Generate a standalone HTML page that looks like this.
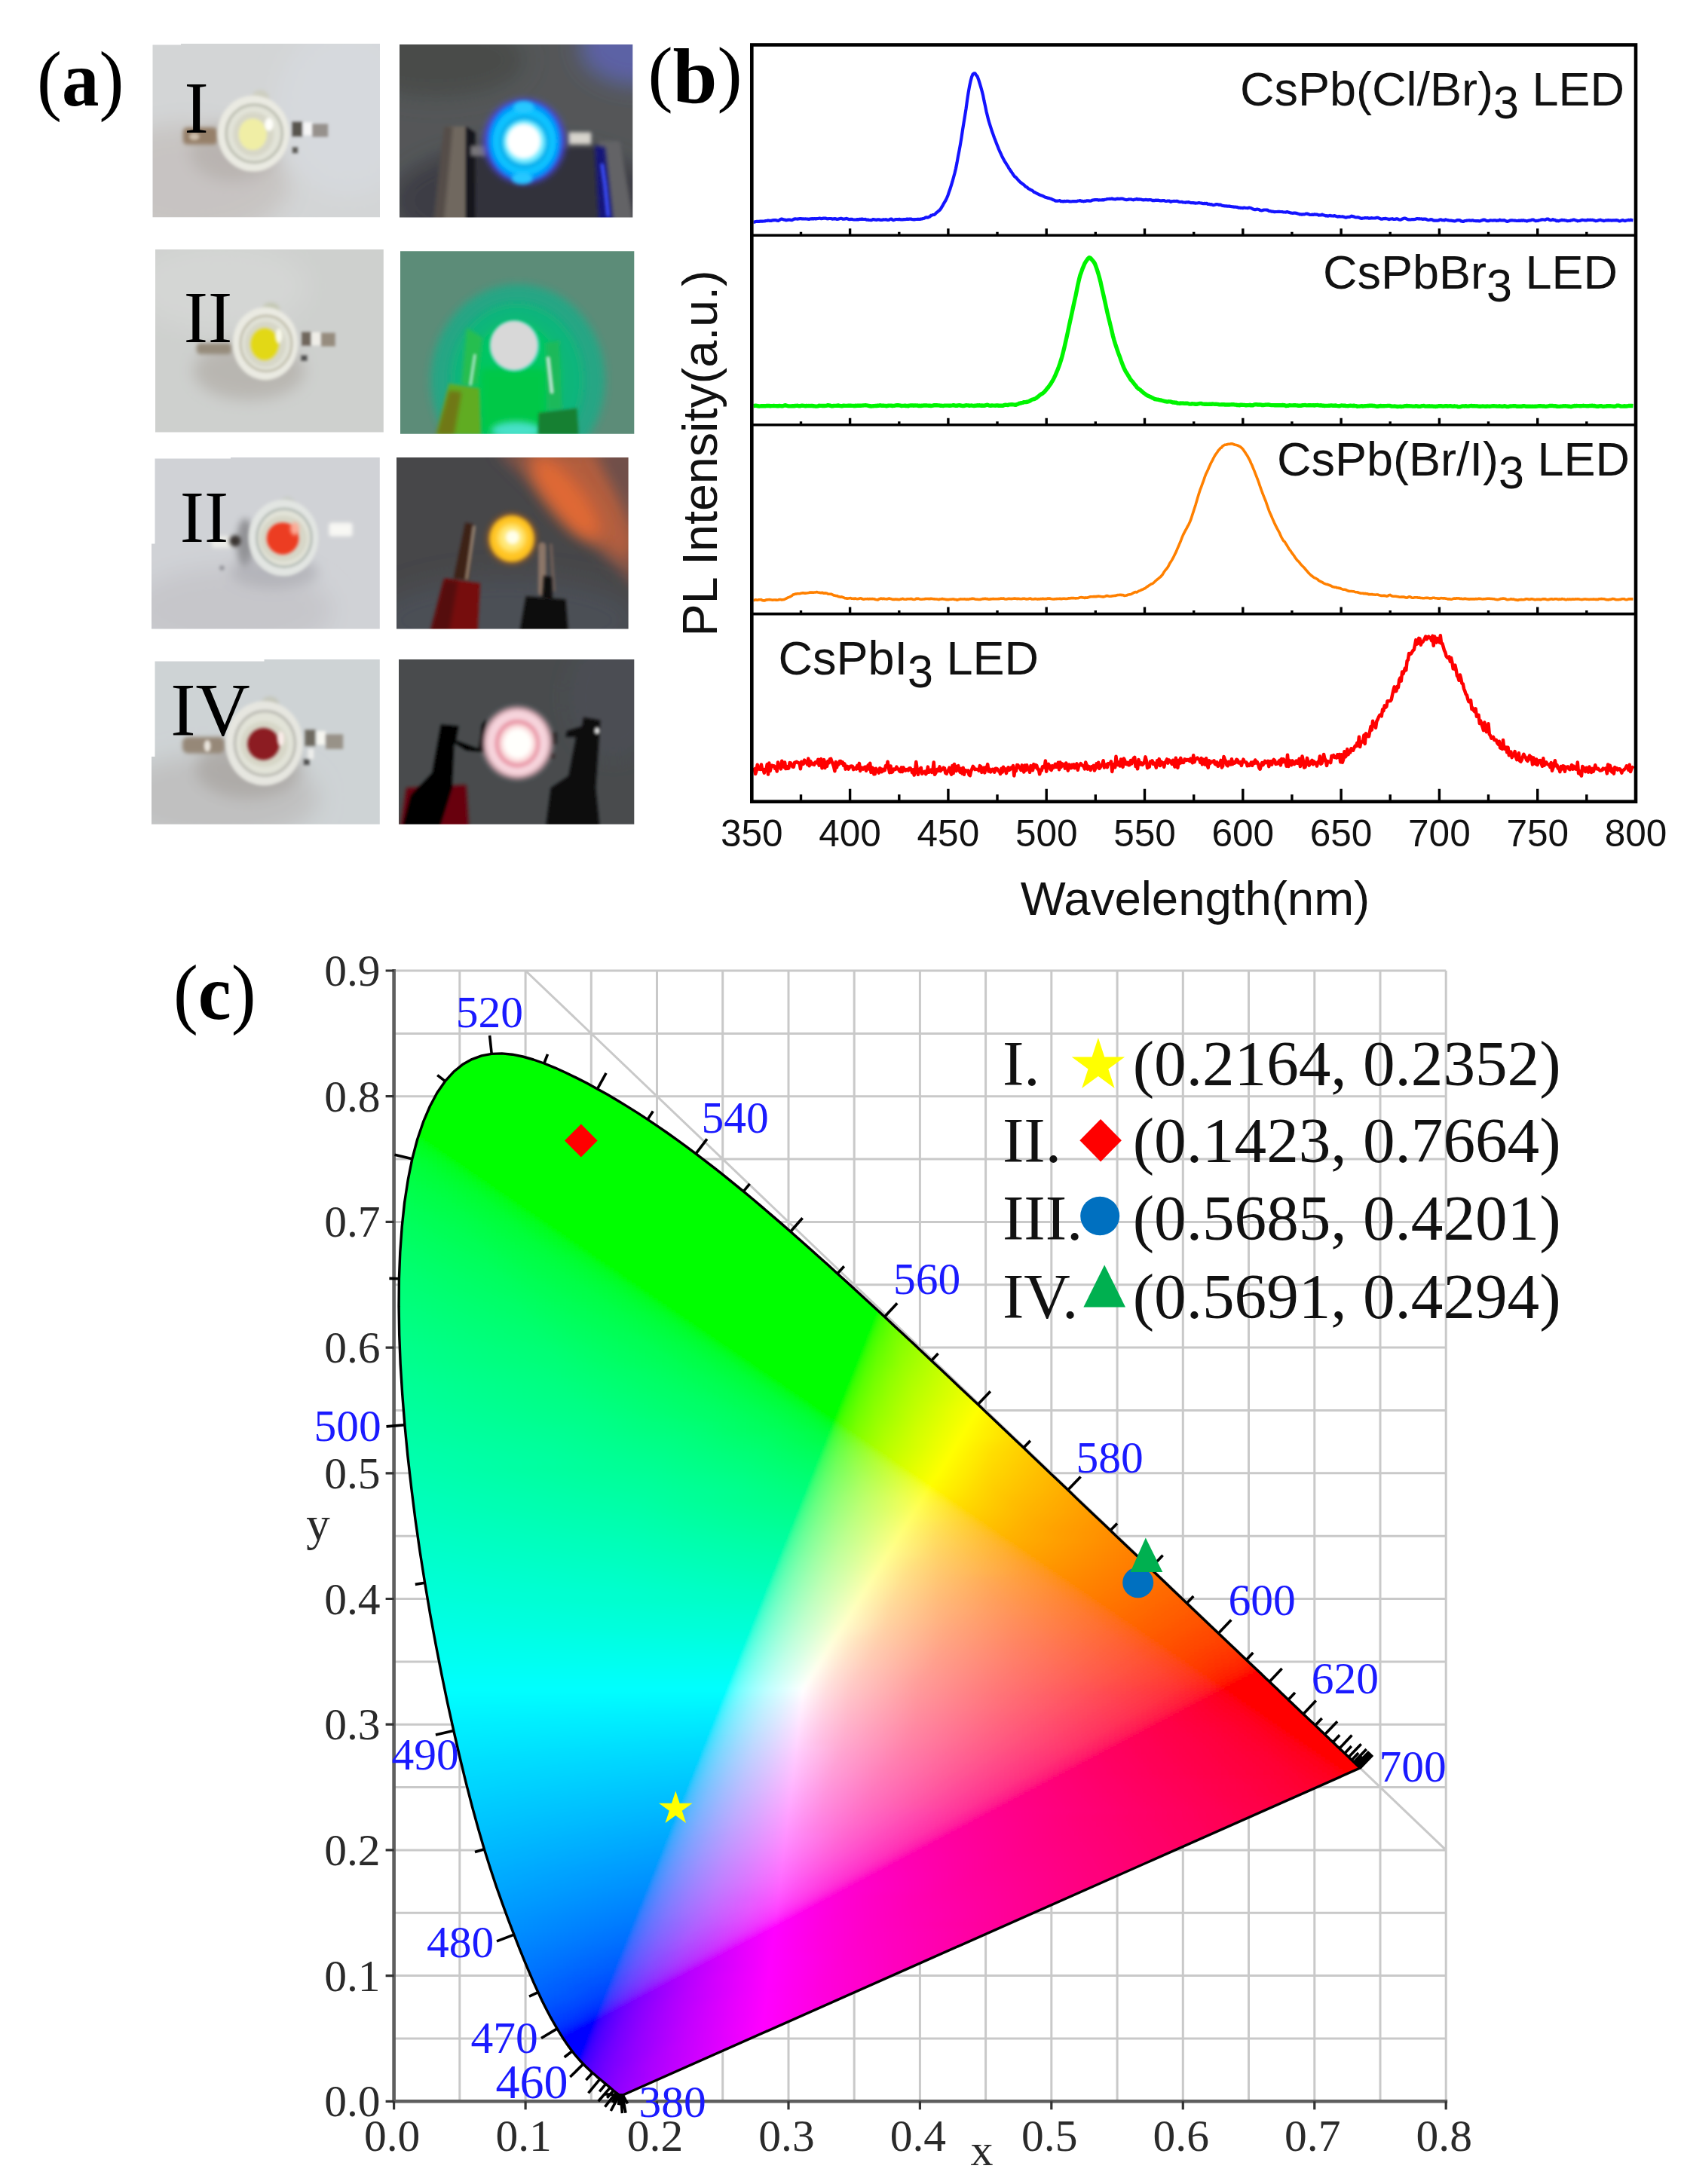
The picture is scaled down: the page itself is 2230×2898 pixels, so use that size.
<!DOCTYPE html>
<html lang="en"><head><meta charset="utf-8"><title>Figure</title>
<style>html,body{margin:0;padding:0;background:#fff}svg{display:block}</style></head>
<body>
<svg width="2230" height="2898" viewBox="0 0 2230 2898">
<rect width="2230" height="2898" fill="#fff"/>
<defs><filter id="B5" filterUnits="userSpaceOnUse" x="-300" y="-300" width="2300" height="1900"><feGaussianBlur stdDeviation="5"/></filter><filter id="B6" filterUnits="userSpaceOnUse" x="-300" y="-300" width="2300" height="1900"><feGaussianBlur stdDeviation="6"/></filter><filter id="B7" filterUnits="userSpaceOnUse" x="-300" y="-300" width="2300" height="1900"><feGaussianBlur stdDeviation="7"/></filter><filter id="B8" filterUnits="userSpaceOnUse" x="-300" y="-300" width="2300" height="1900"><feGaussianBlur stdDeviation="8"/></filter><filter id="B9" filterUnits="userSpaceOnUse" x="-300" y="-300" width="2300" height="1900"><feGaussianBlur stdDeviation="9"/></filter><filter id="B10" filterUnits="userSpaceOnUse" x="-300" y="-300" width="2300" height="1900"><feGaussianBlur stdDeviation="10"/></filter><filter id="B12" filterUnits="userSpaceOnUse" x="-300" y="-300" width="2300" height="1900"><feGaussianBlur stdDeviation="12"/></filter><filter id="B14" filterUnits="userSpaceOnUse" x="-300" y="-300" width="2300" height="1900"><feGaussianBlur stdDeviation="14"/></filter><filter id="B16" filterUnits="userSpaceOnUse" x="-300" y="-300" width="2300" height="1900"><feGaussianBlur stdDeviation="16"/></filter><filter id="B22" filterUnits="userSpaceOnUse" x="-300" y="-300" width="2300" height="1900"><feGaussianBlur stdDeviation="22"/></filter><filter id="B26" filterUnits="userSpaceOnUse" x="-300" y="-300" width="2300" height="1900"><feGaussianBlur stdDeviation="26"/></filter><filter id="B28" filterUnits="userSpaceOnUse" x="-300" y="-300" width="2300" height="1900"><feGaussianBlur stdDeviation="28"/></filter><filter id="B30" filterUnits="userSpaceOnUse" x="-300" y="-300" width="2300" height="1900"><feGaussianBlur stdDeviation="30"/></filter><filter id="B40" filterUnits="userSpaceOnUse" x="-300" y="-300" width="2300" height="1900"><feGaussianBlur stdDeviation="40"/></filter><filter id="B45" filterUnits="userSpaceOnUse" x="-300" y="-300" width="2300" height="1900"><feGaussianBlur stdDeviation="45"/></filter><filter id="B50" filterUnits="userSpaceOnUse" x="-300" y="-300" width="2300" height="1900"><feGaussianBlur stdDeviation="50"/></filter><filter id="B55" filterUnits="userSpaceOnUse" x="-300" y="-300" width="2300" height="1900"><feGaussianBlur stdDeviation="55"/></filter><filter id="B60" filterUnits="userSpaceOnUse" x="-300" y="-300" width="2300" height="1900"><feGaussianBlur stdDeviation="60"/></filter><filter id="B70" filterUnits="userSpaceOnUse" x="-300" y="-300" width="2300" height="1900"><feGaussianBlur stdDeviation="70"/></filter><filter id="B80" filterUnits="userSpaceOnUse" x="-300" y="-300" width="2300" height="1900"><feGaussianBlur stdDeviation="80"/></filter></defs><g id="photos"><clipPath id="pc1"><rect x="202.5" y="58" width="301.5" height="230.3"/></clipPath><g clip-path="url(#pc1)"><g transform="translate(195,50) scale(0.19037)" filter="url(#B7)"><rect x="0" y="0" width="1700" height="1300" fill="#d3d5d6"/>
<ellipse cx="300" cy="1000" rx="700" ry="400" fill="#c6c2c0" filter="url(#B80)" opacity="0.9"/>
<ellipse cx="1400" cy="500" rx="500" ry="600" fill="#d6d9dd" filter="url(#B80)"/>
<ellipse cx="600" cy="800" rx="300" ry="200" fill="#b0aaa6" filter="url(#B50)" opacity="0.6"/>
<rect x="250" y="625" width="240" height="120" fill="#968069" filter="url(#B10)" rx="30"/>
<ellipse cx="330" cy="690" rx="35" ry="25" fill="#cdbeaa" filter="url(#B8)"/>
<ellipse cx="790" cy="420" rx="60" ry="55" fill="#cdcec0" filter="url(#B10)"/>
<ellipse cx="740" cy="885" rx="50" ry="40" fill="#c4c4b6" filter="url(#B10)"/>
<ellipse cx="742" cy="668" rx="250" ry="265" fill="#eaeae2" filter="url(#B8)"/>
<ellipse cx="747" cy="668" rx="195" ry="201.4" fill="#e2e3d8" stroke="#c4c6ba" stroke-width="22.5" filter="url(#B6)"/>
<ellipse cx="742" cy="673" rx="142.1" ry="154" fill="#d7d7c8" filter="url(#B8)"/>
<ellipse cx="737" cy="673" rx="98" ry="110" fill="#f0eea5" filter="url(#B8)"/>
<ellipse cx="850" cy="605" rx="30" ry="45" fill="#fffffa" filter="url(#B8)"/>
<rect x="1010" y="585" width="72" height="105" fill="#58544e" filter="url(#B6)"/>
<rect x="1090" y="590" width="62" height="90" fill="#f6f6f6" filter="url(#B6)"/>
<rect x="1152" y="600" width="110" height="92" fill="#96918c" filter="url(#B6)"/>
<rect x="1012" y="762" width="40" height="44" fill="#5c5a56" filter="url(#B5)"/></g></g>
<clipPath id="pc2"><rect x="530" y="59" width="309.3" height="229.5"/></clipPath><g clip-path="url(#pc2)"><g transform="translate(520,50) scale(0.19631)" filter="url(#B7)"><rect x="0" y="0" width="1700" height="1300" fill="#545759"/>
<ellipse cx="300" cy="150" rx="600" ry="250" fill="#4a4c4a" filter="url(#B80)"/>
<ellipse cx="1650" cy="60" rx="380" ry="260" fill="#5c62a5" filter="url(#B70)"/>
<ellipse cx="900" cy="1100" rx="900" ry="380" fill="#3c3e44" filter="url(#B70)"/>
<polygon points="560,770 1380,740 1400,1300 540,1300" fill="#30323a" filter="url(#B14)"/>
<polygon points="385,600 505,600 505,1300 300,1300" fill="#70675e" filter="url(#B8)"/>
<polygon points="350,600 410,600 345,1300 275,1300" fill="#544e48" filter="url(#B10)"/>
<polygon points="500,600 565,640 560,1300 500,1300" fill="#12121c" filter="url(#B8)"/>
<polygon points="1395,700 1540,700 1640,1300 1480,1300" fill="#646466" filter="url(#B10)"/>
<polygon points="1370,730 1440,740 1500,1300 1400,1300" fill="#121878" filter="url(#B10)"/>
<polyline points="1420,860 1440,1000 1460,1200" fill="none" stroke="#3c50ff" stroke-width="22" stroke-linecap="round" stroke-linejoin="round" filter="url(#B8)"/>
<rect x="1195" y="640" width="150" height="80" fill="#d7d4cd" filter="url(#B10)"/>
<rect x="530" y="730" width="110" height="70" fill="#78767a" filter="url(#B12)"/>
<ellipse cx="895" cy="700" rx="275" ry="285" fill="#4646e1" filter="url(#B22)"/>
<ellipse cx="895" cy="700" rx="245" ry="265" fill="#0096fa" filter="url(#B14)"/>
<ellipse cx="895" cy="700" rx="215" ry="230" fill="#0ac3ff" filter="url(#B10)"/>
<ellipse cx="890" cy="470" rx="70" ry="40" fill="#28c8ff" filter="url(#B10)"/>
<ellipse cx="880" cy="950" rx="70" ry="40" fill="#28c8ff" filter="url(#B10)"/>
<ellipse cx="895" cy="705" rx="170" ry="180" fill="#00aaeb" filter="url(#B10)"/>
<ellipse cx="895" cy="705" rx="145" ry="150" fill="#78ebff" filter="url(#B14)"/>
<ellipse cx="890" cy="700" rx="115" ry="118" fill="#ffffff" filter="url(#B12)"/></g></g>
<clipPath id="pc3"><rect x="206" y="331" width="302.8" height="242.5"/></clipPath><g clip-path="url(#pc3)"><g transform="translate(195,322) scale(0.19335)" filter="url(#B7)"><rect x="0" y="0" width="1700" height="1400" fill="#ced0ce"/>
<ellipse cx="500" cy="300" rx="600" ry="300" fill="#d4d6d4" filter="url(#B80)"/>
<ellipse cx="700" cy="880" rx="380" ry="200" fill="#b0aca6" filter="url(#B50)" opacity="0.7"/>
<rect x="340" y="690" width="240" height="75" fill="#968c7c" filter="url(#B10)" rx="25"/>
<ellipse cx="850" cy="460" rx="60" ry="50" fill="#c4c8b4" filter="url(#B10)"/>
<ellipse cx="815" cy="900" rx="50" ry="40" fill="#bec0ac" filter="url(#B10)"/>
<ellipse cx="812" cy="692" rx="225" ry="250" fill="#eaeae2" filter="url(#B8)"/>
<ellipse cx="817" cy="692" rx="175.5" ry="190" fill="#e2e3d8" stroke="#c8c6b6" stroke-width="20.25" filter="url(#B6)"/>
<ellipse cx="812" cy="697" rx="142.1" ry="156.8" fill="#d7d7c8" filter="url(#B8)"/>
<ellipse cx="807" cy="697" rx="98" ry="112" fill="#e2d816" filter="url(#B8)"/>
<ellipse cx="905" cy="640" rx="22" ry="50" fill="#fafaeb" filter="url(#B8)"/>
<rect x="1060" y="612" width="65" height="96" fill="#70665c" filter="url(#B6)"/>
<rect x="1130" y="615" width="60" height="90" fill="#f0eee8" filter="url(#B6)"/>
<rect x="1195" y="618" width="97" height="94" fill="#968c7e" filter="url(#B6)"/>
<rect x="1056" y="772" width="44" height="40" fill="#505050" filter="url(#B5)"/></g></g>
<clipPath id="pc4"><rect x="531" y="333.3" width="310.3" height="242.4"/></clipPath><g clip-path="url(#pc4)"><g transform="translate(520,322) scale(0.19631)" filter="url(#B7)"><rect x="0" y="0" width="1700" height="1400" fill="#5c8c78"/>
<ellipse cx="850" cy="930" rx="590" ry="650" fill="#26a684" filter="url(#B26)"/>
<ellipse cx="845" cy="930" rx="450" ry="520" fill="#0eb67a" filter="url(#B26)"/>
<ellipse cx="835" cy="900" rx="300" ry="360" fill="#00c664" filter="url(#B30)"/>
<polygon points="600,850 1050,850 1040,1300 590,1300" fill="#00c846" filter="url(#B28)"/>
<ellipse cx="840" cy="1270" rx="170" ry="60" fill="#46e1c8" filter="url(#B22)"/>
<polygon points="505,575 610,640 575,960 470,960" fill="#28be50" filter="url(#B10)"/>
<polygon points="1040,680 1130,660 1150,1130 1050,1130" fill="#1eb95a" filter="url(#B10)"/>
<polyline points="560,760 530,960" fill="none" stroke="#bef0dc" stroke-width="14" stroke-linecap="round" stroke-linejoin="round" filter="url(#B6)"/>
<polyline points="1055,780 1080,1010" fill="none" stroke="#cdebe1" stroke-width="20" stroke-linecap="round" stroke-linejoin="round" filter="url(#B6)"/>
<polygon points="385,952 590,985 600,1300 300,1300" fill="#60ac22" filter="url(#B8)"/>
<polygon points="385,1000 470,1010 420,1300 300,1300" fill="#707818" filter="url(#B14)"/>
<polygon points="990,1150 1250,1118 1262,1300 985,1300" fill="#168030" filter="url(#B8)"/>
<ellipse cx="828" cy="698" rx="168" ry="172" fill="#3cd7be" filter="url(#B8)"/>
<ellipse cx="825" cy="695" rx="158" ry="164" fill="#d8d8d8" filter="url(#B6)"/></g></g>
<clipPath id="pc5"><rect x="201" y="607" width="302.8" height="227.5"/></clipPath><g clip-path="url(#pc5)"><g transform="translate(190,597) scale(0.19335)" filter="url(#B7)"><rect x="0" y="0" width="1700" height="1300" fill="#d0d2d6"/>
<ellipse cx="600" cy="1100" rx="700" ry="300" fill="#c6c6ca" filter="url(#B80)"/>
<ellipse cx="700" cy="640" rx="60" ry="170" fill="#78787c" filter="url(#B22)" opacity="0.7"/>
<ellipse cx="900" cy="840" rx="300" ry="110" fill="#acacb2" filter="url(#B40)" opacity="0.7"/>
<rect x="470" y="590" width="140" height="82" fill="#ecece8" filter="url(#B10)" rx="20"/>
<ellipse cx="630" cy="625" rx="40" ry="40" fill="#3a3632" filter="url(#B10)"/>
<rect x="1275" y="500" width="160" height="92" fill="#f8f8f4" filter="url(#B10)" rx="15"/>
<ellipse cx="990" cy="365" rx="50" ry="45" fill="#c8ccc6" filter="url(#B10)"/>
<ellipse cx="980" cy="820" rx="45" ry="40" fill="#bec2be" filter="url(#B10)"/>
<ellipse cx="962" cy="603" rx="240" ry="262" fill="#e2e5e2" filter="url(#B8)"/>
<ellipse cx="967" cy="603" rx="187.2" ry="199.12" fill="#e2e3d8" stroke="#bec4be" stroke-width="21.6" filter="url(#B6)"/>
<ellipse cx="962" cy="608" rx="162.4" ry="156.8" fill="#d7d7c8" filter="url(#B8)"/>
<ellipse cx="957" cy="608" rx="112" ry="112" fill="#ec3e20" filter="url(#B8)"/>
<ellipse cx="1040" cy="540" rx="30" ry="45" fill="#fcaa96" filter="url(#B10)"/>
<ellipse cx="540" cy="810" rx="18" ry="18" fill="#96969c" filter="url(#B8)"/></g></g>
<clipPath id="pc6"><rect x="526" y="607" width="307.6" height="227.6"/></clipPath><g clip-path="url(#pc6)"><g transform="translate(515,597) scale(0.19631)" filter="url(#B7)"><rect x="0" y="0" width="1700" height="1300" fill="#464649"/>
<ellipse cx="800" cy="1150" rx="900" ry="300" fill="#4c5054" filter="url(#B80)"/>
<polygon points="720,0 1700,0 1700,950" fill="#845446" filter="url(#B45)"/>
<polygon points="900,0 1450,0 1660,600 1620,760 1250,520" fill="#be603c" filter="url(#B50)" opacity="0.8"/>
<ellipse cx="1200" cy="330" rx="340" ry="120" fill="#ec6c32" filter="url(#B55)" opacity="0.8" transform="rotate(52 1200 330)"/>
<polygon points="1380,0 1700,0 1700,520" fill="#70504a" filter="url(#B50)"/>
<polygon points="520,490 575,500 545,880 440,870" fill="#3e2216" filter="url(#B8)"/>
<polyline points="580,520 530,870" fill="none" stroke="#a08c78" stroke-width="18" stroke-linecap="round" stroke-linejoin="round" filter="url(#B8)"/>
<polygon points="380,868 622,900 602,1300 270,1300" fill="#760c0c" filter="url(#B9)"/>
<polygon points="380,880 470,890 400,1300 270,1300" fill="#540808" filter="url(#B14)"/>
<polyline points="1040,650 1040,960" fill="none" stroke="#8c7668" stroke-width="50" stroke-linecap="round" stroke-linejoin="round" filter="url(#B9)"/>
<polyline points="1100,640 1120,950" fill="none" stroke="#78645a" stroke-width="16" stroke-linecap="round" stroke-linejoin="round" filter="url(#B8)"/>
<polygon points="1050,850 1105,860 1110,1010 1040,1000" fill="#0e0a0a" filter="url(#B8)"/>
<polygon points="930,988 1200,1010 1222,1300 875,1300" fill="#100a0a" filter="url(#B9)"/>
<ellipse cx="835" cy="600" rx="165" ry="170" fill="#aa641e" filter="url(#B22)" opacity="0.8"/>
<ellipse cx="835" cy="600" rx="150" ry="155" fill="#ffc422" filter="url(#B12)"/>
<ellipse cx="835" cy="595" rx="95" ry="95" fill="#ffe878" filter="url(#B16)"/>
<ellipse cx="840" cy="590" rx="48" ry="48" fill="#ffffeb" filter="url(#B12)"/></g></g>
<clipPath id="pc7"><rect x="201" y="875" width="302.8" height="218.7"/></clipPath><g clip-path="url(#pc7)"><g transform="translate(190,866) scale(0.19335)" filter="url(#B7)"><rect x="0" y="0" width="1700" height="1300" fill="#ced3d5"/>
<ellipse cx="500" cy="1000" rx="700" ry="300" fill="#c0c0c0" filter="url(#B80)"/>
<ellipse cx="720" cy="800" rx="360" ry="200" fill="#a8a4a0" filter="url(#B50)" opacity="0.75"/>
<rect x="268" y="578" width="292" height="114" fill="#968878" filter="url(#B12)" rx="40"/>
<ellipse cx="440" cy="640" rx="22" ry="40" fill="#ebe6de" filter="url(#B8)"/>
<ellipse cx="870" cy="350" rx="60" ry="50" fill="#c4c6ba" filter="url(#B10)"/>
<ellipse cx="800" cy="850" rx="45" ry="38" fill="#babcb0" filter="url(#B10)"/>
<ellipse cx="830" cy="622" rx="265" ry="290" fill="#e6e6e0" filter="url(#B8)"/>
<ellipse cx="835" cy="622" rx="206.7" ry="220.4" fill="#e2e3d8" stroke="#c4c4bc" stroke-width="23.85" filter="url(#B6)"/>
<ellipse cx="830" cy="627" rx="162.4" ry="156.8" fill="#d7d7c8" filter="url(#B8)"/>
<ellipse cx="825" cy="627" rx="112" ry="112" fill="#8c1a20" filter="url(#B8)"/>
<ellipse cx="945" cy="590" rx="22" ry="50" fill="#faebe8" filter="url(#B8)"/>
<rect x="1108" y="528" width="74" height="114" fill="#6e6a60" filter="url(#B7)"/>
<rect x="1190" y="538" width="62" height="94" fill="#f6f6f0" filter="url(#B7)"/>
<rect x="1252" y="560" width="120" height="102" fill="#989288" filter="url(#B8)"/>
<rect x="1100" y="730" width="42" height="42" fill="#505050" filter="url(#B5)"/>
<rect x="1130" y="660" width="40" height="70" fill="#eeeeec" filter="url(#B7)"/></g></g>
<clipPath id="pc8"><rect x="529" y="875" width="312.3" height="218.7"/></clipPath><g clip-path="url(#pc8)"><g transform="translate(515,866) scale(0.19928)" filter="url(#B7)"><rect x="0" y="0" width="1700" height="1300" fill="#484c4e"/>
<ellipse cx="1500" cy="300" rx="300" ry="400" fill="#4c4e52" filter="url(#B60)"/>
<polygon points="120,900 520,880 545,1300 60,1300" fill="#680208" filter="url(#B12)"/>
<polygon points="350,478 470,488 452,585 600,640 622,480 652,440 640,662 520,652 440,602 425,900 300,1300 60,1300 150,950 292,800" fill="#060506" filter="url(#B9)"/>
<polygon points="1300,430 1412,450 1382,900 1422,1300 1030,1300 1082,900 1200,820 1250,562 1180,562 1190,520 1290,490" fill="#080708" filter="url(#B9)"/>
<ellipse cx="1390" cy="520" rx="16" ry="22" fill="#ebebeb" filter="url(#B7)"/>
<rect x="1090" y="530" width="35" height="80" fill="#282424" filter="url(#B8)"/>
<rect x="1075" y="670" width="35" height="35" fill="#322c2c" filter="url(#B8)"/>
<ellipse cx="860" cy="600" rx="232" ry="240" fill="#d6aab4" filter="url(#B16)"/>
<ellipse cx="860" cy="600" rx="205" ry="215" fill="#f6d4dc" filter="url(#B10)"/>
<ellipse cx="860" cy="605" rx="150" ry="160" fill="#e896a6" filter="url(#B12)"/>
<ellipse cx="862" cy="605" rx="122" ry="130" fill="#fce1e1" filter="url(#B14)"/>
<ellipse cx="862" cy="605" rx="92" ry="98" fill="#fffffc" filter="url(#B12)"/></g></g></g><path d="M200,606h106v2.6h-100.5v113h-5.5z M200,874h150.5v3.6h-145v126.4h-5.5z M202,57.5h38v2h-38z" fill="#fff"/><g font-family="'Liberation Serif','Times New Roman',serif" fill="#000" text-anchor="middle"><text x="260.5" y="175.6" font-size="96.5">I</text><text x="276" y="453.5" font-size="96.5">II</text><text x="271" y="718.8" font-size="96.5">II</text><text x="279" y="975" font-size="100">IV</text></g>
<g id="spectra">
<path d="M999.5,294.6 1001.0,294.6 1002.5,294.0 1004.0,293.9 1005.5,293.8 1007.0,293.9 1008.5,293.7 1010.0,293.6 1011.5,293.7 1013.0,293.5 1014.5,293.4 1016.0,293.0 1017.5,292.9 1019.0,292.5 1020.5,292.8 1022.0,292.8 1023.5,292.8 1025.0,292.3 1026.5,292.1 1028.0,292.1 1029.5,292.2 1031.0,292.6 1032.5,292.8 1034.0,292.0 1035.5,291.0 1037.0,290.5 1038.5,291.1 1040.0,291.6 1041.5,291.7 1043.0,292.3 1044.5,291.9 1046.0,291.6 1047.5,291.5 1049.0,292.0 1050.5,292.2 1052.0,291.4 1053.5,290.6 1055.0,290.4 1056.5,290.5 1058.0,290.6 1059.5,290.3 1061.0,290.2 1062.5,290.2 1064.0,290.3 1065.5,290.3 1067.0,290.5 1068.5,290.4 1070.0,290.5 1071.5,290.7 1073.0,290.9 1074.5,290.4 1076.0,290.3 1077.5,290.1 1079.0,290.5 1080.5,290.0 1082.0,290.4 1083.5,290.1 1085.0,290.0 1086.5,289.7 1088.0,289.7 1089.5,290.1 1091.0,289.9 1092.5,289.6 1094.0,289.6 1095.5,289.7 1097.0,290.1 1098.5,290.3 1100.0,290.0 1101.5,290.0 1103.0,290.2 1104.5,290.6 1106.0,290.3 1107.5,290.2 1109.0,290.4 1110.5,290.9 1112.0,290.6 1113.5,290.2 1115.0,289.9 1116.5,289.9 1118.0,290.6 1119.5,290.7 1121.0,290.4 1122.5,289.9 1124.0,290.2 1125.5,290.9 1127.0,291.1 1128.5,290.9 1130.0,290.8 1131.5,291.2 1133.0,291.5 1134.5,291.5 1136.0,291.4 1137.5,291.1 1139.0,291.4 1140.5,290.8 1142.0,290.9 1143.5,290.6 1145.0,290.9 1146.5,291.0 1148.0,290.9 1149.5,291.6 1151.0,291.5 1152.5,291.9 1154.0,292.0 1155.5,292.2 1157.0,291.7 1158.5,291.0 1160.0,291.4 1161.5,291.6 1163.0,291.8 1164.5,291.4 1166.0,291.4 1167.5,291.8 1169.0,291.8 1170.5,291.8 1172.0,291.4 1173.5,291.5 1175.0,291.2 1176.5,291.6 1178.0,291.9 1179.5,291.7 1181.0,290.8 1182.5,290.5 1184.0,291.7 1185.5,292.1 1187.0,291.5 1188.5,291.0 1190.0,291.0 1191.5,291.2 1193.0,290.9 1194.5,291.3 1196.0,291.3 1197.5,291.4 1199.0,291.2 1200.5,291.1 1202.0,290.9 1203.5,290.6 1205.0,290.8 1206.5,290.6 1208.0,290.5 1209.5,290.9 1211.0,291.2 1212.5,291.4 1214.0,291.1 1215.5,291.0 1217.0,290.9 1218.5,290.8 1220.0,291.0 1221.5,290.6 1223.0,290.5 1224.5,290.0 1226.0,289.7 1227.5,288.8 1229.0,288.4 1230.5,288.7 1232.0,288.1 1233.5,287.6 1235.0,285.9 1236.5,285.5 1238.0,285.0 1239.5,284.8 1241.0,283.6 1242.5,282.1 1244.0,280.9 1245.5,279.6 1247.0,278.3 1248.5,276.2 1250.0,273.7 1251.5,270.9 1253.0,268.4 1254.5,265.9 1256.0,262.8 1257.5,259.2 1259.0,254.7 1260.5,250.5 1262.0,245.6 1263.5,240.7 1265.0,235.3 1266.5,229.8 1268.0,223.5 1269.5,216.0 1271.0,207.5 1272.5,199.9 1274.0,191.5 1275.5,182.5 1277.0,172.4 1278.5,163.1 1280.0,153.8 1281.5,144.6 1283.0,133.5 1284.5,123.6 1286.0,115.0 1287.5,107.9 1289.0,102.3 1290.5,98.4 1292.0,97.4 1293.5,97.3 1295.0,99.6 1296.5,101.3 1298.0,105.2 1299.5,110.0 1301.0,114.9 1302.5,120.2 1304.0,126.2 1305.5,133.8 1307.0,140.6 1308.5,148.0 1310.0,154.1 1311.5,160.2 1313.0,164.8 1314.5,169.7 1316.0,174.3 1317.5,178.4 1319.0,182.8 1320.5,186.6 1322.0,190.5 1323.5,194.2 1325.0,198.0 1326.5,201.5 1328.0,204.7 1329.5,208.0 1331.0,210.8 1332.5,213.6 1334.0,215.9 1335.5,218.4 1337.0,220.6 1338.5,223.4 1340.0,225.5 1341.5,227.8 1343.0,229.9 1344.5,232.3 1346.0,234.2 1347.5,235.3 1349.0,236.9 1350.5,238.6 1352.0,240.2 1353.5,241.7 1355.0,242.8 1356.5,244.1 1358.0,245.1 1359.5,246.4 1361.0,247.9 1362.5,248.5 1364.0,250.1 1365.5,250.8 1367.0,251.8 1368.5,252.4 1370.0,253.3 1371.5,254.7 1373.0,255.3 1374.5,256.2 1376.0,257.0 1377.5,257.6 1379.0,258.5 1380.5,259.0 1382.0,259.6 1383.5,260.1 1385.0,260.9 1386.5,261.7 1388.0,262.0 1389.5,262.6 1391.0,262.8 1392.5,263.3 1394.0,263.7 1395.5,264.4 1397.0,265.2 1398.5,265.5 1400.0,266.6 1401.5,266.6 1403.0,266.6 1404.5,266.5 1406.0,266.1 1407.5,267.2 1409.0,267.0 1410.5,267.5 1412.0,266.9 1413.5,267.2 1415.0,266.9 1416.5,266.8 1418.0,267.1 1419.5,267.5 1421.0,267.3 1422.5,267.2 1424.0,267.0 1425.5,267.2 1427.0,267.1 1428.5,267.1 1430.0,266.5 1431.5,266.4 1433.0,266.2 1434.5,266.8 1436.0,266.9 1437.5,267.3 1439.0,266.9 1440.5,266.8 1442.0,266.3 1443.5,266.3 1445.0,266.6 1446.5,266.7 1448.0,266.2 1449.5,265.5 1451.0,265.3 1452.5,265.2 1454.0,265.2 1455.5,265.1 1457.0,265.6 1458.5,265.4 1460.0,265.5 1461.5,265.3 1463.0,265.1 1464.5,265.3 1466.0,264.8 1467.5,264.5 1469.0,264.0 1470.5,264.0 1472.0,263.8 1473.5,263.9 1475.0,263.4 1476.5,264.2 1478.0,264.2 1479.5,264.5 1481.0,263.8 1482.5,263.7 1484.0,263.9 1485.5,263.8 1487.0,263.7 1488.5,263.7 1490.0,263.9 1491.5,264.5 1493.0,264.9 1494.5,265.1 1496.0,265.0 1497.5,264.3 1499.0,264.5 1500.5,264.4 1502.0,265.0 1503.5,265.3 1505.0,264.7 1506.5,264.7 1508.0,263.9 1509.5,264.8 1511.0,264.4 1512.5,264.6 1514.0,264.6 1515.5,265.2 1517.0,265.4 1518.5,265.2 1520.0,264.9 1521.5,265.2 1523.0,265.4 1524.5,265.2 1526.0,265.2 1527.5,265.4 1529.0,266.2 1530.5,265.9 1532.0,266.1 1533.5,265.6 1535.0,265.9 1536.5,265.6 1538.0,266.2 1539.5,266.4 1541.0,266.4 1542.5,266.2 1544.0,266.0 1545.5,266.7 1547.0,267.0 1548.5,266.7 1550.0,266.6 1551.5,266.7 1553.0,267.8 1554.5,267.2 1556.0,267.0 1557.5,266.8 1559.0,267.0 1560.5,266.9 1562.0,266.8 1563.5,267.6 1565.0,267.9 1566.5,268.0 1568.0,267.8 1569.5,268.5 1571.0,268.5 1572.5,268.8 1574.0,268.3 1575.5,268.3 1577.0,268.1 1578.5,268.8 1580.0,269.2 1581.5,269.1 1583.0,269.1 1584.5,269.3 1586.0,269.6 1587.5,269.5 1589.0,269.3 1590.5,269.0 1592.0,269.3 1593.5,269.5 1595.0,269.9 1596.5,270.2 1598.0,269.9 1599.5,270.1 1601.0,269.9 1602.5,271.0 1604.0,270.9 1605.5,271.3 1607.0,271.2 1608.5,271.9 1610.0,272.2 1611.5,271.8 1613.0,271.2 1614.5,271.2 1616.0,271.3 1617.5,272.0 1619.0,271.6 1620.5,272.4 1622.0,272.9 1623.5,273.2 1625.0,273.3 1626.5,273.3 1628.0,273.6 1629.5,273.5 1631.0,273.6 1632.5,274.0 1634.0,274.2 1635.5,274.3 1637.0,274.6 1638.5,274.5 1640.0,274.8 1641.5,274.8 1643.0,275.6 1644.5,275.5 1646.0,276.0 1647.5,275.8 1649.0,276.1 1650.5,275.5 1652.0,275.8 1653.5,276.0 1655.0,276.1 1656.5,275.7 1658.0,275.7 1659.5,276.0 1661.0,276.8 1662.5,277.5 1664.0,278.1 1665.5,278.1 1667.0,277.7 1668.5,277.7 1670.0,278.0 1671.5,278.9 1673.0,279.3 1674.5,279.1 1676.0,278.7 1677.5,278.5 1679.0,278.5 1680.5,278.6 1682.0,278.9 1683.5,279.9 1685.0,280.1 1686.5,280.6 1688.0,280.7 1689.5,280.9 1691.0,281.2 1692.5,281.0 1694.0,281.0 1695.5,280.8 1697.0,280.8 1698.5,281.0 1700.0,281.0 1701.5,281.2 1703.0,281.5 1704.5,281.5 1706.0,281.6 1707.5,281.1 1709.0,281.6 1710.5,281.9 1712.0,282.5 1713.5,282.7 1715.0,282.8 1716.5,282.7 1718.0,282.7 1719.5,282.8 1721.0,283.4 1722.5,283.7 1724.0,284.4 1725.5,284.3 1727.0,284.6 1728.5,284.3 1730.0,284.4 1731.5,284.0 1733.0,283.5 1734.5,283.7 1736.0,284.3 1737.5,284.9 1739.0,285.0 1740.5,284.7 1742.0,284.9 1743.5,284.4 1745.0,284.6 1746.5,284.6 1748.0,284.9 1749.5,285.6 1751.0,285.3 1752.5,285.5 1754.0,284.6 1755.5,285.5 1757.0,285.6 1758.5,286.3 1760.0,286.2 1761.5,286.7 1763.0,286.2 1764.5,285.9 1766.0,286.4 1767.5,286.5 1769.0,286.6 1770.5,286.1 1772.0,286.8 1773.5,287.2 1775.0,287.6 1776.5,287.1 1778.0,287.4 1779.5,287.5 1781.0,287.4 1782.5,287.7 1784.0,288.2 1785.5,288.6 1787.0,288.2 1788.5,288.0 1790.0,287.9 1791.5,287.4 1793.0,286.7 1794.5,287.1 1796.0,287.5 1797.5,288.2 1799.0,288.5 1800.5,288.4 1802.0,288.4 1803.5,289.0 1805.0,289.7 1806.5,289.9 1808.0,289.5 1809.5,289.5 1811.0,289.0 1812.5,289.3 1814.0,289.0 1815.5,289.7 1817.0,289.7 1818.5,289.4 1820.0,289.2 1821.5,289.5 1823.0,289.5 1824.5,289.4 1826.0,288.9 1827.5,288.9 1829.0,289.3 1830.5,290.0 1832.0,290.7 1833.5,290.6 1835.0,290.2 1836.5,290.1 1838.0,289.9 1839.5,290.2 1841.0,290.5 1842.5,291.1 1844.0,290.7 1845.5,290.5 1847.0,290.2 1848.5,290.9 1850.0,291.0 1851.5,290.6 1853.0,290.2 1854.5,290.7 1856.0,291.5 1857.5,291.7 1859.0,291.2 1860.5,290.5 1862.0,289.8 1863.5,289.5 1865.0,290.0 1866.5,290.7 1868.0,291.3 1869.5,291.3 1871.0,291.5 1872.5,291.2 1874.0,291.2 1875.5,291.2 1877.0,291.0 1878.5,290.5 1880.0,290.0 1881.5,290.3 1883.0,290.2 1884.5,290.5 1886.0,290.4 1887.5,290.9 1889.0,290.6 1890.5,290.6 1892.0,290.9 1893.5,291.7 1895.0,292.0 1896.5,291.7 1898.0,291.1 1899.5,291.3 1901.0,292.3 1902.5,292.7 1904.0,292.6 1905.5,292.6 1907.0,292.6 1908.5,292.4 1910.0,291.5 1911.5,291.4 1913.0,292.2 1914.5,292.2 1916.0,292.4 1917.5,291.4 1919.0,291.8 1920.5,292.1 1922.0,292.5 1923.5,292.7 1925.0,292.7 1926.5,292.9 1928.0,293.2 1929.5,293.3 1931.0,293.1 1932.5,292.4 1934.0,292.0 1935.5,292.2 1937.0,292.4 1938.5,293.4 1940.0,293.8 1941.5,293.9 1943.0,293.0 1944.5,293.0 1946.0,292.6 1947.5,292.5 1949.0,292.4 1950.5,292.7 1952.0,292.7 1953.5,292.3 1955.0,292.8 1956.5,293.0 1958.0,293.2 1959.5,293.2 1961.0,293.2 1962.5,293.4 1964.0,293.1 1965.5,292.6 1967.0,291.8 1968.5,291.6 1970.0,291.8 1971.5,292.7 1973.0,293.2 1974.5,293.2 1976.0,292.6 1977.5,292.4 1979.0,292.5 1980.5,292.6 1982.0,292.3 1983.5,292.3 1985.0,292.8 1986.5,292.6 1988.0,292.6 1989.5,291.7 1991.0,292.4 1992.5,292.3 1994.0,292.3 1995.5,292.2 1997.0,292.9 1998.5,293.6 2000.0,293.9 2001.5,293.3 2003.0,292.6 2004.5,292.4 2006.0,292.3 2007.5,292.5 2009.0,292.6 2010.5,292.7 2012.0,293.0 2013.5,293.0 2015.0,292.6 2016.5,293.0 2018.0,292.4 2019.5,292.8 2021.0,292.3 2022.5,292.9 2024.0,292.8 2025.5,293.5 2027.0,292.9 2028.5,292.6 2030.0,292.4 2031.5,291.9 2033.0,291.7 2034.5,291.7 2036.0,292.6 2037.5,293.2 2039.0,292.8 2040.5,292.8 2042.0,292.3 2043.5,292.0 2045.0,291.3 2046.5,291.3 2048.0,291.5 2049.5,291.8 2051.0,291.0 2052.5,290.5 2054.0,290.6 2055.5,291.7 2057.0,292.1 2058.5,292.0 2060.0,291.2 2061.5,292.0 2063.0,291.9 2064.5,293.1 2066.0,292.9 2067.5,293.3 2069.0,292.7 2070.5,292.3 2072.0,291.9 2073.5,292.1 2075.0,292.1 2076.5,292.5 2078.0,292.7 2079.5,293.2 2081.0,293.0 2082.5,293.0 2084.0,292.3 2085.5,292.1 2087.0,291.7 2088.5,291.6 2090.0,292.2 2091.5,292.6 2093.0,293.3 2094.5,293.0 2096.0,292.8 2097.5,292.3 2099.0,291.9 2100.5,292.0 2102.0,292.3 2103.5,292.3 2105.0,292.3 2106.5,291.7 2108.0,292.0 2109.5,291.7 2111.0,292.0 2112.5,291.8 2114.0,292.2 2115.5,292.6 2117.0,293.2 2118.5,293.0 2120.0,292.5 2121.5,292.0 2123.0,291.7 2124.5,292.2 2126.0,292.6 2127.5,293.1 2129.0,292.8 2130.5,292.4 2132.0,292.3 2133.5,292.1 2135.0,292.3 2136.5,292.3 2138.0,292.6 2139.5,292.4 2141.0,292.4 2142.5,292.3 2144.0,292.2 2145.5,292.4 2147.0,292.8 2148.5,293.5 2150.0,293.0 2151.5,292.4 2153.0,292.2 2154.5,292.8 2156.0,293.1 2157.5,292.5 2159.0,292.2 2160.5,291.9 2162.0,292.3 2163.5,291.7 2165.0,292.1 2166.5,292.3" fill="none" stroke="#1414ff" stroke-width="4.2" stroke-linejoin="round"/>
<path d="M999.5,538.6 1001.0,538.5 1002.5,538.1 1004.0,538.5 1005.5,538.7 1007.0,539.1 1008.5,538.9 1010.0,538.8 1011.5,538.7 1013.0,538.7 1014.5,538.6 1016.0,538.7 1017.5,538.4 1019.0,538.5 1020.5,538.5 1022.0,538.8 1023.5,538.6 1025.0,538.6 1026.5,538.4 1028.0,538.6 1029.5,538.6 1031.0,538.8 1032.5,538.7 1034.0,538.5 1035.5,538.6 1037.0,538.9 1038.5,538.8 1040.0,538.3 1041.5,537.7 1043.0,538.1 1044.5,538.5 1046.0,538.9 1047.5,538.9 1049.0,538.9 1050.5,538.8 1052.0,538.6 1053.5,538.7 1055.0,538.5 1056.5,538.4 1058.0,538.3 1059.5,538.8 1061.0,538.7 1062.5,538.5 1064.0,538.1 1065.5,538.4 1067.0,538.5 1068.5,538.9 1070.0,538.4 1071.5,538.6 1073.0,538.5 1074.5,538.6 1076.0,538.4 1077.5,538.5 1079.0,538.7 1080.5,538.9 1082.0,539.1 1083.5,539.1 1085.0,538.9 1086.5,538.3 1088.0,538.4 1089.5,538.4 1091.0,538.5 1092.5,538.4 1094.0,538.5 1095.5,538.4 1097.0,538.1 1098.5,537.6 1100.0,538.0 1101.5,538.2 1103.0,538.9 1104.5,538.7 1106.0,538.5 1107.5,538.4 1109.0,538.4 1110.5,538.3 1112.0,538.0 1113.5,538.3 1115.0,538.6 1116.5,538.8 1118.0,538.5 1119.5,538.3 1121.0,538.4 1122.5,538.4 1124.0,538.4 1125.5,538.2 1127.0,538.1 1128.5,538.2 1130.0,538.4 1131.5,538.4 1133.0,538.7 1134.5,538.3 1136.0,538.5 1137.5,538.1 1139.0,538.2 1140.5,538.2 1142.0,538.2 1143.5,538.1 1145.0,538.0 1146.5,537.9 1148.0,537.8 1149.5,537.9 1151.0,538.1 1152.5,538.5 1154.0,538.7 1155.5,539.0 1157.0,538.9 1158.5,538.7 1160.0,538.6 1161.5,538.4 1163.0,538.6 1164.5,538.1 1166.0,538.3 1167.5,537.8 1169.0,538.2 1170.5,538.1 1172.0,538.2 1173.5,538.4 1175.0,538.5 1176.5,538.7 1178.0,538.3 1179.5,538.1 1181.0,538.1 1182.5,538.3 1184.0,538.5 1185.5,538.4 1187.0,538.2 1188.5,537.9 1190.0,537.8 1191.5,537.8 1193.0,537.9 1194.5,538.2 1196.0,538.6 1197.5,538.4 1199.0,538.4 1200.5,538.1 1202.0,538.6 1203.5,538.5 1205.0,538.7 1206.5,538.1 1208.0,538.0 1209.5,538.0 1211.0,538.0 1212.5,538.2 1214.0,537.9 1215.5,538.1 1217.0,537.9 1218.5,538.5 1220.0,538.3 1221.5,538.6 1223.0,538.1 1224.5,538.2 1226.0,537.9 1227.5,538.0 1229.0,538.0 1230.5,538.1 1232.0,538.2 1233.5,538.3 1235.0,538.5 1236.5,538.4 1238.0,538.0 1239.5,537.8 1241.0,537.8 1242.5,537.6 1244.0,537.9 1245.5,537.9 1247.0,538.2 1248.5,538.3 1250.0,538.4 1251.5,538.5 1253.0,538.1 1254.5,538.1 1256.0,538.1 1257.5,538.1 1259.0,538.2 1260.5,538.3 1262.0,538.1 1263.5,537.9 1265.0,537.6 1266.5,538.1 1268.0,538.3 1269.5,538.3 1271.0,537.9 1272.5,537.8 1274.0,537.9 1275.5,538.4 1277.0,538.5 1278.5,538.5 1280.0,538.3 1281.5,537.8 1283.0,537.9 1284.5,537.9 1286.0,538.3 1287.5,538.1 1289.0,538.0 1290.5,538.4 1292.0,538.5 1293.5,538.3 1295.0,538.2 1296.5,537.8 1298.0,538.1 1299.5,537.7 1301.0,538.2 1302.5,538.0 1304.0,538.3 1305.5,538.2 1307.0,538.0 1308.5,537.4 1310.0,537.3 1311.5,537.8 1313.0,538.2 1314.5,538.2 1316.0,538.0 1317.5,538.1 1319.0,538.1 1320.5,538.2 1322.0,537.9 1323.5,538.0 1325.0,538.2 1326.5,538.1 1328.0,538.3 1329.5,538.2 1331.0,538.2 1332.5,537.4 1334.0,537.3 1335.5,537.4 1337.0,537.5 1338.5,536.9 1340.0,536.9 1341.5,536.7 1343.0,536.8 1344.5,536.9 1346.0,537.2 1347.5,537.3 1349.0,536.5 1350.5,536.1 1352.0,535.3 1353.5,535.1 1355.0,534.6 1356.5,534.4 1358.0,533.8 1359.5,533.6 1361.0,533.5 1362.5,533.3 1364.0,532.9 1365.5,532.3 1367.0,531.5 1368.5,530.5 1370.0,530.0 1371.5,529.6 1373.0,529.1 1374.5,528.4 1376.0,527.1 1377.5,526.0 1379.0,524.7 1380.5,523.5 1382.0,522.7 1383.5,521.7 1385.0,520.5 1386.5,518.7 1388.0,516.9 1389.5,515.1 1391.0,513.4 1392.5,511.1 1394.0,509.1 1395.5,506.5 1397.0,504.1 1398.5,501.1 1400.0,497.9 1401.5,494.4 1403.0,490.8 1404.5,486.9 1406.0,482.6 1407.5,477.9 1409.0,472.7 1410.5,466.9 1412.0,460.8 1413.5,454.2 1415.0,447.7 1416.5,440.7 1418.0,433.6 1419.5,426.6 1421.0,419.9 1422.5,412.9 1424.0,405.9 1425.5,399.0 1427.0,392.3 1428.5,384.9 1430.0,377.3 1431.5,370.8 1433.0,365.0 1434.5,361.0 1436.0,356.6 1437.5,353.1 1439.0,349.5 1440.5,347.1 1442.0,344.9 1443.5,342.9 1445.0,341.8 1446.5,342.3 1448.0,343.9 1449.5,345.7 1451.0,347.5 1452.5,350.0 1454.0,354.0 1455.5,358.4 1457.0,363.1 1458.5,368.5 1460.0,374.3 1461.5,381.2 1463.0,387.8 1464.5,394.4 1466.0,401.1 1467.5,408.0 1469.0,414.8 1470.5,421.1 1472.0,427.2 1473.5,433.3 1475.0,439.7 1476.5,446.1 1478.0,451.5 1479.5,456.4 1481.0,460.8 1482.5,465.3 1484.0,469.6 1485.5,473.5 1487.0,477.9 1488.5,481.9 1490.0,485.9 1491.5,489.3 1493.0,492.4 1494.5,494.8 1496.0,497.1 1497.5,499.7 1499.0,502.2 1500.5,504.4 1502.0,506.0 1503.5,507.9 1505.0,509.8 1506.5,511.7 1508.0,513.7 1509.5,515.1 1511.0,516.4 1512.5,517.1 1514.0,518.6 1515.5,519.8 1517.0,521.3 1518.5,522.2 1520.0,523.5 1521.5,524.5 1523.0,525.2 1524.5,525.8 1526.0,526.6 1527.5,527.2 1529.0,528.1 1530.5,528.7 1532.0,529.6 1533.5,529.8 1535.0,530.1 1536.5,530.2 1538.0,530.7 1539.5,530.9 1541.0,531.4 1542.5,531.7 1544.0,532.2 1545.5,532.6 1547.0,532.8 1548.5,533.1 1550.0,532.8 1551.5,532.9 1553.0,532.9 1554.5,533.5 1556.0,534.1 1557.5,534.0 1559.0,534.2 1560.5,534.3 1562.0,535.0 1563.5,535.1 1565.0,535.3 1566.5,535.0 1568.0,535.1 1569.5,535.0 1571.0,535.4 1572.5,535.3 1574.0,535.3 1575.5,535.3 1577.0,535.8 1578.5,536.1 1580.0,536.1 1581.5,535.7 1583.0,535.9 1584.5,536.0 1586.0,536.3 1587.5,536.2 1589.0,536.0 1590.5,535.6 1592.0,535.4 1593.5,535.4 1595.0,535.8 1596.5,536.1 1598.0,536.2 1599.5,536.3 1601.0,536.3 1602.5,536.4 1604.0,536.2 1605.5,536.2 1607.0,536.3 1608.5,536.0 1610.0,536.1 1611.5,536.4 1613.0,536.3 1614.5,536.4 1616.0,536.5 1617.5,536.9 1619.0,536.9 1620.5,536.8 1622.0,536.7 1623.5,536.7 1625.0,537.0 1626.5,536.9 1628.0,537.0 1629.5,536.9 1631.0,537.0 1632.5,536.9 1634.0,536.7 1635.5,536.7 1637.0,536.8 1638.5,537.1 1640.0,537.1 1641.5,537.6 1643.0,537.5 1644.5,537.7 1646.0,537.1 1647.5,537.2 1649.0,537.4 1650.5,537.4 1652.0,537.7 1653.5,537.7 1655.0,537.6 1656.5,537.6 1658.0,537.3 1659.5,537.9 1661.0,537.7 1662.5,537.7 1664.0,536.9 1665.5,536.7 1667.0,536.8 1668.5,537.0 1670.0,537.0 1671.5,537.0 1673.0,537.1 1674.5,537.6 1676.0,537.5 1677.5,537.4 1679.0,537.0 1680.5,537.1 1682.0,536.9 1683.5,537.0 1685.0,537.4 1686.5,537.6 1688.0,537.6 1689.5,537.6 1691.0,537.7 1692.5,537.8 1694.0,537.7 1695.5,537.6 1697.0,537.7 1698.5,537.7 1700.0,537.8 1701.5,537.5 1703.0,537.7 1704.5,537.8 1706.0,538.6 1707.5,538.2 1709.0,538.3 1710.5,537.7 1712.0,537.9 1713.5,537.9 1715.0,537.9 1716.5,537.8 1718.0,537.7 1719.5,537.9 1721.0,538.0 1722.5,538.2 1724.0,538.3 1725.5,538.3 1727.0,538.0 1728.5,537.7 1730.0,537.6 1731.5,537.5 1733.0,537.9 1734.5,537.9 1736.0,537.8 1737.5,537.8 1739.0,537.8 1740.5,537.9 1742.0,537.7 1743.5,538.0 1745.0,537.7 1746.5,537.6 1748.0,537.5 1749.5,537.9 1751.0,538.0 1752.5,537.8 1754.0,538.2 1755.5,538.2 1757.0,538.5 1758.5,538.4 1760.0,538.4 1761.5,538.4 1763.0,538.2 1764.5,538.2 1766.0,537.9 1767.5,538.2 1769.0,538.2 1770.5,538.3 1772.0,538.0 1773.5,538.4 1775.0,538.6 1776.5,538.8 1778.0,538.4 1779.5,538.0 1781.0,538.1 1782.5,538.3 1784.0,538.3 1785.5,538.5 1787.0,538.6 1788.5,538.7 1790.0,538.4 1791.5,538.2 1793.0,538.4 1794.5,538.5 1796.0,538.3 1797.5,538.5 1799.0,538.6 1800.5,539.2 1802.0,539.1 1803.5,539.1 1805.0,538.9 1806.5,538.8 1808.0,539.0 1809.5,538.9 1811.0,538.7 1812.5,538.6 1814.0,538.5 1815.5,538.5 1817.0,538.2 1818.5,538.3 1820.0,538.3 1821.5,538.5 1823.0,538.5 1824.5,538.8 1826.0,539.2 1827.5,539.3 1829.0,539.0 1830.5,538.7 1832.0,538.5 1833.5,538.9 1835.0,538.7 1836.5,538.7 1838.0,538.6 1839.5,538.6 1841.0,538.4 1842.5,538.4 1844.0,538.5 1845.5,539.0 1847.0,539.1 1848.5,539.1 1850.0,539.0 1851.5,539.1 1853.0,539.5 1854.5,539.5 1856.0,539.4 1857.5,539.3 1859.0,539.5 1860.5,539.4 1862.0,539.2 1863.5,538.7 1865.0,538.7 1866.5,538.5 1868.0,538.8 1869.5,538.7 1871.0,538.9 1872.5,538.9 1874.0,539.1 1875.5,539.1 1877.0,539.1 1878.5,538.7 1880.0,538.9 1881.5,539.3 1883.0,539.4 1884.5,539.3 1886.0,538.8 1887.5,538.6 1889.0,538.4 1890.5,539.0 1892.0,539.1 1893.5,539.0 1895.0,539.0 1896.5,538.8 1898.0,539.1 1899.5,538.9 1901.0,539.2 1902.5,539.1 1904.0,539.5 1905.5,539.3 1907.0,539.2 1908.5,538.7 1910.0,538.8 1911.5,538.6 1913.0,539.0 1914.5,539.1 1916.0,539.0 1917.5,538.6 1919.0,538.7 1920.5,539.0 1922.0,538.9 1923.5,538.8 1925.0,538.8 1926.5,539.1 1928.0,539.2 1929.5,538.8 1931.0,539.1 1932.5,539.1 1934.0,539.7 1935.5,539.9 1937.0,539.8 1938.5,539.3 1940.0,538.9 1941.5,538.9 1943.0,539.1 1944.5,538.7 1946.0,539.1 1947.5,539.1 1949.0,539.0 1950.5,538.6 1952.0,538.5 1953.5,538.8 1955.0,538.8 1956.5,538.8 1958.0,538.9 1959.5,538.8 1961.0,539.1 1962.5,539.3 1964.0,539.3 1965.5,539.1 1967.0,538.9 1968.5,539.1 1970.0,539.2 1971.5,539.2 1973.0,539.0 1974.5,539.1 1976.0,539.2 1977.5,539.1 1979.0,538.9 1980.5,538.8 1982.0,538.8 1983.5,538.9 1985.0,539.0 1986.5,539.1 1988.0,539.0 1989.5,538.8 1991.0,539.1 1992.5,539.3 1994.0,539.3 1995.5,538.8 1997.0,539.0 1998.5,539.5 2000.0,539.6 2001.5,539.5 2003.0,539.0 2004.5,539.0 2006.0,538.9 2007.5,538.8 2009.0,538.7 2010.5,538.7 2012.0,539.2 2013.5,539.3 2015.0,539.2 2016.5,539.3 2018.0,539.3 2019.5,539.0 2021.0,538.7 2022.5,538.7 2024.0,539.2 2025.5,539.2 2027.0,539.1 2028.5,539.3 2030.0,539.2 2031.5,539.4 2033.0,539.1 2034.5,539.4 2036.0,539.3 2037.5,539.3 2039.0,539.1 2040.5,538.9 2042.0,538.7 2043.5,538.7 2045.0,538.9 2046.5,539.0 2048.0,538.9 2049.5,539.2 2051.0,539.4 2052.5,539.1 2054.0,538.9 2055.5,538.5 2057.0,538.4 2058.5,538.5 2060.0,538.5 2061.5,538.9 2063.0,538.7 2064.5,539.0 2066.0,539.3 2067.5,539.4 2069.0,539.4 2070.5,539.1 2072.0,539.1 2073.5,538.8 2075.0,538.9 2076.5,538.7 2078.0,538.9 2079.5,539.0 2081.0,539.2 2082.5,539.3 2084.0,539.7 2085.5,539.2 2087.0,539.0 2088.5,538.5 2090.0,538.8 2091.5,538.5 2093.0,538.6 2094.5,538.6 2096.0,538.8 2097.5,538.7 2099.0,538.6 2100.5,538.3 2102.0,538.6 2103.5,538.6 2105.0,538.9 2106.5,538.7 2108.0,538.7 2109.5,538.4 2111.0,538.5 2112.5,538.3 2114.0,538.7 2115.5,538.5 2117.0,539.1 2118.5,539.3 2120.0,539.3 2121.5,538.9 2123.0,538.7 2124.5,538.8 2126.0,539.2 2127.5,539.4 2129.0,539.1 2130.5,539.0 2132.0,538.8 2133.5,538.8 2135.0,538.6 2136.5,538.8 2138.0,538.9 2139.5,539.1 2141.0,539.2 2142.5,539.2 2144.0,538.7 2145.5,538.1 2147.0,538.1 2148.5,538.5 2150.0,539.1 2151.5,539.1 2153.0,539.1 2154.5,538.8 2156.0,539.0 2157.5,539.0 2159.0,538.9 2160.5,538.5 2162.0,538.4 2163.5,538.5 2165.0,538.5 2166.5,538.6" fill="none" stroke="#00f400" stroke-width="5.4" stroke-linejoin="round"/>
<path d="M999.5,796.3 1001.0,796.4 1002.5,795.8 1004.0,796.2 1005.5,796.1 1007.0,795.7 1008.5,795.8 1010.0,795.6 1011.5,796.8 1013.0,796.9 1014.5,797.0 1016.0,796.1 1017.5,795.9 1019.0,795.7 1020.5,795.6 1022.0,795.8 1023.5,796.0 1025.0,796.2 1026.5,796.0 1028.0,796.0 1029.5,796.1 1031.0,796.2 1032.5,796.0 1034.0,795.5 1035.5,795.5 1037.0,795.9 1038.5,795.8 1040.0,795.5 1041.5,794.9 1043.0,794.2 1044.5,793.4 1046.0,792.6 1047.5,792.1 1049.0,791.3 1050.5,790.5 1052.0,789.1 1053.5,788.8 1055.0,788.1 1056.5,788.1 1058.0,787.7 1059.5,787.8 1061.0,787.8 1062.5,787.2 1064.0,786.9 1065.5,786.7 1067.0,787.1 1068.5,787.1 1070.0,787.0 1071.5,786.8 1073.0,786.5 1074.5,786.1 1076.0,786.0 1077.5,786.1 1079.0,786.3 1080.5,786.0 1082.0,786.0 1083.5,785.6 1085.0,786.0 1086.5,786.2 1088.0,786.6 1089.5,786.6 1091.0,786.4 1092.5,787.2 1094.0,786.9 1095.5,787.1 1097.0,787.3 1098.5,788.2 1100.0,788.2 1101.5,788.2 1103.0,788.4 1104.5,789.1 1106.0,790.0 1107.5,790.1 1109.0,790.7 1110.5,790.6 1112.0,791.6 1113.5,791.8 1115.0,792.3 1116.5,791.9 1118.0,792.5 1119.5,793.0 1121.0,793.8 1122.5,793.9 1124.0,794.1 1125.5,794.0 1127.0,793.7 1128.5,793.6 1130.0,794.3 1131.5,794.2 1133.0,794.4 1134.5,794.0 1136.0,794.4 1137.5,794.7 1139.0,794.5 1140.5,794.0 1142.0,793.9 1143.5,794.5 1145.0,795.1 1146.5,795.1 1148.0,794.8 1149.5,794.7 1151.0,794.6 1152.5,794.9 1154.0,794.6 1155.5,794.7 1157.0,794.5 1158.5,794.8 1160.0,794.9 1161.5,795.5 1163.0,795.7 1164.5,796.0 1166.0,795.0 1167.5,794.5 1169.0,794.1 1170.5,794.7 1172.0,794.2 1173.5,794.6 1175.0,794.8 1176.5,795.0 1178.0,794.5 1179.5,794.1 1181.0,794.4 1182.5,794.8 1184.0,795.4 1185.5,795.4 1187.0,795.4 1188.5,795.0 1190.0,795.4 1191.5,795.4 1193.0,795.7 1194.5,795.1 1196.0,794.9 1197.5,794.4 1199.0,795.0 1200.5,795.2 1202.0,795.3 1203.5,794.8 1205.0,794.8 1206.5,794.7 1208.0,794.6 1209.5,794.6 1211.0,795.3 1212.5,795.5 1214.0,795.3 1215.5,794.4 1217.0,794.2 1218.5,794.4 1220.0,794.9 1221.5,795.2 1223.0,795.2 1224.5,795.0 1226.0,795.0 1227.5,794.6 1229.0,794.5 1230.5,794.5 1232.0,794.6 1233.5,794.6 1235.0,794.4 1236.5,794.5 1238.0,794.8 1239.5,794.9 1241.0,795.0 1242.5,795.0 1244.0,795.2 1245.5,795.6 1247.0,795.0 1248.5,795.0 1250.0,794.5 1251.5,795.0 1253.0,795.0 1254.5,795.4 1256.0,795.6 1257.5,795.5 1259.0,795.6 1260.5,795.3 1262.0,795.2 1263.5,795.0 1265.0,795.0 1266.5,795.5 1268.0,795.5 1269.5,796.2 1271.0,795.7 1272.5,795.3 1274.0,794.9 1275.5,795.0 1277.0,795.0 1278.5,795.0 1280.0,794.9 1281.5,795.4 1283.0,795.1 1284.5,795.4 1286.0,794.9 1287.5,794.8 1289.0,794.4 1290.5,794.3 1292.0,794.5 1293.5,794.9 1295.0,795.2 1296.5,795.3 1298.0,795.5 1299.5,795.5 1301.0,795.4 1302.5,794.9 1304.0,794.5 1305.5,794.6 1307.0,794.3 1308.5,794.8 1310.0,794.6 1311.5,795.3 1313.0,795.1 1314.5,794.9 1316.0,794.7 1317.5,794.6 1319.0,794.8 1320.5,794.7 1322.0,794.8 1323.5,794.8 1325.0,794.6 1326.5,794.5 1328.0,794.1 1329.5,794.2 1331.0,794.0 1332.5,794.7 1334.0,795.0 1335.5,794.9 1337.0,794.6 1338.5,794.3 1340.0,794.5 1341.5,794.6 1343.0,794.5 1344.5,794.3 1346.0,794.1 1347.5,794.2 1349.0,794.6 1350.5,794.4 1352.0,794.5 1353.5,794.7 1355.0,794.7 1356.5,794.4 1358.0,794.2 1359.5,794.3 1361.0,794.9 1362.5,794.9 1364.0,794.8 1365.5,794.2 1367.0,794.1 1368.5,794.9 1370.0,795.0 1371.5,795.0 1373.0,794.6 1374.5,794.6 1376.0,795.1 1377.5,794.9 1379.0,795.0 1380.5,794.5 1382.0,794.8 1383.5,794.3 1385.0,794.7 1386.5,794.5 1388.0,794.8 1389.5,794.1 1391.0,794.0 1392.5,794.1 1394.0,794.5 1395.5,794.8 1397.0,795.0 1398.5,794.9 1400.0,794.7 1401.5,794.6 1403.0,794.5 1404.5,794.5 1406.0,794.4 1407.5,794.6 1409.0,794.6 1410.5,794.3 1412.0,794.2 1413.5,794.5 1415.0,794.5 1416.5,794.3 1418.0,793.7 1419.5,794.0 1421.0,793.6 1422.5,793.6 1424.0,793.5 1425.5,793.7 1427.0,793.9 1428.5,793.7 1430.0,793.7 1431.5,793.3 1433.0,792.7 1434.5,792.6 1436.0,792.9 1437.5,793.0 1439.0,793.5 1440.5,792.9 1442.0,793.3 1443.5,792.8 1445.0,792.2 1446.5,791.7 1448.0,791.7 1449.5,791.8 1451.0,791.6 1452.5,791.5 1454.0,791.6 1455.5,791.4 1457.0,791.1 1458.5,791.3 1460.0,791.5 1461.5,791.8 1463.0,791.9 1464.5,791.9 1466.0,791.4 1467.5,790.6 1469.0,790.5 1470.5,790.9 1472.0,791.2 1473.5,791.3 1475.0,790.9 1476.5,790.8 1478.0,790.5 1479.5,790.4 1481.0,790.0 1482.5,789.6 1484.0,789.5 1485.5,789.4 1487.0,789.4 1488.5,789.6 1490.0,789.6 1491.5,790.4 1493.0,790.3 1494.5,790.0 1496.0,789.3 1497.5,789.0 1499.0,788.7 1500.5,788.4 1502.0,787.7 1503.5,786.6 1505.0,786.0 1506.5,785.5 1508.0,785.9 1509.5,785.0 1511.0,784.2 1512.5,783.6 1514.0,782.8 1515.5,782.3 1517.0,781.5 1518.5,780.9 1520.0,779.9 1521.5,778.7 1523.0,777.9 1524.5,776.7 1526.0,775.8 1527.5,774.8 1529.0,774.5 1530.5,773.2 1532.0,771.8 1533.5,770.3 1535.0,769.1 1536.5,768.1 1538.0,766.6 1539.5,765.5 1541.0,763.8 1542.5,762.0 1544.0,759.3 1545.5,757.2 1547.0,755.4 1548.5,753.6 1550.0,751.2 1551.5,748.1 1553.0,745.8 1554.5,743.4 1556.0,740.7 1557.5,737.7 1559.0,734.6 1560.5,731.7 1562.0,727.9 1563.5,724.6 1565.0,720.9 1566.5,717.5 1568.0,713.4 1569.5,709.9 1571.0,706.9 1572.5,704.0 1574.0,701.4 1575.5,698.4 1577.0,695.8 1578.5,692.5 1580.0,688.8 1581.5,684.0 1583.0,679.4 1584.5,674.7 1586.0,670.1 1587.5,665.0 1589.0,659.7 1590.5,654.9 1592.0,650.2 1593.5,646.3 1595.0,642.2 1596.5,638.2 1598.0,633.6 1599.5,629.6 1601.0,626.4 1602.5,623.3 1604.0,619.8 1605.5,616.4 1607.0,613.3 1608.5,610.6 1610.0,607.5 1611.5,604.8 1613.0,602.5 1614.5,600.5 1616.0,598.1 1617.5,596.5 1619.0,594.7 1620.5,593.9 1622.0,591.8 1623.5,591.0 1625.0,590.2 1626.5,590.1 1628.0,589.7 1629.5,589.3 1631.0,589.2 1632.5,588.9 1634.0,588.8 1635.5,589.1 1637.0,589.8 1638.5,590.3 1640.0,590.6 1641.5,590.9 1643.0,591.7 1644.5,592.4 1646.0,593.3 1647.5,594.6 1649.0,596.3 1650.5,598.5 1652.0,600.6 1653.5,603.1 1655.0,605.3 1656.5,608.2 1658.0,610.8 1659.5,614.5 1661.0,617.5 1662.5,621.3 1664.0,624.9 1665.5,628.8 1667.0,632.7 1668.5,636.5 1670.0,640.7 1671.5,645.1 1673.0,649.3 1674.5,653.5 1676.0,657.3 1677.5,661.1 1679.0,664.7 1680.5,669.1 1682.0,673.3 1683.5,677.7 1685.0,681.2 1686.5,684.6 1688.0,688.1 1689.5,691.4 1691.0,694.9 1692.5,697.9 1694.0,700.9 1695.5,703.6 1697.0,706.3 1698.5,709.7 1700.0,713.0 1701.5,715.7 1703.0,717.9 1704.5,719.2 1706.0,721.8 1707.5,724.1 1709.0,726.7 1710.5,729.1 1712.0,730.9 1713.5,733.3 1715.0,735.2 1716.5,737.3 1718.0,739.6 1719.5,741.7 1721.0,743.6 1722.5,744.9 1724.0,746.6 1725.5,748.6 1727.0,750.3 1728.5,751.7 1730.0,753.2 1731.5,755.0 1733.0,756.8 1734.5,758.4 1736.0,760.3 1737.5,761.8 1739.0,763.2 1740.5,764.3 1742.0,765.5 1743.5,766.6 1745.0,767.2 1746.5,768.0 1748.0,768.8 1749.5,770.4 1751.0,771.1 1752.5,772.0 1754.0,772.5 1755.5,773.7 1757.0,774.3 1758.5,774.9 1760.0,775.2 1761.5,775.7 1763.0,776.3 1764.5,776.8 1766.0,777.5 1767.5,778.4 1769.0,778.8 1770.5,779.2 1772.0,779.2 1773.5,779.9 1775.0,780.0 1776.5,780.4 1778.0,780.6 1779.5,781.4 1781.0,781.9 1782.5,782.2 1784.0,782.3 1785.5,782.7 1787.0,783.5 1788.5,784.2 1790.0,784.4 1791.5,784.5 1793.0,784.5 1794.5,784.7 1796.0,784.8 1797.5,785.4 1799.0,785.7 1800.5,785.7 1802.0,786.2 1803.5,786.8 1805.0,787.2 1806.5,787.3 1808.0,787.2 1809.5,787.7 1811.0,787.4 1812.5,788.0 1814.0,787.9 1815.5,788.7 1817.0,788.5 1818.5,788.8 1820.0,788.6 1821.5,789.0 1823.0,789.0 1824.5,789.2 1826.0,789.0 1827.5,789.0 1829.0,789.5 1830.5,789.9 1832.0,790.4 1833.5,790.5 1835.0,790.3 1836.5,790.4 1838.0,790.6 1839.5,791.2 1841.0,790.8 1842.5,789.8 1844.0,789.4 1845.5,790.3 1847.0,791.0 1848.5,791.3 1850.0,791.3 1851.5,791.3 1853.0,791.5 1854.5,791.7 1856.0,792.1 1857.5,792.2 1859.0,792.0 1860.5,792.1 1862.0,792.0 1863.5,792.5 1865.0,793.0 1866.5,793.1 1868.0,792.3 1869.5,791.7 1871.0,792.1 1872.5,792.9 1874.0,793.3 1875.5,793.1 1877.0,792.7 1878.5,792.8 1880.0,792.8 1881.5,793.3 1883.0,793.0 1884.5,793.5 1886.0,793.5 1887.5,793.8 1889.0,793.8 1890.5,793.5 1892.0,793.4 1893.5,793.3 1895.0,793.6 1896.5,793.9 1898.0,793.9 1899.5,793.7 1901.0,793.3 1902.5,793.3 1904.0,793.7 1905.5,793.7 1907.0,794.1 1908.5,794.0 1910.0,794.2 1911.5,793.6 1913.0,793.7 1914.5,793.9 1916.0,793.8 1917.5,794.1 1919.0,794.3 1920.5,794.9 1922.0,794.7 1923.5,794.9 1925.0,795.2 1926.5,794.9 1928.0,794.3 1929.5,794.0 1931.0,794.2 1932.5,793.7 1934.0,794.0 1935.5,793.9 1937.0,794.5 1938.5,794.3 1940.0,794.7 1941.5,794.6 1943.0,794.4 1944.5,794.4 1946.0,794.8 1947.5,794.9 1949.0,795.1 1950.5,794.9 1952.0,794.8 1953.5,794.9 1955.0,794.7 1956.5,795.0 1958.0,794.6 1959.5,794.9 1961.0,794.4 1962.5,794.3 1964.0,794.5 1965.5,794.8 1967.0,795.0 1968.5,794.7 1970.0,794.8 1971.5,794.5 1973.0,794.3 1974.5,794.2 1976.0,794.3 1977.5,794.5 1979.0,794.5 1980.5,794.7 1982.0,794.8 1983.5,795.2 1985.0,795.5 1986.5,795.8 1988.0,795.5 1989.5,795.1 1991.0,794.5 1992.5,794.4 1994.0,794.1 1995.5,794.3 1997.0,794.6 1998.5,795.4 2000.0,795.8 2001.5,795.5 2003.0,795.2 2004.5,794.8 2006.0,795.2 2007.5,795.1 2009.0,795.5 2010.5,795.9 2012.0,796.1 2013.5,796.5 2015.0,795.9 2016.5,795.7 2018.0,795.4 2019.5,795.8 2021.0,795.8 2022.5,795.5 2024.0,794.8 2025.5,794.8 2027.0,795.0 2028.5,795.4 2030.0,795.3 2031.5,794.8 2033.0,794.9 2034.5,795.2 2036.0,795.7 2037.5,795.6 2039.0,795.2 2040.5,795.4 2042.0,795.4 2043.5,795.6 2045.0,795.4 2046.5,794.9 2048.0,794.9 2049.5,794.7 2051.0,795.3 2052.5,795.7 2054.0,795.8 2055.5,795.3 2057.0,794.9 2058.5,794.8 2060.0,795.3 2061.5,795.1 2063.0,794.7 2064.5,794.7 2066.0,795.1 2067.5,795.5 2069.0,795.0 2070.5,795.3 2072.0,794.6 2073.5,795.0 2075.0,795.0 2076.5,795.7 2078.0,795.8 2079.5,795.0 2081.0,795.4 2082.5,795.0 2084.0,795.4 2085.5,795.1 2087.0,795.1 2088.5,795.3 2090.0,794.9 2091.5,795.0 2093.0,794.8 2094.5,795.0 2096.0,795.3 2097.5,795.5 2099.0,795.6 2100.5,795.3 2102.0,795.0 2103.5,795.0 2105.0,795.3 2106.5,795.3 2108.0,795.5 2109.5,795.3 2111.0,795.2 2112.5,795.3 2114.0,795.1 2115.5,795.3 2117.0,795.4 2118.5,795.4 2120.0,795.4 2121.5,794.7 2123.0,794.8 2124.5,794.5 2126.0,794.8 2127.5,794.7 2129.0,795.1 2130.5,795.6 2132.0,795.8 2133.5,795.9 2135.0,795.5 2136.5,795.4 2138.0,795.0 2139.5,794.6 2141.0,794.7 2142.5,795.3 2144.0,795.8 2145.5,795.7 2147.0,795.7 2148.5,795.5 2150.0,795.4 2151.5,794.8 2153.0,794.7 2154.5,794.7 2156.0,795.5 2157.5,795.7 2159.0,795.5 2160.5,794.9 2162.0,794.9 2163.5,794.7 2165.0,794.9 2166.5,794.9" fill="none" stroke="#ff8000" stroke-width="3.6" stroke-linejoin="round"/>
<path d="M999.5,1018.8 1000.8,1020.4 1002.1,1026.9 1003.4,1023.2 1004.7,1014.8 1006.0,1020.6 1007.3,1018.2 1008.6,1020.9 1009.9,1014.5 1011.2,1021.0 1012.5,1020.9 1013.8,1025.6 1015.1,1020.9 1016.4,1021.5 1017.7,1014.2 1019.0,1027.5 1020.3,1012.4 1021.6,1023.1 1022.9,1017.8 1024.2,1015.7 1025.5,1016.4 1026.8,1016.2 1028.1,1019.8 1029.4,1017.9 1030.7,1023.5 1032.0,1011.4 1033.3,1017.9 1034.6,1014.5 1035.9,1020.4 1037.2,1009.8 1038.5,1016.0 1039.8,1017.8 1041.1,1011.5 1042.4,1020.1 1043.7,1017.0 1045.0,1019.8 1046.3,1019.3 1047.6,1012.1 1048.9,1012.5 1050.2,1014.4 1051.5,1017.6 1052.8,1017.7 1054.1,1011.8 1055.4,1011.9 1056.7,1010.9 1058.0,1011.5 1059.3,1012.5 1060.6,1012.6 1061.9,1020.2 1063.2,1010.8 1064.5,1011.3 1065.8,1013.8 1067.1,1008.6 1068.4,1010.5 1069.7,1011.7 1071.0,1014.3 1072.3,1006.6 1073.6,1016.2 1074.9,1009.9 1076.2,1011.7 1077.5,1014.1 1078.8,1013.4 1080.1,1014.8 1081.4,1011.6 1082.7,1011.0 1084.0,1012.3 1085.3,1007.7 1086.6,1015.7 1087.9,1008.7 1089.2,1007.1 1090.5,1019.3 1091.8,1011.5 1093.1,1008.0 1094.4,1019.1 1095.7,1011.5 1097.0,1016.7 1098.3,1010.1 1099.6,1012.4 1100.9,1007.4 1102.2,1006.8 1103.5,1010.4 1104.8,1013.8 1106.1,1017.2 1107.4,1023.2 1108.7,1010.9 1110.0,1018.4 1111.3,1012.8 1112.6,1014.5 1113.9,1009.9 1115.2,1010.0 1116.5,1012.7 1117.8,1011.4 1119.1,1015.8 1120.4,1013.4 1121.7,1020.6 1123.0,1016.8 1124.3,1017.0 1125.6,1020.6 1126.9,1018.6 1128.2,1016.7 1129.5,1016.6 1130.8,1016.7 1132.1,1021.1 1133.4,1020.2 1134.7,1018.8 1136.0,1020.5 1137.3,1015.8 1138.6,1019.7 1139.9,1012.9 1141.2,1022.9 1142.5,1018.5 1143.8,1018.9 1145.1,1020.5 1146.4,1018.4 1147.7,1017.6 1149.0,1022.8 1150.3,1019.0 1151.6,1015.4 1152.9,1020.4 1154.2,1012.7 1155.5,1024.9 1156.8,1018.4 1158.1,1019.3 1159.4,1027.3 1160.7,1027.0 1162.0,1019.7 1163.3,1021.7 1164.6,1023.4 1165.9,1025.6 1167.2,1019.2 1168.5,1020.2 1169.8,1024.2 1171.1,1020.8 1172.4,1022.6 1173.7,1022.2 1175.0,1016.0 1176.3,1017.0 1177.6,1010.7 1178.9,1019.3 1180.2,1025.2 1181.5,1016.4 1182.8,1024.9 1184.1,1024.1 1185.4,1020.4 1186.7,1020.6 1188.0,1021.0 1189.3,1017.7 1190.6,1019.8 1191.9,1020.7 1193.2,1023.2 1194.5,1023.9 1195.8,1018.4 1197.1,1024.1 1198.4,1018.4 1199.7,1020.6 1201.0,1022.6 1202.3,1021.3 1203.6,1020.9 1204.9,1022.4 1206.2,1019.5 1207.5,1019.2 1208.8,1020.8 1210.1,1025.1 1211.4,1021.3 1212.7,1028.5 1214.0,1022.5 1215.3,1011.0 1216.6,1020.2 1217.9,1027.8 1219.2,1021.9 1220.5,1020.3 1221.8,1018.8 1223.1,1026.7 1224.4,1025.6 1225.7,1024.4 1227.0,1023.5 1228.3,1027.2 1229.6,1025.0 1230.9,1017.6 1232.2,1024.8 1233.5,1022.7 1234.8,1021.7 1236.1,1024.8 1237.4,1022.2 1238.7,1011.5 1240.0,1027.7 1241.3,1025.8 1242.6,1021.6 1243.9,1020.7 1245.2,1022.9 1246.5,1017.4 1247.8,1023.1 1249.1,1021.2 1250.4,1020.7 1251.7,1018.7 1253.0,1019.5 1254.3,1025.9 1255.6,1026.7 1256.9,1023.7 1258.2,1021.7 1259.5,1018.7 1260.8,1024.4 1262.1,1027.6 1263.4,1016.0 1264.7,1026.0 1266.0,1014.0 1267.3,1020.5 1268.6,1023.1 1269.9,1016.8 1271.2,1016.2 1272.5,1022.3 1273.8,1024.8 1275.1,1019.9 1276.4,1026.4 1277.7,1018.7 1279.0,1027.8 1280.3,1021.9 1281.6,1022.3 1282.9,1023.6 1284.2,1022.5 1285.5,1028.0 1286.8,1029.2 1288.1,1023.2 1289.4,1020.6 1290.7,1016.9 1292.0,1018.4 1293.3,1021.1 1294.6,1020.7 1295.9,1020.9 1297.2,1021.0 1298.5,1022.7 1299.8,1016.1 1301.1,1017.2 1302.4,1024.9 1303.7,1023.8 1305.0,1018.8 1306.3,1025.4 1307.6,1018.3 1308.9,1019.8 1310.2,1014.1 1311.5,1023.6 1312.8,1020.5 1314.1,1024.4 1315.4,1023.0 1316.7,1020.8 1318.0,1021.0 1319.3,1024.7 1320.6,1019.8 1321.9,1019.8 1323.2,1020.5 1324.5,1023.1 1325.8,1023.5 1327.1,1027.0 1328.4,1019.8 1329.7,1024.6 1331.0,1017.7 1332.3,1022.2 1333.6,1020.4 1334.9,1026.1 1336.2,1022.0 1337.5,1018.2 1338.8,1021.8 1340.1,1020.9 1341.4,1018.5 1342.7,1018.5 1344.0,1016.1 1345.3,1029.4 1346.6,1019.9 1347.9,1022.9 1349.2,1015.1 1350.5,1015.3 1351.8,1018.6 1353.1,1018.6 1354.4,1022.0 1355.7,1015.4 1357.0,1020.9 1358.3,1024.4 1359.6,1015.5 1360.9,1022.1 1362.2,1015.3 1363.5,1019.9 1364.8,1019.9 1366.1,1024.8 1367.4,1016.0 1368.7,1019.1 1370.0,1022.1 1371.3,1014.1 1372.6,1018.3 1373.9,1015.1 1375.2,1015.7 1376.5,1020.6 1377.8,1020.6 1379.1,1027.3 1380.4,1022.9 1381.7,1022.6 1383.0,1017.3 1384.3,1016.8 1385.6,1018.3 1386.9,1009.6 1388.2,1023.7 1389.5,1015.3 1390.8,1013.8 1392.1,1016.0 1393.4,1020.7 1394.7,1022.0 1396.0,1016.1 1397.3,1019.0 1398.6,1017.2 1399.9,1013.8 1401.2,1017.9 1402.5,1017.4 1403.8,1011.7 1405.1,1021.2 1406.4,1011.5 1407.7,1018.0 1409.0,1013.3 1410.3,1014.1 1411.6,1014.5 1412.9,1019.6 1414.2,1012.5 1415.5,1016.3 1416.8,1022.5 1418.1,1014.4 1419.4,1016.7 1420.7,1019.2 1422.0,1014.7 1423.3,1018.5 1424.6,1014.4 1425.9,1019.2 1427.2,1016.9 1428.5,1013.3 1429.8,1021.7 1431.1,1016.2 1432.4,1015.5 1433.7,1013.2 1435.0,1014.8 1436.3,1016.1 1437.6,1017.0 1438.9,1020.3 1440.2,1011.6 1441.5,1015.1 1442.8,1020.6 1444.1,1016.9 1445.4,1017.7 1446.7,1021.9 1448.0,1017.4 1449.3,1017.8 1450.6,1015.9 1451.9,1022.4 1453.2,1019.8 1454.5,1013.4 1455.8,1017.9 1457.1,1011.8 1458.4,1019.8 1459.7,1018.2 1461.0,1015.2 1462.3,1014.3 1463.6,1009.2 1464.9,1018.4 1466.2,1015.2 1467.5,1014.4 1468.8,1018.1 1470.1,1013.1 1471.4,1013.3 1472.7,1012.9 1474.0,1010.4 1475.3,1023.9 1476.6,1014.5 1477.9,1013.9 1479.2,1018.3 1480.5,1003.7 1481.8,1014.9 1483.1,1015.0 1484.4,1011.4 1485.7,1016.5 1487.0,1007.5 1488.3,1014.7 1489.6,1017.8 1490.9,1006.5 1492.2,1009.2 1493.5,1013.8 1494.8,1014.2 1496.1,1011.8 1497.4,1015.3 1498.7,1014.8 1500.0,1009.0 1501.3,1013.4 1502.6,1009.1 1503.9,1006.1 1505.2,1004.8 1506.5,1017.1 1507.8,1012.9 1509.1,1020.3 1510.4,1007.9 1511.7,1011.8 1513.0,1014.3 1514.3,1012.5 1515.6,1014.8 1516.9,1013.4 1518.2,1010.6 1519.5,1004.4 1520.8,1009.3 1522.1,1018.9 1523.4,1015.4 1524.7,1017.6 1526.0,1010.5 1527.3,1011.9 1528.6,1009.4 1529.9,1013.9 1531.2,1012.7 1532.5,1014.0 1533.8,1018.7 1535.1,1009.3 1536.4,1014.9 1537.7,1007.1 1539.0,1016.1 1540.3,1010.5 1541.6,1011.8 1542.9,1012.4 1544.2,1017.8 1545.5,1011.7 1546.8,1010.0 1548.1,1007.4 1549.4,1012.6 1550.7,1008.5 1552.0,1009.7 1553.3,1011.3 1554.6,1013.8 1555.9,1008.7 1557.2,1013.6 1558.5,1017.5 1559.8,1005.7 1561.1,1015.9 1562.4,1018.7 1563.7,1008.8 1565.0,1013.1 1566.3,1005.9 1567.6,1012.0 1568.9,1009.6 1570.2,1011.8 1571.5,1007.4 1572.8,1007.7 1574.1,1009.0 1575.4,1008.0 1576.7,1008.3 1578.0,1009.8 1579.3,1006.5 1580.6,1010.0 1581.9,1012.2 1583.2,1002.2 1584.5,1011.2 1585.8,1007.8 1587.1,1006.5 1588.4,1005.6 1589.7,1007.4 1591.0,1007.8 1592.3,1011.7 1593.6,1006.0 1594.9,1014.3 1596.2,1007.6 1597.5,1013.0 1598.8,1014.5 1600.1,1006.2 1601.4,1014.5 1602.7,1018.6 1604.0,1009.2 1605.3,1013.0 1606.6,1010.5 1607.9,1011.3 1609.2,1010.4 1610.5,1009.3 1611.8,1013.8 1613.1,1014.4 1614.4,1011.3 1615.7,1016.8 1617.0,1015.3 1618.3,1014.0 1619.6,1008.9 1620.9,1018.4 1622.2,1016.3 1623.5,1003.9 1624.8,1007.6 1626.1,1010.0 1627.4,1015.1 1628.7,1016.2 1630.0,1010.7 1631.3,1012.7 1632.6,1014.4 1633.9,1007.3 1635.2,1014.0 1636.5,1010.8 1637.8,1012.6 1639.1,1011.8 1640.4,1007.7 1641.7,1008.4 1643.0,1012.2 1644.3,1012.5 1645.6,1011.1 1646.9,1015.9 1648.2,1010.8 1649.5,1007.7 1650.8,1010.8 1652.1,1011.5 1653.4,1011.6 1654.7,1016.3 1656.0,1013.9 1657.3,1015.9 1658.6,1014.3 1659.9,1011.5 1661.2,1015.8 1662.5,1011.2 1663.8,1013.0 1665.1,1008.5 1666.4,1012.5 1667.7,1010.9 1669.0,1013.5 1670.3,1018.7 1671.6,1020.7 1672.9,1015.8 1674.2,1012.0 1675.5,1015.1 1676.8,1013.0 1678.1,1009.9 1679.4,1011.9 1680.7,1011.2 1682.0,1010.0 1683.3,1017.1 1684.6,1010.2 1685.9,1010.3 1687.2,1014.7 1688.5,1009.6 1689.8,1008.0 1691.1,1009.1 1692.4,1013.9 1693.7,1013.5 1695.0,1013.2 1696.3,1010.5 1697.6,1008.9 1698.9,1015.4 1700.2,1006.9 1701.5,1011.4 1702.8,1007.4 1704.1,1010.7 1705.4,1011.6 1706.7,1016.6 1708.0,1001.8 1709.3,1017.1 1710.6,1009.0 1711.9,1013.2 1713.2,1015.1 1714.5,1009.4 1715.8,1011.9 1717.1,1014.0 1718.4,1011.7 1719.7,1009.5 1721.0,1012.9 1722.3,1012.6 1723.6,1006.8 1724.9,1017.1 1726.2,1013.0 1727.5,1003.5 1728.8,1009.2 1730.1,1018.4 1731.4,1017.9 1732.7,1013.1 1734.0,1005.9 1735.3,1011.1 1736.6,1015.6 1737.9,1013.1 1739.2,1010.4 1740.5,1008.8 1741.8,1014.3 1743.1,1010.4 1744.4,1012.1 1745.7,1012.6 1747.0,1016.5 1748.3,1011.1 1749.6,1011.1 1750.9,1003.5 1752.2,1013.8 1753.5,1012.7 1754.8,1009.2 1756.1,1000.9 1757.4,1006.8 1758.7,1008.8 1760.0,1015.9 1761.3,1010.2 1762.6,1010.7 1763.9,1010.5 1765.2,1012.1 1766.5,1002.9 1767.8,1003.7 1769.1,1002.2 1770.4,1005.0 1771.7,1004.4 1773.0,1005.7 1774.3,1001.2 1775.6,1004.8 1776.9,1001.0 1778.2,1011.2 1779.5,1001.2 1780.8,1011.8 1782.1,1007.9 1783.4,997.2 1784.7,1004.4 1786.0,1002.5 1787.3,994.1 1788.6,1001.1 1789.9,997.8 1791.2,998.5 1792.5,993.3 1793.8,995.1 1795.1,995.7 1796.4,992.5 1797.7,989.8 1799.0,990.2 1800.3,985.9 1801.6,989.4 1802.9,977.7 1804.2,991.0 1805.5,984.4 1806.8,984.5 1808.1,984.6 1809.4,975.6 1810.7,986.9 1812.0,973.2 1813.3,977.4 1814.6,975.3 1815.9,977.2 1817.2,970.8 1818.5,964.0 1819.8,968.6 1821.1,956.7 1822.4,963.1 1823.7,960.3 1825.0,965.7 1826.3,957.1 1827.6,954.6 1828.9,951.5 1830.2,949.2 1831.5,948.3 1832.8,950.3 1834.1,941.3 1835.4,943.1 1836.7,936.4 1838.0,938.7 1839.3,937.6 1840.6,930.2 1841.9,930.2 1843.2,930.2 1844.5,930.1 1845.8,928.3 1847.1,921.9 1848.4,916.1 1849.7,911.3 1851.0,917.4 1852.3,917.0 1853.6,910.7 1854.9,912.3 1856.2,902.2 1857.5,899.5 1858.8,903.7 1860.1,891.4 1861.4,894.2 1862.7,890.4 1864.0,886.5 1865.3,889.3 1866.6,876.9 1867.9,875.7 1869.2,866.9 1870.5,868.1 1871.8,867.5 1873.1,865.3 1874.4,863.2 1875.7,862.4 1877.0,856.3 1878.3,849.1 1879.6,854.7 1880.9,853.9 1882.2,846.9 1883.5,847.3 1884.8,855.7 1886.1,852.3 1887.4,851.8 1888.7,849.6 1890.0,847.3 1891.3,844.5 1892.6,848.2 1893.9,845.4 1895.2,844.6 1896.5,846.3 1897.8,846.3 1899.1,850.1 1900.4,843.8 1901.7,856.7 1903.0,844.4 1904.3,847.0 1905.6,852.6 1906.9,847.0 1908.2,849.4 1909.5,852.5 1910.8,843.2 1912.1,853.8 1913.4,853.9 1914.7,858.4 1916.0,863.1 1917.3,865.6 1918.6,870.7 1919.9,872.5 1921.2,873.1 1922.5,871.5 1923.8,877.9 1925.1,873.0 1926.4,879.0 1927.7,887.3 1929.0,887.7 1930.3,882.6 1931.6,888.4 1932.9,896.6 1934.2,898.3 1935.5,902.8 1936.8,895.4 1938.1,900.2 1939.4,906.9 1940.7,907.3 1942.0,913.8 1943.3,917.0 1944.6,921.2 1945.9,922.4 1947.2,927.7 1948.5,931.2 1949.8,931.6 1951.1,929.2 1952.4,940.9 1953.7,939.5 1955.0,942.8 1956.3,944.4 1957.6,940.3 1958.9,950.7 1960.2,948.5 1961.5,948.7 1962.8,960.0 1964.1,956.4 1965.4,960.6 1966.7,964.7 1968.0,969.2 1969.3,958.6 1970.6,964.3 1971.9,971.2 1973.2,968.0 1974.5,960.2 1975.8,974.2 1977.1,976.0 1978.4,979.6 1979.7,979.0 1981.0,978.0 1982.3,981.8 1983.6,982.2 1984.9,981.8 1986.2,985.9 1987.5,987.5 1988.8,983.7 1990.1,992.3 1991.4,992.8 1992.7,993.8 1994.0,982.1 1995.3,993.5 1996.6,993.7 1997.9,991.5 1999.2,998.2 2000.5,991.6 2001.8,1002.3 2003.1,1000.0 2004.4,997.5 2005.7,1005.2 2007.0,1002.3 2008.3,1002.5 2009.6,997.1 2010.9,1004.3 2012.2,1008.1 2013.5,1007.5 2014.8,999.3 2016.1,1009.5 2017.4,1010.7 2018.7,1008.4 2020.0,1004.4 2021.3,1000.7 2022.6,1003.3 2023.9,1004.9 2025.2,1008.4 2026.5,1009.8 2027.8,1005.5 2029.1,1002.6 2030.4,1007.4 2031.7,1004.5 2033.0,1014.5 2034.3,1005.5 2035.6,1012.1 2036.9,1013.7 2038.2,1007.5 2039.5,1015.0 2040.8,1011.2 2042.1,1009.1 2043.4,1008.9 2044.7,1013.0 2046.0,1016.8 2047.3,1006.3 2048.6,1015.7 2049.9,1013.2 2051.2,1011.3 2052.5,1013.9 2053.8,1014.5 2055.1,1014.6 2056.4,1018.0 2057.7,1012.0 2059.0,1022.7 2060.3,1019.0 2061.6,1013.8 2062.9,1009.2 2064.2,1016.3 2065.5,1015.1 2066.8,1019.5 2068.1,1019.6 2069.4,1024.2 2070.7,1016.9 2072.0,1020.5 2073.3,1016.3 2074.6,1016.6 2075.9,1023.7 2077.2,1017.8 2078.5,1018.1 2079.8,1017.4 2081.1,1020.0 2082.4,1021.2 2083.7,1018.7 2085.0,1015.1 2086.3,1020.7 2087.6,1016.6 2088.9,1018.4 2090.2,1020.6 2091.5,1020.8 2092.8,1011.6 2094.1,1026.3 2095.4,1023.1 2096.7,1027.3 2098.0,1029.5 2099.3,1016.9 2100.6,1018.4 2101.9,1021.4 2103.2,1023.9 2104.5,1018.7 2105.8,1019.5 2107.1,1024.6 2108.4,1017.5 2109.7,1021.6 2111.0,1024.8 2112.3,1019.9 2113.6,1023.8 2114.9,1020.6 2116.2,1015.3 2117.5,1019.1 2118.8,1020.4 2120.1,1019.9 2121.4,1021.3 2122.7,1022.6 2124.0,1022.3 2125.3,1021.9 2126.6,1019.7 2127.9,1020.5 2129.2,1020.0 2130.5,1019.3 2131.8,1026.4 2133.1,1014.6 2134.4,1022.3 2135.7,1015.6 2137.0,1019.3 2138.3,1024.4 2139.6,1020.5 2140.9,1026.6 2142.2,1018.1 2143.5,1020.5 2144.8,1019.3 2146.1,1021.6 2147.4,1020.5 2148.7,1020.2 2150.0,1021.9 2151.3,1025.6 2152.6,1022.2 2153.9,1021.8 2155.2,1020.6 2156.5,1019.1 2157.8,1016.4 2159.1,1017.8 2160.4,1021.7 2161.7,1014.7 2163.0,1024.0 2164.3,1020.1 2165.6,1018.2 2166.9,1019.6" fill="none" stroke="#ff0000" stroke-width="4.5" stroke-linejoin="round"/>
<g stroke="#000" fill="none">
<rect x="997.3" y="59.5" width="1172.7" height="1004.2" stroke-width="4.6"/>
<path d="M997.3,312.2 H2170" stroke-width="3.6"/>
<path d="M997.3,563.8 H2170" stroke-width="3.6"/>
<path d="M997.3,814.6 H2170" stroke-width="3.6"/>
<path d="M997.3,312.2 v-9 M997.3,563.8 v-9 M997.3,814.6 v-9 M997.3,1063.7 v-17 M1062.5,312.2 v-4.5 M1062.5,563.8 v-4.5 M1062.5,814.6 v-4.5 M1062.5,1063.7 v-9.5 M1127.6,312.2 v-9 M1127.6,563.8 v-9 M1127.6,814.6 v-9 M1127.6,1063.7 v-17 M1192.8,312.2 v-4.5 M1192.8,563.8 v-4.5 M1192.8,814.6 v-4.5 M1192.8,1063.7 v-9.5 M1257.9,312.2 v-9 M1257.9,563.8 v-9 M1257.9,814.6 v-9 M1257.9,1063.7 v-17 M1323.0,312.2 v-4.5 M1323.0,563.8 v-4.5 M1323.0,814.6 v-4.5 M1323.0,1063.7 v-9.5 M1388.2,312.2 v-9 M1388.2,563.8 v-9 M1388.2,814.6 v-9 M1388.2,1063.7 v-17 M1453.3,312.2 v-4.5 M1453.3,563.8 v-4.5 M1453.3,814.6 v-4.5 M1453.3,1063.7 v-9.5 M1518.5,312.2 v-9 M1518.5,563.8 v-9 M1518.5,814.6 v-9 M1518.5,1063.7 v-17 M1583.7,312.2 v-4.5 M1583.7,563.8 v-4.5 M1583.7,814.6 v-4.5 M1583.7,1063.7 v-9.5 M1648.8,312.2 v-9 M1648.8,563.8 v-9 M1648.8,814.6 v-9 M1648.8,1063.7 v-17 M1713.9,312.2 v-4.5 M1713.9,563.8 v-4.5 M1713.9,814.6 v-4.5 M1713.9,1063.7 v-9.5 M1779.1,312.2 v-9 M1779.1,563.8 v-9 M1779.1,814.6 v-9 M1779.1,1063.7 v-17 M1844.2,312.2 v-4.5 M1844.2,563.8 v-4.5 M1844.2,814.6 v-4.5 M1844.2,1063.7 v-9.5 M1909.4,312.2 v-9 M1909.4,563.8 v-9 M1909.4,814.6 v-9 M1909.4,1063.7 v-17 M1974.5,312.2 v-4.5 M1974.5,563.8 v-4.5 M1974.5,814.6 v-4.5 M1974.5,1063.7 v-9.5 M2039.7,312.2 v-9 M2039.7,563.8 v-9 M2039.7,814.6 v-9 M2039.7,1063.7 v-17 M2104.8,312.2 v-4.5 M2104.8,563.8 v-4.5 M2104.8,814.6 v-4.5 M2104.8,1063.7 v-9.5 M2170.0,312.2 v-9 M2170.0,563.8 v-9 M2170.0,814.6 v-9 M2170.0,1063.7 v-17" stroke-width="3.4"/>
</g>
<g font-family="'Liberation Sans',Arial,sans-serif" fill="#111">
<text x="997.3" y="1122.5" font-size="49.5" text-anchor="middle">350</text>
<text x="1127.6" y="1122.5" font-size="49.5" text-anchor="middle">400</text>
<text x="1257.9" y="1122.5" font-size="49.5" text-anchor="middle">450</text>
<text x="1388.2" y="1122.5" font-size="49.5" text-anchor="middle">500</text>
<text x="1518.5" y="1122.5" font-size="49.5" text-anchor="middle">550</text>
<text x="1648.8" y="1122.5" font-size="49.5" text-anchor="middle">600</text>
<text x="1779.1" y="1122.5" font-size="49.5" text-anchor="middle">650</text>
<text x="1909.4" y="1122.5" font-size="49.5" text-anchor="middle">700</text>
<text x="2039.7" y="1122.5" font-size="49.5" text-anchor="middle">750</text>
<text x="2170.0" y="1122.5" font-size="49.5" text-anchor="middle">800</text>
<text x="1585.5" y="1214.2" font-size="63.5" text-anchor="middle">Wavelength(nm)</text>
<text transform="translate(950.6,601.5) rotate(-90)" font-size="64.6" text-anchor="middle">PL Intensity(a.u.)</text>
<text x="2155" y="139.6" font-size="63" text-anchor="end">CsPb(Cl/Br)<tspan dy="17" font-size="61">3</tspan><tspan dy="-17"> LED</tspan></text>
<text x="2146" y="383" font-size="63" text-anchor="end">CsPbBr<tspan dy="17" font-size="61">3</tspan><tspan dy="-17"> LED</tspan></text>
<text x="2162" y="631" font-size="63" text-anchor="end">CsPb(Br/I)<tspan dy="17" font-size="61">3</tspan><tspan dy="-17"> LED</tspan></text>
<text x="1032.5" y="895" font-size="63" text-anchor="start">CsPbI<tspan dy="17" font-size="61">3</tspan><tspan dy="-17"> LED</tspan></text>
</g>
</g>
<defs><clipPath id="lc"><path d="M826.3,2780.0 826.3,2779.9 826.3,2779.9 826.3,2779.9 826.2,2779.9 826.1,2780.0 826.1,2780.0 826.0,2780.0 825.9,2780.1 825.9,2780.1 825.8,2780.1 825.7,2780.1 825.7,2780.1 825.6,2780.1 825.5,2780.1 825.4,2780.1 825.4,2780.2 825.2,2780.2 825.1,2780.2 825.0,2780.3 824.9,2780.3 824.8,2780.3 824.7,2780.3 824.6,2780.3 824.5,2780.3 824.4,2780.3 824.3,2780.3 824.1,2780.3 824.0,2780.3 823.9,2780.3 823.7,2780.3 823.5,2780.3 823.4,2780.3 823.2,2780.3 823.0,2780.3 822.8,2780.3 822.6,2780.3 822.4,2780.2 822.2,2780.1 821.9,2780.0 821.6,2779.8 821.3,2779.6 820.9,2779.4 820.5,2779.2 820.1,2778.9 819.7,2778.6 819.3,2778.3 818.8,2778.0 818.3,2777.6 817.8,2777.2 817.2,2776.8 816.6,2776.3 816.0,2775.8 815.3,2775.2 814.5,2774.6 813.8,2774.0 813.0,2773.3 812.1,2772.5 811.3,2771.8 810.4,2771.0 809.4,2770.1 808.4,2769.3 807.3,2768.4 806.2,2767.4 804.9,2766.4 803.6,2765.3 802.2,2764.1 800.7,2762.9 799.2,2761.6 797.5,2760.2 795.8,2758.8 794.0,2757.3 792.1,2755.8 790.2,2754.1 788.2,2752.3 786.0,2750.5 783.8,2748.4 781.4,2746.2 779.0,2743.9 776.4,2741.4 773.8,2738.8 771.1,2736.0 768.3,2733.0 765.4,2729.7 762.3,2726.0 759.0,2721.8 755.4,2717.0 751.7,2711.7 747.7,2705.8 743.5,2699.2 739.1,2691.9 734.5,2684.0 729.6,2675.3 724.6,2665.7 719.3,2655.2 713.8,2643.6 708.0,2630.9 702.0,2616.9 695.6,2601.7 688.9,2585.1 681.9,2567.1 674.4,2547.6 666.7,2526.6 658.7,2504.1 650.6,2479.8 642.4,2453.7 634.3,2425.9 626.1,2396.2 618.0,2364.8 609.9,2331.5 601.8,2296.5 593.7,2259.8 585.8,2221.6 578.1,2182.1 570.6,2141.6 563.6,2100.3 557.0,2058.5 551.0,2016.4 545.7,1974.2 540.9,1932.3 536.9,1890.8 533.7,1850.0 531.2,1810.1 529.7,1771.2 529.1,1733.4 529.4,1696.7 530.8,1661.5 533.2,1627.8 536.6,1595.8 541.2,1565.7 546.8,1537.7 553.6,1512.0 561.5,1488.7 570.3,1468.0 579.9,1450.0 590.5,1434.7 601.7,1422.3 613.6,1412.6 626.0,1405.6 638.9,1400.9 652.2,1398.4 665.8,1397.9 679.5,1399.2 693.5,1402.0 707.6,1406.0 721.8,1411.0 736.1,1416.8 750.3,1423.2 764.5,1430.1 778.6,1437.3 792.5,1444.9 806.2,1452.6 819.6,1460.5 832.9,1468.6 846.1,1476.9 859.1,1485.4 872.0,1494.1 884.9,1503.0 897.7,1512.1 910.4,1521.4 923.1,1530.9 935.8,1540.6 948.5,1550.4 961.1,1560.4 973.7,1570.6 986.3,1580.9 998.8,1591.3 1011.3,1601.9 1023.8,1612.6 1036.3,1623.4 1048.7,1634.2 1061.2,1645.2 1073.6,1656.3 1086.1,1667.4 1098.5,1678.6 1111.0,1689.9 1123.5,1701.3 1136.0,1712.7 1148.5,1724.2 1161.0,1735.7 1173.5,1747.3 1185.9,1758.9 1198.4,1770.5 1210.8,1782.1 1223.2,1793.8 1235.6,1805.4 1248.0,1817.1 1260.4,1828.7 1272.7,1840.4 1285.0,1852.0 1297.3,1863.6 1309.6,1875.2 1321.7,1886.7 1333.8,1898.3 1345.9,1909.7 1357.9,1921.1 1369.8,1932.5 1381.6,1943.8 1393.4,1955.0 1405.1,1966.1 1416.7,1977.1 1428.1,1988.1 1439.5,1999.0 1450.8,2009.7 1462.0,2020.3 1473.0,2030.8 1483.9,2041.2 1494.7,2051.4 1505.3,2061.4 1515.7,2071.4 1526.0,2081.2 1536.1,2090.8 1546.1,2100.3 1555.7,2109.5 1565.2,2118.6 1574.4,2127.3 1583.2,2135.8 1591.9,2144.0 1600.3,2152.0 1608.4,2159.8 1616.4,2167.3 1624.2,2174.8 1631.8,2182.0 1639.3,2189.1 1646.5,2195.9 1653.4,2202.5 1660.0,2208.8 1666.4,2214.8 1672.6,2220.6 1678.4,2226.2 1684.1,2231.5 1689.5,2236.7 1694.7,2241.6 1699.7,2246.4 1704.5,2251.0 1709.0,2255.4 1713.4,2259.5 1717.5,2263.5 1721.5,2267.3 1725.3,2270.9 1728.9,2274.4 1732.4,2277.6 1735.7,2280.8 1738.9,2283.8 1741.9,2286.6 1744.8,2289.4 1747.6,2292.0 1750.2,2294.5 1752.7,2296.9 1755.2,2299.3 1757.5,2301.5 1759.8,2303.7 1762.0,2305.8 1764.1,2307.9 1766.2,2309.8 1768.2,2311.7 1770.1,2313.5 1771.9,2315.3 1773.6,2316.9 1775.3,2318.5 1776.9,2320.0 1778.4,2321.5 1779.9,2322.8 1781.3,2324.1 1782.6,2325.4 1783.9,2326.5 1785.0,2327.6 1786.2,2328.7 1787.2,2329.7 1788.2,2330.6 1789.1,2331.5 1790.0,2332.4 1790.8,2333.2 1791.6,2334.0 1792.4,2334.7 1793.1,2335.4 1793.8,2336.0 1794.4,2336.6 1795.0,2337.2 1795.6,2337.7 1796.1,2338.2 1796.5,2338.6 1796.9,2339.0 1797.3,2339.4 1797.7,2339.7 1798.0,2340.0 1798.3,2340.4 1798.7,2340.7 1799.0,2341.0 1799.3,2341.3 1799.6,2341.5 1799.8,2341.8 1800.1,2342.0 1800.3,2342.3 1800.6,2342.5 1800.8,2342.7 1801.0,2342.9 1801.3,2343.2 1801.5,2343.4 1801.8,2343.6 1802.0,2343.9 1802.2,2344.1 1802.5,2344.3 1802.7,2344.5 1802.9,2344.7 1803.1,2344.9 1803.2,2345.0 1803.4,2345.2 1803.5,2345.3 1803.7,2345.4 1803.8,2345.5 1803.9,2345.6 1803.9,2345.7 1804.0,2345.8 1804.1,2345.8 1804.1,2345.9 1804.2,2345.9 1804.2,2346.0 1804.2,2346.0 1804.3,2346.0 1804.3,2346.0Z"/></clipPath>
<filter id="vb" x="0" y="0" width="100%" height="100%" filterUnits="objectBoundingBox"><feGaussianBlur stdDeviation="1.8 3"/></filter>
<linearGradient id="c0" gradientUnits="userSpaceOnUse" x1="645" x2="680"><stop offset="0" stop-color="#0f0"/><stop offset="1" stop-color="#0f0"/></linearGradient>
<linearGradient id="c1" gradientUnits="userSpaceOnUse" x1="645" x2="680"><stop offset="0" stop-color="#0f0"/><stop offset="1" stop-color="#0f0"/></linearGradient>
<linearGradient id="c2" gradientUnits="userSpaceOnUse" x1="633" x2="694"><stop offset="0" stop-color="#0f0"/><stop offset="1" stop-color="#0f0"/></linearGradient>
<linearGradient id="c3" gradientUnits="userSpaceOnUse" x1="620" x2="711"><stop offset="0" stop-color="#0f0"/><stop offset="1" stop-color="#0f0"/></linearGradient>
<linearGradient id="c4" gradientUnits="userSpaceOnUse" x1="612" x2="723"><stop offset="0" stop-color="#0f0"/><stop offset="1" stop-color="#0f0"/></linearGradient>
<linearGradient id="c5" gradientUnits="userSpaceOnUse" x1="605" x2="734"><stop offset="0" stop-color="#0f0"/><stop offset="1" stop-color="#0f0"/></linearGradient>
<linearGradient id="c6" gradientUnits="userSpaceOnUse" x1="600" x2="744"><stop offset="0" stop-color="#0f0"/><stop offset="1" stop-color="#0f0"/></linearGradient>
<linearGradient id="c7" gradientUnits="userSpaceOnUse" x1="595" x2="753"><stop offset="0" stop-color="#0f0"/><stop offset="1" stop-color="#0f0"/></linearGradient>
<linearGradient id="c8" gradientUnits="userSpaceOnUse" x1="591" x2="762"><stop offset="0" stop-color="#0f0"/><stop offset="1" stop-color="#0f0"/></linearGradient>
<linearGradient id="c9" gradientUnits="userSpaceOnUse" x1="587" x2="770"><stop offset="0" stop-color="#0f0"/><stop offset="1" stop-color="#0f0"/></linearGradient>
<linearGradient id="c10" gradientUnits="userSpaceOnUse" x1="583" x2="778"><stop offset="0" stop-color="#0f0"/><stop offset="1" stop-color="#0f0"/></linearGradient>
<linearGradient id="c11" gradientUnits="userSpaceOnUse" x1="580" x2="786"><stop offset="0" stop-color="#0f0"/><stop offset="1" stop-color="#0f0"/></linearGradient>
<linearGradient id="c12" gradientUnits="userSpaceOnUse" x1="577" x2="793"><stop offset="0" stop-color="#0f0"/><stop offset="1" stop-color="#0f0"/></linearGradient>
<linearGradient id="c13" gradientUnits="userSpaceOnUse" x1="574" x2="800"><stop offset="0" stop-color="#0f0"/><stop offset="1" stop-color="#0f0"/></linearGradient>
<linearGradient id="c14" gradientUnits="userSpaceOnUse" x1="572" x2="808"><stop offset="0" stop-color="#0f0"/><stop offset="1" stop-color="#0f0"/></linearGradient>
<linearGradient id="c15" gradientUnits="userSpaceOnUse" x1="569" x2="815"><stop offset="0" stop-color="#0f0"/><stop offset="1" stop-color="#0f0"/></linearGradient>
<linearGradient id="c16" gradientUnits="userSpaceOnUse" x1="567" x2="822"><stop offset="0" stop-color="#0f0"/><stop offset="1" stop-color="#0f0"/></linearGradient>
<linearGradient id="c17" gradientUnits="userSpaceOnUse" x1="565" x2="828"><stop offset="0" stop-color="#0f0"/><stop offset="1" stop-color="#0f0"/></linearGradient>
<linearGradient id="c18" gradientUnits="userSpaceOnUse" x1="563" x2="835"><stop offset="0" stop-color="#0f0"/><stop offset="1" stop-color="#0f0"/></linearGradient>
<linearGradient id="c19" gradientUnits="userSpaceOnUse" x1="561" x2="841"><stop offset="0" stop-color="#0f0"/><stop offset="1" stop-color="#0f0"/></linearGradient>
<linearGradient id="c20" gradientUnits="userSpaceOnUse" x1="559" x2="848"><stop offset="0" stop-color="#0f0"/><stop offset="1" stop-color="#0f0"/></linearGradient>
<linearGradient id="c21" gradientUnits="userSpaceOnUse" x1="557" x2="854"><stop offset="0" stop-color="#0f0"/><stop offset="1" stop-color="#0f0"/></linearGradient>
<linearGradient id="c22" gradientUnits="userSpaceOnUse" x1="555" x2="860"><stop offset="0" stop-color="#0f0"/><stop offset="1" stop-color="#0f0"/></linearGradient>
<linearGradient id="c23" gradientUnits="userSpaceOnUse" x1="554" x2="867"><stop offset="0" stop-color="#0f0"/><stop offset="1" stop-color="#0f0"/></linearGradient>
<linearGradient id="c24" gradientUnits="userSpaceOnUse" x1="552" x2="873"><stop offset="0" stop-color="#0f0"/><stop offset="1" stop-color="#0f0"/></linearGradient>
<linearGradient id="c25" gradientUnits="userSpaceOnUse" x1="551" x2="878"><stop offset="0" stop-color="#0f0"/><stop offset="1" stop-color="#0f0"/></linearGradient>
<linearGradient id="c26" gradientUnits="userSpaceOnUse" x1="549" x2="884"><stop offset="0" stop-color="#0f0"/><stop offset="1" stop-color="#0f0"/></linearGradient>
<linearGradient id="c27" gradientUnits="userSpaceOnUse" x1="548" x2="890"><stop offset="0" stop-color="#0f0"/><stop offset="1" stop-color="#0f0"/></linearGradient>
<linearGradient id="c28" gradientUnits="userSpaceOnUse" x1="547" x2="896"><stop offset="0" stop-color="#00ff05"/><stop offset="0.0029" stop-color="#0f0"/><stop offset="1" stop-color="#0f0"/></linearGradient>
<linearGradient id="c29" gradientUnits="userSpaceOnUse" x1="545" x2="901"><stop offset="0" stop-color="#00ff1a"/><stop offset="0.0169" stop-color="#00ff0f"/><stop offset="0.0197" stop-color="#00ff0b"/><stop offset="0.0225" stop-color="#0f0"/><stop offset="1" stop-color="#0f0"/></linearGradient>
<linearGradient id="c30" gradientUnits="userSpaceOnUse" x1="544" x2="907"><stop offset="0" stop-color="#00ff21"/><stop offset="0.0331" stop-color="#0f1"/><stop offset="0.0386" stop-color="#00ff0a"/><stop offset="0.0413" stop-color="#0f0"/><stop offset="1" stop-color="#0f0"/></linearGradient>
<linearGradient id="c31" gradientUnits="userSpaceOnUse" x1="543" x2="913"><stop offset="0" stop-color="#00ff26"/><stop offset="0.0459" stop-color="#00ff15"/><stop offset="0.0541" stop-color="#00ff0e"/><stop offset="0.0595" stop-color="#0f0"/><stop offset="1" stop-color="#0f0"/></linearGradient>
<linearGradient id="c32" gradientUnits="userSpaceOnUse" x1="542" x2="918"><stop offset="0" stop-color="#00ff2b"/><stop offset="0.0585" stop-color="#00ff18"/><stop offset="0.0718" stop-color="#00ff0d"/><stop offset="0.0771" stop-color="#0f0"/><stop offset="1" stop-color="#0f0"/></linearGradient>
<linearGradient id="c33" gradientUnits="userSpaceOnUse" x1="541" x2="923"><stop offset="0" stop-color="#00ff2f"/><stop offset="0.0707" stop-color="#00ff1a"/><stop offset="0.0864" stop-color="#00ff10"/><stop offset="0.0942" stop-color="#0f0"/><stop offset="1" stop-color="#0f0"/></linearGradient>
<linearGradient id="c34" gradientUnits="userSpaceOnUse" x1="540" x2="929"><stop offset="0" stop-color="#00ff32"/><stop offset="0.0848" stop-color="#00ff1b"/><stop offset="0.1028" stop-color="#00ff0f"/><stop offset="0.1105" stop-color="#0f0"/><stop offset="1" stop-color="#0f0"/></linearGradient>
<linearGradient id="c35" gradientUnits="userSpaceOnUse" x1="539" x2="934"><stop offset="0" stop-color="#00ff35"/><stop offset="0.0962" stop-color="#00ff1d"/><stop offset="0.119" stop-color="#00ff0f"/><stop offset="0.1215" stop-color="#00ff0b"/><stop offset="0.1241" stop-color="#0f0"/><stop offset="1" stop-color="#0f0"/></linearGradient>
<linearGradient id="c36" gradientUnits="userSpaceOnUse" x1="538" x2="939"><stop offset="0" stop-color="#00ff38"/><stop offset="0.1097" stop-color="#00ff1e"/><stop offset="0.1322" stop-color="#0f1"/><stop offset="0.1372" stop-color="#00ff0a"/><stop offset="0.1397" stop-color="#0f0"/><stop offset="1" stop-color="#0f0"/></linearGradient>
<linearGradient id="c37" gradientUnits="userSpaceOnUse" x1="537" x2="945"><stop offset="0" stop-color="#00ff3b"/><stop offset="0.0711" stop-color="#00ff2e"/><stop offset="0.1201" stop-color="#00ff20"/><stop offset="0.1446" stop-color="#00ff13"/><stop offset="0.152" stop-color="#00ff09"/><stop offset="0.1544" stop-color="#0f0"/><stop offset="1" stop-color="#0f0"/></linearGradient>
<linearGradient id="c38" gradientUnits="userSpaceOnUse" x1="536" x2="950"><stop offset="0" stop-color="#00ff3d"/><stop offset="0.0773" stop-color="#00ff30"/><stop offset="0.1304" stop-color="#0f2"/><stop offset="0.1594" stop-color="#00ff13"/><stop offset="0.1643" stop-color="#00ff0d"/><stop offset="0.1691" stop-color="#0f0"/><stop offset="1" stop-color="#0f0"/></linearGradient>
<linearGradient id="c39" gradientUnits="userSpaceOnUse" x1="535" x2="955"><stop offset="0" stop-color="#00ff40"/><stop offset="0.0833" stop-color="#00ff32"/><stop offset="0.1405" stop-color="#00ff24"/><stop offset="0.1714" stop-color="#00ff14"/><stop offset="0.1786" stop-color="#00ff0c"/><stop offset="0.1833" stop-color="#0f0"/><stop offset="1" stop-color="#0f0"/></linearGradient>
<linearGradient id="c40" gradientUnits="userSpaceOnUse" x1="534" x2="960"><stop offset="0" stop-color="#00ff42"/><stop offset="0.0915" stop-color="#00ff34"/><stop offset="0.1526" stop-color="#00ff24"/><stop offset="0.1854" stop-color="#00ff14"/><stop offset="0.1925" stop-color="#00ff0c"/><stop offset="0.1972" stop-color="#0f0"/><stop offset="1" stop-color="#0f0"/></linearGradient>
<linearGradient id="c41" gradientUnits="userSpaceOnUse" x1="534" x2="965"><stop offset="0" stop-color="#0f4"/><stop offset="0.0951" stop-color="#00ff36"/><stop offset="0.1601" stop-color="#00ff26"/><stop offset="0.1972" stop-color="#00ff14"/><stop offset="0.2042" stop-color="#00ff0b"/><stop offset="0.2065" stop-color="#0f0"/><stop offset="1" stop-color="#0f0"/></linearGradient>
<linearGradient id="c42" gradientUnits="userSpaceOnUse" x1="533" x2="970"><stop offset="0" stop-color="#00ff46"/><stop offset="0.103" stop-color="#00ff37"/><stop offset="0.1716" stop-color="#00ff27"/><stop offset="0.2082" stop-color="#00ff15"/><stop offset="0.2174" stop-color="#00ff0a"/><stop offset="0.2197" stop-color="#0f0"/><stop offset="1" stop-color="#0f0"/></linearGradient>
<linearGradient id="c43" gradientUnits="userSpaceOnUse" x1="532" x2="975"><stop offset="0" stop-color="#00ff48"/><stop offset="0.1084" stop-color="#00ff39"/><stop offset="0.1806" stop-color="#00ff28"/><stop offset="0.219" stop-color="#00ff17"/><stop offset="0.228" stop-color="#00ff0e"/><stop offset="0.2325" stop-color="#0f0"/><stop offset="1" stop-color="#0f0"/></linearGradient>
<linearGradient id="c44" gradientUnits="userSpaceOnUse" x1="531" x2="980"><stop offset="0" stop-color="#00ff4a"/><stop offset="0.1136" stop-color="#00ff3a"/><stop offset="0.1893" stop-color="#00ff29"/><stop offset="0.2316" stop-color="#00ff17"/><stop offset="0.2405" stop-color="#00ff0d"/><stop offset="0.245" stop-color="#0f0"/><stop offset="1" stop-color="#0f0"/></linearGradient>
<linearGradient id="c45" gradientUnits="userSpaceOnUse" x1="531" x2="985"><stop offset="0" stop-color="#00ff4c"/><stop offset="0.1189" stop-color="#00ff3b"/><stop offset="0.1982" stop-color="#00ff2a"/><stop offset="0.2401" stop-color="#00ff18"/><stop offset="0.2489" stop-color="#00ff10"/><stop offset="0.2555" stop-color="#0f0"/><stop offset="1" stop-color="#0f0"/></linearGradient>
<linearGradient id="c46" gradientUnits="userSpaceOnUse" x1="530" x2="990"><stop offset="0" stop-color="#00ff4e"/><stop offset="0.1239" stop-color="#00ff3d"/><stop offset="0.2065" stop-color="#00ff2b"/><stop offset="0.2522" stop-color="#00ff18"/><stop offset="0.2609" stop-color="#00ff0f"/><stop offset="0.2652" stop-color="#00ff02"/><stop offset="0.2674" stop-color="#0f0"/><stop offset="1" stop-color="#0f0"/></linearGradient>
<linearGradient id="c47" gradientUnits="userSpaceOnUse" x1="529" x2="995"><stop offset="0" stop-color="#00ff50"/><stop offset="0.1288" stop-color="#00ff3f"/><stop offset="0.2167" stop-color="#00ff2c"/><stop offset="0.2639" stop-color="#00ff18"/><stop offset="0.2725" stop-color="#00ff0f"/><stop offset="0.2747" stop-color="#00ff0b"/><stop offset="0.2768" stop-color="#0f0"/><stop offset="1" stop-color="#0f0"/></linearGradient>
<linearGradient id="c48" gradientUnits="userSpaceOnUse" x1="529" x2="1000"><stop offset="0" stop-color="#00ff51"/><stop offset="0.1316" stop-color="#00ff40"/><stop offset="0.2229" stop-color="#00ff2d"/><stop offset="0.2718" stop-color="#00ff19"/><stop offset="0.2824" stop-color="#00ff0e"/><stop offset="0.2866" stop-color="#0f0"/><stop offset="1" stop-color="#0f0"/></linearGradient>
<linearGradient id="c49" gradientUnits="userSpaceOnUse" x1="528" x2="1004"><stop offset="0" stop-color="#00ff53"/><stop offset="0.1366" stop-color="#00ff41"/><stop offset="0.2311" stop-color="#00ff2e"/><stop offset="0.2815" stop-color="#00ff1a"/><stop offset="0.2941" stop-color="#00ff0e"/><stop offset="0.2983" stop-color="#0f0"/><stop offset="1" stop-color="#0f0"/></linearGradient>
<linearGradient id="c50" gradientUnits="userSpaceOnUse" x1="528" x2="1009"><stop offset="0" stop-color="#00ff54"/><stop offset="0.1414" stop-color="#00ff43"/><stop offset="0.2391" stop-color="#00ff2f"/><stop offset="0.2911" stop-color="#00ff1a"/><stop offset="0.3015" stop-color="#00ff10"/><stop offset="0.3077" stop-color="#0f0"/><stop offset="1" stop-color="#0f0"/></linearGradient>
<linearGradient id="c51" gradientUnits="userSpaceOnUse" x1="527" x2="1014"><stop offset="0" stop-color="#00ff56"/><stop offset="0.1458" stop-color="#0f4"/><stop offset="0.2464" stop-color="#00ff30"/><stop offset="0.2998" stop-color="#00ff1b"/><stop offset="0.3121" stop-color="#00ff10"/><stop offset="0.3183" stop-color="#0f0"/><stop offset="1" stop-color="#0f0"/></linearGradient>
<linearGradient id="c52" gradientUnits="userSpaceOnUse" x1="527" x2="1019"><stop offset="0" stop-color="#00ff57"/><stop offset="0.1504" stop-color="#00ff45"/><stop offset="0.2541" stop-color="#00ff31"/><stop offset="0.3089" stop-color="#00ff1b"/><stop offset="0.3211" stop-color="#00ff0f"/><stop offset="0.3232" stop-color="#00ff0c"/><stop offset="0.3252" stop-color="#0f0"/><stop offset="1" stop-color="#0f0"/></linearGradient>
<linearGradient id="c53" gradientUnits="userSpaceOnUse" x1="526" x2="1023"><stop offset="0" stop-color="#00ff59"/><stop offset="0.1549" stop-color="#00ff46"/><stop offset="0.2616" stop-color="#00ff32"/><stop offset="0.3199" stop-color="#00ff1b"/><stop offset="0.332" stop-color="#00ff0f"/><stop offset="0.334" stop-color="#00ff0b"/><stop offset="0.336" stop-color="#0f0"/><stop offset="1" stop-color="#0f0"/></linearGradient>
<linearGradient id="c54" gradientUnits="userSpaceOnUse" x1="526" x2="1028"><stop offset="0" stop-color="#00ff5a"/><stop offset="0.1594" stop-color="#00ff47"/><stop offset="0.2689" stop-color="#00ff32"/><stop offset="0.3267" stop-color="#00ff1c"/><stop offset="0.3406" stop-color="#00ff0e"/><stop offset="0.3446" stop-color="#0f0"/><stop offset="1" stop-color="#0f0"/></linearGradient>
<linearGradient id="c55" gradientUnits="userSpaceOnUse" x1="525" x2="1033"><stop offset="0" stop-color="#00ff5c"/><stop offset="0.1634" stop-color="#00ff49"/><stop offset="0.2756" stop-color="#0f3"/><stop offset="0.3366" stop-color="#00ff1c"/><stop offset="0.3484" stop-color="#0f1"/><stop offset="0.3543" stop-color="#0f0"/><stop offset="1" stop-color="#0f0"/></linearGradient>
<linearGradient id="c56" gradientUnits="userSpaceOnUse" x1="525" x2="1037"><stop offset="0" stop-color="#00ff5d"/><stop offset="0.168" stop-color="#00ff4a"/><stop offset="0.2812" stop-color="#00ff34"/><stop offset="0.3438" stop-color="#00ff1d"/><stop offset="0.3574" stop-color="#0f1"/><stop offset="0.3633" stop-color="#0f0"/><stop offset="1" stop-color="#0f0"/></linearGradient>
<linearGradient id="c57" gradientUnits="userSpaceOnUse" x1="524" x2="1042"><stop offset="0" stop-color="#00ff5e"/><stop offset="0.1718" stop-color="#00ff4b"/><stop offset="0.2896" stop-color="#00ff35"/><stop offset="0.3533" stop-color="#00ff1d"/><stop offset="0.3668" stop-color="#00ff10"/><stop offset="0.3726" stop-color="#0f0"/><stop offset="1" stop-color="#0f0"/></linearGradient>
<linearGradient id="c58" gradientUnits="userSpaceOnUse" x1="524" x2="1047"><stop offset="0" stop-color="#00ff60"/><stop offset="0.1759" stop-color="#00ff4c"/><stop offset="0.2945" stop-color="#00ff36"/><stop offset="0.3595" stop-color="#00ff1e"/><stop offset="0.3748" stop-color="#00ff10"/><stop offset="0.3767" stop-color="#00ff0c"/><stop offset="0.3786" stop-color="#0f0"/><stop offset="1" stop-color="#0f0"/></linearGradient>
<linearGradient id="c59" gradientUnits="userSpaceOnUse" x1="524" x2="1051"><stop offset="0" stop-color="#00ff61"/><stop offset="0.1803" stop-color="#00ff4d"/><stop offset="0.3017" stop-color="#00ff36"/><stop offset="0.3681" stop-color="#00ff1e"/><stop offset="0.3814" stop-color="#00ff12"/><stop offset="0.3852" stop-color="#00ff0b"/><stop offset="0.3871" stop-color="#0f0"/><stop offset="1" stop-color="#0f0"/></linearGradient>
<linearGradient id="c60" gradientUnits="userSpaceOnUse" x1="523" x2="1056"><stop offset="0" stop-color="#00ff62"/><stop offset="0.1839" stop-color="#00ff4e"/><stop offset="0.3077" stop-color="#00ff37"/><stop offset="0.3752" stop-color="#00ff1f"/><stop offset="0.3902" stop-color="#00ff12"/><stop offset="0.394" stop-color="#00ff0a"/><stop offset="0.3959" stop-color="#0f0"/><stop offset="1" stop-color="#0f0"/></linearGradient>
<linearGradient id="c61" gradientUnits="userSpaceOnUse" x1="523" x2="1060"><stop offset="0" stop-color="#00ff64"/><stop offset="0.1881" stop-color="#00ff4f"/><stop offset="0.3147" stop-color="#00ff38"/><stop offset="0.3836" stop-color="#00ff1f"/><stop offset="0.3985" stop-color="#0f1"/><stop offset="0.4041" stop-color="#0f0"/><stop offset="1" stop-color="#0f0"/></linearGradient>
<linearGradient id="c62" gradientUnits="userSpaceOnUse" x1="523" x2="1065"><stop offset="0" stop-color="#00ff65"/><stop offset="0.19" stop-color="#00ff50"/><stop offset="0.3192" stop-color="#00ff39"/><stop offset="0.3893" stop-color="#00ff20"/><stop offset="0.4041" stop-color="#00ff13"/><stop offset="0.4077" stop-color="#00ff0d"/><stop offset="0.4114" stop-color="#0f0"/><stop offset="1" stop-color="#0f0"/></linearGradient>
<linearGradient id="c63" gradientUnits="userSpaceOnUse" x1="522" x2="1069"><stop offset="0" stop-color="#0f6"/><stop offset="0.1938" stop-color="#00ff51"/><stop offset="0.3254" stop-color="#00ff3a"/><stop offset="0.3985" stop-color="#00ff20"/><stop offset="0.4132" stop-color="#00ff13"/><stop offset="0.4205" stop-color="#0f0"/><stop offset="1" stop-color="#0f0"/></linearGradient>
<linearGradient id="c64" gradientUnits="userSpaceOnUse" x1="522" x2="1074"><stop offset="0" stop-color="#00ff67"/><stop offset="0.1975" stop-color="#00ff52"/><stop offset="0.3315" stop-color="#00ff3a"/><stop offset="0.404" stop-color="#00ff21"/><stop offset="0.4203" stop-color="#00ff13"/><stop offset="0.4239" stop-color="#00ff0b"/><stop offset="0.4257" stop-color="#0f0"/><stop offset="1" stop-color="#0f0"/></linearGradient>
<linearGradient id="c65" gradientUnits="userSpaceOnUse" x1="522" x2="1078"><stop offset="0" stop-color="#00ff68"/><stop offset="0.2014" stop-color="#00ff53"/><stop offset="0.3381" stop-color="#00ff3b"/><stop offset="0.4119" stop-color="#00ff21"/><stop offset="0.4281" stop-color="#00ff12"/><stop offset="0.4317" stop-color="#00ff0a"/><stop offset="0.4335" stop-color="#0f0"/><stop offset="1" stop-color="#0f0"/></linearGradient>
<linearGradient id="c66" gradientUnits="userSpaceOnUse" x1="522" x2="1083"><stop offset="0" stop-color="#00ff6a"/><stop offset="0.2032" stop-color="#00ff54"/><stop offset="0.3422" stop-color="#00ff3c"/><stop offset="0.4171" stop-color="#0f2"/><stop offset="0.4349" stop-color="#00ff12"/><stop offset="0.4385" stop-color="#00ff09"/><stop offset="0.4403" stop-color="#0f0"/><stop offset="1" stop-color="#0f0"/></linearGradient>
<linearGradient id="c67" gradientUnits="userSpaceOnUse" x1="521" x2="1087"><stop offset="0" stop-color="#00ff6b"/><stop offset="0.2067" stop-color="#0f5"/><stop offset="0.3481" stop-color="#00ff3d"/><stop offset="0.394" stop-color="#00ff30"/><stop offset="0.4258" stop-color="#00ff21"/><stop offset="0.4417" stop-color="#00ff14"/><stop offset="0.4452" stop-color="#00ff0e"/><stop offset="0.4488" stop-color="#0f0"/><stop offset="1" stop-color="#0f0"/></linearGradient>
<linearGradient id="c68" gradientUnits="userSpaceOnUse" x1="521" x2="1092"><stop offset="0" stop-color="#00ff6c"/><stop offset="0.2102" stop-color="#00ff56"/><stop offset="0.3538" stop-color="#00ff3d"/><stop offset="0.4308" stop-color="#0f2"/><stop offset="0.4483" stop-color="#00ff13"/><stop offset="0.4518" stop-color="#00ff0d"/><stop offset="0.4553" stop-color="#0f0"/><stop offset="1" stop-color="#0f0"/></linearGradient>
<linearGradient id="c69" gradientUnits="userSpaceOnUse" x1="521" x2="1096"><stop offset="0" stop-color="#00ff6d"/><stop offset="0.2122" stop-color="#00ff57"/><stop offset="0.3583" stop-color="#00ff3e"/><stop offset="0.4052" stop-color="#00ff31"/><stop offset="0.4383" stop-color="#0f2"/><stop offset="0.4557" stop-color="#00ff13"/><stop offset="0.4591" stop-color="#00ff0c"/><stop offset="0.4609" stop-color="#0f0"/><stop offset="1" stop-color="#0f0"/></linearGradient>
<linearGradient id="c70" gradientUnits="userSpaceOnUse" x1="521" x2="1101"><stop offset="0" stop-color="#00ff6e"/><stop offset="0.2155" stop-color="#00ff58"/><stop offset="0.3638" stop-color="#00ff3f"/><stop offset="0.4121" stop-color="#00ff31"/><stop offset="0.4448" stop-color="#0f2"/><stop offset="0.4621" stop-color="#00ff13"/><stop offset="0.4655" stop-color="#00ff0b"/><stop offset="0.4672" stop-color="#0f0"/><stop offset="1" stop-color="#0f0"/></linearGradient>
<linearGradient id="c71" gradientUnits="userSpaceOnUse" x1="521" x2="1105"><stop offset="0" stop-color="#00ff6f"/><stop offset="0.2192" stop-color="#00ff59"/><stop offset="0.3682" stop-color="#00ff40"/><stop offset="0.4178" stop-color="#00ff32"/><stop offset="0.4503" stop-color="#00ff23"/><stop offset="0.4692" stop-color="#00ff12"/><stop offset="0.4726" stop-color="#00ff0a"/><stop offset="0.4743" stop-color="#0f0"/><stop offset="1" stop-color="#0f0"/></linearGradient>
<linearGradient id="c72" gradientUnits="userSpaceOnUse" x1="520" x2="1110"><stop offset="0" stop-color="#00ff71"/><stop offset="0.222" stop-color="#00ff5a"/><stop offset="0.3746" stop-color="#00ff40"/><stop offset="0.4237" stop-color="#00ff32"/><stop offset="0.4576" stop-color="#00ff23"/><stop offset="0.4746" stop-color="#00ff14"/><stop offset="0.478" stop-color="#00ff0e"/><stop offset="0.4814" stop-color="#0f0"/><stop offset="1" stop-color="#0f0"/></linearGradient>
<linearGradient id="c73" gradientUnits="userSpaceOnUse" x1="520" x2="1114"><stop offset="0" stop-color="#00ff72"/><stop offset="0.2256" stop-color="#00ff5b"/><stop offset="0.3788" stop-color="#00ff41"/><stop offset="0.4293" stop-color="#0f3"/><stop offset="0.463" stop-color="#00ff24"/><stop offset="0.4815" stop-color="#00ff14"/><stop offset="0.4848" stop-color="#00ff0e"/><stop offset="0.4882" stop-color="#0f0"/><stop offset="1" stop-color="#0f0"/></linearGradient>
<linearGradient id="c74" gradientUnits="userSpaceOnUse" x1="520" x2="1118"><stop offset="0" stop-color="#00ff73"/><stop offset="0.2291" stop-color="#00ff5c"/><stop offset="0.3846" stop-color="#00ff42"/><stop offset="0.4348" stop-color="#00ff34"/><stop offset="0.4699" stop-color="#00ff24"/><stop offset="0.4883" stop-color="#00ff14"/><stop offset="0.4916" stop-color="#00ff0d"/><stop offset="0.495" stop-color="#0f0"/><stop offset="1" stop-color="#0f0"/></linearGradient>
<linearGradient id="c75" gradientUnits="userSpaceOnUse" x1="520" x2="1123"><stop offset="0" stop-color="#00ff74"/><stop offset="0.2305" stop-color="#00ff5d"/><stop offset="0.3881" stop-color="#00ff42"/><stop offset="0.4395" stop-color="#00ff34"/><stop offset="0.4743" stop-color="#00ff25"/><stop offset="0.4942" stop-color="#00ff13"/><stop offset="0.4975" stop-color="#00ff0c"/><stop offset="0.4992" stop-color="#0f0"/><stop offset="1" stop-color="#0f0"/></linearGradient>
<linearGradient id="c76" gradientUnits="userSpaceOnUse" x1="520" x2="1127"><stop offset="0" stop-color="#00ff75"/><stop offset="0.2339" stop-color="#00ff5e"/><stop offset="0.3937" stop-color="#00ff43"/><stop offset="0.4465" stop-color="#00ff34"/><stop offset="0.4811" stop-color="#00ff25"/><stop offset="0.4992" stop-color="#00ff15"/><stop offset="0.5041" stop-color="#00ff0b"/><stop offset="0.5058" stop-color="#0f0"/><stop offset="1" stop-color="#0f0"/></linearGradient>
<linearGradient id="c77" gradientUnits="userSpaceOnUse" x1="520" x2="1132"><stop offset="0" stop-color="#00ff76"/><stop offset="0.2353" stop-color="#00ff5f"/><stop offset="0.3971" stop-color="#0f4"/><stop offset="0.4493" stop-color="#00ff35"/><stop offset="0.4853" stop-color="#00ff26"/><stop offset="0.5049" stop-color="#00ff15"/><stop offset="0.5098" stop-color="#00ff0a"/><stop offset="0.5114" stop-color="#0f0"/><stop offset="1" stop-color="#0f0"/></linearGradient>
<linearGradient id="c78" gradientUnits="userSpaceOnUse" x1="520" x2="1136"><stop offset="0" stop-color="#0f7"/><stop offset="0.2386" stop-color="#00ff60"/><stop offset="0.4026" stop-color="#0f4"/><stop offset="0.4562" stop-color="#00ff35"/><stop offset="0.4919" stop-color="#00ff26"/><stop offset="0.5114" stop-color="#00ff15"/><stop offset="0.5146" stop-color="#00ff0f"/><stop offset="0.5179" stop-color="#0f0"/><stop offset="1" stop-color="#0f0"/></linearGradient>
<linearGradient id="c79" gradientUnits="userSpaceOnUse" x1="520" x2="1140"><stop offset="0" stop-color="#00ff78"/><stop offset="0.2419" stop-color="#00ff60"/><stop offset="0.4065" stop-color="#00ff45"/><stop offset="0.4597" stop-color="#00ff37"/><stop offset="0.4968" stop-color="#00ff27"/><stop offset="0.5161" stop-color="#00ff17"/><stop offset="0.521" stop-color="#00ff0e"/><stop offset="0.5242" stop-color="#0f0"/><stop offset="1" stop-color="#0f0"/></linearGradient>
<linearGradient id="c80" gradientUnits="userSpaceOnUse" x1="520" x2="1145"><stop offset="0" stop-color="#00ff79"/><stop offset="0.2448" stop-color="#00ff61"/><stop offset="0.4112" stop-color="#00ff46"/><stop offset="0.4656" stop-color="#00ff37"/><stop offset="0.5024" stop-color="#00ff27"/><stop offset="0.5216" stop-color="#00ff16"/><stop offset="0.5264" stop-color="#00ff0d"/><stop offset="0.5296" stop-color="#0f0"/><stop offset="1" stop-color="#0f0"/></linearGradient>
<linearGradient id="c81" gradientUnits="userSpaceOnUse" x1="520" x2="1149"><stop offset="0" stop-color="#00ff7a"/><stop offset="0.2464" stop-color="#00ff62"/><stop offset="0.4149" stop-color="#00ff47"/><stop offset="0.469" stop-color="#00ff38"/><stop offset="0.5072" stop-color="#00ff27"/><stop offset="0.5278" stop-color="#00ff16"/><stop offset="0.5326" stop-color="#00ff0c"/><stop offset="0.5342" stop-color="#0f0"/><stop offset="1" stop-color="#0f0"/></linearGradient>
<linearGradient id="c82" gradientUnits="userSpaceOnUse" x1="520" x2="1153"><stop offset="0" stop-color="#00ff7b"/><stop offset="0.2496" stop-color="#00ff63"/><stop offset="0.4202" stop-color="#00ff47"/><stop offset="0.4755" stop-color="#00ff38"/><stop offset="0.5134" stop-color="#00ff27"/><stop offset="0.534" stop-color="#00ff16"/><stop offset="0.5387" stop-color="#00ff0b"/><stop offset="0.5403" stop-color="#0f0"/><stop offset="1" stop-color="#0f0"/></linearGradient>
<linearGradient id="c83" gradientUnits="userSpaceOnUse" x1="520" x2="1158"><stop offset="0" stop-color="#00ff7c"/><stop offset="0.2508" stop-color="#00ff64"/><stop offset="0.4232" stop-color="#00ff48"/><stop offset="0.4796" stop-color="#00ff39"/><stop offset="0.5172" stop-color="#00ff28"/><stop offset="0.5392" stop-color="#00ff15"/><stop offset="0.5439" stop-color="#00ff0a"/><stop offset="0.5455" stop-color="#0f0"/><stop offset="1" stop-color="#0f0"/></linearGradient>
<linearGradient id="c84" gradientUnits="userSpaceOnUse" x1="520" x2="1162"><stop offset="0" stop-color="#00ff7d"/><stop offset="0.2539" stop-color="#00ff65"/><stop offset="0.4283" stop-color="#00ff48"/><stop offset="0.4844" stop-color="#00ff39"/><stop offset="0.5234" stop-color="#00ff28"/><stop offset="0.5436" stop-color="#00ff17"/><stop offset="0.5483" stop-color="#00ff0f"/><stop offset="0.5514" stop-color="#0f0"/><stop offset="1" stop-color="#0f0"/></linearGradient>
<linearGradient id="c85" gradientUnits="userSpaceOnUse" x1="520" x2="1166"><stop offset="0" stop-color="#00ff7e"/><stop offset="0.257" stop-color="#0f6"/><stop offset="0.4319" stop-color="#00ff49"/><stop offset="0.4892" stop-color="#00ff3a"/><stop offset="0.5279" stop-color="#00ff29"/><stop offset="0.5495" stop-color="#00ff17"/><stop offset="0.5542" stop-color="#00ff0e"/><stop offset="0.5573" stop-color="#0f0"/><stop offset="1" stop-color="#0f0"/></linearGradient>
<linearGradient id="c86" gradientUnits="userSpaceOnUse" x1="520" x2="1171"><stop offset="0" stop-color="#00ff7f"/><stop offset="0.2596" stop-color="#00ff67"/><stop offset="0.4363" stop-color="#00ff4a"/><stop offset="0.4931" stop-color="#00ff3a"/><stop offset="0.533" stop-color="#00ff29"/><stop offset="0.5545" stop-color="#00ff17"/><stop offset="0.5591" stop-color="#00ff0d"/><stop offset="0.5607" stop-color="#00ff02"/><stop offset="0.5622" stop-color="#0f0"/><stop offset="0.9939" stop-color="#0f0"/><stop offset="0.9969" stop-color="#1eff00"/><stop offset="1" stop-color="#2cff00"/></linearGradient>
<linearGradient id="c87" gradientUnits="userSpaceOnUse" x1="520" x2="1175"><stop offset="0" stop-color="#00ff80"/><stop offset="0.2626" stop-color="#00ff67"/><stop offset="0.4412" stop-color="#00ff4a"/><stop offset="0.4992" stop-color="#00ff3a"/><stop offset="0.5389" stop-color="#00ff29"/><stop offset="0.5603" stop-color="#00ff16"/><stop offset="0.5649" stop-color="#00ff0c"/><stop offset="0.5664" stop-color="#0f0"/><stop offset="0.9863" stop-color="#0f0"/><stop offset="0.9878" stop-color="#19ff00"/><stop offset="0.9893" stop-color="#23ff00"/><stop offset="0.9939" stop-color="#34ff00"/><stop offset="1" stop-color="#43ff00"/></linearGradient>
<linearGradient id="c88" gradientUnits="userSpaceOnUse" x1="520" x2="1179"><stop offset="0" stop-color="#00ff81"/><stop offset="0.264" stop-color="#00ff68"/><stop offset="0.4446" stop-color="#00ff4b"/><stop offset="0.5038" stop-color="#00ff3b"/><stop offset="0.5432" stop-color="#00ff2a"/><stop offset="0.5645" stop-color="#00ff18"/><stop offset="0.569" stop-color="#00ff10"/><stop offset="0.5706" stop-color="#00ff0b"/><stop offset="0.5721" stop-color="#0f0"/><stop offset="0.9772" stop-color="#0f0"/><stop offset="0.9788" stop-color="#13ff00"/><stop offset="0.9803" stop-color="#20ff00"/><stop offset="0.9833" stop-color="#2eff00"/><stop offset="0.9894" stop-color="#3eff00"/><stop offset="1" stop-color="#51ff00"/></linearGradient>
<linearGradient id="c89" gradientUnits="userSpaceOnUse" x1="520" x2="1184"><stop offset="0" stop-color="#00ff82"/><stop offset="0.2651" stop-color="#00ff69"/><stop offset="0.4473" stop-color="#00ff4c"/><stop offset="0.5075" stop-color="#00ff3c"/><stop offset="0.5482" stop-color="#00ff2a"/><stop offset="0.5693" stop-color="#00ff18"/><stop offset="0.5738" stop-color="#00ff0f"/><stop offset="0.5768" stop-color="#0f0"/><stop offset="0.9684" stop-color="#0f0"/><stop offset="0.9699" stop-color="#1cff00"/><stop offset="0.9759" stop-color="#35ff00"/><stop offset="0.9864" stop-color="#4cff00"/><stop offset="1" stop-color="#5fff00"/></linearGradient>
<linearGradient id="c90" gradientUnits="userSpaceOnUse" x1="520" x2="1188"><stop offset="0" stop-color="#00ff83"/><stop offset="0.2695" stop-color="#00ff6a"/><stop offset="0.4521" stop-color="#00ff4d"/><stop offset="0.512" stop-color="#00ff3c"/><stop offset="0.5524" stop-color="#00ff2b"/><stop offset="0.5749" stop-color="#00ff18"/><stop offset="0.5793" stop-color="#00ff0f"/><stop offset="0.5823" stop-color="#0f0"/><stop offset="0.9596" stop-color="#0f0"/><stop offset="0.9611" stop-color="#17ff00"/><stop offset="0.9626" stop-color="#2f0"/><stop offset="0.9686" stop-color="#38ff00"/><stop offset="0.9805" stop-color="#50ff00"/><stop offset="1" stop-color="#69ff00"/></linearGradient>
<linearGradient id="c91" gradientUnits="userSpaceOnUse" x1="520" x2="1192"><stop offset="0" stop-color="#00ff84"/><stop offset="0.2708" stop-color="#00ff6b"/><stop offset="0.4554" stop-color="#00ff4d"/><stop offset="0.5164" stop-color="#00ff3d"/><stop offset="0.558" stop-color="#00ff2b"/><stop offset="0.5804" stop-color="#00ff17"/><stop offset="0.5848" stop-color="#00ff0e"/><stop offset="0.5878" stop-color="#0f0"/><stop offset="0.9509" stop-color="#0f0"/><stop offset="0.9539" stop-color="#1eff00"/><stop offset="0.9554" stop-color="#26ff00"/><stop offset="0.9628" stop-color="#3eff00"/><stop offset="0.9777" stop-color="#58ff00"/><stop offset="1" stop-color="#72ff00"/></linearGradient>
<linearGradient id="c92" gradientUnits="userSpaceOnUse" x1="520" x2="1197"><stop offset="0" stop-color="#00ff85"/><stop offset="0.2733" stop-color="#00ff6c"/><stop offset="0.4594" stop-color="#00ff4e"/><stop offset="0.5199" stop-color="#00ff3d"/><stop offset="0.5613" stop-color="#00ff2c"/><stop offset="0.5849" stop-color="#00ff17"/><stop offset="0.5894" stop-color="#00ff0d"/><stop offset="0.5908" stop-color="#0f0"/><stop offset="0.9424" stop-color="#0f0"/><stop offset="0.9439" stop-color="#19ff00"/><stop offset="0.9453" stop-color="#23ff00"/><stop offset="0.9498" stop-color="#35ff00"/><stop offset="0.9557" stop-color="#43ff00"/><stop offset="0.9734" stop-color="#5fff00"/><stop offset="1" stop-color="#7bff00"/></linearGradient>
<linearGradient id="c93" gradientUnits="userSpaceOnUse" x1="520" x2="1201"><stop offset="0" stop-color="#00ff86"/><stop offset="0.2761" stop-color="#00ff6d"/><stop offset="0.464" stop-color="#00ff4e"/><stop offset="0.5257" stop-color="#00ff3e"/><stop offset="0.5668" stop-color="#00ff2c"/><stop offset="0.5888" stop-color="#00ff19"/><stop offset="0.5947" stop-color="#00ff0c"/><stop offset="0.5962" stop-color="#0f0"/><stop offset="0.9339" stop-color="#0f0"/><stop offset="0.9354" stop-color="#13ff00"/><stop offset="0.9383" stop-color="#28ff00"/><stop offset="0.9486" stop-color="#45ff00"/><stop offset="0.9692" stop-color="#64ff00"/><stop offset="1" stop-color="#82ff00"/></linearGradient>
<linearGradient id="c94" gradientUnits="userSpaceOnUse" x1="520" x2="1205"><stop offset="0" stop-color="#00ff87"/><stop offset="0.2774" stop-color="#00ff6e"/><stop offset="0.4672" stop-color="#00ff4f"/><stop offset="0.5285" stop-color="#00ff3f"/><stop offset="0.5708" stop-color="#00ff2c"/><stop offset="0.5942" stop-color="#00ff19"/><stop offset="0.5985" stop-color="#00ff10"/><stop offset="0.6015" stop-color="#0f0"/><stop offset="0.927" stop-color="#0f0"/><stop offset="0.9285" stop-color="#1cff00"/><stop offset="0.9299" stop-color="#25ff00"/><stop offset="0.9358" stop-color="#3aff00"/><stop offset="0.9431" stop-color="#4aff00"/><stop offset="0.9664" stop-color="#6aff00"/><stop offset="1" stop-color="#89ff00"/></linearGradient>
<linearGradient id="c95" gradientUnits="userSpaceOnUse" x1="520" x2="1209"><stop offset="0" stop-color="#0f8"/><stop offset="0.2801" stop-color="#00ff6e"/><stop offset="0.4702" stop-color="#00ff50"/><stop offset="0.5327" stop-color="#00ff3f"/><stop offset="0.5762" stop-color="#00ff2c"/><stop offset="0.5994" stop-color="#00ff18"/><stop offset="0.6038" stop-color="#00ff0f"/><stop offset="0.6067" stop-color="#0f0"/><stop offset="0.9187" stop-color="#0f0"/><stop offset="0.9202" stop-color="#16ff00"/><stop offset="0.9231" stop-color="#29ff00"/><stop offset="0.9289" stop-color="#3cff00"/><stop offset="0.9376" stop-color="#4eff00"/><stop offset="0.9623" stop-color="#6eff00"/><stop offset="1" stop-color="#8fff00"/></linearGradient>
<linearGradient id="c96" gradientUnits="userSpaceOnUse" x1="520" x2="1214"><stop offset="0" stop-color="#00ff89"/><stop offset="0.2824" stop-color="#00ff6f"/><stop offset="0.4741" stop-color="#00ff51"/><stop offset="0.536" stop-color="#00ff40"/><stop offset="0.5793" stop-color="#00ff2d"/><stop offset="0.6023" stop-color="#00ff1a"/><stop offset="0.6081" stop-color="#00ff0f"/><stop offset="0.611" stop-color="#0f0"/><stop offset="0.9092" stop-color="#0f0"/><stop offset="0.9121" stop-color="#1eff00"/><stop offset="0.915" stop-color="#2dff00"/><stop offset="0.9207" stop-color="#3eff00"/><stop offset="0.9308" stop-color="#52ff00"/><stop offset="0.9582" stop-color="#74ff00"/><stop offset="1" stop-color="#96ff00"/></linearGradient>
<linearGradient id="c97" gradientUnits="userSpaceOnUse" x1="520" x2="1218"><stop offset="0" stop-color="#00ff8a"/><stop offset="0.2837" stop-color="#00ff70"/><stop offset="0.4771" stop-color="#00ff52"/><stop offset="0.5415" stop-color="#00ff40"/><stop offset="0.5845" stop-color="#00ff2d"/><stop offset="0.6074" stop-color="#00ff1a"/><stop offset="0.6132" stop-color="#00ff0e"/><stop offset="0.616" stop-color="#0f0"/><stop offset="0.9026" stop-color="#0f0"/><stop offset="0.904" stop-color="#19ff00"/><stop offset="0.9083" stop-color="#30ff00"/><stop offset="0.9155" stop-color="#4f0"/><stop offset="0.9241" stop-color="#54ff00"/><stop offset="0.9542" stop-color="#78ff00"/><stop offset="1" stop-color="#9cff00"/></linearGradient>
<linearGradient id="c98" gradientUnits="userSpaceOnUse" x1="520" x2="1222"><stop offset="0" stop-color="#00ff8b"/><stop offset="0.2863" stop-color="#00ff71"/><stop offset="0.4815" stop-color="#00ff52"/><stop offset="0.5456" stop-color="#00ff41"/><stop offset="0.5897" stop-color="#00ff2d"/><stop offset="0.6125" stop-color="#00ff19"/><stop offset="0.6182" stop-color="#00ff0d"/><stop offset="0.6197" stop-color="#0f0"/><stop offset="0.8946" stop-color="#0f0"/><stop offset="0.8974" stop-color="#20ff00"/><stop offset="0.9003" stop-color="#2eff00"/><stop offset="0.9074" stop-color="#43ff00"/><stop offset="0.9188" stop-color="#57ff00"/><stop offset="0.9516" stop-color="#7dff00"/><stop offset="1" stop-color="#a2ff00"/></linearGradient>
<linearGradient id="c99" gradientUnits="userSpaceOnUse" x1="521" x2="1227"><stop offset="0" stop-color="#00ff8c"/><stop offset="0.2875" stop-color="#00ff72"/><stop offset="0.4844" stop-color="#00ff53"/><stop offset="0.5482" stop-color="#00ff41"/><stop offset="0.5921" stop-color="#00ff2e"/><stop offset="0.6161" stop-color="#00ff19"/><stop offset="0.6218" stop-color="#00ff0c"/><stop offset="0.6232" stop-color="#0f0"/><stop offset="0.8867" stop-color="#0f0"/><stop offset="0.8881" stop-color="#1cff00"/><stop offset="0.8924" stop-color="#31ff00"/><stop offset="0.8994" stop-color="#45ff00"/><stop offset="0.9108" stop-color="#59ff00"/><stop offset="0.9462" stop-color="#80ff00"/><stop offset="1" stop-color="#a8ff00"/></linearGradient>
<linearGradient id="c100" gradientUnits="userSpaceOnUse" x1="521" x2="1231"><stop offset="0" stop-color="#00ff8d"/><stop offset="0.2901" stop-color="#00ff73"/><stop offset="0.4873" stop-color="#00ff53"/><stop offset="0.5521" stop-color="#00ff42"/><stop offset="0.5972" stop-color="#00ff2e"/><stop offset="0.6211" stop-color="#00ff19"/><stop offset="0.6254" stop-color="#00ff10"/><stop offset="0.6282" stop-color="#0f0"/><stop offset="0.8789" stop-color="#0f0"/><stop offset="0.8803" stop-color="#16ff00"/><stop offset="0.8817" stop-color="#2f0"/><stop offset="0.8859" stop-color="#34ff00"/><stop offset="0.8944" stop-color="#49ff00"/><stop offset="0.9056" stop-color="#5cff00"/><stop offset="0.9437" stop-color="#85ff00"/><stop offset="1" stop-color="#aeff00"/></linearGradient>
<linearGradient id="c101" gradientUnits="userSpaceOnUse" x1="521" x2="1235"><stop offset="0" stop-color="#00ff8e"/><stop offset="0.2927" stop-color="#00ff74"/><stop offset="0.4916" stop-color="#00ff54"/><stop offset="0.556" stop-color="#00ff43"/><stop offset="0.6008" stop-color="#00ff2f"/><stop offset="0.6246" stop-color="#00ff1b"/><stop offset="0.6303" stop-color="#00ff10"/><stop offset="0.6331" stop-color="#0f0"/><stop offset="0.8711" stop-color="#0f0"/><stop offset="0.8739" stop-color="#1eff00"/><stop offset="0.8796" stop-color="#37ff00"/><stop offset="0.888" stop-color="#4bff00"/><stop offset="0.9006" stop-color="#5fff00"/><stop offset="0.9398" stop-color="#8f0"/><stop offset="1" stop-color="#b3ff00"/></linearGradient>
<linearGradient id="c102" gradientUnits="userSpaceOnUse" x1="521" x2="1239"><stop offset="0" stop-color="#00ff8f"/><stop offset="0.2939" stop-color="#00ff75"/><stop offset="0.4944" stop-color="#0f5"/><stop offset="0.5613" stop-color="#00ff43"/><stop offset="0.6058" stop-color="#00ff2f"/><stop offset="0.6295" stop-color="#00ff1a"/><stop offset="0.6351" stop-color="#00ff0f"/><stop offset="0.6379" stop-color="#0f0"/><stop offset="0.8649" stop-color="#0f0"/><stop offset="0.8663" stop-color="#19ff00"/><stop offset="0.8691" stop-color="#2bff00"/><stop offset="0.8719" stop-color="#35ff00"/><stop offset="0.8802" stop-color="#4aff00"/><stop offset="0.8942" stop-color="#61ff00"/><stop offset="0.9359" stop-color="#8cff00"/><stop offset="1" stop-color="#b8ff00"/></linearGradient>
<linearGradient id="c103" gradientUnits="userSpaceOnUse" x1="521" x2="1244"><stop offset="0" stop-color="#00ff8f"/><stop offset="0.296" stop-color="#00ff75"/><stop offset="0.4979" stop-color="#0f5"/><stop offset="0.5643" stop-color="#00ff43"/><stop offset="0.6086" stop-color="#00ff30"/><stop offset="0.6335" stop-color="#00ff1a"/><stop offset="0.639" stop-color="#00ff0e"/><stop offset="0.6404" stop-color="#00ff03"/><stop offset="0.6418" stop-color="#0f0"/><stop offset="0.8562" stop-color="#0f0"/><stop offset="0.8589" stop-color="#20ff00"/><stop offset="0.8645" stop-color="#38ff00"/><stop offset="0.8741" stop-color="#4fff00"/><stop offset="0.888" stop-color="#64ff00"/><stop offset="0.9322" stop-color="#90ff00"/><stop offset="1" stop-color="#bdff00"/></linearGradient>
<linearGradient id="c104" gradientUnits="userSpaceOnUse" x1="521" x2="1248"><stop offset="0" stop-color="#00ff90"/><stop offset="0.2985" stop-color="#00ff76"/><stop offset="0.5007" stop-color="#00ff56"/><stop offset="0.5681" stop-color="#0f4"/><stop offset="0.6135" stop-color="#00ff30"/><stop offset="0.6382" stop-color="#00ff1a"/><stop offset="0.6437" stop-color="#00ff0d"/><stop offset="0.6451" stop-color="#0f0"/><stop offset="0.8501" stop-color="#0f0"/><stop offset="0.8514" stop-color="#1cff00"/><stop offset="0.8542" stop-color="#2cff00"/><stop offset="0.8569" stop-color="#36ff00"/><stop offset="0.8666" stop-color="#4eff00"/><stop offset="0.8817" stop-color="#65ff00"/><stop offset="0.9285" stop-color="#93ff00"/><stop offset="1" stop-color="#c2ff00"/></linearGradient>
<linearGradient id="c105" gradientUnits="userSpaceOnUse" x1="522" x2="1252"><stop offset="0" stop-color="#00ff91"/><stop offset="0.3" stop-color="#0f7"/><stop offset="0.5041" stop-color="#00ff57"/><stop offset="0.5712" stop-color="#00ff45"/><stop offset="0.6164" stop-color="#00ff31"/><stop offset="0.6411" stop-color="#00ff1c"/><stop offset="0.6466" stop-color="#0f1"/><stop offset="0.6479" stop-color="#00ff0c"/><stop offset="0.6493" stop-color="#0f0"/><stop offset="0.8425" stop-color="#0f0"/><stop offset="0.8438" stop-color="#16ff00"/><stop offset="0.8452" stop-color="#2f0"/><stop offset="0.8507" stop-color="#39ff00"/><stop offset="0.8616" stop-color="#52ff00"/><stop offset="0.8767" stop-color="#68ff00"/><stop offset="0.926" stop-color="#97ff00"/><stop offset="1" stop-color="#c7ff00"/></linearGradient>
<linearGradient id="c106" gradientUnits="userSpaceOnUse" x1="522" x2="1256"><stop offset="0" stop-color="#00ff92"/><stop offset="0.3025" stop-color="#00ff78"/><stop offset="0.5082" stop-color="#00ff57"/><stop offset="0.5749" stop-color="#00ff45"/><stop offset="0.6213" stop-color="#00ff31"/><stop offset="0.6458" stop-color="#00ff1b"/><stop offset="0.6512" stop-color="#00ff10"/><stop offset="0.654" stop-color="#0f0"/><stop offset="0.8351" stop-color="#0f0"/><stop offset="0.8365" stop-color="#0bff00"/><stop offset="0.8379" stop-color="#1eff00"/><stop offset="0.8392" stop-color="#27ff00"/><stop offset="0.8447" stop-color="#3cff00"/><stop offset="0.8556" stop-color="#53ff00"/><stop offset="0.8719" stop-color="#6bff00"/><stop offset="0.9223" stop-color="#9aff00"/><stop offset="1" stop-color="#cbff00"/></linearGradient>
<linearGradient id="c107" gradientUnits="userSpaceOnUse" x1="522" x2="1261"><stop offset="0" stop-color="#00ff93"/><stop offset="0.2625" stop-color="#00ff7d"/><stop offset="0.4547" stop-color="#00ff63"/><stop offset="0.548" stop-color="#00ff4f"/><stop offset="0.6116" stop-color="#00ff38"/><stop offset="0.6468" stop-color="#00ff1f"/><stop offset="0.6536" stop-color="#00ff14"/><stop offset="0.6576" stop-color="#0f0"/><stop offset="0.8281" stop-color="#0f0"/><stop offset="0.8295" stop-color="#19ff00"/><stop offset="0.8309" stop-color="#24ff00"/><stop offset="0.8363" stop-color="#3aff00"/><stop offset="0.8471" stop-color="#53ff00"/><stop offset="0.8647" stop-color="#6cff00"/><stop offset="0.889" stop-color="#86ff00"/><stop offset="0.9188" stop-color="#9eff00"/><stop offset="1" stop-color="#d1ff00"/></linearGradient>
<linearGradient id="c108" gradientUnits="userSpaceOnUse" x1="522" x2="1265"><stop offset="0" stop-color="#00ff94"/><stop offset="0.2665" stop-color="#00ff7e"/><stop offset="0.4616" stop-color="#00ff63"/><stop offset="0.5532" stop-color="#00ff4f"/><stop offset="0.6164" stop-color="#00ff38"/><stop offset="0.6514" stop-color="#00ff1f"/><stop offset="0.6581" stop-color="#00ff13"/><stop offset="0.6622" stop-color="#0f0"/><stop offset="0.821" stop-color="#0f0"/><stop offset="0.8237" stop-color="#20ff00"/><stop offset="0.8264" stop-color="#2fff00"/><stop offset="0.8304" stop-color="#3cff00"/><stop offset="0.8425" stop-color="#57ff00"/><stop offset="0.86" stop-color="#6fff00"/><stop offset="0.8843" stop-color="#8f0"/><stop offset="0.9152" stop-color="#a1ff00"/><stop offset="1" stop-color="#d5ff00"/></linearGradient>
<linearGradient id="c109" gradientUnits="userSpaceOnUse" x1="523" x2="1269"><stop offset="0" stop-color="#00ff95"/><stop offset="0.2708" stop-color="#00ff7e"/><stop offset="0.4678" stop-color="#00ff63"/><stop offset="0.559" stop-color="#00ff4f"/><stop offset="0.622" stop-color="#00ff38"/><stop offset="0.6555" stop-color="#00ff1f"/><stop offset="0.6622" stop-color="#00ff12"/><stop offset="0.6635" stop-color="#00ff0e"/><stop offset="0.6649" stop-color="#0f0"/><stop offset="0.815" stop-color="#0f0"/><stop offset="0.8164" stop-color="#1cff00"/><stop offset="0.819" stop-color="#2cff00"/><stop offset="0.8231" stop-color="#3bff00"/><stop offset="0.8351" stop-color="#56ff00"/><stop offset="0.8539" stop-color="#70ff00"/><stop offset="0.8794" stop-color="#8aff00"/><stop offset="0.9115" stop-color="#a4ff00"/><stop offset="1" stop-color="#daff00"/></linearGradient>
<linearGradient id="c110" gradientUnits="userSpaceOnUse" x1="523" x2="1273"><stop offset="0" stop-color="#00ff96"/><stop offset="0.276" stop-color="#00ff7f"/><stop offset="0.476" stop-color="#00ff63"/><stop offset="0.5653" stop-color="#00ff4f"/><stop offset="0.6267" stop-color="#00ff38"/><stop offset="0.66" stop-color="#00ff1e"/><stop offset="0.6667" stop-color="#00ff12"/><stop offset="0.668" stop-color="#00ff0d"/><stop offset="0.6693" stop-color="#0f0"/><stop offset="0.808" stop-color="#0f0"/><stop offset="0.8093" stop-color="#16ff00"/><stop offset="0.8107" stop-color="#2f0"/><stop offset="0.8173" stop-color="#3dff00"/><stop offset="0.8307" stop-color="#5aff00"/><stop offset="0.8493" stop-color="#73ff00"/><stop offset="0.876" stop-color="#8eff00"/><stop offset="0.9093" stop-color="#a8ff00"/><stop offset="1" stop-color="#deff00"/></linearGradient>
<linearGradient id="c111" gradientUnits="userSpaceOnUse" x1="523" x2="1278"><stop offset="0" stop-color="#00ff97"/><stop offset="0.2808" stop-color="#00ff80"/><stop offset="0.4821" stop-color="#00ff63"/><stop offset="0.5709" stop-color="#00ff4f"/><stop offset="0.6305" stop-color="#00ff38"/><stop offset="0.6636" stop-color="#00ff1e"/><stop offset="0.6702" stop-color="#0f1"/><stop offset="0.6715" stop-color="#00ff0c"/><stop offset="0.6728" stop-color="#0f0"/><stop offset="0.8" stop-color="#0f0"/><stop offset="0.8013" stop-color="#0aff00"/><stop offset="0.8026" stop-color="#1eff00"/><stop offset="0.804" stop-color="#27ff00"/><stop offset="0.8106" stop-color="#40ff00"/><stop offset="0.8238" stop-color="#5bff00"/><stop offset="0.8437" stop-color="#76ff00"/><stop offset="0.8715" stop-color="#91ff00"/><stop offset="0.906" stop-color="#abff00"/><stop offset="1" stop-color="#e3ff00"/></linearGradient>
<linearGradient id="c112" gradientUnits="userSpaceOnUse" x1="523" x2="1282"><stop offset="0" stop-color="#00ff98"/><stop offset="0.2846" stop-color="#00ff80"/><stop offset="0.4888" stop-color="#00ff63"/><stop offset="0.5758" stop-color="#00ff4f"/><stop offset="0.635" stop-color="#00ff38"/><stop offset="0.6667" stop-color="#00ff20"/><stop offset="0.6746" stop-color="#0f1"/><stop offset="0.6772" stop-color="#0f0"/><stop offset="0.7945" stop-color="#0f0"/><stop offset="0.7958" stop-color="#19ff00"/><stop offset="0.7971" stop-color="#24ff00"/><stop offset="0.7997" stop-color="#31ff00"/><stop offset="0.805" stop-color="#42ff00"/><stop offset="0.8182" stop-color="#5cff00"/><stop offset="0.8379" stop-color="#7f0"/><stop offset="0.8656" stop-color="#92ff00"/><stop offset="0.9012" stop-color="#adff00"/><stop offset="1" stop-color="#e7ff00"/></linearGradient>
<linearGradient id="c113" gradientUnits="userSpaceOnUse" x1="524" x2="1286"><stop offset="0" stop-color="#0f9"/><stop offset="0.2887" stop-color="#00ff81"/><stop offset="0.4948" stop-color="#00ff63"/><stop offset="0.5801" stop-color="#00ff4f"/><stop offset="0.6391" stop-color="#00ff38"/><stop offset="0.6706" stop-color="#00ff20"/><stop offset="0.6772" stop-color="#00ff14"/><stop offset="0.6811" stop-color="#0f0"/><stop offset="0.7874" stop-color="#0f0"/><stop offset="0.79" stop-color="#20ff00"/><stop offset="0.7913" stop-color="#29ff00"/><stop offset="0.7979" stop-color="#41ff00"/><stop offset="0.8123" stop-color="#5eff00"/><stop offset="0.8333" stop-color="#79ff00"/><stop offset="0.8622" stop-color="#95ff00"/><stop offset="0.899" stop-color="#b1ff00"/><stop offset="1" stop-color="#ecff00"/></linearGradient>
<linearGradient id="c114" gradientUnits="userSpaceOnUse" x1="524" x2="1290"><stop offset="0" stop-color="#00ff9a"/><stop offset="0.2937" stop-color="#00ff81"/><stop offset="0.5013" stop-color="#00ff63"/><stop offset="0.5862" stop-color="#00ff4f"/><stop offset="0.6436" stop-color="#00ff38"/><stop offset="0.6749" stop-color="#00ff1f"/><stop offset="0.6815" stop-color="#00ff13"/><stop offset="0.6854" stop-color="#0f0"/><stop offset="0.782" stop-color="#0f0"/><stop offset="0.7833" stop-color="#1cff00"/><stop offset="0.7846" stop-color="#26ff00"/><stop offset="0.7924" stop-color="#43ff00"/><stop offset="0.8068" stop-color="#5fff00"/><stop offset="0.8277" stop-color="#7aff00"/><stop offset="0.8577" stop-color="#97ff00"/><stop offset="0.8956" stop-color="#b4ff00"/><stop offset="1" stop-color="#f0ff00"/></linearGradient>
<linearGradient id="c115" gradientUnits="userSpaceOnUse" x1="524" x2="1295"><stop offset="0" stop-color="#00ff9b"/><stop offset="0.297" stop-color="#00ff82"/><stop offset="0.5071" stop-color="#00ff64"/><stop offset="0.5901" stop-color="#00ff4f"/><stop offset="0.6472" stop-color="#00ff38"/><stop offset="0.6783" stop-color="#00ff1f"/><stop offset="0.6848" stop-color="#00ff13"/><stop offset="0.6861" stop-color="#00ff0e"/><stop offset="0.6874" stop-color="#0f0"/><stop offset="0.7743" stop-color="#0f0"/><stop offset="0.7756" stop-color="#15ff00"/><stop offset="0.7782" stop-color="#2aff00"/><stop offset="0.786" stop-color="#45ff00"/><stop offset="0.8003" stop-color="#61ff00"/><stop offset="0.8223" stop-color="#7dff00"/><stop offset="0.8534" stop-color="#9aff00"/><stop offset="0.8923" stop-color="#b7ff00"/><stop offset="1" stop-color="#f5ff00"/></linearGradient>
<linearGradient id="c116" gradientUnits="userSpaceOnUse" x1="524" x2="1299"><stop offset="0" stop-color="#00ff9b"/><stop offset="0.3019" stop-color="#00ff82"/><stop offset="0.5135" stop-color="#00ff64"/><stop offset="0.5961" stop-color="#00ff4f"/><stop offset="0.6516" stop-color="#00ff38"/><stop offset="0.6826" stop-color="#00ff1f"/><stop offset="0.689" stop-color="#00ff12"/><stop offset="0.6903" stop-color="#00ff0d"/><stop offset="0.6916" stop-color="#0f0"/><stop offset="0.7677" stop-color="#0f0"/><stop offset="0.769" stop-color="#09ff00"/><stop offset="0.7703" stop-color="#1eff00"/><stop offset="0.7716" stop-color="#27ff00"/><stop offset="0.7755" stop-color="#38ff00"/><stop offset="0.7806" stop-color="#47ff00"/><stop offset="0.7961" stop-color="#64ff00"/><stop offset="0.8181" stop-color="#7fff00"/><stop offset="0.849" stop-color="#9cff00"/><stop offset="0.889" stop-color="#baff00"/><stop offset="1" stop-color="#f9ff00"/></linearGradient>
<linearGradient id="c117" gradientUnits="userSpaceOnUse" x1="525" x2="1303"><stop offset="0" stop-color="#00ff9c"/><stop offset="0.3059" stop-color="#00ff83"/><stop offset="0.5193" stop-color="#00ff64"/><stop offset="0.6003" stop-color="#00ff4f"/><stop offset="0.6555" stop-color="#00ff38"/><stop offset="0.6864" stop-color="#00ff1f"/><stop offset="0.6928" stop-color="#0f1"/><stop offset="0.6954" stop-color="#0f0"/><stop offset="0.7622" stop-color="#0f0"/><stop offset="0.7635" stop-color="#19ff00"/><stop offset="0.7648" stop-color="#24ff00"/><stop offset="0.7686" stop-color="#36ff00"/><stop offset="0.7738" stop-color="#46ff00"/><stop offset="0.7892" stop-color="#63ff00"/><stop offset="0.8123" stop-color="#81ff00"/><stop offset="0.8445" stop-color="#9eff00"/><stop offset="0.8856" stop-color="#bcff00"/><stop offset="1" stop-color="#fdff00"/></linearGradient>
<linearGradient id="c118" gradientUnits="userSpaceOnUse" x1="525" x2="1307"><stop offset="0" stop-color="#00ff9d"/><stop offset="0.3107" stop-color="#00ff84"/><stop offset="0.5256" stop-color="#00ff64"/><stop offset="0.6049" stop-color="#00ff4f"/><stop offset="0.6598" stop-color="#00ff39"/><stop offset="0.6905" stop-color="#00ff1f"/><stop offset="0.6969" stop-color="#0f1"/><stop offset="0.6995" stop-color="#0f0"/><stop offset="0.7558" stop-color="#0f0"/><stop offset="0.7583" stop-color="#20ff00"/><stop offset="0.7596" stop-color="#29ff00"/><stop offset="0.7634" stop-color="#39ff00"/><stop offset="0.7685" stop-color="#48ff00"/><stop offset="0.7852" stop-color="#67ff00"/><stop offset="0.8095" stop-color="#84ff00"/><stop offset="0.844" stop-color="#a3ff00"/><stop offset="0.89" stop-color="#c4ff00"/><stop offset="0.9591" stop-color="#ecff00"/><stop offset="1" stop-color="#fffd00"/></linearGradient>
<linearGradient id="c119" gradientUnits="userSpaceOnUse" x1="525" x2="1311"><stop offset="0" stop-color="#00ff9e"/><stop offset="0.3142" stop-color="#00ff84"/><stop offset="0.5318" stop-color="#00ff64"/><stop offset="0.6107" stop-color="#00ff4f"/><stop offset="0.6641" stop-color="#00ff39"/><stop offset="0.6934" stop-color="#00ff20"/><stop offset="0.6997" stop-color="#00ff14"/><stop offset="0.7036" stop-color="#0f0"/><stop offset="0.7506" stop-color="#0f0"/><stop offset="0.7519" stop-color="#1cff00"/><stop offset="0.7532" stop-color="#26ff00"/><stop offset="0.757" stop-color="#38ff00"/><stop offset="0.7621" stop-color="#47ff00"/><stop offset="0.7799" stop-color="#68ff00"/><stop offset="0.8053" stop-color="#87ff00"/><stop offset="0.8448" stop-color="#a9ff00"/><stop offset="0.8982" stop-color="#ceff00"/><stop offset="0.986" stop-color="#ff0"/><stop offset="1" stop-color="#fff900"/></linearGradient>
<linearGradient id="c120" gradientUnits="userSpaceOnUse" x1="526" x2="1316"><stop offset="0" stop-color="#00ff9f"/><stop offset="0.3177" stop-color="#00ff85"/><stop offset="0.5367" stop-color="#00ff64"/><stop offset="0.6051" stop-color="#00ff52"/><stop offset="0.6544" stop-color="#00ff40"/><stop offset="0.6772" stop-color="#00ff32"/><stop offset="0.6937" stop-color="#00ff23"/><stop offset="0.7025" stop-color="#00ff14"/><stop offset="0.7063" stop-color="#0f0"/><stop offset="0.743" stop-color="#0f0"/><stop offset="0.7443" stop-color="#15ff00"/><stop offset="0.7468" stop-color="#2aff00"/><stop offset="0.7506" stop-color="#3aff00"/><stop offset="0.757" stop-color="#4cff00"/><stop offset="0.7759" stop-color="#6dff00"/><stop offset="0.8025" stop-color="#8cff00"/><stop offset="0.8494" stop-color="#b3ff00"/><stop offset="0.9127" stop-color="#dcff00"/><stop offset="0.9772" stop-color="#ff0"/><stop offset="1" stop-color="#fff400"/></linearGradient>
<linearGradient id="c121" gradientUnits="userSpaceOnUse" x1="526" x2="1320"><stop offset="0" stop-color="#00ffa0"/><stop offset="0.3224" stop-color="#00ff85"/><stop offset="0.5428" stop-color="#00ff64"/><stop offset="0.6121" stop-color="#00ff52"/><stop offset="0.6625" stop-color="#00ff3e"/><stop offset="0.6839" stop-color="#00ff31"/><stop offset="0.699" stop-color="#0f2"/><stop offset="0.7065" stop-color="#00ff13"/><stop offset="0.7078" stop-color="#00ff0e"/><stop offset="0.7091" stop-color="#0f0"/><stop offset="0.7368" stop-color="#0f0"/><stop offset="0.738" stop-color="#07ff00"/><stop offset="0.7393" stop-color="#1eff00"/><stop offset="0.7418" stop-color="#2eff00"/><stop offset="0.7519" stop-color="#4eff00"/><stop offset="0.7708" stop-color="#6eff00"/><stop offset="0.7997" stop-color="#8fff00"/><stop offset="0.8539" stop-color="#bf0"/><stop offset="0.9295" stop-color="#eaff00"/><stop offset="0.9698" stop-color="#ff0"/><stop offset="1" stop-color="#fff000"/></linearGradient>
<linearGradient id="c122" gradientUnits="userSpaceOnUse" x1="526" x2="1324"><stop offset="0" stop-color="#00ffa1"/><stop offset="0.3258" stop-color="#00ff86"/><stop offset="0.5476" stop-color="#00ff64"/><stop offset="0.619" stop-color="#00ff51"/><stop offset="0.6692" stop-color="#00ff3d"/><stop offset="0.6892" stop-color="#00ff30"/><stop offset="0.703" stop-color="#00ff21"/><stop offset="0.7105" stop-color="#00ff12"/><stop offset="0.7118" stop-color="#00ff0d"/><stop offset="0.713" stop-color="#0f0"/><stop offset="0.7318" stop-color="#0f0"/><stop offset="0.7331" stop-color="#19ff00"/><stop offset="0.7356" stop-color="#2cff00"/><stop offset="0.7406" stop-color="#3fff00"/><stop offset="0.7469" stop-color="#50ff00"/><stop offset="0.7669" stop-color="#71ff00"/><stop offset="0.797" stop-color="#92ff00"/><stop offset="0.8609" stop-color="#c4ff00"/><stop offset="0.9511" stop-color="#faff00"/><stop offset="0.9612" stop-color="#ff0"/><stop offset="1" stop-color="#ffed00"/></linearGradient>
<linearGradient id="c123" gradientUnits="userSpaceOnUse" x1="526" x2="1328"><stop offset="0" stop-color="#00ffa2"/><stop offset="0.3304" stop-color="#00ff87"/><stop offset="0.5536" stop-color="#00ff64"/><stop offset="0.6259" stop-color="#00ff51"/><stop offset="0.6771" stop-color="#00ff3b"/><stop offset="0.7045" stop-color="#00ff25"/><stop offset="0.7132" stop-color="#00ff16"/><stop offset="0.7157" stop-color="#00ff0b"/><stop offset="0.717" stop-color="#0f0"/><stop offset="0.7257" stop-color="#0f0"/><stop offset="0.7282" stop-color="#20ff00"/><stop offset="0.7307" stop-color="#30ff00"/><stop offset="0.7357" stop-color="#42ff00"/><stop offset="0.7419" stop-color="#51ff00"/><stop offset="0.7631" stop-color="#74ff00"/><stop offset="0.7943" stop-color="#96ff00"/><stop offset="0.8591" stop-color="#c8ff00"/><stop offset="0.9526" stop-color="#ff0"/><stop offset="1" stop-color="#ffe900"/></linearGradient>
<linearGradient id="c124" gradientUnits="userSpaceOnUse" x1="527" x2="1333"><stop offset="0" stop-color="#00ffa3"/><stop offset="0.3337" stop-color="#00ff87"/><stop offset="0.4591" stop-color="#0f7"/><stop offset="0.5583" stop-color="#00ff64"/><stop offset="0.6328" stop-color="#00ff50"/><stop offset="0.6836" stop-color="#00ff39"/><stop offset="0.7109" stop-color="#00ff1f"/><stop offset="0.7171" stop-color="#0f1"/><stop offset="0.7196" stop-color="#0f0"/><stop offset="0.7208" stop-color="#1bff00"/><stop offset="0.7233" stop-color="#2dff00"/><stop offset="0.7283" stop-color="#40ff00"/><stop offset="0.7345" stop-color="#50ff00"/><stop offset="0.7568" stop-color="#75ff00"/><stop offset="0.7903" stop-color="#9f0"/><stop offset="0.8548" stop-color="#caff00"/><stop offset="0.9442" stop-color="#ff0"/><stop offset="1" stop-color="#ffe500"/></linearGradient>
<linearGradient id="c125" gradientUnits="userSpaceOnUse" x1="527" x2="1337"><stop offset="0" stop-color="#00ffa4"/><stop offset="0.2963" stop-color="#00ff8c"/><stop offset="0.5099" stop-color="#00ff70"/><stop offset="0.5877" stop-color="#00ff5f"/><stop offset="0.6469" stop-color="#00ff4c"/><stop offset="0.6889" stop-color="#00ff38"/><stop offset="0.7136" stop-color="#00ff21"/><stop offset="0.7148" stop-color="#15ff1f"/><stop offset="0.716" stop-color="#22ff1d"/><stop offset="0.7185" stop-color="#31ff18"/><stop offset="0.721" stop-color="#3bff10"/><stop offset="0.7235" stop-color="#43ff00"/><stop offset="0.7309" stop-color="#5f0"/><stop offset="0.7543" stop-color="#7aff00"/><stop offset="0.7889" stop-color="#9dff00"/><stop offset="0.8506" stop-color="#cf0"/><stop offset="0.9358" stop-color="#ff0"/><stop offset="1" stop-color="#ffe200"/></linearGradient>
<linearGradient id="c126" gradientUnits="userSpaceOnUse" x1="528" x2="1341"><stop offset="0" stop-color="#00ffa4"/><stop offset="0.2829" stop-color="#00ff8f"/><stop offset="0.4908" stop-color="#00ff74"/><stop offset="0.631" stop-color="#00ff54"/><stop offset="0.6765" stop-color="#00ff41"/><stop offset="0.7073" stop-color="#00ff2c"/><stop offset="0.7085" stop-color="#02ff2b"/><stop offset="0.7097" stop-color="#1eff2a"/><stop offset="0.7122" stop-color="#2fff27"/><stop offset="0.7171" stop-color="#41ff21"/><stop offset="0.7232" stop-color="#51ff14"/><stop offset="0.7245" stop-color="#54ff0f"/><stop offset="0.7257" stop-color="#57ff00"/><stop offset="0.7503" stop-color="#7cff00"/><stop offset="0.7872" stop-color="#a2ff00"/><stop offset="0.8475" stop-color="#cfff00"/><stop offset="0.9287" stop-color="#ff0"/><stop offset="1" stop-color="#ffdf00"/></linearGradient>
<linearGradient id="c127" gradientUnits="userSpaceOnUse" x1="528" x2="1345"><stop offset="0" stop-color="#00ffa5"/><stop offset="0.2742" stop-color="#00ff91"/><stop offset="0.4786" stop-color="#0f7"/><stop offset="0.6206" stop-color="#00ff59"/><stop offset="0.6683" stop-color="#00ff47"/><stop offset="0.7026" stop-color="#00ff34"/><stop offset="0.7038" stop-color="#18ff33"/><stop offset="0.705" stop-color="#24ff32"/><stop offset="0.7075" stop-color="#32ff30"/><stop offset="0.7136" stop-color="#47ff2a"/><stop offset="0.7209" stop-color="#58ff21"/><stop offset="0.7271" stop-color="#63ff13"/><stop offset="0.7283" stop-color="#65ff0e"/><stop offset="0.7295" stop-color="#67ff00"/><stop offset="0.7528" stop-color="#86ff00"/><stop offset="0.7846" stop-color="#a5ff00"/><stop offset="0.8421" stop-color="#d0ff00"/><stop offset="0.9204" stop-color="#ff0"/><stop offset="1" stop-color="#ffdb00"/></linearGradient>
<linearGradient id="c128" gradientUnits="userSpaceOnUse" x1="528" x2="1349"><stop offset="0" stop-color="#00ffa6"/><stop offset="0.2667" stop-color="#00ff92"/><stop offset="0.4677" stop-color="#00ff7a"/><stop offset="0.6102" stop-color="#00ff5d"/><stop offset="0.6602" stop-color="#00ff4d"/><stop offset="0.6967" stop-color="#00ff3b"/><stop offset="0.6991" stop-color="#20ff39"/><stop offset="0.7016" stop-color="#30ff37"/><stop offset="0.7077" stop-color="#46ff33"/><stop offset="0.7162" stop-color="#5aff2b"/><stop offset="0.7296" stop-color="#70ff16"/><stop offset="0.732" stop-color="#74ff0d"/><stop offset="0.7333" stop-color="#75ff00"/><stop offset="0.7552" stop-color="#8fff00"/><stop offset="0.7832" stop-color="#a9ff00"/><stop offset="0.8392" stop-color="#d2ff00"/><stop offset="0.9135" stop-color="#ff0"/><stop offset="1" stop-color="#ffd800"/></linearGradient>
<linearGradient id="c129" gradientUnits="userSpaceOnUse" x1="529" x2="1354"><stop offset="0" stop-color="#00ffa7"/><stop offset="0.2594" stop-color="#00ff94"/><stop offset="0.4582" stop-color="#00ff7d"/><stop offset="0.6012" stop-color="#00ff61"/><stop offset="0.6521" stop-color="#00ff51"/><stop offset="0.6909" stop-color="#00ff40"/><stop offset="0.6921" stop-color="#1bff3f"/><stop offset="0.6958" stop-color="#33ff3d"/><stop offset="0.7018" stop-color="#48ff39"/><stop offset="0.7103" stop-color="#5bff33"/><stop offset="0.7297" stop-color="#7aff1c"/><stop offset="0.7333" stop-color="#7eff12"/><stop offset="0.7358" stop-color="#81ff00"/><stop offset="0.7806" stop-color="#adff00"/><stop offset="0.8339" stop-color="#d4ff00"/><stop offset="0.9042" stop-color="#ff0"/><stop offset="1" stop-color="#ffd500"/></linearGradient>
<linearGradient id="c130" gradientUnits="userSpaceOnUse" x1="529" x2="1358"><stop offset="0" stop-color="#00ffa8"/><stop offset="0.2533" stop-color="#00ff96"/><stop offset="0.4487" stop-color="#00ff80"/><stop offset="0.5923" stop-color="#00ff65"/><stop offset="0.6852" stop-color="#00ff45"/><stop offset="0.6864" stop-color="#15ff44"/><stop offset="0.6876" stop-color="#2f4"/><stop offset="0.6912" stop-color="#37ff42"/><stop offset="0.6972" stop-color="#4aff3f"/><stop offset="0.7069" stop-color="#5fff38"/><stop offset="0.731" stop-color="#82ff20"/><stop offset="0.737" stop-color="#89ff11"/><stop offset="0.7394" stop-color="#8cff00"/><stop offset="0.7805" stop-color="#b2ff00"/><stop offset="0.8323" stop-color="#d7ff00"/><stop offset="0.8975" stop-color="#ff0"/><stop offset="1" stop-color="#ffd200"/></linearGradient>
<linearGradient id="c131" gradientUnits="userSpaceOnUse" x1="529" x2="1362"><stop offset="0" stop-color="#00ffa9"/><stop offset="0.2485" stop-color="#00ff97"/><stop offset="0.4418" stop-color="#00ff82"/><stop offset="0.5846" stop-color="#00ff68"/><stop offset="0.6807" stop-color="#00ff49"/><stop offset="0.6819" stop-color="#1eff49"/><stop offset="0.6855" stop-color="#35ff47"/><stop offset="0.6915" stop-color="#49ff44"/><stop offset="0.7011" stop-color="#5fff3f"/><stop offset="0.7323" stop-color="#8aff24"/><stop offset="0.7395" stop-color="#92ff15"/><stop offset="0.7431" stop-color="#96ff00"/><stop offset="0.7779" stop-color="#b5ff00"/><stop offset="0.8271" stop-color="#d8ff00"/><stop offset="0.8896" stop-color="#ff0"/><stop offset="0.9412" stop-color="#ffe600"/><stop offset="1" stop-color="#ffcf00"/></linearGradient>
<linearGradient id="c132" gradientUnits="userSpaceOnUse" x1="530" x2="1366"><stop offset="0" stop-color="#0fa"/><stop offset="0.244" stop-color="#0f9"/><stop offset="0.4342" stop-color="#00ff84"/><stop offset="0.5766" stop-color="#00ff6b"/><stop offset="0.6746" stop-color="#00ff4e"/><stop offset="0.6758" stop-color="#18ff4d"/><stop offset="0.677" stop-color="#24ff4d"/><stop offset="0.6806" stop-color="#38ff4b"/><stop offset="0.6878" stop-color="#4eff48"/><stop offset="0.6974" stop-color="#62ff43"/><stop offset="0.7189" stop-color="#82ff35"/><stop offset="0.7344" stop-color="#93ff25"/><stop offset="0.7428" stop-color="#9cff14"/><stop offset="0.744" stop-color="#9dff0f"/><stop offset="0.7452" stop-color="#9eff00"/><stop offset="0.7775" stop-color="#baff00"/><stop offset="0.8828" stop-color="#ff0"/><stop offset="0.9366" stop-color="#ffe400"/><stop offset="1" stop-color="#fc0"/></linearGradient>
<linearGradient id="c133" gradientUnits="userSpaceOnUse" x1="530" x2="1370"><stop offset="0" stop-color="#00ffab"/><stop offset="0.2393" stop-color="#00ff9a"/><stop offset="0.4274" stop-color="#00ff86"/><stop offset="0.569" stop-color="#00ff6e"/><stop offset="0.669" stop-color="#00ff52"/><stop offset="0.6714" stop-color="#20ff51"/><stop offset="0.675" stop-color="#36ff50"/><stop offset="0.6821" stop-color="#4dff4c"/><stop offset="0.6929" stop-color="#64ff48"/><stop offset="0.7107" stop-color="#7eff3e"/><stop offset="0.7357" stop-color="#9aff28"/><stop offset="0.7452" stop-color="#a3ff17"/><stop offset="0.7476" stop-color="#a5ff0e"/><stop offset="0.7488" stop-color="#a7ff00"/><stop offset="0.7774" stop-color="#beff00"/><stop offset="0.8762" stop-color="#ff0"/><stop offset="0.9321" stop-color="#ffe300"/><stop offset="1" stop-color="#ffca00"/></linearGradient>
<linearGradient id="c134" gradientUnits="userSpaceOnUse" x1="531" x2="1375"><stop offset="0" stop-color="#00ffac"/><stop offset="0.2346" stop-color="#00ff9b"/><stop offset="0.4206" stop-color="#0f8"/><stop offset="0.5628" stop-color="#00ff71"/><stop offset="0.6635" stop-color="#0f5"/><stop offset="0.6647" stop-color="#1bff55"/><stop offset="0.6671" stop-color="#2eff54"/><stop offset="0.6694" stop-color="#39ff53"/><stop offset="0.6765" stop-color="#4fff50"/><stop offset="0.6884" stop-color="#67ff4b"/><stop offset="0.7097" stop-color="#85ff40"/><stop offset="0.737" stop-color="#a2ff2a"/><stop offset="0.7476" stop-color="#acff17"/><stop offset="0.75" stop-color="#aeff0d"/><stop offset="0.7512" stop-color="#afff00"/><stop offset="0.7761" stop-color="#c3ff00"/><stop offset="0.8673" stop-color="#ff0"/><stop offset="0.9265" stop-color="#ffe100"/><stop offset="1" stop-color="#ffc600"/></linearGradient>
<linearGradient id="c135" gradientUnits="userSpaceOnUse" x1="531" x2="1379"><stop offset="0" stop-color="#00ffad"/><stop offset="0.23" stop-color="#00ff9d"/><stop offset="0.4139" stop-color="#00ff8a"/><stop offset="0.5554" stop-color="#00ff74"/><stop offset="0.658" stop-color="#00ff59"/><stop offset="0.6604" stop-color="#23ff58"/><stop offset="0.6651" stop-color="#3cff57"/><stop offset="0.6733" stop-color="#54ff53"/><stop offset="0.684" stop-color="#69ff4f"/><stop offset="0.7064" stop-color="#8f4"/><stop offset="0.7382" stop-color="#a9ff2c"/><stop offset="0.75" stop-color="#b3ff1a"/><stop offset="0.7524" stop-color="#b5ff12"/><stop offset="0.7547" stop-color="#b7ff00"/><stop offset="0.7759" stop-color="#c7ff00"/><stop offset="0.8608" stop-color="#ff0"/><stop offset="0.9233" stop-color="#ffdf00"/><stop offset="1" stop-color="#ffc400"/></linearGradient>
<linearGradient id="c136" gradientUnits="userSpaceOnUse" x1="531" x2="1383"><stop offset="0" stop-color="#00ffae"/><stop offset="0.2277" stop-color="#00ff9e"/><stop offset="0.4096" stop-color="#00ff8c"/><stop offset="0.5505" stop-color="#00ff76"/><stop offset="0.6538" stop-color="#00ff5c"/><stop offset="0.6549" stop-color="#1eff5c"/><stop offset="0.6573" stop-color="#2fff5b"/><stop offset="0.6596" stop-color="#3aff5a"/><stop offset="0.6678" stop-color="#53ff57"/><stop offset="0.6796" stop-color="#6aff53"/><stop offset="0.7031" stop-color="#8aff48"/><stop offset="0.7336" stop-color="#aaff34"/><stop offset="0.7523" stop-color="#baff1c"/><stop offset="0.7559" stop-color="#bdff11"/><stop offset="0.7582" stop-color="#beff00"/><stop offset="0.7758" stop-color="#cf0"/><stop offset="0.8533" stop-color="#ff0"/><stop offset="0.919" stop-color="#ffde00"/><stop offset="1" stop-color="#ffc100"/></linearGradient>
<linearGradient id="c137" gradientUnits="userSpaceOnUse" x1="532" x2="1387"><stop offset="0" stop-color="#00ffae"/><stop offset="0.2234" stop-color="#00ff9f"/><stop offset="0.4035" stop-color="#00ff8e"/><stop offset="0.5439" stop-color="#00ff78"/><stop offset="0.648" stop-color="#00ff60"/><stop offset="0.6491" stop-color="#18ff5f"/><stop offset="0.6503" stop-color="#25ff5f"/><stop offset="0.655" stop-color="#3dff5d"/><stop offset="0.6632" stop-color="#55ff5b"/><stop offset="0.676" stop-color="#6dff56"/><stop offset="0.7018" stop-color="#90ff4b"/><stop offset="0.7357" stop-color="#b1ff36"/><stop offset="0.7544" stop-color="#c0ff1e"/><stop offset="0.7591" stop-color="#c4ff10"/><stop offset="0.7614" stop-color="#c6ff00"/><stop offset="0.7766" stop-color="#d1ff00"/><stop offset="0.8468" stop-color="#ff0"/><stop offset="0.9146" stop-color="#fd0"/><stop offset="1" stop-color="#ffbf00"/></linearGradient>
<linearGradient id="c138" gradientUnits="userSpaceOnUse" x1="532" x2="1391"><stop offset="0" stop-color="#00ffaf"/><stop offset="0.22" stop-color="#00ffa1"/><stop offset="0.3981" stop-color="#00ff8f"/><stop offset="0.5378" stop-color="#00ff7b"/><stop offset="0.6426" stop-color="#00ff63"/><stop offset="0.6449" stop-color="#20ff62"/><stop offset="0.6461" stop-color="#2aff62"/><stop offset="0.6508" stop-color="#40ff60"/><stop offset="0.6601" stop-color="#59ff5d"/><stop offset="0.6729" stop-color="#71ff59"/><stop offset="0.7008" stop-color="#95ff4d"/><stop offset="0.7381" stop-color="#b8ff37"/><stop offset="0.7579" stop-color="#c8ff1e"/><stop offset="0.7625" stop-color="#cbff0f"/><stop offset="0.7637" stop-color="#cf0"/><stop offset="0.7776" stop-color="#d6ff00"/><stop offset="0.8393" stop-color="#ff0"/><stop offset="0.9104" stop-color="#ffdb00"/><stop offset="1" stop-color="#ffbc00"/></linearGradient>
<linearGradient id="c139" gradientUnits="userSpaceOnUse" x1="533" x2="1396"><stop offset="0" stop-color="#00ffb0"/><stop offset="0.3928" stop-color="#00ff91"/><stop offset="0.5319" stop-color="#00ff7d"/><stop offset="0.6373" stop-color="#0f6"/><stop offset="0.6385" stop-color="#1bff65"/><stop offset="0.6396" stop-color="#26ff65"/><stop offset="0.6443" stop-color="#3eff64"/><stop offset="0.6535" stop-color="#58ff61"/><stop offset="0.6674" stop-color="#72ff5c"/><stop offset="0.6976" stop-color="#98ff50"/><stop offset="0.7393" stop-color="#bfff38"/><stop offset="0.7601" stop-color="#cfff1e"/><stop offset="0.7648" stop-color="#d2ff0e"/><stop offset="0.7659" stop-color="#d3ff00"/><stop offset="0.7787" stop-color="#dcff00"/><stop offset="0.832" stop-color="#ff0"/><stop offset="0.9061" stop-color="#ffd900"/><stop offset="1" stop-color="#ffb900"/></linearGradient>
<linearGradient id="c140" gradientUnits="userSpaceOnUse" x1="533" x2="1400"><stop offset="0" stop-color="#00ffb1"/><stop offset="0.3875" stop-color="#00ff93"/><stop offset="0.526" stop-color="#00ff7f"/><stop offset="0.6321" stop-color="#00ff69"/><stop offset="0.6344" stop-color="#23ff68"/><stop offset="0.6367" stop-color="#32ff67"/><stop offset="0.6401" stop-color="#41ff66"/><stop offset="0.6505" stop-color="#5cff63"/><stop offset="0.6644" stop-color="#75ff5f"/><stop offset="0.6967" stop-color="#9dff53"/><stop offset="0.7416" stop-color="#c5ff39"/><stop offset="0.7624" stop-color="#d5ff20"/><stop offset="0.767" stop-color="#d8ff13"/><stop offset="0.7682" stop-color="#d9ff0d"/><stop offset="0.7693" stop-color="#daff00"/><stop offset="0.7809" stop-color="#e2ff00"/><stop offset="0.8247" stop-color="#ff0"/><stop offset="0.9008" stop-color="#ffd900"/><stop offset="1" stop-color="#ffb700"/></linearGradient>
<linearGradient id="c141" gradientUnits="userSpaceOnUse" x1="534" x2="1404"><stop offset="0" stop-color="#00ffb2"/><stop offset="0.3839" stop-color="#00ff94"/><stop offset="0.5218" stop-color="#00ff81"/><stop offset="0.6276" stop-color="#00ff6b"/><stop offset="0.6287" stop-color="#1eff6b"/><stop offset="0.631" stop-color="#30ff6a"/><stop offset="0.6345" stop-color="#3fff69"/><stop offset="0.6448" stop-color="#5cff66"/><stop offset="0.6598" stop-color="#76ff62"/><stop offset="0.6943" stop-color="#a0ff55"/><stop offset="0.7437" stop-color="#ccff3a"/><stop offset="0.7655" stop-color="#dcff20"/><stop offset="0.7701" stop-color="#dfff12"/><stop offset="0.7724" stop-color="#e1ff00"/><stop offset="0.7816" stop-color="#e7ff00"/><stop offset="0.8184" stop-color="#ff0"/><stop offset="0.8966" stop-color="#ffd700"/><stop offset="1" stop-color="#ffb500"/></linearGradient>
<linearGradient id="c142" gradientUnits="userSpaceOnUse" x1="534" x2="1408"><stop offset="0" stop-color="#00ffb3"/><stop offset="0.3787" stop-color="#00ff96"/><stop offset="0.516" stop-color="#00ff84"/><stop offset="0.6224" stop-color="#00ff6e"/><stop offset="0.6236" stop-color="#18ff6e"/><stop offset="0.6247" stop-color="#25ff6d"/><stop offset="0.627" stop-color="#33ff6d"/><stop offset="0.6304" stop-color="#42ff6c"/><stop offset="0.6419" stop-color="#60ff69"/><stop offset="0.6579" stop-color="#7bff64"/><stop offset="0.6945" stop-color="#a6ff57"/><stop offset="0.746" stop-color="#d2ff3b"/><stop offset="0.7677" stop-color="#e2ff22"/><stop offset="0.7735" stop-color="#e6ff12"/><stop offset="0.7757" stop-color="#e7ff00"/><stop offset="0.7849" stop-color="#ef0"/><stop offset="0.8112" stop-color="#ff0"/><stop offset="0.8924" stop-color="#ffd600"/><stop offset="1" stop-color="#ffb200"/></linearGradient>
<linearGradient id="c143" gradientUnits="userSpaceOnUse" x1="534" x2="1412"><stop offset="0" stop-color="#00ffb4"/><stop offset="0.3747" stop-color="#00ff98"/><stop offset="0.5114" stop-color="#00ff86"/><stop offset="0.6173" stop-color="#00ff71"/><stop offset="0.6185" stop-color="#0dff71"/><stop offset="0.6196" stop-color="#21ff70"/><stop offset="0.6207" stop-color="#2aff70"/><stop offset="0.6264" stop-color="#44ff6f"/><stop offset="0.6378" stop-color="#61ff6c"/><stop offset="0.6549" stop-color="#7eff67"/><stop offset="0.6925" stop-color="#a9ff5a"/><stop offset="0.7472" stop-color="#d7ff3d"/><stop offset="0.7608" stop-color="#e1ff30"/><stop offset="0.7711" stop-color="#e9ff22"/><stop offset="0.7756" stop-color="#ecff16"/><stop offset="0.7768" stop-color="#ecff11"/><stop offset="0.7779" stop-color="#edff03"/><stop offset="0.779" stop-color="#ef0"/><stop offset="0.7893" stop-color="#f5ff00"/><stop offset="0.8052" stop-color="#ff0"/><stop offset="0.8884" stop-color="#ffd400"/><stop offset="1" stop-color="#ffb000"/></linearGradient>
<linearGradient id="c144" gradientUnits="userSpaceOnUse" x1="535" x2="1417"><stop offset="0" stop-color="#00ffb5"/><stop offset="0.3696" stop-color="#0f9"/><stop offset="0.5057" stop-color="#0f8"/><stop offset="0.6122" stop-color="#00ff73"/><stop offset="0.6134" stop-color="#1bff73"/><stop offset="0.6145" stop-color="#27ff73"/><stop offset="0.6168" stop-color="#35ff72"/><stop offset="0.6213" stop-color="#47ff71"/><stop offset="0.6338" stop-color="#65ff6e"/><stop offset="0.6508" stop-color="#81ff69"/><stop offset="0.6905" stop-color="#aeff5c"/><stop offset="0.746" stop-color="#dcff40"/><stop offset="0.7619" stop-color="#e7ff32"/><stop offset="0.7721" stop-color="#eeff24"/><stop offset="0.7778" stop-color="#f2ff15"/><stop offset="0.7789" stop-color="#f3ff0f"/><stop offset="0.78" stop-color="#f4ff00"/><stop offset="0.7937" stop-color="#fdff00"/><stop offset="0.8866" stop-color="#ffd200"/><stop offset="1" stop-color="#ffad00"/></linearGradient>
<linearGradient id="c145" gradientUnits="userSpaceOnUse" x1="535" x2="1421"><stop offset="0" stop-color="#00ffb6"/><stop offset="0.3657" stop-color="#00ff9b"/><stop offset="0.5" stop-color="#00ff8a"/><stop offset="0.6072" stop-color="#00ff76"/><stop offset="0.6095" stop-color="#23ff75"/><stop offset="0.6106" stop-color="#2cff75"/><stop offset="0.6163" stop-color="#45ff74"/><stop offset="0.6287" stop-color="#65ff71"/><stop offset="0.6467" stop-color="#82ff6c"/><stop offset="0.6896" stop-color="#b2ff5e"/><stop offset="0.7506" stop-color="#e3ff3f"/><stop offset="0.7731" stop-color="#f3ff27"/><stop offset="0.781" stop-color="#f9ff14"/><stop offset="0.7822" stop-color="#f9ff0e"/><stop offset="0.7833" stop-color="#faff00"/><stop offset="0.7901" stop-color="#ff0"/><stop offset="0.8804" stop-color="#ffd100"/><stop offset="1" stop-color="#ffab00"/></linearGradient>
<linearGradient id="c146" gradientUnits="userSpaceOnUse" x1="536" x2="1425"><stop offset="0" stop-color="#00ffb7"/><stop offset="0.3622" stop-color="#00ff9c"/><stop offset="0.4961" stop-color="#00ff8c"/><stop offset="0.6029" stop-color="#00ff78"/><stop offset="0.604" stop-color="#1eff78"/><stop offset="0.6052" stop-color="#28ff78"/><stop offset="0.6108" stop-color="#44ff76"/><stop offset="0.6232" stop-color="#64ff74"/><stop offset="0.6412" stop-color="#82ff6f"/><stop offset="0.6817" stop-color="#b0ff63"/><stop offset="0.7402" stop-color="#e0ff48"/><stop offset="0.7683" stop-color="#f4ff32"/><stop offset="0.7773" stop-color="#fbff25"/><stop offset="0.7829" stop-color="#feff18"/><stop offset="0.7852" stop-color="#fffe0d"/><stop offset="0.7863" stop-color="#fffd00"/><stop offset="0.8763" stop-color="#ffd000"/><stop offset="1" stop-color="#ffa900"/></linearGradient>
<linearGradient id="c147" gradientUnits="userSpaceOnUse" x1="536" x2="1429"><stop offset="0" stop-color="#00ffb8"/><stop offset="0.3583" stop-color="#00ff9e"/><stop offset="0.4916" stop-color="#00ff8e"/><stop offset="0.598" stop-color="#00ff7b"/><stop offset="0.5991" stop-color="#18ff7b"/><stop offset="0.6002" stop-color="#25ff7a"/><stop offset="0.6025" stop-color="#34ff7a"/><stop offset="0.6069" stop-color="#46ff79"/><stop offset="0.6181" stop-color="#63ff76"/><stop offset="0.6361" stop-color="#81ff72"/><stop offset="0.6741" stop-color="#aeff67"/><stop offset="0.7279" stop-color="#dcff51"/><stop offset="0.7581" stop-color="#f2ff3f"/><stop offset="0.7772" stop-color="#ffff2b"/><stop offset="0.7861" stop-color="#fff917"/><stop offset="0.7895" stop-color="#fff700"/><stop offset="0.8791" stop-color="#fc0"/><stop offset="1" stop-color="#ffa700"/></linearGradient>
<linearGradient id="c148" gradientUnits="userSpaceOnUse" x1="537" x2="1433"><stop offset="0" stop-color="#00ffb9"/><stop offset="0.3538" stop-color="#00ff9f"/><stop offset="0.4866" stop-color="#00ff90"/><stop offset="0.5926" stop-color="#00ff7d"/><stop offset="0.5938" stop-color="#0cff7d"/><stop offset="0.5949" stop-color="#21ff7d"/><stop offset="0.596" stop-color="#2aff7d"/><stop offset="0.6016" stop-color="#45ff7b"/><stop offset="0.6127" stop-color="#62ff79"/><stop offset="0.6306" stop-color="#81ff75"/><stop offset="0.654" stop-color="#9eff6e"/><stop offset="0.6853" stop-color="#bdff65"/><stop offset="0.7366" stop-color="#e7ff4f"/><stop offset="0.7701" stop-color="#feff37"/><stop offset="0.7868" stop-color="#fff51d"/><stop offset="0.7902" stop-color="#fff311"/><stop offset="0.7924" stop-color="#fff200"/><stop offset="0.8817" stop-color="#ffc800"/><stop offset="1" stop-color="#ffa500"/></linearGradient>
<linearGradient id="c149" gradientUnits="userSpaceOnUse" x1="537" x2="1438"><stop offset="0" stop-color="#00ffba"/><stop offset="0.3507" stop-color="#00ffa1"/><stop offset="0.5882" stop-color="#00ff80"/><stop offset="0.5893" stop-color="#1bff7f"/><stop offset="0.5905" stop-color="#27ff7f"/><stop offset="0.5927" stop-color="#35ff7f"/><stop offset="0.5971" stop-color="#47ff7e"/><stop offset="0.6093" stop-color="#66ff7b"/><stop offset="0.626" stop-color="#82ff77"/><stop offset="0.6493" stop-color="#a0ff71"/><stop offset="0.6804" stop-color="#beff68"/><stop offset="0.7292" stop-color="#e6ff54"/><stop offset="0.7636" stop-color="#ffff3f"/><stop offset="0.7869" stop-color="#fff021"/><stop offset="0.7925" stop-color="#ffed10"/><stop offset="0.7936" stop-color="#ffed00"/><stop offset="0.8824" stop-color="#ffc500"/><stop offset="1" stop-color="#ffa200"/></linearGradient>
<linearGradient id="c150" gradientUnits="userSpaceOnUse" x1="538" x2="1442"><stop offset="0" stop-color="#0fb"/><stop offset="0.3462" stop-color="#00ffa2"/><stop offset="0.583" stop-color="#00ff82"/><stop offset="0.5852" stop-color="#23ff81"/><stop offset="0.5863" stop-color="#2cff81"/><stop offset="0.5918" stop-color="#46ff80"/><stop offset="0.6029" stop-color="#63ff7e"/><stop offset="0.6206" stop-color="#82ff7a"/><stop offset="0.6438" stop-color="#9fff74"/><stop offset="0.6737" stop-color="#bdff6c"/><stop offset="0.7212" stop-color="#e5ff5a"/><stop offset="0.7566" stop-color="#feff47"/><stop offset="0.7876" stop-color="#ffec24"/><stop offset="0.7942" stop-color="#ffe914"/><stop offset="0.7954" stop-color="#ffe80e"/><stop offset="0.7965" stop-color="#ffe700"/><stop offset="0.885" stop-color="#ffc100"/><stop offset="1" stop-color="#ffa000"/></linearGradient>
<linearGradient id="c151" gradientUnits="userSpaceOnUse" x1="538" x2="1446"><stop offset="0" stop-color="#00ffbc"/><stop offset="0.3436" stop-color="#00ffa4"/><stop offset="0.5793" stop-color="#00ff84"/><stop offset="0.5804" stop-color="#1eff84"/><stop offset="0.5815" stop-color="#29ff84"/><stop offset="0.587" stop-color="#45ff83"/><stop offset="0.598" stop-color="#63ff80"/><stop offset="0.6156" stop-color="#82ff7d"/><stop offset="0.6388" stop-color="#9fff77"/><stop offset="0.6685" stop-color="#beff6f"/><stop offset="0.7148" stop-color="#e4ff5f"/><stop offset="0.7511" stop-color="#ffff4d"/><stop offset="0.7753" stop-color="#fff037"/><stop offset="0.7896" stop-color="#ffe825"/><stop offset="0.7974" stop-color="#ffe313"/><stop offset="0.7985" stop-color="#ffe30d"/><stop offset="0.7996" stop-color="#ffe200"/><stop offset="0.8866" stop-color="#ffbe00"/><stop offset="1" stop-color="#ff9e00"/></linearGradient>
<linearGradient id="c152" gradientUnits="userSpaceOnUse" x1="539" x2="1450"><stop offset="0" stop-color="#00ffbc"/><stop offset="0.3392" stop-color="#00ffa5"/><stop offset="0.5741" stop-color="#00ff86"/><stop offset="0.5752" stop-color="#18ff86"/><stop offset="0.5763" stop-color="#25ff86"/><stop offset="0.5785" stop-color="#34ff86"/><stop offset="0.5829" stop-color="#47ff85"/><stop offset="0.5939" stop-color="#64ff83"/><stop offset="0.6103" stop-color="#81ff7f"/><stop offset="0.6334" stop-color="#9fff7a"/><stop offset="0.663" stop-color="#beff72"/><stop offset="0.7453" stop-color="#ffff52"/><stop offset="0.7739" stop-color="#ffed3a"/><stop offset="0.7903" stop-color="#ffe428"/><stop offset="0.7991" stop-color="#ffdf16"/><stop offset="0.8013" stop-color="#ffde0b"/><stop offset="0.8024" stop-color="#ffde00"/><stop offset="0.8891" stop-color="#fb0"/><stop offset="1" stop-color="#ff9c00"/></linearGradient>
<linearGradient id="c153" gradientUnits="userSpaceOnUse" x1="539" x2="1454"><stop offset="0" stop-color="#00ffbd"/><stop offset="0.3355" stop-color="#00ffa7"/><stop offset="0.5694" stop-color="#00ff89"/><stop offset="0.5705" stop-color="#0bff89"/><stop offset="0.5716" stop-color="#21ff88"/><stop offset="0.5727" stop-color="#2bff88"/><stop offset="0.5781" stop-color="#46ff87"/><stop offset="0.5891" stop-color="#64ff85"/><stop offset="0.6066" stop-color="#83ff81"/><stop offset="0.6295" stop-color="#a0ff7c"/><stop offset="0.6579" stop-color="#beff75"/><stop offset="0.7388" stop-color="#ffff58"/><stop offset="0.7716" stop-color="#ffea3e"/><stop offset="0.7913" stop-color="#ffe02a"/><stop offset="0.8011" stop-color="#ffdb18"/><stop offset="0.8033" stop-color="#ffda10"/><stop offset="0.8055" stop-color="#ffd900"/><stop offset="0.8907" stop-color="#ffb800"/><stop offset="1" stop-color="#ff9a00"/></linearGradient>
<linearGradient id="c154" gradientUnits="userSpaceOnUse" x1="540" x2="1459"><stop offset="0" stop-color="#00ffbe"/><stop offset="0.3319" stop-color="#00ffa8"/><stop offset="0.5647" stop-color="#00ff8b"/><stop offset="0.5658" stop-color="#1bff8b"/><stop offset="0.5669" stop-color="#27ff8a"/><stop offset="0.5691" stop-color="#36ff8a"/><stop offset="0.5734" stop-color="#48ff89"/><stop offset="0.5843" stop-color="#65ff87"/><stop offset="0.6007" stop-color="#82ff84"/><stop offset="0.6235" stop-color="#a0ff7f"/><stop offset="0.6529" stop-color="#bfff78"/><stop offset="0.7323" stop-color="#ffff5c"/><stop offset="0.7911" stop-color="#ffdc2c"/><stop offset="0.803" stop-color="#ffd617"/><stop offset="0.8052" stop-color="#ffd50f"/><stop offset="0.8074" stop-color="#ffd400"/><stop offset="0.8923" stop-color="#ffb500"/><stop offset="1" stop-color="#ff9800"/></linearGradient>
<linearGradient id="c155" gradientUnits="userSpaceOnUse" x1="540" x2="1463"><stop offset="0" stop-color="#00ffbf"/><stop offset="0.3283" stop-color="#0fa"/><stop offset="0.5601" stop-color="#00ff8d"/><stop offset="0.5623" stop-color="#23ff8d"/><stop offset="0.5634" stop-color="#2cff8c"/><stop offset="0.5688" stop-color="#47ff8c"/><stop offset="0.5796" stop-color="#65ff8a"/><stop offset="0.5959" stop-color="#82ff86"/><stop offset="0.6186" stop-color="#a0ff82"/><stop offset="0.6468" stop-color="#beff7b"/><stop offset="0.7259" stop-color="#ffff61"/><stop offset="0.7703" stop-color="#ffe341"/><stop offset="0.7931" stop-color="#ffd82c"/><stop offset="0.8061" stop-color="#ffd216"/><stop offset="0.8082" stop-color="#ffd10e"/><stop offset="0.8093" stop-color="#ffd100"/><stop offset="0.8938" stop-color="#ffb200"/><stop offset="1" stop-color="#ff9600"/></linearGradient>
<linearGradient id="c156" gradientUnits="userSpaceOnUse" x1="541" x2="1467"><stop offset="0" stop-color="#00ffc0"/><stop offset="0.3261" stop-color="#00ffab"/><stop offset="0.5562" stop-color="#00ff8f"/><stop offset="0.5572" stop-color="#1eff8f"/><stop offset="0.5583" stop-color="#29ff8f"/><stop offset="0.5637" stop-color="#45ff8e"/><stop offset="0.5745" stop-color="#64ff8c"/><stop offset="0.5907" stop-color="#82ff89"/><stop offset="0.6134" stop-color="#a0ff84"/><stop offset="0.6415" stop-color="#beff7e"/><stop offset="0.7203" stop-color="#ffff65"/><stop offset="0.7937" stop-color="#ffd52e"/><stop offset="0.8078" stop-color="#ffce19"/><stop offset="0.811" stop-color="#ffcd0d"/><stop offset="0.8121" stop-color="#fc0"/><stop offset="0.8952" stop-color="#ffaf00"/><stop offset="1" stop-color="#ff9400"/></linearGradient>
<linearGradient id="c157" gradientUnits="userSpaceOnUse" x1="542" x2="1471"><stop offset="0" stop-color="#00ffc1"/><stop offset="0.3219" stop-color="#00ffad"/><stop offset="0.5511" stop-color="#00ff91"/><stop offset="0.5522" stop-color="#17ff91"/><stop offset="0.5533" stop-color="#25ff91"/><stop offset="0.5554" stop-color="#35ff91"/><stop offset="0.5597" stop-color="#48ff90"/><stop offset="0.5705" stop-color="#65ff8e"/><stop offset="0.5856" stop-color="#81ff8b"/><stop offset="0.6071" stop-color="#9fff87"/><stop offset="0.6351" stop-color="#bdff81"/><stop offset="0.7137" stop-color="#ffff6a"/><stop offset="0.7696" stop-color="#fd4"/><stop offset="0.7955" stop-color="#ffd12e"/><stop offset="0.8105" stop-color="#ffca18"/><stop offset="0.8138" stop-color="#ffc90b"/><stop offset="0.8149" stop-color="#ffc800"/><stop offset="0.8967" stop-color="#ffac00"/><stop offset="1" stop-color="#ff9200"/></linearGradient>
<linearGradient id="c158" gradientUnits="userSpaceOnUse" x1="542" x2="1475"><stop offset="0" stop-color="#00ffc2"/><stop offset="0.3183" stop-color="#00ffae"/><stop offset="0.5466" stop-color="#00ff93"/><stop offset="0.5477" stop-color="#09ff93"/><stop offset="0.5488" stop-color="#21ff93"/><stop offset="0.5498" stop-color="#2bff93"/><stop offset="0.5552" stop-color="#46ff92"/><stop offset="0.5659" stop-color="#65ff90"/><stop offset="0.582" stop-color="#82ff8d"/><stop offset="0.6034" stop-color="#a0ff89"/><stop offset="0.6313" stop-color="#beff83"/><stop offset="0.7085" stop-color="#ffff6d"/><stop offset="0.7481" stop-color="#ffe554"/><stop offset="0.7964" stop-color="#ffcd2f"/><stop offset="0.8124" stop-color="#ffc71a"/><stop offset="0.8156" stop-color="#ffc510"/><stop offset="0.8178" stop-color="#ffc500"/><stop offset="0.8992" stop-color="#ffa900"/><stop offset="1" stop-color="#ff9000"/></linearGradient>
<linearGradient id="c159" gradientUnits="userSpaceOnUse" x1="543" x2="1480"><stop offset="0" stop-color="#00ffc3"/><stop offset="0.3159" stop-color="#00ffaf"/><stop offset="0.5422" stop-color="#00ff95"/><stop offset="0.5432" stop-color="#1bff95"/><stop offset="0.5443" stop-color="#27ff95"/><stop offset="0.5496" stop-color="#45ff94"/><stop offset="0.5603" stop-color="#64ff92"/><stop offset="0.5763" stop-color="#82ff90"/><stop offset="0.5977" stop-color="#a0ff8c"/><stop offset="0.6254" stop-color="#beff86"/><stop offset="0.7012" stop-color="#ffff71"/><stop offset="0.7449" stop-color="#ffe356"/><stop offset="0.7972" stop-color="#ffca30"/><stop offset="0.8143" stop-color="#ffc319"/><stop offset="0.8175" stop-color="#ffc20f"/><stop offset="0.8196" stop-color="#ffc100"/><stop offset="0.9007" stop-color="#ffa600"/><stop offset="1" stop-color="#ff8e00"/></linearGradient>
<linearGradient id="c160" gradientUnits="userSpaceOnUse" x1="543" x2="1484"><stop offset="0" stop-color="#00ffc4"/><stop offset="0.3124" stop-color="#00ffb1"/><stop offset="0.5377" stop-color="#00ff98"/><stop offset="0.5399" stop-color="#23ff97"/><stop offset="0.5409" stop-color="#2dff97"/><stop offset="0.5462" stop-color="#48ff96"/><stop offset="0.5569" stop-color="#66ff95"/><stop offset="0.5717" stop-color="#82ff92"/><stop offset="0.593" stop-color="#a0ff8e"/><stop offset="0.6206" stop-color="#beff89"/><stop offset="0.6961" stop-color="#ffff75"/><stop offset="0.7428" stop-color="#ffe157"/><stop offset="0.7991" stop-color="#ffc630"/><stop offset="0.8162" stop-color="#ffbf1a"/><stop offset="0.8204" stop-color="#ffbe0e"/><stop offset="0.8215" stop-color="#ffbd04"/><stop offset="0.8225" stop-color="#ffbd00"/><stop offset="0.9022" stop-color="#ffa400"/><stop offset="1" stop-color="#ff8c00"/></linearGradient>
<linearGradient id="c161" gradientUnits="userSpaceOnUse" x1="544" x2="1488"><stop offset="0" stop-color="#00ffc5"/><stop offset="0.3093" stop-color="#00ffb2"/><stop offset="0.5339" stop-color="#00ff9a"/><stop offset="0.535" stop-color="#1eff99"/><stop offset="0.536" stop-color="#29ff99"/><stop offset="0.5413" stop-color="#46ff98"/><stop offset="0.5519" stop-color="#65ff97"/><stop offset="0.5667" stop-color="#81ff94"/><stop offset="0.5879" stop-color="#9fff91"/><stop offset="0.6144" stop-color="#bdff8b"/><stop offset="0.6896" stop-color="#ffff79"/><stop offset="0.7394" stop-color="#ffdf5a"/><stop offset="0.8008" stop-color="#ffc330"/><stop offset="0.8189" stop-color="#ffbc1a"/><stop offset="0.8231" stop-color="#ffba0d"/><stop offset="0.8242" stop-color="#ffba00"/><stop offset="0.9036" stop-color="#ffa100"/><stop offset="1" stop-color="#ff8a00"/></linearGradient>
<linearGradient id="c162" gradientUnits="userSpaceOnUse" x1="544" x2="1492"><stop offset="0" stop-color="#00ffc6"/><stop offset="0.307" stop-color="#00ffb4"/><stop offset="0.5295" stop-color="#00ff9c"/><stop offset="0.5306" stop-color="#17ff9b"/><stop offset="0.5316" stop-color="#25ff9b"/><stop offset="0.5338" stop-color="#35ff9b"/><stop offset="0.538" stop-color="#49ff9a"/><stop offset="0.5485" stop-color="#67ff99"/><stop offset="0.5633" stop-color="#83ff96"/><stop offset="0.5844" stop-color="#a1ff93"/><stop offset="0.6108" stop-color="#beff8e"/><stop offset="0.6846" stop-color="#ffff7c"/><stop offset="0.7363" stop-color="#ffdd5c"/><stop offset="0.8017" stop-color="#ffc031"/><stop offset="0.8217" stop-color="#ffb819"/><stop offset="0.8259" stop-color="#ffb70c"/><stop offset="0.827" stop-color="#ffb600"/><stop offset="1" stop-color="#f80"/></linearGradient>
<linearGradient id="c163" gradientUnits="userSpaceOnUse" x1="545" x2="1496"><stop offset="0" stop-color="#00ffc7"/><stop offset="0.3039" stop-color="#00ffb5"/><stop offset="0.5247" stop-color="#00ff9e"/><stop offset="0.5258" stop-color="#07ff9e"/><stop offset="0.5268" stop-color="#21ff9d"/><stop offset="0.5279" stop-color="#2bff9d"/><stop offset="0.5331" stop-color="#47ff9d"/><stop offset="0.5436" stop-color="#66ff9b"/><stop offset="0.5584" stop-color="#82ff99"/><stop offset="0.5794" stop-color="#a1ff95"/><stop offset="0.6057" stop-color="#beff90"/><stop offset="0.6782" stop-color="#ffff7f"/><stop offset="0.734" stop-color="#ffdb5e"/><stop offset="0.8034" stop-color="#ffbc31"/><stop offset="0.8233" stop-color="#ffb51a"/><stop offset="0.8275" stop-color="#ffb410"/><stop offset="0.8297" stop-color="#ffb300"/><stop offset="1" stop-color="#ff8600"/></linearGradient>
<linearGradient id="c164" gradientUnits="userSpaceOnUse" x1="545" x2="1501"><stop offset="0" stop-color="#00ffc8"/><stop offset="0.3013" stop-color="#00ffb7"/><stop offset="0.5209" stop-color="#00ffa0"/><stop offset="0.522" stop-color="#1bffa0"/><stop offset="0.523" stop-color="#28ff9f"/><stop offset="0.5251" stop-color="#37ff9f"/><stop offset="0.5282" stop-color="#46ff9f"/><stop offset="0.5387" stop-color="#65ff9d"/><stop offset="0.5533" stop-color="#82ff9b"/><stop offset="0.5743" stop-color="#a0ff97"/><stop offset="0.6004" stop-color="#beff93"/><stop offset="0.6726" stop-color="#ffff82"/><stop offset="0.7301" stop-color="#ffda60"/><stop offset="0.8044" stop-color="#ffb932"/><stop offset="0.8253" stop-color="#ffb21a"/><stop offset="0.8295" stop-color="#ffb00f"/><stop offset="0.8316" stop-color="#ffb000"/><stop offset="1" stop-color="#ff8400"/></linearGradient>
<linearGradient id="c165" gradientUnits="userSpaceOnUse" x1="546" x2="1505"><stop offset="0" stop-color="#00ffc9"/><stop offset="0.2972" stop-color="#00ffb8"/><stop offset="0.5162" stop-color="#00ffa2"/><stop offset="0.5182" stop-color="#23ffa1"/><stop offset="0.5193" stop-color="#2dffa1"/><stop offset="0.5245" stop-color="#48ffa1"/><stop offset="0.5339" stop-color="#64ff9f"/><stop offset="0.5485" stop-color="#82ff9d"/><stop offset="0.5683" stop-color="#9fff9a"/><stop offset="0.5944" stop-color="#bdff95"/><stop offset="0.6663" stop-color="#ffff86"/><stop offset="0.7278" stop-color="#ffd861"/><stop offset="0.806" stop-color="#ffb632"/><stop offset="0.8269" stop-color="#ffaf1b"/><stop offset="0.8311" stop-color="#ffae12"/><stop offset="0.8342" stop-color="#ffac00"/><stop offset="1" stop-color="#ff8200"/></linearGradient>
<linearGradient id="c166" gradientUnits="userSpaceOnUse" x1="547" x2="1509"><stop offset="0" stop-color="#00ffca"/><stop offset="0.2952" stop-color="#00ffb9"/><stop offset="0.5125" stop-color="#00ffa4"/><stop offset="0.5135" stop-color="#1effa3"/><stop offset="0.5146" stop-color="#2affa3"/><stop offset="0.5198" stop-color="#47ffa3"/><stop offset="0.5291" stop-color="#64ffa1"/><stop offset="0.5437" stop-color="#81ff9f"/><stop offset="0.5634" stop-color="#9fff9c"/><stop offset="0.5894" stop-color="#beff98"/><stop offset="0.6611" stop-color="#ffff89"/><stop offset="0.7245" stop-color="#ffd663"/><stop offset="0.8077" stop-color="#ffb332"/><stop offset="0.8295" stop-color="#ffac1b"/><stop offset="0.8347" stop-color="#ffaa0d"/><stop offset="0.8358" stop-color="#fa0"/><stop offset="1" stop-color="#ff8000"/></linearGradient>
<linearGradient id="c167" gradientUnits="userSpaceOnUse" x1="547" x2="1513"><stop offset="0" stop-color="#00ffcb"/><stop offset="0.2919" stop-color="#0fb"/><stop offset="0.5083" stop-color="#00ffa6"/><stop offset="0.5093" stop-color="#17ffa6"/><stop offset="0.5104" stop-color="#26ffa5"/><stop offset="0.5124" stop-color="#36ffa5"/><stop offset="0.5155" stop-color="#45ffa5"/><stop offset="0.5248" stop-color="#63ffa3"/><stop offset="0.5393" stop-color="#81ffa1"/><stop offset="0.559" stop-color="#9fff9e"/><stop offset="0.5849" stop-color="#beff9a"/><stop offset="0.6553" stop-color="#ffff8c"/><stop offset="0.7215" stop-color="#ffd465"/><stop offset="0.8095" stop-color="#ffb032"/><stop offset="0.8323" stop-color="#ffa81a"/><stop offset="0.8364" stop-color="#ffa710"/><stop offset="0.8375" stop-color="#ffa70c"/><stop offset="0.8385" stop-color="#ffa700"/><stop offset="1" stop-color="#ff7e00"/></linearGradient>
<linearGradient id="c168" gradientUnits="userSpaceOnUse" x1="548" x2="1517"><stop offset="0" stop-color="#0fc"/><stop offset="0.29" stop-color="#00ffbc"/><stop offset="0.5046" stop-color="#00ffa8"/><stop offset="0.5057" stop-color="#21ffa7"/><stop offset="0.5077" stop-color="#33ffa7"/><stop offset="0.5108" stop-color="#44ffa7"/><stop offset="0.5212" stop-color="#65ffa5"/><stop offset="0.5356" stop-color="#82ffa3"/><stop offset="0.5552" stop-color="#a0ffa0"/><stop offset="0.581" stop-color="#bfff9c"/><stop offset="0.6502" stop-color="#ffff8f"/><stop offset="0.7183" stop-color="#ffd366"/><stop offset="0.8111" stop-color="#ffad32"/><stop offset="0.8338" stop-color="#ffa61b"/><stop offset="0.839" stop-color="#ffa40f"/><stop offset="0.8411" stop-color="#ffa400"/><stop offset="1" stop-color="#ff7c00"/></linearGradient>
<linearGradient id="c169" gradientUnits="userSpaceOnUse" x1="548" x2="1522"><stop offset="0" stop-color="#00ffcd"/><stop offset="0.2864" stop-color="#00ffbe"/><stop offset="0.5" stop-color="#0fa"/><stop offset="0.501" stop-color="#1bffa9"/><stop offset="0.5021" stop-color="#28ffa9"/><stop offset="0.5041" stop-color="#37ffa9"/><stop offset="0.5072" stop-color="#47ffa9"/><stop offset="0.5164" stop-color="#64ffa7"/><stop offset="0.5308" stop-color="#82ffa5"/><stop offset="0.5503" stop-color="#a0ffa3"/><stop offset="0.5749" stop-color="#beff9f"/><stop offset="0.6437" stop-color="#ffff92"/><stop offset="0.7156" stop-color="#ffd168"/><stop offset="0.8121" stop-color="#ffaa32"/><stop offset="0.8357" stop-color="#ffa31b"/><stop offset="0.8409" stop-color="#ffa10f"/><stop offset="0.8429" stop-color="#ffa100"/><stop offset="1" stop-color="#ff7a00"/></linearGradient>
<linearGradient id="c170" gradientUnits="userSpaceOnUse" x1="549" x2="1526"><stop offset="0" stop-color="#00ffce"/><stop offset="0.2835" stop-color="#00ffbf"/><stop offset="0.4954" stop-color="#00ffac"/><stop offset="0.4974" stop-color="#24ffab"/><stop offset="0.4985" stop-color="#2dffab"/><stop offset="0.5026" stop-color="#45ffab"/><stop offset="0.5118" stop-color="#63ffa9"/><stop offset="0.5261" stop-color="#82ffa8"/><stop offset="0.5455" stop-color="#a0ffa5"/><stop offset="0.5701" stop-color="#beffa1"/><stop offset="0.6387" stop-color="#ffff94"/><stop offset="0.6725" stop-color="#ffe67f"/><stop offset="0.7124" stop-color="#ffcf69"/><stop offset="0.8137" stop-color="#ffa732"/><stop offset="0.8383" stop-color="#ffa01a"/><stop offset="0.8434" stop-color="#ff9e0e"/><stop offset="0.8454" stop-color="#ff9e00"/><stop offset="1" stop-color="#ff7800"/></linearGradient>
<linearGradient id="c171" gradientUnits="userSpaceOnUse" x1="550" x2="1530"><stop offset="0" stop-color="#00ffcf"/><stop offset="0.2816" stop-color="#00ffc0"/><stop offset="0.4918" stop-color="#00ffad"/><stop offset="0.4929" stop-color="#1effad"/><stop offset="0.4939" stop-color="#2affad"/><stop offset="0.499" stop-color="#48ffad"/><stop offset="0.5082" stop-color="#65ffab"/><stop offset="0.5214" stop-color="#81ffaa"/><stop offset="0.5408" stop-color="#a0ffa7"/><stop offset="0.5653" stop-color="#beffa3"/><stop offset="0.6327" stop-color="#ffff97"/><stop offset="0.6684" stop-color="#ffe581"/><stop offset="0.7092" stop-color="#ffce6b"/><stop offset="0.8153" stop-color="#ffa433"/><stop offset="0.8398" stop-color="#ff9d1b"/><stop offset="0.8449" stop-color="#ff9c11"/><stop offset="0.848" stop-color="#ff9b00"/><stop offset="1" stop-color="#ff7600"/></linearGradient>
<linearGradient id="c172" gradientUnits="userSpaceOnUse" x1="550" x2="1534"><stop offset="0" stop-color="#00ffd0"/><stop offset="0.2785" stop-color="#00ffc2"/><stop offset="0.4878" stop-color="#00ffaf"/><stop offset="0.4888" stop-color="#17ffaf"/><stop offset="0.4898" stop-color="#26ffaf"/><stop offset="0.4919" stop-color="#36ffaf"/><stop offset="0.4949" stop-color="#46ffaf"/><stop offset="0.5041" stop-color="#64ffad"/><stop offset="0.5183" stop-color="#83ffac"/><stop offset="0.5376" stop-color="#a1ffa9"/><stop offset="0.562" stop-color="#bfffa6"/><stop offset="0.628" stop-color="#ffff9a"/><stop offset="0.6646" stop-color="#ffe482"/><stop offset="0.7073" stop-color="#ffcc6c"/><stop offset="0.8181" stop-color="#ffa132"/><stop offset="0.8425" stop-color="#ff9a1b"/><stop offset="0.8476" stop-color="#ff9910"/><stop offset="0.8486" stop-color="#ff980c"/><stop offset="0.8496" stop-color="#ff9800"/><stop offset="1" stop-color="#ff7500"/></linearGradient>
<linearGradient id="c173" gradientUnits="userSpaceOnUse" x1="551" x2="1539"><stop offset="0" stop-color="#00ffd1"/><stop offset="0.2763" stop-color="#00ffc3"/><stop offset="0.4838" stop-color="#00ffb1"/><stop offset="0.4848" stop-color="#21ffb1"/><stop offset="0.4868" stop-color="#34ffb1"/><stop offset="0.4899" stop-color="#45ffb1"/><stop offset="0.499" stop-color="#63ffaf"/><stop offset="0.5132" stop-color="#82ffae"/><stop offset="0.5314" stop-color="#9fffab"/><stop offset="0.5557" stop-color="#beffa8"/><stop offset="0.6215" stop-color="#ffff9d"/><stop offset="0.6589" stop-color="#ffe385"/><stop offset="0.7034" stop-color="#ffca6d"/><stop offset="0.8188" stop-color="#ff9f32"/><stop offset="0.8441" stop-color="#ff971a"/><stop offset="0.8492" stop-color="#ff960f"/><stop offset="0.8502" stop-color="#ff960b"/><stop offset="0.8512" stop-color="#ff9500"/><stop offset="1" stop-color="#ff7200"/></linearGradient>
<linearGradient id="c174" gradientUnits="userSpaceOnUse" x1="551" x2="1543"><stop offset="0" stop-color="#00ffd2"/><stop offset="0.2742" stop-color="#00ffc5"/><stop offset="0.4798" stop-color="#00ffb3"/><stop offset="0.4808" stop-color="#1bffb3"/><stop offset="0.4819" stop-color="#28ffb3"/><stop offset="0.4839" stop-color="#38ffb3"/><stop offset="0.4869" stop-color="#47ffb2"/><stop offset="0.496" stop-color="#65ffb1"/><stop offset="0.5091" stop-color="#82ffb0"/><stop offset="0.5272" stop-color="#9fffad"/><stop offset="0.5514" stop-color="#beffaa"/><stop offset="0.6169" stop-color="#ffff9f"/><stop offset="0.6552" stop-color="#ffe287"/><stop offset="0.7006" stop-color="#ffc96f"/><stop offset="0.8206" stop-color="#ff9c32"/><stop offset="0.8458" stop-color="#ff951b"/><stop offset="0.8518" stop-color="#ff930e"/><stop offset="0.8538" stop-color="#ff9300"/><stop offset="1" stop-color="#ff7100"/></linearGradient>
<linearGradient id="c175" gradientUnits="userSpaceOnUse" x1="552" x2="1547"><stop offset="0" stop-color="#00ffd3"/><stop offset="0.2704" stop-color="#00ffc6"/><stop offset="0.4754" stop-color="#00ffb5"/><stop offset="0.4774" stop-color="#24ffb5"/><stop offset="0.4784" stop-color="#2effb5"/><stop offset="0.4824" stop-color="#46ffb4"/><stop offset="0.4915" stop-color="#64ffb3"/><stop offset="0.5045" stop-color="#81ffb2"/><stop offset="0.5226" stop-color="#9fffb0"/><stop offset="0.5457" stop-color="#bdffad"/><stop offset="0.6111" stop-color="#ffffa2"/><stop offset="0.6503" stop-color="#ffe189"/><stop offset="0.6975" stop-color="#ffc770"/><stop offset="0.8221" stop-color="#ff9932"/><stop offset="0.8482" stop-color="#ff921b"/><stop offset="0.8543" stop-color="#ff900e"/><stop offset="0.8563" stop-color="#ff9000"/><stop offset="1" stop-color="#ff6f00"/></linearGradient>
<linearGradient id="c176" gradientUnits="userSpaceOnUse" x1="553" x2="1551"><stop offset="0" stop-color="#00ffd4"/><stop offset="0.2685" stop-color="#00ffc7"/><stop offset="0.4719" stop-color="#00ffb7"/><stop offset="0.4729" stop-color="#1effb7"/><stop offset="0.4739" stop-color="#2affb7"/><stop offset="0.478" stop-color="#44ffb6"/><stop offset="0.487" stop-color="#64ffb5"/><stop offset="0.5" stop-color="#81ffb4"/><stop offset="0.518" stop-color="#9fffb2"/><stop offset="0.5421" stop-color="#beffaf"/><stop offset="0.6062" stop-color="#ffffa5"/><stop offset="0.6463" stop-color="#ffe08a"/><stop offset="0.6944" stop-color="#ffc671"/><stop offset="0.7535" stop-color="#ffad56"/><stop offset="0.8246" stop-color="#ff9632"/><stop offset="0.8507" stop-color="#ff8f1a"/><stop offset="0.8557" stop-color="#ff8e10"/><stop offset="0.8587" stop-color="#ff8d00"/><stop offset="1" stop-color="#ff6d00"/></linearGradient>
<linearGradient id="c177" gradientUnits="userSpaceOnUse" x1="553" x2="1555"><stop offset="0" stop-color="#00ffd5"/><stop offset="0.2665" stop-color="#00ffc9"/><stop offset="0.4681" stop-color="#00ffb9"/><stop offset="0.4691" stop-color="#16ffb9"/><stop offset="0.4701" stop-color="#26ffb9"/><stop offset="0.4721" stop-color="#37ffb9"/><stop offset="0.475" stop-color="#47ffb8"/><stop offset="0.484" stop-color="#65ffb7"/><stop offset="0.497" stop-color="#83ffb6"/><stop offset="0.515" stop-color="#a0ffb4"/><stop offset="0.5379" stop-color="#beffb1"/><stop offset="0.6008" stop-color="#ffffa8"/><stop offset="0.6417" stop-color="#ffe08d"/><stop offset="0.6916" stop-color="#ffc472"/><stop offset="0.7525" stop-color="#ffab57"/><stop offset="0.8263" stop-color="#ff9432"/><stop offset="0.8523" stop-color="#ff8d1b"/><stop offset="0.8583" stop-color="#ff8b10"/><stop offset="0.8613" stop-color="#ff8a00"/><stop offset="1" stop-color="#ff6b00"/></linearGradient>
<linearGradient id="c178" gradientUnits="userSpaceOnUse" x1="554" x2="1559"><stop offset="0" stop-color="#00ffd6"/><stop offset="0.2637" stop-color="#00ffca"/><stop offset="0.4647" stop-color="#0fb"/><stop offset="0.4657" stop-color="#21ffbb"/><stop offset="0.4677" stop-color="#34ffbb"/><stop offset="0.4706" stop-color="#45ffba"/><stop offset="0.4796" stop-color="#65ffb9"/><stop offset="0.4925" stop-color="#82ffb8"/><stop offset="0.5104" stop-color="#a0ffb6"/><stop offset="0.5333" stop-color="#bfffb3"/><stop offset="0.596" stop-color="#ffa"/><stop offset="0.6378" stop-color="#ffdf8e"/><stop offset="0.6886" stop-color="#ffc374"/><stop offset="0.7512" stop-color="#ffa958"/><stop offset="0.8289" stop-color="#ff9131"/><stop offset="0.8557" stop-color="#ff8a19"/><stop offset="0.8607" stop-color="#ff890f"/><stop offset="0.8617" stop-color="#ff880b"/><stop offset="0.8627" stop-color="#f80"/><stop offset="1" stop-color="#ff6900"/></linearGradient>
<linearGradient id="c179" gradientUnits="userSpaceOnUse" x1="555" x2="1564"><stop offset="0" stop-color="#00ffd7"/><stop offset="0.2607" stop-color="#0fc"/><stop offset="0.4599" stop-color="#00ffbd"/><stop offset="0.4609" stop-color="#1bffbd"/><stop offset="0.4618" stop-color="#28ffbd"/><stop offset="0.4638" stop-color="#38ffbc"/><stop offset="0.4668" stop-color="#48ffbc"/><stop offset="0.4757" stop-color="#67ffbb"/><stop offset="0.4876" stop-color="#82ffba"/><stop offset="0.5055" stop-color="#a0ffb8"/><stop offset="0.5273" stop-color="#bdffb5"/><stop offset="0.5897" stop-color="#ffffad"/><stop offset="0.6323" stop-color="#ffde90"/><stop offset="0.6848" stop-color="#ffc175"/><stop offset="0.7493" stop-color="#ffa758"/><stop offset="0.8295" stop-color="#ff8f32"/><stop offset="0.8563" stop-color="#ff871a"/><stop offset="0.8622" stop-color="#ff860e"/><stop offset="0.8642" stop-color="#ff8500"/><stop offset="1" stop-color="#ff6700"/></linearGradient>
<linearGradient id="c180" gradientUnits="userSpaceOnUse" x1="555" x2="1568"><stop offset="0" stop-color="#00ffd8"/><stop offset="0.2586" stop-color="#00ffcd"/><stop offset="0.4561" stop-color="#00ffbf"/><stop offset="0.458" stop-color="#24ffbf"/><stop offset="0.459" stop-color="#2effbe"/><stop offset="0.463" stop-color="#47ffbe"/><stop offset="0.4719" stop-color="#66ffbd"/><stop offset="0.4847" stop-color="#83ffbc"/><stop offset="0.5025" stop-color="#a1ffba"/><stop offset="0.5242" stop-color="#bfffb7"/><stop offset="0.5854" stop-color="#ffffaf"/><stop offset="0.6288" stop-color="#ffdd92"/><stop offset="0.6821" stop-color="#ffc076"/><stop offset="0.7483" stop-color="#ffa559"/><stop offset="0.8312" stop-color="#ff8c32"/><stop offset="0.8588" stop-color="#ff851a"/><stop offset="0.8648" stop-color="#ff830e"/><stop offset="0.8667" stop-color="#ff8300"/><stop offset="1" stop-color="#ff6500"/></linearGradient>
<linearGradient id="c181" gradientUnits="userSpaceOnUse" x1="556" x2="1572"><stop offset="0" stop-color="#00ffd9"/><stop offset="0.2569" stop-color="#00ffce"/><stop offset="0.4528" stop-color="#00ffc1"/><stop offset="0.4537" stop-color="#1effc0"/><stop offset="0.4547" stop-color="#2bffc0"/><stop offset="0.4587" stop-color="#45ffc0"/><stop offset="0.4665" stop-color="#62ffbf"/><stop offset="0.4793" stop-color="#81ffbe"/><stop offset="0.4961" stop-color="#9effbc"/><stop offset="0.5187" stop-color="#beffba"/><stop offset="0.5797" stop-color="#ffffb2"/><stop offset="0.624" stop-color="#ffdc94"/><stop offset="0.6791" stop-color="#ffbe77"/><stop offset="0.748" stop-color="#ffa359"/><stop offset="0.8337" stop-color="#ff8931"/><stop offset="0.8612" stop-color="#ff821a"/><stop offset="0.8661" stop-color="#ff8110"/><stop offset="0.8691" stop-color="#ff8000"/><stop offset="1" stop-color="#ff6300"/></linearGradient>
<linearGradient id="c182" gradientUnits="userSpaceOnUse" x1="557" x2="1576"><stop offset="0" stop-color="#00ffda"/><stop offset="0.2542" stop-color="#00ffd0"/><stop offset="0.4485" stop-color="#00ffc2"/><stop offset="0.4504" stop-color="#26ffc2"/><stop offset="0.4524" stop-color="#38ffc2"/><stop offset="0.4553" stop-color="#48ffc2"/><stop offset="0.4642" stop-color="#67ffc1"/><stop offset="0.476" stop-color="#82ffc0"/><stop offset="0.4936" stop-color="#a1ffbe"/><stop offset="0.5152" stop-color="#bfffbc"/><stop offset="0.5751" stop-color="#ffffb4"/><stop offset="0.6192" stop-color="#ffdc96"/><stop offset="0.6762" stop-color="#ffbd78"/><stop offset="0.7468" stop-color="#ffa15a"/><stop offset="0.8351" stop-color="#ff8731"/><stop offset="0.8626" stop-color="#ff801a"/><stop offset="0.8685" stop-color="#ff7e10"/><stop offset="0.8714" stop-color="#ff7e00"/><stop offset="1" stop-color="#ff6100"/></linearGradient>
<linearGradient id="c183" gradientUnits="userSpaceOnUse" x1="557" x2="1580"><stop offset="0" stop-color="#00ffdb"/><stop offset="0.4457" stop-color="#00ffc4"/><stop offset="0.4467" stop-color="#21ffc4"/><stop offset="0.4487" stop-color="#35ffc4"/><stop offset="0.4516" stop-color="#46ffc4"/><stop offset="0.4594" stop-color="#63ffc3"/><stop offset="0.4721" stop-color="#82ffc2"/><stop offset="0.4888" stop-color="#9fffc0"/><stop offset="0.5103" stop-color="#beffbe"/><stop offset="0.5699" stop-color="#ffffb7"/><stop offset="0.6158" stop-color="#ffdb97"/><stop offset="0.6735" stop-color="#ffbb79"/><stop offset="0.7458" stop-color="#ff9f5b"/><stop offset="0.8377" stop-color="#ff8431"/><stop offset="0.8651" stop-color="#ff7d1a"/><stop offset="0.871" stop-color="#ff7c0f"/><stop offset="0.8729" stop-color="#ff7b02"/><stop offset="0.8739" stop-color="#ff7b00"/><stop offset="1" stop-color="#ff5f00"/></linearGradient>
<linearGradient id="c184" gradientUnits="userSpaceOnUse" x1="558" x2="1585"><stop offset="0" stop-color="#00ffdc"/><stop offset="0.4411" stop-color="#00ffc6"/><stop offset="0.4421" stop-color="#1affc6"/><stop offset="0.443" stop-color="#29ffc6"/><stop offset="0.4469" stop-color="#44ffc6"/><stop offset="0.4547" stop-color="#62ffc5"/><stop offset="0.4674" stop-color="#82ffc4"/><stop offset="0.4839" stop-color="#9fffc2"/><stop offset="0.5063" stop-color="#bfffc0"/><stop offset="0.5648" stop-color="#ffffb9"/><stop offset="0.6105" stop-color="#ffda99"/><stop offset="0.6699" stop-color="#ffba7a"/><stop offset="0.7439" stop-color="#ff9d5b"/><stop offset="0.8384" stop-color="#ff8231"/><stop offset="0.8666" stop-color="#ff7b1a"/><stop offset="0.8724" stop-color="#ff790e"/><stop offset="0.8734" stop-color="#ff790a"/><stop offset="0.8744" stop-color="#ff7900"/><stop offset="1" stop-color="#ff5d00"/></linearGradient>
<linearGradient id="c185" gradientUnits="userSpaceOnUse" x1="559" x2="1589"><stop offset="0" stop-color="#00ffde"/><stop offset="0.4369" stop-color="#00ffc8"/><stop offset="0.4379" stop-color="#0effc8"/><stop offset="0.4388" stop-color="#24ffc8"/><stop offset="0.4398" stop-color="#2fffc8"/><stop offset="0.4437" stop-color="#48ffc8"/><stop offset="0.4515" stop-color="#64ffc7"/><stop offset="0.4631" stop-color="#81ffc6"/><stop offset="0.4796" stop-color="#9fffc4"/><stop offset="0.501" stop-color="#beffc2"/><stop offset="0.5592" stop-color="#ffffbc"/><stop offset="0.6058" stop-color="#ffda9b"/><stop offset="0.666" stop-color="#ffb97c"/><stop offset="0.7427" stop-color="#ff9b5c"/><stop offset="0.8408" stop-color="#ff7f30"/><stop offset="0.8689" stop-color="#ff7819"/><stop offset="0.8748" stop-color="#ff770e"/><stop offset="0.8767" stop-color="#ff7600"/><stop offset="1" stop-color="#ff5a00"/></linearGradient>
<linearGradient id="c186" gradientUnits="userSpaceOnUse" x1="559" x2="1593"><stop offset="0" stop-color="#00ffdf"/><stop offset="0.4342" stop-color="#00ffca"/><stop offset="0.4352" stop-color="#1effca"/><stop offset="0.4362" stop-color="#2bffca"/><stop offset="0.44" stop-color="#46ffca"/><stop offset="0.4478" stop-color="#63ffc9"/><stop offset="0.4603" stop-color="#83ffc8"/><stop offset="0.4768" stop-color="#a1ffc6"/><stop offset="0.4981" stop-color="#bfffc4"/><stop offset="0.5551" stop-color="#ffffbe"/><stop offset="0.6025" stop-color="#ffd89c"/><stop offset="0.6634" stop-color="#ffb87d"/><stop offset="0.7418" stop-color="#ff9a5d"/><stop offset="0.8424" stop-color="#ff7d31"/><stop offset="0.8704" stop-color="#ff761a"/><stop offset="0.8762" stop-color="#ff7410"/><stop offset="0.8791" stop-color="#ff7400"/><stop offset="1" stop-color="#ff5800"/></linearGradient>
<linearGradient id="c187" gradientUnits="userSpaceOnUse" x1="560" x2="1597"><stop offset="0" stop-color="#00ffe0"/><stop offset="0.4301" stop-color="#0fc"/><stop offset="0.432" stop-color="#27ffcc"/><stop offset="0.4339" stop-color="#38ffcc"/><stop offset="0.4368" stop-color="#49ffcb"/><stop offset="0.4446" stop-color="#66ffcb"/><stop offset="0.4561" stop-color="#82ffca"/><stop offset="0.4725" stop-color="#a0ffc8"/><stop offset="0.4928" stop-color="#beffc7"/><stop offset="0.5497" stop-color="#ffffc1"/><stop offset="0.5979" stop-color="#ffd89e"/><stop offset="0.6606" stop-color="#ffb67e"/><stop offset="0.7406" stop-color="#ff985d"/><stop offset="0.8447" stop-color="#ff7a30"/><stop offset="0.8727" stop-color="#ff731a"/><stop offset="0.8785" stop-color="#ff720f"/><stop offset="0.8814" stop-color="#ff7100"/><stop offset="1" stop-color="#ff5600"/></linearGradient>
<linearGradient id="c188" gradientUnits="userSpaceOnUse" x1="561" x2="1601"><stop offset="0" stop-color="#00ffe1"/><stop offset="0.4269" stop-color="#00ffce"/><stop offset="0.4279" stop-color="#21ffce"/><stop offset="0.4298" stop-color="#35ffce"/><stop offset="0.4327" stop-color="#47ffcd"/><stop offset="0.4404" stop-color="#65ffcd"/><stop offset="0.4519" stop-color="#82ffcc"/><stop offset="0.4683" stop-color="#a0ffcb"/><stop offset="0.4885" stop-color="#beffc9"/><stop offset="0.5452" stop-color="#ffffc3"/><stop offset="0.5942" stop-color="#ffd79f"/><stop offset="0.6577" stop-color="#ffb57f"/><stop offset="0.7394" stop-color="#ff965e"/><stop offset="0.8462" stop-color="#ff7830"/><stop offset="0.875" stop-color="#ff7119"/><stop offset="0.8808" stop-color="#ff6f0f"/><stop offset="0.8837" stop-color="#ff6f00"/><stop offset="1" stop-color="#ff5400"/></linearGradient>
<linearGradient id="c189" gradientUnits="userSpaceOnUse" x1="562" x2="1606"><stop offset="0" stop-color="#00ffe2"/><stop offset="0.4224" stop-color="#00ffd0"/><stop offset="0.4234" stop-color="#1affd0"/><stop offset="0.4243" stop-color="#29ffd0"/><stop offset="0.4282" stop-color="#45ffcf"/><stop offset="0.4358" stop-color="#64ffcf"/><stop offset="0.4473" stop-color="#81ffce"/><stop offset="0.4636" stop-color="#a0ffcd"/><stop offset="0.4837" stop-color="#beffcb"/><stop offset="0.5393" stop-color="#ffffc6"/><stop offset="0.5929" stop-color="#ffd49f"/><stop offset="0.6638" stop-color="#ffaf7b"/><stop offset="0.7433" stop-color="#ff925c"/><stop offset="0.8458" stop-color="#ff7631"/><stop offset="0.8755" stop-color="#ff6e1a"/><stop offset="0.8822" stop-color="#ff6d0e"/><stop offset="0.8831" stop-color="#ff6d0b"/><stop offset="0.8841" stop-color="#ff6c00"/><stop offset="1" stop-color="#ff5200"/></linearGradient>
<linearGradient id="c190" gradientUnits="userSpaceOnUse" x1="562" x2="1610"><stop offset="0" stop-color="#00ffe3"/><stop offset="0.4189" stop-color="#00ffd2"/><stop offset="0.4198" stop-color="#0dffd2"/><stop offset="0.4208" stop-color="#24ffd2"/><stop offset="0.4218" stop-color="#2fffd1"/><stop offset="0.4256" stop-color="#48ffd1"/><stop offset="0.4332" stop-color="#66ffd1"/><stop offset="0.4447" stop-color="#83ffd0"/><stop offset="0.4609" stop-color="#a2ffcf"/><stop offset="0.4809" stop-color="#c0ffcd"/><stop offset="0.5353" stop-color="#ffffc8"/><stop offset="0.5887" stop-color="#ffd3a0"/><stop offset="0.6613" stop-color="#ffae7c"/><stop offset="0.7424" stop-color="#ff905d"/><stop offset="0.8473" stop-color="#ff7331"/><stop offset="0.8779" stop-color="#ff6c1a"/><stop offset="0.8845" stop-color="#ff6a0e"/><stop offset="0.8865" stop-color="#ff6a00"/><stop offset="1" stop-color="#ff4f00"/></linearGradient>
<linearGradient id="c191" gradientUnits="userSpaceOnUse" x1="563" x2="1614"><stop offset="0" stop-color="#00ffe4"/><stop offset="0.4158" stop-color="#00ffd4"/><stop offset="0.4167" stop-color="#1effd3"/><stop offset="0.4177" stop-color="#2bffd3"/><stop offset="0.4215" stop-color="#47ffd3"/><stop offset="0.4291" stop-color="#65ffd3"/><stop offset="0.4405" stop-color="#83ffd2"/><stop offset="0.4558" stop-color="#a0ffd1"/><stop offset="0.4757" stop-color="#beffcf"/><stop offset="0.53" stop-color="#ffffca"/><stop offset="0.5842" stop-color="#ffd3a2"/><stop offset="0.6575" stop-color="#ffad7e"/><stop offset="0.7402" stop-color="#ff8f5e"/><stop offset="0.8487" stop-color="#ff7131"/><stop offset="0.8801" stop-color="#ff6919"/><stop offset="0.8868" stop-color="#ff680d"/><stop offset="0.8887" stop-color="#ff6700"/><stop offset="1" stop-color="#ff4d00"/></linearGradient>
<linearGradient id="c192" gradientUnits="userSpaceOnUse" x1="564" x2="1618"><stop offset="0" stop-color="#00ffe5"/><stop offset="0.4118" stop-color="#00ffd5"/><stop offset="0.4137" stop-color="#27ffd5"/><stop offset="0.4175" stop-color="#45ffd5"/><stop offset="0.425" stop-color="#64ffd5"/><stop offset="0.4364" stop-color="#82ffd4"/><stop offset="0.4516" stop-color="#a0ffd3"/><stop offset="0.4715" stop-color="#bfffd1"/><stop offset="0.5256" stop-color="#ffc"/><stop offset="0.5806" stop-color="#ffd1a3"/><stop offset="0.6546" stop-color="#ffab7f"/><stop offset="0.7381" stop-color="#ff8d5e"/><stop offset="0.8501" stop-color="#ff6f31"/><stop offset="0.8814" stop-color="#ff671a"/><stop offset="0.888" stop-color="#ff650f"/><stop offset="0.8909" stop-color="#ff6500"/><stop offset="1" stop-color="#ff4b00"/></linearGradient>
<linearGradient id="c193" gradientUnits="userSpaceOnUse" x1="564" x2="1622"><stop offset="0" stop-color="#00ffe6"/><stop offset="0.4093" stop-color="#00ffd7"/><stop offset="0.4102" stop-color="#22ffd7"/><stop offset="0.4121" stop-color="#36ffd7"/><stop offset="0.4149" stop-color="#48ffd7"/><stop offset="0.4225" stop-color="#66ffd7"/><stop offset="0.4329" stop-color="#82ffd6"/><stop offset="0.448" stop-color="#a0ffd5"/><stop offset="0.4669" stop-color="#bdffd4"/><stop offset="0.5208" stop-color="#ffffcf"/><stop offset="0.5756" stop-color="#ffd1a6"/><stop offset="0.6512" stop-color="#ffaa80"/><stop offset="0.7363" stop-color="#ff8c5f"/><stop offset="0.8516" stop-color="#ff6c31"/><stop offset="0.8837" stop-color="#ff641a"/><stop offset="0.8904" stop-color="#ff630f"/><stop offset="0.8932" stop-color="#ff6200"/><stop offset="1" stop-color="#ff4800"/></linearGradient>
<linearGradient id="c194" gradientUnits="userSpaceOnUse" x1="565" x2="1627"><stop offset="0" stop-color="#00ffe7"/><stop offset="0.4049" stop-color="#00ffd9"/><stop offset="0.4058" stop-color="#1affd9"/><stop offset="0.4068" stop-color="#29ffd9"/><stop offset="0.4105" stop-color="#46ffd9"/><stop offset="0.4181" stop-color="#65ffd9"/><stop offset="0.4284" stop-color="#81ffd8"/><stop offset="0.4435" stop-color="#a0ffd7"/><stop offset="0.4633" stop-color="#bfffd6"/><stop offset="0.516" stop-color="#fffed1"/><stop offset="0.5716" stop-color="#ffd0a7"/><stop offset="0.6469" stop-color="#ffa981"/><stop offset="0.7335" stop-color="#ff8a60"/><stop offset="0.8522" stop-color="#ff6a31"/><stop offset="0.8842" stop-color="#ff621b"/><stop offset="0.8917" stop-color="#ff600e"/><stop offset="0.8945" stop-color="#ff5f00"/><stop offset="1" stop-color="#ff4500"/></linearGradient>
<linearGradient id="c195" gradientUnits="userSpaceOnUse" x1="566" x2="1631"><stop offset="0" stop-color="#00ffe9"/><stop offset="0.4009" stop-color="#00ffdb"/><stop offset="0.4019" stop-color="#0cffdb"/><stop offset="0.4028" stop-color="#25ffdb"/><stop offset="0.4038" stop-color="#30ffdb"/><stop offset="0.4075" stop-color="#4affdb"/><stop offset="0.415" stop-color="#67ffda"/><stop offset="0.4254" stop-color="#83ffda"/><stop offset="0.4404" stop-color="#a1ffd9"/><stop offset="0.4592" stop-color="#bfffd8"/><stop offset="0.5108" stop-color="#ffffd4"/><stop offset="0.5362" stop-color="#ffe7be"/><stop offset="0.5662" stop-color="#ffd0a9"/><stop offset="0.6432" stop-color="#ffa882"/><stop offset="0.7315" stop-color="#ff8961"/><stop offset="0.8535" stop-color="#ff6732"/><stop offset="0.8864" stop-color="#ff5f1a"/><stop offset="0.8939" stop-color="#ff5d0e"/><stop offset="0.8948" stop-color="#ff5d0a"/><stop offset="0.8958" stop-color="#ff5d00"/><stop offset="1" stop-color="#ff4300"/></linearGradient>
<linearGradient id="c196" gradientUnits="userSpaceOnUse" x1="567" x2="1635"><stop offset="0" stop-color="#00ffea"/><stop offset="0.3979" stop-color="#0fd"/><stop offset="0.3989" stop-color="#1effdd"/><stop offset="0.3998" stop-color="#2cffdd"/><stop offset="0.4036" stop-color="#48ffdd"/><stop offset="0.411" stop-color="#66ffdc"/><stop offset="0.4213" stop-color="#83ffdc"/><stop offset="0.4363" stop-color="#a1ffdb"/><stop offset="0.4551" stop-color="#bfffda"/><stop offset="0.5066" stop-color="#fffed6"/><stop offset="0.5328" stop-color="#ffe5bf"/><stop offset="0.5627" stop-color="#ffcfaa"/><stop offset="0.6404" stop-color="#ffa783"/><stop offset="0.7303" stop-color="#ff8761"/><stop offset="0.8549" stop-color="#ff6532"/><stop offset="0.8886" stop-color="#ff5d1a"/><stop offset="0.8951" stop-color="#ff5b10"/><stop offset="0.897" stop-color="#ff5a09"/><stop offset="0.8979" stop-color="#ff5a00"/><stop offset="1" stop-color="#ff4000"/></linearGradient>
<linearGradient id="c197" gradientUnits="userSpaceOnUse" x1="567" x2="1639"><stop offset="0" stop-color="#00ffeb"/><stop offset="0.3946" stop-color="#00ffdf"/><stop offset="0.3965" stop-color="#27ffdf"/><stop offset="0.3983" stop-color="#3affdf"/><stop offset="0.4002" stop-color="#46ffdf"/><stop offset="0.4076" stop-color="#66ffde"/><stop offset="0.4179" stop-color="#82ffde"/><stop offset="0.4319" stop-color="#9fffdd"/><stop offset="0.4506" stop-color="#beffdc"/><stop offset="0.5019" stop-color="#ffffd9"/><stop offset="0.5271" stop-color="#ffe6c2"/><stop offset="0.5578" stop-color="#ffcfac"/><stop offset="0.6362" stop-color="#ffa685"/><stop offset="0.7276" stop-color="#ff8562"/><stop offset="0.8563" stop-color="#ff6232"/><stop offset="0.8899" stop-color="#ff5a1b"/><stop offset="0.8974" stop-color="#ff580f"/><stop offset="0.8993" stop-color="#ff5808"/><stop offset="0.9002" stop-color="#ff5700"/><stop offset="1" stop-color="#ff3d00"/></linearGradient>
<linearGradient id="c198" gradientUnits="userSpaceOnUse" x1="568" x2="1643"><stop offset="0" stop-color="#00ffec"/><stop offset="0.3916" stop-color="#00ffe1"/><stop offset="0.3926" stop-color="#22ffe1"/><stop offset="0.3944" stop-color="#37ffe1"/><stop offset="0.3963" stop-color="#44ffe1"/><stop offset="0.4037" stop-color="#65ffe0"/><stop offset="0.414" stop-color="#82ffe0"/><stop offset="0.4288" stop-color="#a1ffdf"/><stop offset="0.4474" stop-color="#bfffde"/><stop offset="0.4977" stop-color="#fffedb"/><stop offset="0.5237" stop-color="#ffe5c3"/><stop offset="0.5544" stop-color="#ffcead"/><stop offset="0.6335" stop-color="#ffa585"/><stop offset="0.7256" stop-color="#ff8463"/><stop offset="0.8577" stop-color="#ff6032"/><stop offset="0.8921" stop-color="#ff571a"/><stop offset="0.8995" stop-color="#ff550f"/><stop offset="0.9023" stop-color="#f50"/><stop offset="1" stop-color="#ff3a00"/></linearGradient>
<linearGradient id="c199" gradientUnits="userSpaceOnUse" x1="569" x2="1648"><stop offset="0" stop-color="#00ffed"/><stop offset="0.3874" stop-color="#00ffe3"/><stop offset="0.3883" stop-color="#1affe3"/><stop offset="0.3892" stop-color="#2affe3"/><stop offset="0.393" stop-color="#47ffe3"/><stop offset="0.3994" stop-color="#64ffe2"/><stop offset="0.4096" stop-color="#81ffe2"/><stop offset="0.4235" stop-color="#9fffe1"/><stop offset="0.4421" stop-color="#beffe0"/><stop offset="0.4921" stop-color="#ffffde"/><stop offset="0.5181" stop-color="#ffe5c5"/><stop offset="0.5487" stop-color="#ffceb0"/><stop offset="0.6284" stop-color="#ffa487"/><stop offset="0.722" stop-color="#ff8364"/><stop offset="0.8582" stop-color="#ff5d32"/><stop offset="0.8934" stop-color="#ff541a"/><stop offset="0.9008" stop-color="#ff520e"/><stop offset="0.9036" stop-color="#ff5200"/><stop offset="1" stop-color="#ff3600"/></linearGradient>
<linearGradient id="c200" gradientUnits="userSpaceOnUse" x1="570" x2="1652"><stop offset="0" stop-color="#0fe"/><stop offset="0.3835" stop-color="#00ffe5"/><stop offset="0.3845" stop-color="#0affe5"/><stop offset="0.3854" stop-color="#25ffe5"/><stop offset="0.3863" stop-color="#30ffe5"/><stop offset="0.39" stop-color="#4bffe5"/><stop offset="0.3965" stop-color="#66ffe4"/><stop offset="0.4067" stop-color="#83ffe4"/><stop offset="0.4205" stop-color="#a0ffe3"/><stop offset="0.439" stop-color="#bfffe3"/><stop offset="0.488" stop-color="#fffedf"/><stop offset="0.5139" stop-color="#ffe4c7"/><stop offset="0.5453" stop-color="#ffccb1"/><stop offset="0.6248" stop-color="#ffa388"/><stop offset="0.719" stop-color="#ff8165"/><stop offset="0.8595" stop-color="#ff5b32"/><stop offset="0.8946" stop-color="#ff521b"/><stop offset="0.902" stop-color="#ff5010"/><stop offset="0.9057" stop-color="#ff4f00"/><stop offset="1" stop-color="#ff3200"/></linearGradient>
<linearGradient id="c201" gradientUnits="userSpaceOnUse" x1="570" x2="1656"><stop offset="0" stop-color="#00fff0"/><stop offset="0.3812" stop-color="#00ffe7"/><stop offset="0.3821" stop-color="#1effe7"/><stop offset="0.3831" stop-color="#2cffe7"/><stop offset="0.3867" stop-color="#49ffe7"/><stop offset="0.3932" stop-color="#65ffe6"/><stop offset="0.4033" stop-color="#82ffe6"/><stop offset="0.4171" stop-color="#a0ffe5"/><stop offset="0.4346" stop-color="#beffe5"/><stop offset="0.4834" stop-color="#ffffe2"/><stop offset="0.5092" stop-color="#ffe5ca"/><stop offset="0.5405" stop-color="#ffccb3"/><stop offset="0.6206" stop-color="#ffa28a"/><stop offset="0.7164" stop-color="#ff8066"/><stop offset="0.861" stop-color="#ff5832"/><stop offset="0.8969" stop-color="#ff4f1a"/><stop offset="0.9042" stop-color="#ff4d0f"/><stop offset="0.9061" stop-color="#ff4c0a"/><stop offset="0.907" stop-color="#ff4c00"/><stop offset="1" stop-color="#ff2e00"/></linearGradient>
<linearGradient id="c202" gradientUnits="userSpaceOnUse" x1="571" x2="1660"><stop offset="0" stop-color="#00fff1"/><stop offset="0.3774" stop-color="#00ffe9"/><stop offset="0.3792" stop-color="#28ffe9"/><stop offset="0.3811" stop-color="#3affe9"/><stop offset="0.3829" stop-color="#47ffe9"/><stop offset="0.3893" stop-color="#64ffe8"/><stop offset="0.3994" stop-color="#82ffe8"/><stop offset="0.4132" stop-color="#a0ffe8"/><stop offset="0.4316" stop-color="#c0ffe7"/><stop offset="0.4793" stop-color="#fffee4"/><stop offset="0.5051" stop-color="#ffe4cb"/><stop offset="0.5363" stop-color="#ffccb4"/><stop offset="0.6171" stop-color="#ffa18b"/><stop offset="0.7135" stop-color="#ff7f67"/><stop offset="0.8632" stop-color="#ff5532"/><stop offset="0.899" stop-color="#ff4c1a"/><stop offset="0.9063" stop-color="#ff4a0f"/><stop offset="0.9082" stop-color="#ff4909"/><stop offset="0.9091" stop-color="#ff4900"/><stop offset="1" stop-color="#ff2a00"/></linearGradient>
<linearGradient id="c203" gradientUnits="userSpaceOnUse" x1="572" x2="1664"><stop offset="0" stop-color="#00fff2"/><stop offset="0.3745" stop-color="#00ffeb"/><stop offset="0.3755" stop-color="#22ffeb"/><stop offset="0.3773" stop-color="#37ffeb"/><stop offset="0.3791" stop-color="#45ffeb"/><stop offset="0.3855" stop-color="#63ffea"/><stop offset="0.3956" stop-color="#81ffea"/><stop offset="0.4093" stop-color="#a0ffea"/><stop offset="0.4267" stop-color="#beffe9"/><stop offset="0.4744" stop-color="#ffffe7"/><stop offset="0.5" stop-color="#ffe4ce"/><stop offset="0.5311" stop-color="#ffccb6"/><stop offset="0.6126" stop-color="#ffa08c"/><stop offset="0.7097" stop-color="#ff7e68"/><stop offset="0.8636" stop-color="#ff5332"/><stop offset="0.9002" stop-color="#ff491b"/><stop offset="0.9084" stop-color="#ff460e"/><stop offset="0.9112" stop-color="#ff4600"/><stop offset="1" stop-color="#ff2400"/></linearGradient>
<linearGradient id="c204" gradientUnits="userSpaceOnUse" x1="573" x2="1669"><stop offset="0" stop-color="#00fff3"/><stop offset="0.3704" stop-color="#00ffed"/><stop offset="0.3714" stop-color="#1affed"/><stop offset="0.3723" stop-color="#2affed"/><stop offset="0.3759" stop-color="#48ffed"/><stop offset="0.3823" stop-color="#65ffec"/><stop offset="0.3923" stop-color="#83ffec"/><stop offset="0.406" stop-color="#a2ffec"/><stop offset="0.4234" stop-color="#c0ffeb"/><stop offset="0.4699" stop-color="#fffee9"/><stop offset="0.4964" stop-color="#ffe3cf"/><stop offset="0.5274" stop-color="#ffcbb7"/><stop offset="0.6086" stop-color="#ff9f8d"/><stop offset="0.7053" stop-color="#ff7d6a"/><stop offset="0.865" stop-color="#ff5032"/><stop offset="0.9015" stop-color="#ff451a"/><stop offset="0.9097" stop-color="#ff430e"/><stop offset="0.9124" stop-color="#ff4200"/><stop offset="0.9672" stop-color="#ff2f00"/><stop offset="1" stop-color="#ff1d00"/></linearGradient>
<linearGradient id="c205" gradientUnits="userSpaceOnUse" x1="574" x2="1673"><stop offset="0" stop-color="#00fff5"/><stop offset="0.3667" stop-color="#00ffef"/><stop offset="0.3676" stop-color="#06ffef"/><stop offset="0.3685" stop-color="#25ffef"/><stop offset="0.3694" stop-color="#31ffef"/><stop offset="0.3722" stop-color="#46ffef"/><stop offset="0.3785" stop-color="#64ffef"/><stop offset="0.3885" stop-color="#83ffee"/><stop offset="0.4013" stop-color="#a0ffee"/><stop offset="0.4186" stop-color="#bfffed"/><stop offset="0.465" stop-color="#ffffec"/><stop offset="0.4914" stop-color="#ffe3d1"/><stop offset="0.5223" stop-color="#ffcbba"/><stop offset="0.6033" stop-color="#ff9f8f"/><stop offset="0.7006" stop-color="#ff7c6b"/><stop offset="0.8662" stop-color="#ff4d32"/><stop offset="0.9035" stop-color="#ff421a"/><stop offset="0.9108" stop-color="#ff4010"/><stop offset="0.9145" stop-color="#ff3f00"/><stop offset="0.9727" stop-color="#ff2800"/><stop offset="1" stop-color="#ff1200"/></linearGradient>
<linearGradient id="c206" gradientUnits="userSpaceOnUse" x1="574" x2="1677"><stop offset="0" stop-color="#00fff6"/><stop offset="0.3645" stop-color="#00fff1"/><stop offset="0.3654" stop-color="#1efff1"/><stop offset="0.3663" stop-color="#2dfff1"/><stop offset="0.369" stop-color="#44fff1"/><stop offset="0.3753" stop-color="#63fff1"/><stop offset="0.3853" stop-color="#82fff0"/><stop offset="0.3989" stop-color="#a1fff0"/><stop offset="0.4161" stop-color="#c0fff0"/><stop offset="0.4615" stop-color="#fffeee"/><stop offset="0.4878" stop-color="#ffe2d3"/><stop offset="0.5186" stop-color="#ffcabb"/><stop offset="0.5993" stop-color="#ff9e90"/><stop offset="0.6963" stop-color="#ff7b6c"/><stop offset="0.8676" stop-color="#ff4a32"/><stop offset="0.9057" stop-color="#ff3e1a"/><stop offset="0.9139" stop-color="#ff3c0d"/><stop offset="0.9148" stop-color="#ff3b0a"/><stop offset="0.9157" stop-color="#ff3b00"/><stop offset="0.9755" stop-color="#ff2000"/><stop offset="0.99" stop-color="#f10"/><stop offset="0.9927" stop-color="#ff0b00"/><stop offset="0.9946" stop-color="#f00"/><stop offset="1" stop-color="#f00"/></linearGradient>
<linearGradient id="c207" gradientUnits="userSpaceOnUse" x1="575" x2="1681"><stop offset="0" stop-color="#00fff7"/><stop offset="0.3608" stop-color="#00fff3"/><stop offset="0.3626" stop-color="#28fff3"/><stop offset="0.3644" stop-color="#3bfff3"/><stop offset="0.3662" stop-color="#48fff3"/><stop offset="0.3725" stop-color="#66fff3"/><stop offset="0.3816" stop-color="#82fff2"/><stop offset="0.3942" stop-color="#9ffff2"/><stop offset="0.4114" stop-color="#bffff2"/><stop offset="0.4566" stop-color="#fffff1"/><stop offset="0.4819" stop-color="#ffe3d6"/><stop offset="0.5127" stop-color="#ffcabe"/><stop offset="0.594" stop-color="#ff9e92"/><stop offset="0.6908" stop-color="#ff7b6e"/><stop offset="0.8689" stop-color="#ff4732"/><stop offset="0.9069" stop-color="#ff3b1b"/><stop offset="0.915" stop-color="#ff380f"/><stop offset="0.9168" stop-color="#ff3709"/><stop offset="0.9177" stop-color="#ff3700"/><stop offset="0.9693" stop-color="#ff1d00"/><stop offset="0.9801" stop-color="#ff1000"/><stop offset="0.9846" stop-color="#f00"/><stop offset="1" stop-color="#f00"/></linearGradient>
<linearGradient id="c208" gradientUnits="userSpaceOnUse" x1="576" x2="1686"><stop offset="0" stop-color="#00fff8"/><stop offset="0.3577" stop-color="#00fff5"/><stop offset="0.3586" stop-color="#22fff5"/><stop offset="0.3604" stop-color="#38fff5"/><stop offset="0.3622" stop-color="#46fff5"/><stop offset="0.3685" stop-color="#65fff5"/><stop offset="0.3775" stop-color="#81fff5"/><stop offset="0.3901" stop-color="#9ffff4"/><stop offset="0.4072" stop-color="#bffff4"/><stop offset="0.4523" stop-color="#fffef2"/><stop offset="0.4775" stop-color="#ffe3d8"/><stop offset="0.5081" stop-color="#ffcabf"/><stop offset="0.5883" stop-color="#ff9e94"/><stop offset="0.6838" stop-color="#ff7a70"/><stop offset="0.8694" stop-color="#ff4432"/><stop offset="0.9081" stop-color="#ff361a"/><stop offset="0.9162" stop-color="#ff330e"/><stop offset="0.918" stop-color="#ff3308"/><stop offset="0.9189" stop-color="#ff3200"/><stop offset="0.9613" stop-color="#ff1a00"/><stop offset="0.9703" stop-color="#ff0e00"/><stop offset="0.973" stop-color="#f00"/><stop offset="1" stop-color="#f00"/></linearGradient>
<linearGradient id="c209" gradientUnits="userSpaceOnUse" x1="577" x2="1690"><stop offset="0" stop-color="#00fffa"/><stop offset="0.354" stop-color="#00fff7"/><stop offset="0.3549" stop-color="#1afff7"/><stop offset="0.3558" stop-color="#2bfff7"/><stop offset="0.3594" stop-color="#4afff7"/><stop offset="0.3657" stop-color="#67fff7"/><stop offset="0.3747" stop-color="#83fff7"/><stop offset="0.3872" stop-color="#a1fff6"/><stop offset="0.4034" stop-color="#bffff6"/><stop offset="0.4474" stop-color="#fffff5"/><stop offset="0.4726" stop-color="#ffe3da"/><stop offset="0.5022" stop-color="#ffcac2"/><stop offset="0.5804" stop-color="#ff9e97"/><stop offset="0.6757" stop-color="#ff7b73"/><stop offset="0.8706" stop-color="#ff4032"/><stop offset="0.9093" stop-color="#ff321b"/><stop offset="0.9182" stop-color="#ff2e0e"/><stop offset="0.9209" stop-color="#ff2d00"/><stop offset="0.9533" stop-color="#ff1800"/><stop offset="0.9605" stop-color="#ff0c00"/><stop offset="0.9623" stop-color="#f00"/><stop offset="1" stop-color="#f00"/></linearGradient>
<linearGradient id="c210" gradientUnits="userSpaceOnUse" x1="578" x2="1694"><stop offset="0" stop-color="#00fffb"/><stop offset="0.3513" stop-color="#00fff9"/><stop offset="0.3522" stop-color="#25fff9"/><stop offset="0.3539" stop-color="#3afff9"/><stop offset="0.3557" stop-color="#47fff9"/><stop offset="0.362" stop-color="#66fff9"/><stop offset="0.371" stop-color="#83fff9"/><stop offset="0.3835" stop-color="#a1fff9"/><stop offset="0.3996" stop-color="#bffff8"/><stop offset="0.4435" stop-color="#fffef7"/><stop offset="0.4686" stop-color="#ffe2dc"/><stop offset="0.4982" stop-color="#ffcac4"/><stop offset="0.5771" stop-color="#ff9d98"/><stop offset="0.6694" stop-color="#ff7b75"/><stop offset="0.8719" stop-color="#ff3d32"/><stop offset="0.9113" stop-color="#ff2d1b"/><stop offset="0.9194" stop-color="#ff2910"/><stop offset="0.9229" stop-color="#ff2700"/><stop offset="0.9453" stop-color="#ff1500"/><stop offset="0.9498" stop-color="#ff0d00"/><stop offset="0.9525" stop-color="#f00"/><stop offset="1" stop-color="#f00"/></linearGradient>
<linearGradient id="c211" gradientUnits="userSpaceOnUse" x1="578" x2="1698"><stop offset="0" stop-color="#00fffc"/><stop offset="0.3482" stop-color="#00fffb"/><stop offset="0.3491" stop-color="#1efffb"/><stop offset="0.35" stop-color="#2dfffb"/><stop offset="0.3527" stop-color="#45fffb"/><stop offset="0.3589" stop-color="#65fffb"/><stop offset="0.3679" stop-color="#82fffb"/><stop offset="0.3804" stop-color="#a0fffb"/><stop offset="0.3955" stop-color="#befffb"/><stop offset="0.4393" stop-color="#fffffa"/><stop offset="0.4643" stop-color="#ffe3de"/><stop offset="0.4938" stop-color="#ffcac6"/><stop offset="0.5732" stop-color="#ff9d99"/><stop offset="0.6616" stop-color="#ff7b77"/><stop offset="0.8732" stop-color="#ff3932"/><stop offset="0.9134" stop-color="#ff271a"/><stop offset="0.9214" stop-color="#ff220f"/><stop offset="0.925" stop-color="#ff1f00"/><stop offset="0.9384" stop-color="#ff1000"/><stop offset="0.9411" stop-color="#ff0800"/><stop offset="0.942" stop-color="#f00"/><stop offset="1" stop-color="#f00"/></linearGradient>
<linearGradient id="c212" gradientUnits="userSpaceOnUse" x1="579" x2="1702"><stop offset="0" stop-color="#00fffd"/><stop offset="0.3446" stop-color="#00fffd"/><stop offset="0.3464" stop-color="#28fffd"/><stop offset="0.3482" stop-color="#3cfffd"/><stop offset="0.35" stop-color="#49fffd"/><stop offset="0.3562" stop-color="#67fffd"/><stop offset="0.3642" stop-color="#82fffd"/><stop offset="0.3767" stop-color="#a0fffd"/><stop offset="0.3927" stop-color="#bffffd"/><stop offset="0.4354" stop-color="#fffefc"/><stop offset="0.4604" stop-color="#ffe2e0"/><stop offset="0.4898" stop-color="#ffc9c7"/><stop offset="0.569" stop-color="#ff9c9a"/><stop offset="0.6527" stop-color="#ff7c7a"/><stop offset="0.8753" stop-color="#ff3432"/><stop offset="0.9154" stop-color="#ff1f1a"/><stop offset="0.9234" stop-color="#ff170f"/><stop offset="0.9252" stop-color="#ff1509"/><stop offset="0.9261" stop-color="#ff1400"/><stop offset="0.9297" stop-color="#ff0d00"/><stop offset="0.9323" stop-color="#f00"/><stop offset="1" stop-color="#f00"/></linearGradient>
<linearGradient id="c213" gradientUnits="userSpaceOnUse" x1="580" x2="1707"><stop offset="0" stop-color="#0ff"/><stop offset="0.3416" stop-color="#0ff"/><stop offset="0.3425" stop-color="#2ff"/><stop offset="0.3443" stop-color="#39ffff"/><stop offset="0.3461" stop-color="#47ffff"/><stop offset="0.3514" stop-color="#63ffff"/><stop offset="0.3602" stop-color="#81ffff"/><stop offset="0.3727" stop-color="#a0ffff"/><stop offset="0.3878" stop-color="#beffff"/><stop offset="0.4303" stop-color="#fff"/><stop offset="0.4561" stop-color="#ffe1e1"/><stop offset="0.4862" stop-color="#ffc8c8"/><stop offset="0.567" stop-color="#ff9a9a"/><stop offset="0.6504" stop-color="#ff7a7a"/><stop offset="0.8696" stop-color="#ff3235"/><stop offset="0.9095" stop-color="#ff1b20"/><stop offset="0.9184" stop-color="#ff0e18"/><stop offset="0.9201" stop-color="#ff0816"/><stop offset="0.921" stop-color="#ff0015"/><stop offset="0.9255" stop-color="#ff000c"/><stop offset="0.9272" stop-color="#f00"/><stop offset="1" stop-color="#f00"/></linearGradient>
<linearGradient id="c214" gradientUnits="userSpaceOnUse" x1="581" x2="1711"><stop offset="0" stop-color="#00feff"/><stop offset="0.3381" stop-color="#00fdff"/><stop offset="0.3389" stop-color="#19fdff"/><stop offset="0.3398" stop-color="#2bfdff"/><stop offset="0.3425" stop-color="#44fdff"/><stop offset="0.3487" stop-color="#64fdff"/><stop offset="0.3575" stop-color="#82fdff"/><stop offset="0.3699" stop-color="#a0fdff"/><stop offset="0.3858" stop-color="#bffdff"/><stop offset="0.4283" stop-color="#fffcff"/><stop offset="0.454" stop-color="#ffdfe1"/><stop offset="0.485" stop-color="#ffc5c7"/><stop offset="0.5673" stop-color="#ff979a"/><stop offset="0.6531" stop-color="#ff7779"/><stop offset="0.8602" stop-color="#ff3239"/><stop offset="0.9" stop-color="#ff1a27"/><stop offset="0.908" stop-color="#ff0f22"/><stop offset="0.9097" stop-color="#ff0a21"/><stop offset="0.9106" stop-color="#ff0020"/><stop offset="0.9248" stop-color="#ff0012"/><stop offset="0.9274" stop-color="#ff000b"/><stop offset="0.9292" stop-color="#f00"/><stop offset="1" stop-color="#f00"/></linearGradient>
<linearGradient id="c215" gradientUnits="userSpaceOnUse" x1="582" x2="1715"><stop offset="0" stop-color="#00fdff"/><stop offset="0.3354" stop-color="#00fbff"/><stop offset="0.3363" stop-color="#25fbff"/><stop offset="0.338" stop-color="#3afbff"/><stop offset="0.3398" stop-color="#47fbff"/><stop offset="0.346" stop-color="#66fbff"/><stop offset="0.3539" stop-color="#80fbff"/><stop offset="0.3663" stop-color="#9ffaff"/><stop offset="0.3822" stop-color="#befaff"/><stop offset="0.4254" stop-color="#fffaff"/><stop offset="0.4501" stop-color="#ffdee3"/><stop offset="0.4793" stop-color="#ffc6ca"/><stop offset="0.5569" stop-color="#ff999e"/><stop offset="0.6496" stop-color="#ff757a"/><stop offset="0.8508" stop-color="#ff323d"/><stop offset="0.8897" stop-color="#ff1b2d"/><stop offset="0.8976" stop-color="#ff1029"/><stop offset="0.8994" stop-color="#ff0b28"/><stop offset="0.9011" stop-color="#ff0027"/><stop offset="0.9241" stop-color="#ff0015"/><stop offset="0.9294" stop-color="#ff000b"/><stop offset="0.9312" stop-color="#f00"/><stop offset="1" stop-color="#f00"/></linearGradient>
<linearGradient id="c216" gradientUnits="userSpaceOnUse" x1="583" x2="1719"><stop offset="0" stop-color="#00fbff"/><stop offset="0.3319" stop-color="#00f9ff"/><stop offset="0.3327" stop-color="#1ef9ff"/><stop offset="0.3336" stop-color="#2df9ff"/><stop offset="0.3363" stop-color="#45f9ff"/><stop offset="0.3424" stop-color="#64f9ff"/><stop offset="0.3512" stop-color="#81f9ff"/><stop offset="0.3636" stop-color="#9ff8ff"/><stop offset="0.3794" stop-color="#bef8ff"/><stop offset="0.4234" stop-color="#fff7ff"/><stop offset="0.4481" stop-color="#ffdce3"/><stop offset="0.478" stop-color="#ffc3ca"/><stop offset="0.5563" stop-color="#ff979d"/><stop offset="0.6496" stop-color="#ff737a"/><stop offset="0.8415" stop-color="#ff3240"/><stop offset="0.8803" stop-color="#ff1a32"/><stop offset="0.8882" stop-color="#ff0f2e"/><stop offset="0.89" stop-color="#ff092e"/><stop offset="0.8908" stop-color="#ff002d"/><stop offset="0.9234" stop-color="#ff0018"/><stop offset="0.9305" stop-color="#ff000d"/><stop offset="0.9331" stop-color="#f00"/><stop offset="1" stop-color="#f00"/></linearGradient>
<linearGradient id="c217" gradientUnits="userSpaceOnUse" x1="583" x2="1723"><stop offset="0" stop-color="#00faff"/><stop offset="0.3289" stop-color="#00f7ff"/><stop offset="0.3307" stop-color="#27f7ff"/><stop offset="0.3325" stop-color="#3bf7ff"/><stop offset="0.3342" stop-color="#48f7ff"/><stop offset="0.3404" stop-color="#66f7ff"/><stop offset="0.3491" stop-color="#82f6ff"/><stop offset="0.3614" stop-color="#a0f6ff"/><stop offset="0.3781" stop-color="#bff6ff"/><stop offset="0.4219" stop-color="#fff4fe"/><stop offset="0.4474" stop-color="#ffd8e2"/><stop offset="0.4772" stop-color="#ffc0c9"/><stop offset="0.5561" stop-color="#ff949d"/><stop offset="0.65" stop-color="#ff717a"/><stop offset="0.8325" stop-color="#ff3244"/><stop offset="0.8702" stop-color="#ff1b37"/><stop offset="0.8781" stop-color="#ff1033"/><stop offset="0.8816" stop-color="#ff0032"/><stop offset="0.9228" stop-color="#ff001a"/><stop offset="0.9316" stop-color="#ff000f"/><stop offset="0.9351" stop-color="#f00"/><stop offset="1" stop-color="#f00"/></linearGradient>
<linearGradient id="c218" gradientUnits="userSpaceOnUse" x1="584" x2="1728"><stop offset="0" stop-color="#00f9ff"/><stop offset="0.326" stop-color="#00f5ff"/><stop offset="0.3269" stop-color="#21f5ff"/><stop offset="0.3287" stop-color="#38f5ff"/><stop offset="0.3304" stop-color="#45f5ff"/><stop offset="0.3365" stop-color="#64f5ff"/><stop offset="0.3462" stop-color="#83f4ff"/><stop offset="0.3584" stop-color="#a0f4ff"/><stop offset="0.375" stop-color="#bff4ff"/><stop offset="0.4187" stop-color="#fff2ff"/><stop offset="0.4441" stop-color="#ffd7e3"/><stop offset="0.4738" stop-color="#ffbfca"/><stop offset="0.5533" stop-color="#ff939e"/><stop offset="0.6477" stop-color="#ff6f7a"/><stop offset="0.8226" stop-color="#ff3247"/><stop offset="0.8601" stop-color="#ff1a3a"/><stop offset="0.868" stop-color="#ff0f38"/><stop offset="0.8698" stop-color="#ff0837"/><stop offset="0.8706" stop-color="#ff0037"/><stop offset="0.9213" stop-color="#ff001c"/><stop offset="0.9318" stop-color="#ff0010"/><stop offset="0.9344" stop-color="#ff0009"/><stop offset="0.9353" stop-color="#f00"/><stop offset="1" stop-color="#f00"/></linearGradient>
<linearGradient id="c219" gradientUnits="userSpaceOnUse" x1="585" x2="1732"><stop offset="0" stop-color="#00f7ff"/><stop offset="0.3226" stop-color="#00f3ff"/><stop offset="0.3235" stop-color="#18f3ff"/><stop offset="0.3243" stop-color="#2af3ff"/><stop offset="0.3278" stop-color="#48f3ff"/><stop offset="0.3339" stop-color="#66f3ff"/><stop offset="0.3435" stop-color="#84f2ff"/><stop offset="0.3566" stop-color="#a2f2ff"/><stop offset="0.3731" stop-color="#c1f2ff"/><stop offset="0.4167" stop-color="#ffeffe"/><stop offset="0.442" stop-color="#ffd5e2"/><stop offset="0.4717" stop-color="#ffbdca"/><stop offset="0.551" stop-color="#ff919e"/><stop offset="0.646" stop-color="#ff6d7b"/><stop offset="0.8134" stop-color="#ff324a"/><stop offset="0.85" stop-color="#ff1b3e"/><stop offset="0.8579" stop-color="#ff103c"/><stop offset="0.8614" stop-color="#ff003a"/><stop offset="0.9207" stop-color="#ff001e"/><stop offset="0.9337" stop-color="#ff0010"/><stop offset="0.9364" stop-color="#ff0008"/><stop offset="0.9372" stop-color="#f00"/><stop offset="1" stop-color="#f00"/></linearGradient>
<linearGradient id="c220" gradientUnits="userSpaceOnUse" x1="586" x2="1736"><stop offset="0" stop-color="#00f6ff"/><stop offset="0.32" stop-color="#00f1ff"/><stop offset="0.3209" stop-color="#24f1ff"/><stop offset="0.3226" stop-color="#39f1ff"/><stop offset="0.3243" stop-color="#46f1ff"/><stop offset="0.3304" stop-color="#64f1ff"/><stop offset="0.34" stop-color="#82f0ff"/><stop offset="0.353" stop-color="#a1f0ff"/><stop offset="0.3696" stop-color="#bfefff"/><stop offset="0.4139" stop-color="#fef"/><stop offset="0.4391" stop-color="#ffd3e3"/><stop offset="0.4696" stop-color="#ffbbca"/><stop offset="0.5487" stop-color="#ff909e"/><stop offset="0.6435" stop-color="#ff6c7b"/><stop offset="0.8043" stop-color="#ff324d"/><stop offset="0.8409" stop-color="#ff1a42"/><stop offset="0.8487" stop-color="#ff0e3f"/><stop offset="0.8513" stop-color="#ff003e"/><stop offset="0.92" stop-color="#ff0020"/><stop offset="0.9348" stop-color="#f01"/><stop offset="0.9374" stop-color="#ff000b"/><stop offset="0.9391" stop-color="#f00"/><stop offset="1" stop-color="#f00"/></linearGradient>
<linearGradient id="c221" gradientUnits="userSpaceOnUse" x1="587" x2="1740"><stop offset="0" stop-color="#00f5ff"/><stop offset="0.3166" stop-color="#00efff"/><stop offset="0.3174" stop-color="#1cefff"/><stop offset="0.3183" stop-color="#2befff"/><stop offset="0.3218" stop-color="#49efff"/><stop offset="0.3278" stop-color="#65efff"/><stop offset="0.3374" stop-color="#83eeff"/><stop offset="0.3504" stop-color="#a1eeff"/><stop offset="0.3669" stop-color="#bfedff"/><stop offset="0.412" stop-color="#ffebfe"/><stop offset="0.4371" stop-color="#ffd1e3"/><stop offset="0.4675" stop-color="#ffb9ca"/><stop offset="0.5464" stop-color="#ff8e9f"/><stop offset="0.6401" stop-color="#ff6a7c"/><stop offset="0.7953" stop-color="#ff324f"/><stop offset="0.8317" stop-color="#ff1a45"/><stop offset="0.8395" stop-color="#ff0d42"/><stop offset="0.8404" stop-color="#ff0a42"/><stop offset="0.8413" stop-color="#ff0042"/><stop offset="0.9193" stop-color="#f02"/><stop offset="0.9358" stop-color="#ff0012"/><stop offset="0.9393" stop-color="#ff000a"/><stop offset="0.941" stop-color="#f00"/><stop offset="1" stop-color="#f00"/></linearGradient>
<linearGradient id="c222" gradientUnits="userSpaceOnUse" x1="588" x2="1744"><stop offset="0" stop-color="#00f4ff"/><stop offset="0.3131" stop-color="#00edff"/><stop offset="0.314" stop-color="#10edff"/><stop offset="0.3149" stop-color="#26edff"/><stop offset="0.3166" stop-color="#3aedff"/><stop offset="0.3183" stop-color="#46edff"/><stop offset="0.3244" stop-color="#64edff"/><stop offset="0.3339" stop-color="#82ecff"/><stop offset="0.3469" stop-color="#a0ecff"/><stop offset="0.3633" stop-color="#beebff"/><stop offset="0.4092" stop-color="#ffe9ff"/><stop offset="0.4343" stop-color="#ffcfe4"/><stop offset="0.4645" stop-color="#ffb7cb"/><stop offset="0.5424" stop-color="#ff8da0"/><stop offset="0.6358" stop-color="#ff697d"/><stop offset="0.7863" stop-color="#ff3252"/><stop offset="0.8218" stop-color="#ff1b48"/><stop offset="0.8296" stop-color="#ff0e46"/><stop offset="0.8322" stop-color="#ff0045"/><stop offset="0.9187" stop-color="#ff0023"/><stop offset="0.9369" stop-color="#ff0013"/><stop offset="0.9403" stop-color="#ff000d"/><stop offset="0.9429" stop-color="#f00"/><stop offset="1" stop-color="#f00"/></linearGradient>
<linearGradient id="c223" gradientUnits="userSpaceOnUse" x1="589" x2="1749"><stop offset="0" stop-color="#00f2ff"/><stop offset="0.3103" stop-color="#00ebff"/><stop offset="0.3112" stop-color="#20ebff"/><stop offset="0.3121" stop-color="#2debff"/><stop offset="0.3155" stop-color="#49ebff"/><stop offset="0.3216" stop-color="#65ebff"/><stop offset="0.331" stop-color="#82eaff"/><stop offset="0.344" stop-color="#a0eaff"/><stop offset="0.3612" stop-color="#bfe9ff"/><stop offset="0.4069" stop-color="#ffe6fe"/><stop offset="0.4319" stop-color="#ffcde4"/><stop offset="0.4621" stop-color="#ffb6cb"/><stop offset="0.5397" stop-color="#ff8ca0"/><stop offset="0.6319" stop-color="#ff687e"/><stop offset="0.7767" stop-color="#ff3255"/><stop offset="0.8121" stop-color="#ff1a4b"/><stop offset="0.819" stop-color="#ff0f49"/><stop offset="0.8207" stop-color="#ff0948"/><stop offset="0.8216" stop-color="#ff0048"/><stop offset="0.9172" stop-color="#ff0024"/><stop offset="0.9371" stop-color="#ff0014"/><stop offset="0.9414" stop-color="#ff000c"/><stop offset="0.9431" stop-color="#ff0001"/><stop offset="0.944" stop-color="#f00"/><stop offset="1" stop-color="#f00"/></linearGradient>
<linearGradient id="c224" gradientUnits="userSpaceOnUse" x1="590" x2="1753"><stop offset="0" stop-color="#00f1ff"/><stop offset="0.307" stop-color="#00e9ff"/><stop offset="0.3087" stop-color="#28e9ff"/><stop offset="0.3121" stop-color="#47e9ff"/><stop offset="0.319" stop-color="#67e9ff"/><stop offset="0.3285" stop-color="#83e8ff"/><stop offset="0.3414" stop-color="#a0e8ff"/><stop offset="0.3586" stop-color="#bfe7ff"/><stop offset="0.4041" stop-color="#ffe5ff"/><stop offset="0.4291" stop-color="#ffcbe4"/><stop offset="0.4583" stop-color="#ffb5cc"/><stop offset="0.5357" stop-color="#ff8ba2"/><stop offset="0.6277" stop-color="#ff677f"/><stop offset="0.7678" stop-color="#ff3257"/><stop offset="0.8022" stop-color="#ff1b4e"/><stop offset="0.8091" stop-color="#ff104c"/><stop offset="0.8126" stop-color="#ff004b"/><stop offset="0.877" stop-color="#ff0037"/><stop offset="0.9175" stop-color="#ff0025"/><stop offset="0.939" stop-color="#ff0014"/><stop offset="0.9433" stop-color="#ff000c"/><stop offset="0.945" stop-color="#f00"/><stop offset="1" stop-color="#f00"/></linearGradient>
<linearGradient id="c225" gradientUnits="userSpaceOnUse" x1="590" x2="1757"><stop offset="0" stop-color="#00f0ff"/><stop offset="0.3051" stop-color="#00e7ff"/><stop offset="0.3059" stop-color="#23e7ff"/><stop offset="0.3076" stop-color="#37e7ff"/><stop offset="0.3093" stop-color="#44e7ff"/><stop offset="0.3162" stop-color="#65e7ff"/><stop offset="0.3256" stop-color="#82e6ff"/><stop offset="0.3393" stop-color="#a1e6ff"/><stop offset="0.3565" stop-color="#bfe5ff"/><stop offset="0.4027" stop-color="#ffe2fe"/><stop offset="0.4276" stop-color="#ffc9e4"/><stop offset="0.4576" stop-color="#ffb2cc"/><stop offset="0.5338" stop-color="#ff89a2"/><stop offset="0.6238" stop-color="#ff6681"/><stop offset="0.7592" stop-color="#ff325a"/><stop offset="0.7935" stop-color="#ff1a50"/><stop offset="0.8003" stop-color="#ff0f4f"/><stop offset="0.8021" stop-color="#ff094e"/><stop offset="0.8029" stop-color="#ff004e"/><stop offset="0.874" stop-color="#ff0038"/><stop offset="0.9169" stop-color="#ff0026"/><stop offset="0.94" stop-color="#ff0015"/><stop offset="0.9452" stop-color="#ff000b"/><stop offset="0.9469" stop-color="#f00"/><stop offset="1" stop-color="#f00"/></linearGradient>
<linearGradient id="c226" gradientUnits="userSpaceOnUse" x1="591" x2="1761"><stop offset="0" stop-color="#0ef"/><stop offset="0.3017" stop-color="#00e5ff"/><stop offset="0.3026" stop-color="#1be5ff"/><stop offset="0.3034" stop-color="#2ae5ff"/><stop offset="0.3068" stop-color="#47e5ff"/><stop offset="0.3137" stop-color="#66e5ff"/><stop offset="0.3231" stop-color="#83e4ff"/><stop offset="0.3359" stop-color="#9fe4ff"/><stop offset="0.353" stop-color="#bee3ff"/><stop offset="0.4" stop-color="#ffe0ff"/><stop offset="0.4248" stop-color="#ffc7e5"/><stop offset="0.4538" stop-color="#ffb1cd"/><stop offset="0.5299" stop-color="#ff88a3"/><stop offset="0.6197" stop-color="#ff6582"/><stop offset="0.7504" stop-color="#ff325c"/><stop offset="0.7838" stop-color="#ff1b53"/><stop offset="0.7906" stop-color="#ff1051"/><stop offset="0.794" stop-color="#ff0050"/><stop offset="0.8709" stop-color="#ff003a"/><stop offset="0.9171" stop-color="#ff0027"/><stop offset="0.941" stop-color="#ff0015"/><stop offset="0.9462" stop-color="#ff000d"/><stop offset="0.9487" stop-color="#f00"/><stop offset="1" stop-color="#f00"/></linearGradient>
<linearGradient id="c227" gradientUnits="userSpaceOnUse" x1="592" x2="1765"><stop offset="0" stop-color="#00edff"/><stop offset="0.2984" stop-color="#00e4ff"/><stop offset="0.2992" stop-color="#0ee4ff"/><stop offset="0.3001" stop-color="#25e4ff"/><stop offset="0.3009" stop-color="#30e3ff"/><stop offset="0.3043" stop-color="#4ae3ff"/><stop offset="0.3112" stop-color="#68e3ff"/><stop offset="0.3205" stop-color="#83e3ff"/><stop offset="0.3342" stop-color="#a1e2ff"/><stop offset="0.3512" stop-color="#bfe1ff"/><stop offset="0.3981" stop-color="#ffddfe"/><stop offset="0.4228" stop-color="#ffc5e5"/><stop offset="0.4518" stop-color="#ffafcd"/><stop offset="0.5269" stop-color="#ff87a4"/><stop offset="0.6147" stop-color="#ff6483"/><stop offset="0.7425" stop-color="#ff325e"/><stop offset="0.7749" stop-color="#ff1a56"/><stop offset="0.7818" stop-color="#ff0f54"/><stop offset="0.7843" stop-color="#ff0053"/><stop offset="0.867" stop-color="#ff003b"/><stop offset="0.9165" stop-color="#ff0028"/><stop offset="0.9429" stop-color="#ff0015"/><stop offset="0.948" stop-color="#ff000d"/><stop offset="0.9506" stop-color="#f00"/><stop offset="1" stop-color="#f00"/></linearGradient>
<linearGradient id="c228" gradientUnits="userSpaceOnUse" x1="593" x2="1770"><stop offset="0" stop-color="#00ecff"/><stop offset="0.2957" stop-color="#00e2ff"/><stop offset="0.2965" stop-color="#1fe2ff"/><stop offset="0.2974" stop-color="#2ce2ff"/><stop offset="0.3008" stop-color="#48e1ff"/><stop offset="0.3076" stop-color="#66e1ff"/><stop offset="0.3169" stop-color="#82e1ff"/><stop offset="0.3305" stop-color="#a0e0ff"/><stop offset="0.3475" stop-color="#bedfff"/><stop offset="0.3951" stop-color="#ffdcff"/><stop offset="0.4197" stop-color="#ffc4e5"/><stop offset="0.4486" stop-color="#ffaece"/><stop offset="0.5225" stop-color="#ff86a5"/><stop offset="0.6092" stop-color="#ff6384"/><stop offset="0.7332" stop-color="#ff3261"/><stop offset="0.7655" stop-color="#ff1a58"/><stop offset="0.7723" stop-color="#ff0d56"/><stop offset="0.7732" stop-color="#ff0a56"/><stop offset="0.774" stop-color="#ff0056"/><stop offset="0.8632" stop-color="#ff003d"/><stop offset="0.915" stop-color="#ff0029"/><stop offset="0.9431" stop-color="#ff0016"/><stop offset="0.949" stop-color="#ff000c"/><stop offset="0.9516" stop-color="#f00"/><stop offset="1" stop-color="#f00"/></linearGradient>
<linearGradient id="c229" gradientUnits="userSpaceOnUse" x1="594" x2="1774"><stop offset="0" stop-color="#00eaff"/><stop offset="0.2924" stop-color="#00e0ff"/><stop offset="0.2941" stop-color="#27e0ff"/><stop offset="0.2975" stop-color="#45e0ff"/><stop offset="0.3042" stop-color="#64dfff"/><stop offset="0.3144" stop-color="#83dfff"/><stop offset="0.328" stop-color="#a0deff"/><stop offset="0.3458" stop-color="#bfddff"/><stop offset="0.3932" stop-color="#ffd9ff"/><stop offset="0.4169" stop-color="#ffc2e6"/><stop offset="0.4458" stop-color="#ffaccf"/><stop offset="0.5195" stop-color="#ff85a6"/><stop offset="0.6051" stop-color="#ff6286"/><stop offset="0.7246" stop-color="#ff3263"/><stop offset="0.7559" stop-color="#ff1a5b"/><stop offset="0.7627" stop-color="#ff0e59"/><stop offset="0.7653" stop-color="#ff0058"/><stop offset="0.861" stop-color="#ff003e"/><stop offset="0.9153" stop-color="#ff0029"/><stop offset="0.9441" stop-color="#ff0016"/><stop offset="0.9508" stop-color="#ff000c"/><stop offset="0.9525" stop-color="#f00"/><stop offset="1" stop-color="#f00"/></linearGradient>
<linearGradient id="c230" gradientUnits="userSpaceOnUse" x1="595" x2="1778"><stop offset="0" stop-color="#00e9ff"/><stop offset="0.2899" stop-color="#00deff"/><stop offset="0.2908" stop-color="#22deff"/><stop offset="0.2925" stop-color="#36deff"/><stop offset="0.295" stop-color="#48deff"/><stop offset="0.3018" stop-color="#6df"/><stop offset="0.3111" stop-color="#81ddff"/><stop offset="0.3246" stop-color="#9fdcff"/><stop offset="0.3423" stop-color="#bedbff"/><stop offset="0.3905" stop-color="#ffd7ff"/><stop offset="0.415" stop-color="#ffc0e6"/><stop offset="0.4429" stop-color="#ffabcf"/><stop offset="0.5156" stop-color="#ff84a7"/><stop offset="0.5993" stop-color="#ff6287"/><stop offset="0.716" stop-color="#ff3265"/><stop offset="0.7473" stop-color="#ff1a5d"/><stop offset="0.754" stop-color="#ff0d5b"/><stop offset="0.7557" stop-color="#ff005b"/><stop offset="0.858" stop-color="#ff003f"/><stop offset="0.9146" stop-color="#ff002a"/><stop offset="0.9459" stop-color="#ff0016"/><stop offset="0.9527" stop-color="#ff000b"/><stop offset="0.9544" stop-color="#f00"/><stop offset="1" stop-color="#f00"/></linearGradient>
<linearGradient id="c231" gradientUnits="userSpaceOnUse" x1="596" x2="1782"><stop offset="0" stop-color="#00e8ff"/><stop offset="0.2867" stop-color="#00dcff"/><stop offset="0.2875" stop-color="#1adcff"/><stop offset="0.2884" stop-color="#29dcff"/><stop offset="0.2917" stop-color="#46dcff"/><stop offset="0.2985" stop-color="#64dcff"/><stop offset="0.3086" stop-color="#82dbff"/><stop offset="0.3229" stop-color="#a1daff"/><stop offset="0.3406" stop-color="#bfd9ff"/><stop offset="0.3887" stop-color="#ffd5ff"/><stop offset="0.4123" stop-color="#ffbee6"/><stop offset="0.4401" stop-color="#ffaad0"/><stop offset="0.5118" stop-color="#ff83a8"/><stop offset="0.5944" stop-color="#ff6189"/><stop offset="0.7074" stop-color="#ff3268"/><stop offset="0.7378" stop-color="#ff1a60"/><stop offset="0.7445" stop-color="#ff0e5e"/><stop offset="0.747" stop-color="#ff005d"/><stop offset="0.8558" stop-color="#ff0040"/><stop offset="0.9148" stop-color="#ff002b"/><stop offset="0.9469" stop-color="#ff0017"/><stop offset="0.9536" stop-color="#ff000d"/><stop offset="0.9562" stop-color="#f00"/><stop offset="1" stop-color="#f00"/></linearGradient>
<linearGradient id="c232" gradientUnits="userSpaceOnUse" x1="597" x2="1786"><stop offset="0" stop-color="#00e7ff"/><stop offset="0.2834" stop-color="#00dbff"/><stop offset="0.2843" stop-color="#0ddbff"/><stop offset="0.2851" stop-color="#24daff"/><stop offset="0.286" stop-color="#2fdaff"/><stop offset="0.2893" stop-color="#48daff"/><stop offset="0.296" stop-color="#66daff"/><stop offset="0.3061" stop-color="#83d9ff"/><stop offset="0.3196" stop-color="#a0d8ff"/><stop offset="0.3373" stop-color="#bed7ff"/><stop offset="0.386" stop-color="#ffd3ff"/><stop offset="0.4373" stop-color="#ffa8d1"/><stop offset="0.508" stop-color="#ff82a9"/><stop offset="0.5887" stop-color="#ff608a"/><stop offset="0.6989" stop-color="#ff326a"/><stop offset="0.7292" stop-color="#ff1a62"/><stop offset="0.7351" stop-color="#ff0f60"/><stop offset="0.7368" stop-color="#ff0960"/><stop offset="0.7376" stop-color="#ff0060"/><stop offset="0.8528" stop-color="#ff0041"/><stop offset="0.9142" stop-color="#ff002c"/><stop offset="0.9479" stop-color="#ff0018"/><stop offset="0.9554" stop-color="#ff000d"/><stop offset="0.9579" stop-color="#f00"/><stop offset="1" stop-color="#f00"/></linearGradient>
<linearGradient id="c233" gradientUnits="userSpaceOnUse" x1="598" x2="1791"><stop offset="0" stop-color="#00e5ff"/><stop offset="0.2808" stop-color="#00d9ff"/><stop offset="0.2816" stop-color="#1ed9ff"/><stop offset="0.2825" stop-color="#2bd9ff"/><stop offset="0.2858" stop-color="#46d8ff"/><stop offset="0.2925" stop-color="#64d8ff"/><stop offset="0.3026" stop-color="#82d7ff"/><stop offset="0.3168" stop-color="#a0d6ff"/><stop offset="0.3345" stop-color="#bed5ff"/><stop offset="0.3839" stop-color="#ffd0ff"/><stop offset="0.435" stop-color="#ffa6d1"/><stop offset="0.5046" stop-color="#ff80aa"/><stop offset="0.5834" stop-color="#ff608b"/><stop offset="0.6899" stop-color="#ff326c"/><stop offset="0.7192" stop-color="#ff1a64"/><stop offset="0.7251" stop-color="#ff1063"/><stop offset="0.7284" stop-color="#ff0062"/><stop offset="0.85" stop-color="#ff0042"/><stop offset="0.9137" stop-color="#ff002c"/><stop offset="0.9489" stop-color="#ff0017"/><stop offset="0.9564" stop-color="#ff000c"/><stop offset="0.9589" stop-color="#f00"/><stop offset="1" stop-color="#f00"/></linearGradient>
<linearGradient id="c234" gradientUnits="userSpaceOnUse" x1="599" x2="1795"><stop offset="0" stop-color="#00e4ff"/><stop offset="0.2776" stop-color="#00d7ff"/><stop offset="0.2793" stop-color="#26d7ff"/><stop offset="0.2809" stop-color="#38d7ff"/><stop offset="0.2834" stop-color="#49d7ff"/><stop offset="0.2901" stop-color="#65d6ff"/><stop offset="0.3002" stop-color="#82d5ff"/><stop offset="0.3144" stop-color="#a0d4ff"/><stop offset="0.3319" stop-color="#bed3ff"/><stop offset="0.3813" stop-color="#ffceff"/><stop offset="0.4314" stop-color="#ffa5d2"/><stop offset="0.5" stop-color="#ff80ab"/><stop offset="0.5778" stop-color="#ff5f8d"/><stop offset="0.6814" stop-color="#ff326e"/><stop offset="0.7107" stop-color="#ff1a67"/><stop offset="0.7166" stop-color="#ff0f65"/><stop offset="0.7191" stop-color="#ff0064"/><stop offset="0.8963" stop-color="#ff0034"/><stop offset="0.9465" stop-color="#ff001b"/><stop offset="0.9565" stop-color="#ff000f"/><stop offset="0.9607" stop-color="#f00"/><stop offset="1" stop-color="#f00"/></linearGradient>
<linearGradient id="c235" gradientUnits="userSpaceOnUse" x1="600" x2="1799"><stop offset="0" stop-color="#00e3ff"/><stop offset="0.2752" stop-color="#00d5ff"/><stop offset="0.2761" stop-color="#21d5ff"/><stop offset="0.2769" stop-color="#2dd5ff"/><stop offset="0.2802" stop-color="#47d5ff"/><stop offset="0.2869" stop-color="#64d4ff"/><stop offset="0.2969" stop-color="#81d4ff"/><stop offset="0.3111" stop-color="#9fd2ff"/><stop offset="0.3294" stop-color="#bed1ff"/><stop offset="0.3795" stop-color="#fcf"/><stop offset="0.4295" stop-color="#ffa3d2"/><stop offset="0.4962" stop-color="#ff7fac"/><stop offset="0.5721" stop-color="#ff5e8f"/><stop offset="0.6731" stop-color="#ff3171"/><stop offset="0.7014" stop-color="#ff1b69"/><stop offset="0.7081" stop-color="#ff0e67"/><stop offset="0.7089" stop-color="#ff0a67"/><stop offset="0.7098" stop-color="#ff0067"/><stop offset="0.8974" stop-color="#ff0034"/><stop offset="0.9475" stop-color="#ff001b"/><stop offset="0.9583" stop-color="#ff000f"/><stop offset="0.9608" stop-color="#ff0008"/><stop offset="0.9616" stop-color="#f00"/><stop offset="1" stop-color="#f00"/></linearGradient>
<linearGradient id="c236" gradientUnits="userSpaceOnUse" x1="601" x2="1803"><stop offset="0" stop-color="#00e1ff"/><stop offset="0.272" stop-color="#00d4ff"/><stop offset="0.2729" stop-color="#19d3ff"/><stop offset="0.2737" stop-color="#28d3ff"/><stop offset="0.277" stop-color="#44d3ff"/><stop offset="0.2837" stop-color="#62d3ff"/><stop offset="0.2945" stop-color="#82d2ff"/><stop offset="0.3087" stop-color="#a0d1ff"/><stop offset="0.3278" stop-color="#bfcfff"/><stop offset="0.3777" stop-color="#ffc9fe"/><stop offset="0.4268" stop-color="#ffa2d3"/><stop offset="0.4933" stop-color="#ff7dad"/><stop offset="0.5674" stop-color="#ff5e90"/><stop offset="0.6647" stop-color="#ff3173"/><stop offset="0.693" stop-color="#ff1a6b"/><stop offset="0.6988" stop-color="#ff0f6a"/><stop offset="0.7013" stop-color="#ff0069"/><stop offset="0.8985" stop-color="#ff0034"/><stop offset="0.9493" stop-color="#ff001b"/><stop offset="0.9601" stop-color="#ff000f"/><stop offset="0.9626" stop-color="#ff0008"/><stop offset="0.9634" stop-color="#f00"/><stop offset="1" stop-color="#f00"/></linearGradient>
<linearGradient id="c237" gradientUnits="userSpaceOnUse" x1="601" x2="1807"><stop offset="0" stop-color="#00e0ff"/><stop offset="0.2695" stop-color="#00d2ff"/><stop offset="0.2703" stop-color="#0bd2ff"/><stop offset="0.2711" stop-color="#23d2ff"/><stop offset="0.272" stop-color="#2ed2ff"/><stop offset="0.2753" stop-color="#47d1ff"/><stop offset="0.2819" stop-color="#64d1ff"/><stop offset="0.2927" stop-color="#82d0ff"/><stop offset="0.3068" stop-color="#a0cfff"/><stop offset="0.325" stop-color="#becdff"/><stop offset="0.3756" stop-color="#ffc8ff"/><stop offset="0.4245" stop-color="#ffa0d3"/><stop offset="0.4892" stop-color="#ff7daf"/><stop offset="0.5622" stop-color="#ff5d92"/><stop offset="0.6575" stop-color="#ff3175"/><stop offset="0.6849" stop-color="#ff196d"/><stop offset="0.6907" stop-color="#ff0d6c"/><stop offset="0.6924" stop-color="#ff006b"/><stop offset="0.8997" stop-color="#ff0034"/><stop offset="0.9511" stop-color="#ff001b"/><stop offset="0.9619" stop-color="#ff000e"/><stop offset="0.9643" stop-color="#ff0007"/><stop offset="0.9652" stop-color="#f00"/><stop offset="1" stop-color="#f00"/></linearGradient>
<linearGradient id="c238" gradientUnits="userSpaceOnUse" x1="602" x2="1812"><stop offset="0" stop-color="#00dfff"/><stop offset="0.2669" stop-color="#00d0ff"/><stop offset="0.2678" stop-color="#1dd0ff"/><stop offset="0.2686" stop-color="#2ad0ff"/><stop offset="0.2719" stop-color="#45d0ff"/><stop offset="0.2793" stop-color="#65cfff"/><stop offset="0.2901" stop-color="#83ceff"/><stop offset="0.305" stop-color="#a2cdff"/><stop offset="0.3231" stop-color="#bfcbff"/><stop offset="0.3736" stop-color="#ffc5fe"/><stop offset="0.4182" stop-color="#ffa1d6"/><stop offset="0.476" stop-color="#ff80b4"/><stop offset="0.5512" stop-color="#ff5e95"/><stop offset="0.6496" stop-color="#ff3077"/><stop offset="0.6752" stop-color="#ff1a70"/><stop offset="0.681" stop-color="#ff0f6e"/><stop offset="0.6835" stop-color="#ff006e"/><stop offset="0.8992" stop-color="#ff0034"/><stop offset="0.9512" stop-color="#ff001b"/><stop offset="0.962" stop-color="#ff0010"/><stop offset="0.9645" stop-color="#ff000a"/><stop offset="0.9661" stop-color="#f00"/><stop offset="1" stop-color="#f00"/></linearGradient>
<linearGradient id="c239" gradientUnits="userSpaceOnUse" x1="603" x2="1813"><stop offset="0" stop-color="#00deff"/><stop offset="0.2645" stop-color="#00ceff"/><stop offset="0.2661" stop-color="#25ceff"/><stop offset="0.2678" stop-color="#37ceff"/><stop offset="0.2702" stop-color="#47ceff"/><stop offset="0.2777" stop-color="#66cdff"/><stop offset="0.2876" stop-color="#82ccff"/><stop offset="0.3025" stop-color="#a0cbff"/><stop offset="0.3207" stop-color="#bec9ff"/><stop offset="0.3719" stop-color="#ffc3ff"/><stop offset="0.4157" stop-color="#ffa0d7"/><stop offset="0.4727" stop-color="#ff7fb5"/><stop offset="0.5463" stop-color="#ff5e97"/><stop offset="0.643" stop-color="#ff3079"/><stop offset="0.6686" stop-color="#ff1a72"/><stop offset="0.6744" stop-color="#ff0d70"/><stop offset="0.676" stop-color="#ff0070"/><stop offset="0.9033" stop-color="#ff0034"/><stop offset="0.9554" stop-color="#ff001b"/><stop offset="0.9661" stop-color="#ff000f"/><stop offset="0.9686" stop-color="#ff0009"/><stop offset="0.9702" stop-color="#f00"/><stop offset="1" stop-color="#f00"/></linearGradient>
<linearGradient id="c240" gradientUnits="userSpaceOnUse" x1="604" x2="1809"><stop offset="0" stop-color="#00dcff"/><stop offset="0.2639" stop-color="#00cdff"/><stop offset="0.2647" stop-color="#20cdff"/><stop offset="0.2656" stop-color="#2cccff"/><stop offset="0.2689" stop-color="#45ccff"/><stop offset="0.2763" stop-color="#65ccff"/><stop offset="0.2871" stop-color="#83cbff"/><stop offset="0.3021" stop-color="#a1c9ff"/><stop offset="0.3212" stop-color="#bfc7ff"/><stop offset="0.3726" stop-color="#ffc1fe"/><stop offset="0.4158" stop-color="#ff9ed8"/><stop offset="0.4722" stop-color="#ff7eb6"/><stop offset="0.5444" stop-color="#ff5e98"/><stop offset="0.6382" stop-color="#ff317b"/><stop offset="0.6639" stop-color="#ff1a74"/><stop offset="0.6697" stop-color="#ff0e73"/><stop offset="0.6722" stop-color="#ff0072"/><stop offset="0.9137" stop-color="#f03"/><stop offset="0.9635" stop-color="#ff001b"/><stop offset="0.9743" stop-color="#ff000f"/><stop offset="0.9784" stop-color="#f00"/><stop offset="1" stop-color="#f00"/></linearGradient>
<linearGradient id="c241" gradientUnits="userSpaceOnUse" x1="605" x2="1800"><stop offset="0" stop-color="#00dbff"/><stop offset="0.2636" stop-color="#00cbff"/><stop offset="0.2644" stop-color="#18cbff"/><stop offset="0.2653" stop-color="#27cbff"/><stop offset="0.2669" stop-color="#38cbff"/><stop offset="0.2695" stop-color="#48caff"/><stop offset="0.277" stop-color="#66caff"/><stop offset="0.287" stop-color="#81c9ff"/><stop offset="0.3021" stop-color="#a0c7ff"/><stop offset="0.3213" stop-color="#bec5ff"/><stop offset="0.3741" stop-color="#ffbfff"/><stop offset="0.4176" stop-color="#ff9dd9"/><stop offset="0.4736" stop-color="#ff7db8"/><stop offset="0.5448" stop-color="#ff5d9a"/><stop offset="0.6368" stop-color="#ff317d"/><stop offset="0.6628" stop-color="#ff1a76"/><stop offset="0.6678" stop-color="#ff1075"/><stop offset="0.6703" stop-color="#ff0074"/><stop offset="0.9289" stop-color="#ff0031"/><stop offset="0.9724" stop-color="#ff001d"/><stop offset="0.9858" stop-color="#ff0010"/><stop offset="0.9891" stop-color="#ff0008"/><stop offset="0.99" stop-color="#f00"/><stop offset="1" stop-color="#f00"/></linearGradient>
<linearGradient id="c242" gradientUnits="userSpaceOnUse" x1="606" x2="1791"><stop offset="0" stop-color="#00daff"/><stop offset="0.2633" stop-color="#00c9ff"/><stop offset="0.2641" stop-color="#08c9ff"/><stop offset="0.265" stop-color="#22c9ff"/><stop offset="0.2658" stop-color="#2dc9ff"/><stop offset="0.2692" stop-color="#46c9ff"/><stop offset="0.2768" stop-color="#65c8ff"/><stop offset="0.2878" stop-color="#82c7ff"/><stop offset="0.303" stop-color="#a0c5ff"/><stop offset="0.3232" stop-color="#bfc3ff"/><stop offset="0.3764" stop-color="#ffbcfe"/><stop offset="0.4194" stop-color="#ff9bd9"/><stop offset="0.4751" stop-color="#ff7cb9"/><stop offset="0.5451" stop-color="#ff5c9b"/><stop offset="0.6354" stop-color="#ff317f"/><stop offset="0.6616" stop-color="#ff1978"/><stop offset="0.6667" stop-color="#ff0e77"/><stop offset="0.6675" stop-color="#ff0a77"/><stop offset="0.6684" stop-color="#f07"/><stop offset="0.9283" stop-color="#ff0035"/><stop offset="0.9781" stop-color="#ff0021"/><stop offset="0.9924" stop-color="#ff0017"/><stop offset="1" stop-color="#ff000d"/></linearGradient>
<linearGradient id="c243" gradientUnits="userSpaceOnUse" x1="607" x2="1782"><stop offset="0" stop-color="#00d8ff"/><stop offset="0.2638" stop-color="#00c8ff"/><stop offset="0.2647" stop-color="#1cc7ff"/><stop offset="0.2655" stop-color="#29c7ff"/><stop offset="0.2672" stop-color="#39c7ff"/><stop offset="0.2698" stop-color="#48c7ff"/><stop offset="0.2774" stop-color="#66c6ff"/><stop offset="0.2885" stop-color="#83c5ff"/><stop offset="0.3038" stop-color="#a0c4ff"/><stop offset="0.3234" stop-color="#bec1ff"/><stop offset="0.3779" stop-color="#fbf"/><stop offset="0.4204" stop-color="#ff9ada"/><stop offset="0.4757" stop-color="#ff7bba"/><stop offset="0.5447" stop-color="#ff5c9d"/><stop offset="0.6332" stop-color="#ff3182"/><stop offset="0.6596" stop-color="#ff1a7b"/><stop offset="0.6647" stop-color="#ff0f79"/><stop offset="0.6672" stop-color="#ff0079"/><stop offset="0.9174" stop-color="#ff003c"/><stop offset="0.9694" stop-color="#ff002b"/><stop offset="1" stop-color="#ff001b"/></linearGradient>
<linearGradient id="c244" gradientUnits="userSpaceOnUse" x1="608" x2="1773"><stop offset="0" stop-color="#00d7ff"/><stop offset="0.2635" stop-color="#00c6ff"/><stop offset="0.2652" stop-color="#24c6ff"/><stop offset="0.267" stop-color="#36c6ff"/><stop offset="0.2695" stop-color="#46c5ff"/><stop offset="0.2773" stop-color="#65c5ff"/><stop offset="0.2893" stop-color="#83c3ff"/><stop offset="0.3047" stop-color="#a0c2ff"/><stop offset="0.3253" stop-color="#bfbfff"/><stop offset="0.3803" stop-color="#ffb8ff"/><stop offset="0.4232" stop-color="#ff98da"/><stop offset="0.4773" stop-color="#ff7abb"/><stop offset="0.5451" stop-color="#ff5b9f"/><stop offset="0.6318" stop-color="#ff3184"/><stop offset="0.6575" stop-color="#ff1a7d"/><stop offset="0.6635" stop-color="#ff0e7b"/><stop offset="0.6652" stop-color="#ff007b"/><stop offset="0.915" stop-color="#ff003f"/><stop offset="1" stop-color="#f02"/></linearGradient>
<linearGradient id="c245" gradientUnits="userSpaceOnUse" x1="609" x2="1764"><stop offset="0" stop-color="#00d6ff"/><stop offset="0.2641" stop-color="#00c4ff"/><stop offset="0.2649" stop-color="#1fc4ff"/><stop offset="0.2658" stop-color="#2bc4ff"/><stop offset="0.2693" stop-color="#44c4ff"/><stop offset="0.2771" stop-color="#63c3ff"/><stop offset="0.2892" stop-color="#82c2ff"/><stop offset="0.3048" stop-color="#9fc0ff"/><stop offset="0.3255" stop-color="#bebeff"/><stop offset="0.3818" stop-color="#ffb6ff"/><stop offset="0.4242" stop-color="#ff97dc"/><stop offset="0.4779" stop-color="#ff79bd"/><stop offset="0.5455" stop-color="#ff5ba0"/><stop offset="0.6303" stop-color="#ff3186"/><stop offset="0.6563" stop-color="#ff1a7f"/><stop offset="0.6615" stop-color="#ff0f7e"/><stop offset="0.6641" stop-color="#ff007d"/><stop offset="0.916" stop-color="#ff0042"/><stop offset="1" stop-color="#ff0028"/></linearGradient>
<linearGradient id="c246" gradientUnits="userSpaceOnUse" x1="610" x2="1755"><stop offset="0" stop-color="#00d5ff"/><stop offset="0.2638" stop-color="#00c3ff"/><stop offset="0.2646" stop-color="#17c2ff"/><stop offset="0.2655" stop-color="#26c2ff"/><stop offset="0.2672" stop-color="#37c2ff"/><stop offset="0.2699" stop-color="#46c2ff"/><stop offset="0.2777" stop-color="#64c1ff"/><stop offset="0.29" stop-color="#83c0ff"/><stop offset="0.3066" stop-color="#a1beff"/><stop offset="0.3275" stop-color="#bfbcff"/><stop offset="0.3843" stop-color="#ffb4ff"/><stop offset="0.4262" stop-color="#ff95dc"/><stop offset="0.4795" stop-color="#ff78be"/><stop offset="0.5459" stop-color="#ff5aa2"/><stop offset="0.6279" stop-color="#ff3288"/><stop offset="0.6541" stop-color="#ff1a81"/><stop offset="0.6603" stop-color="#ff0d80"/><stop offset="0.662" stop-color="#ff007f"/><stop offset="0.9188" stop-color="#f04"/><stop offset="1" stop-color="#ff002d"/></linearGradient>
<linearGradient id="c247" gradientUnits="userSpaceOnUse" x1="611" x2="1746"><stop offset="0" stop-color="#00d3ff"/><stop offset="0.2634" stop-color="#00c1ff"/><stop offset="0.2643" stop-color="#04c1ff"/><stop offset="0.2652" stop-color="#21c1ff"/><stop offset="0.2661" stop-color="#2cc1ff"/><stop offset="0.2705" stop-color="#49c0ff"/><stop offset="0.2784" stop-color="#66bfff"/><stop offset="0.2899" stop-color="#82beff"/><stop offset="0.3066" stop-color="#a0bcff"/><stop offset="0.3278" stop-color="#bebaff"/><stop offset="0.3859" stop-color="#ffb2ff"/><stop offset="0.4273" stop-color="#ff94dd"/><stop offset="0.4802" stop-color="#ff77bf"/><stop offset="0.5454" stop-color="#ff5aa4"/><stop offset="0.6264" stop-color="#ff328a"/><stop offset="0.6529" stop-color="#ff1a83"/><stop offset="0.6581" stop-color="#ff0f82"/><stop offset="0.659" stop-color="#ff0b82"/><stop offset="0.6599" stop-color="#ff0082"/><stop offset="1" stop-color="#ff0031"/></linearGradient>
<linearGradient id="c248" gradientUnits="userSpaceOnUse" x1="612" x2="1737"><stop offset="0" stop-color="#00d2ff"/><stop offset="0.264" stop-color="#00bfff"/><stop offset="0.2649" stop-color="#1bbfff"/><stop offset="0.2658" stop-color="#28bfff"/><stop offset="0.2676" stop-color="#37bfff"/><stop offset="0.2702" stop-color="#47bfff"/><stop offset="0.2782" stop-color="#64beff"/><stop offset="0.2907" stop-color="#82bcff"/><stop offset="0.3076" stop-color="#a0bbff"/><stop offset="0.3298" stop-color="#bfb8ff"/><stop offset="0.3884" stop-color="#ffafff"/><stop offset="0.4302" stop-color="#ff92dd"/><stop offset="0.4818" stop-color="#ff76c0"/><stop offset="0.5458" stop-color="#ff59a6"/><stop offset="0.6249" stop-color="#ff328d"/><stop offset="0.6507" stop-color="#ff1b86"/><stop offset="0.656" stop-color="#ff1084"/><stop offset="0.6587" stop-color="#ff0084"/><stop offset="1" stop-color="#ff0035"/></linearGradient>
<linearGradient id="c249" gradientUnits="userSpaceOnUse" x1="613" x2="1728"><stop offset="0" stop-color="#00d1ff"/><stop offset="0.2637" stop-color="#00beff"/><stop offset="0.2655" stop-color="#24bdff"/><stop offset="0.2664" stop-color="#2dbdff"/><stop offset="0.2709" stop-color="#49bdff"/><stop offset="0.2789" stop-color="#65bcff"/><stop offset="0.2915" stop-color="#83bbff"/><stop offset="0.3085" stop-color="#a0b9ff"/><stop offset="0.33" stop-color="#beb6ff"/><stop offset="0.3901" stop-color="#ffadff"/><stop offset="0.4314" stop-color="#ff91de"/><stop offset="0.4825" stop-color="#ff75c1"/><stop offset="0.5453" stop-color="#ff59a7"/><stop offset="0.6233" stop-color="#ff318f"/><stop offset="0.6493" stop-color="#ff1a88"/><stop offset="0.6547" stop-color="#ff0e86"/><stop offset="0.6556" stop-color="#ff0b86"/><stop offset="0.6565" stop-color="#ff0086"/><stop offset="1" stop-color="#ff0039"/></linearGradient>
<linearGradient id="c250" gradientUnits="userSpaceOnUse" x1="614" x2="1719"><stop offset="0" stop-color="#00cfff"/><stop offset="0.2643" stop-color="#00bcff"/><stop offset="0.2652" stop-color="#1ebcff"/><stop offset="0.2661" stop-color="#2abcff"/><stop offset="0.2706" stop-color="#47bbff"/><stop offset="0.2787" stop-color="#64baff"/><stop offset="0.2914" stop-color="#82b9ff"/><stop offset="0.3086" stop-color="#9fb7ff"/><stop offset="0.3312" stop-color="#beb4ff"/><stop offset="0.3928" stop-color="#ffabff"/><stop offset="0.4335" stop-color="#ff8fdf"/><stop offset="0.4833" stop-color="#ff74c3"/><stop offset="0.5448" stop-color="#ff58a9"/><stop offset="0.6208" stop-color="#ff3291"/><stop offset="0.6471" stop-color="#ff1b8a"/><stop offset="0.6525" stop-color="#ff1089"/><stop offset="0.6552" stop-color="#f08"/><stop offset="1" stop-color="#ff003c"/></linearGradient>
<linearGradient id="c251" gradientUnits="userSpaceOnUse" x1="616" x2="1710"><stop offset="0" stop-color="#00ceff"/><stop offset="0.2633" stop-color="#00baff"/><stop offset="0.2642" stop-color="#16baff"/><stop offset="0.2651" stop-color="#25baff"/><stop offset="0.2669" stop-color="#36baff"/><stop offset="0.2697" stop-color="#45baff"/><stop offset="0.2788" stop-color="#65b9ff"/><stop offset="0.2916" stop-color="#82b7ff"/><stop offset="0.309" stop-color="#a0b5ff"/><stop offset="0.3318" stop-color="#beb2ff"/><stop offset="0.394" stop-color="#ffa9ff"/><stop offset="0.4351" stop-color="#ff8ddf"/><stop offset="0.4845" stop-color="#ff73c4"/><stop offset="0.5448" stop-color="#ff58ab"/><stop offset="0.6188" stop-color="#ff3293"/><stop offset="0.6453" stop-color="#ff1a8c"/><stop offset="0.6508" stop-color="#ff0e8b"/><stop offset="0.6527" stop-color="#ff008a"/><stop offset="1" stop-color="#ff003f"/></linearGradient>
<linearGradient id="c252" gradientUnits="userSpaceOnUse" x1="617" x2="1701"><stop offset="0" stop-color="#00cdff"/><stop offset="0.2638" stop-color="#00b9ff"/><stop offset="0.2648" stop-color="#21b9ff"/><stop offset="0.2657" stop-color="#2bb8ff"/><stop offset="0.2703" stop-color="#47b8ff"/><stop offset="0.2786" stop-color="#64b7ff"/><stop offset="0.2915" stop-color="#81b6ff"/><stop offset="0.31" stop-color="#a0b3ff"/><stop offset="0.333" stop-color="#beb0ff"/><stop offset="0.3967" stop-color="#ffa6ff"/><stop offset="0.4363" stop-color="#ff8ce0"/><stop offset="0.4852" stop-color="#ff72c5"/><stop offset="0.5452" stop-color="#ff57ad"/><stop offset="0.6172" stop-color="#ff3296"/><stop offset="0.643" stop-color="#ff1b8f"/><stop offset="0.6485" stop-color="#ff0f8d"/><stop offset="0.6513" stop-color="#ff008c"/><stop offset="1" stop-color="#ff0042"/></linearGradient>
<linearGradient id="c253" gradientUnits="userSpaceOnUse" x1="618" x2="1692"><stop offset="0" stop-color="#00cbff"/><stop offset="0.2635" stop-color="#00b7ff"/><stop offset="0.2644" stop-color="#1ab7ff"/><stop offset="0.2654" stop-color="#27b7ff"/><stop offset="0.2672" stop-color="#36b7ff"/><stop offset="0.27" stop-color="#46b6ff"/><stop offset="0.2793" stop-color="#65b5ff"/><stop offset="0.2924" stop-color="#82b4ff"/><stop offset="0.311" stop-color="#a0b2ff"/><stop offset="0.3343" stop-color="#beaeff"/><stop offset="0.3985" stop-color="#ffa4ff"/><stop offset="0.4385" stop-color="#ff8ae1"/><stop offset="0.487" stop-color="#ff71c6"/><stop offset="0.6155" stop-color="#ff3298"/><stop offset="0.6415" stop-color="#ff1a91"/><stop offset="0.6471" stop-color="#ff0e8f"/><stop offset="0.649" stop-color="#ff008f"/><stop offset="1" stop-color="#ff0045"/></linearGradient>
<linearGradient id="c254" gradientUnits="userSpaceOnUse" x1="619" x2="1683"><stop offset="0" stop-color="#00caff"/><stop offset="0.2632" stop-color="#00b5ff"/><stop offset="0.265" stop-color="#23b5ff"/><stop offset="0.266" stop-color="#2cb5ff"/><stop offset="0.2707" stop-color="#48b5ff"/><stop offset="0.2801" stop-color="#66b4ff"/><stop offset="0.2932" stop-color="#82b2ff"/><stop offset="0.312" stop-color="#a0b0ff"/><stop offset="0.3355" stop-color="#beadff"/><stop offset="0.4013" stop-color="#ffa2ff"/><stop offset="0.4408" stop-color="#ff89e1"/><stop offset="0.4878" stop-color="#ff70c8"/><stop offset="0.6137" stop-color="#ff329a"/><stop offset="0.6391" stop-color="#ff1b93"/><stop offset="0.6447" stop-color="#ff0f92"/><stop offset="0.6457" stop-color="#ff0b91"/><stop offset="0.6466" stop-color="#ff0091"/><stop offset="1" stop-color="#ff0047"/></linearGradient>
<linearGradient id="c255" gradientUnits="userSpaceOnUse" x1="620" x2="1674"><stop offset="0" stop-color="#00c9ff"/><stop offset="0.2638" stop-color="#00b4ff"/><stop offset="0.2647" stop-color="#1db4ff"/><stop offset="0.2657" stop-color="#29b4ff"/><stop offset="0.2704" stop-color="#46b3ff"/><stop offset="0.2799" stop-color="#65b2ff"/><stop offset="0.2932" stop-color="#81b0ff"/><stop offset="0.3121" stop-color="#9faeff"/><stop offset="0.3359" stop-color="#bdabff"/><stop offset="0.4032" stop-color="#ffa0ff"/><stop offset="0.4421" stop-color="#ff87e3"/><stop offset="0.4886" stop-color="#ff6fc9"/><stop offset="0.611" stop-color="#ff329d"/><stop offset="0.6376" stop-color="#ff1a95"/><stop offset="0.6433" stop-color="#ff0d94"/><stop offset="0.6452" stop-color="#ff0093"/><stop offset="0.7713" stop-color="#ff0076"/><stop offset="1" stop-color="#ff004a"/></linearGradient>
<linearGradient id="c256" gradientUnits="userSpaceOnUse" x1="621" x2="1665"><stop offset="0" stop-color="#00c7ff"/><stop offset="0.2634" stop-color="#00b2ff"/><stop offset="0.2644" stop-color="#16b2ff"/><stop offset="0.2653" stop-color="#25b2ff"/><stop offset="0.2663" stop-color="#2eb2ff"/><stop offset="0.2711" stop-color="#48b1ff"/><stop offset="0.2807" stop-color="#66b0ff"/><stop offset="0.2941" stop-color="#82afff"/><stop offset="0.3132" stop-color="#a0acff"/><stop offset="0.3381" stop-color="#bea9ff"/><stop offset="0.4061" stop-color="#ff9dff"/><stop offset="0.4444" stop-color="#ff85e3"/><stop offset="0.4895" stop-color="#ff6ecb"/><stop offset="0.6092" stop-color="#ff329f"/><stop offset="0.6351" stop-color="#ff1b98"/><stop offset="0.6408" stop-color="#ff0f96"/><stop offset="0.6418" stop-color="#ff0b96"/><stop offset="0.6427" stop-color="#ff0096"/><stop offset="0.7739" stop-color="#f07"/><stop offset="1" stop-color="#ff004c"/></linearGradient>
<linearGradient id="c257" gradientUnits="userSpaceOnUse" x1="622" x2="1656"><stop offset="0" stop-color="#00c6ff"/><stop offset="0.264" stop-color="#00b1ff"/><stop offset="0.265" stop-color="#20b0ff"/><stop offset="0.266" stop-color="#2ab0ff"/><stop offset="0.2708" stop-color="#46b0ff"/><stop offset="0.2805" stop-color="#65afff"/><stop offset="0.295" stop-color="#83adff"/><stop offset="0.3153" stop-color="#a1aaff"/><stop offset="0.3404" stop-color="#bfa7ff"/><stop offset="0.4091" stop-color="#ff9bfe"/><stop offset="0.4468" stop-color="#ff84e4"/><stop offset="0.4913" stop-color="#ff6dcc"/><stop offset="0.6074" stop-color="#ff32a1"/><stop offset="0.6335" stop-color="#ff1a9a"/><stop offset="0.6383" stop-color="#ff1098"/><stop offset="0.6412" stop-color="#ff0098"/><stop offset="0.7756" stop-color="#ff0079"/><stop offset="1" stop-color="#ff004f"/></linearGradient>
<linearGradient id="c258" gradientUnits="userSpaceOnUse" x1="623" x2="1647"><stop offset="0" stop-color="#00c5ff"/><stop offset="0.2637" stop-color="#00afff"/><stop offset="0.2646" stop-color="#19afff"/><stop offset="0.2656" stop-color="#26afff"/><stop offset="0.2676" stop-color="#35afff"/><stop offset="0.2705" stop-color="#44aeff"/><stop offset="0.2803" stop-color="#63adff"/><stop offset="0.2949" stop-color="#82abff"/><stop offset="0.3154" stop-color="#a0a9ff"/><stop offset="0.3408" stop-color="#bea5ff"/><stop offset="0.4111" stop-color="#f9f"/><stop offset="0.4482" stop-color="#ff82e5"/><stop offset="0.4922" stop-color="#ff6ccd"/><stop offset="0.6055" stop-color="#ff32a3"/><stop offset="0.6309" stop-color="#ff1b9c"/><stop offset="0.6367" stop-color="#ff0f9b"/><stop offset="0.6387" stop-color="#ff009a"/><stop offset="0.7764" stop-color="#ff007a"/><stop offset="1" stop-color="#ff0051"/></linearGradient>
<linearGradient id="c259" gradientUnits="userSpaceOnUse" x1="624" x2="1638"><stop offset="0" stop-color="#00c3ff"/><stop offset="0.2633" stop-color="#00adff"/><stop offset="0.2653" stop-color="#22adff"/><stop offset="0.2663" stop-color="#2cadff"/><stop offset="0.2712" stop-color="#47acff"/><stop offset="0.2811" stop-color="#65abff"/><stop offset="0.2959" stop-color="#82a9ff"/><stop offset="0.3166" stop-color="#a1a7ff"/><stop offset="0.3432" stop-color="#bfa3ff"/><stop offset="0.4142" stop-color="#ff96ff"/><stop offset="0.4507" stop-color="#ff80e5"/><stop offset="0.4931" stop-color="#ff6acf"/><stop offset="0.6036" stop-color="#ff32a6"/><stop offset="0.6292" stop-color="#ff1a9e"/><stop offset="0.6341" stop-color="#ff109d"/><stop offset="0.6371" stop-color="#ff009c"/><stop offset="0.7781" stop-color="#ff007c"/><stop offset="1" stop-color="#ff0053"/></linearGradient>
<linearGradient id="c260" gradientUnits="userSpaceOnUse" x1="625" x2="1629"><stop offset="0" stop-color="#00c2ff"/><stop offset="0.2639" stop-color="#00acff"/><stop offset="0.2649" stop-color="#1cacff"/><stop offset="0.2659" stop-color="#28abff"/><stop offset="0.2709" stop-color="#45abff"/><stop offset="0.2809" stop-color="#63aaff"/><stop offset="0.2958" stop-color="#81a8ff"/><stop offset="0.3167" stop-color="#9fa5ff"/><stop offset="0.3426" stop-color="#bda1ff"/><stop offset="0.4163" stop-color="#ff94ff"/><stop offset="0.4522" stop-color="#ff7fe6"/><stop offset="0.494" stop-color="#ff69d0"/><stop offset="0.6016" stop-color="#ff32a8"/><stop offset="0.6265" stop-color="#ff1ba1"/><stop offset="0.6325" stop-color="#ff0e9f"/><stop offset="0.6345" stop-color="#ff009f"/><stop offset="0.7779" stop-color="#ff007e"/><stop offset="1" stop-color="#f05"/></linearGradient>
<linearGradient id="c261" gradientUnits="userSpaceOnUse" x1="627" x2="1620"><stop offset="0" stop-color="#00c1ff"/><stop offset="0.2628" stop-color="#0af"/><stop offset="0.2649" stop-color="#24aaff"/><stop offset="0.2659" stop-color="#2daaff"/><stop offset="0.2709" stop-color="#47a9ff"/><stop offset="0.281" stop-color="#64a8ff"/><stop offset="0.2961" stop-color="#82a6ff"/><stop offset="0.3172" stop-color="#a0a3ff"/><stop offset="0.3444" stop-color="#be9fff"/><stop offset="0.4189" stop-color="#ff92ff"/><stop offset="0.4955" stop-color="#ff68d1"/><stop offset="0.5992" stop-color="#ff32aa"/><stop offset="0.6244" stop-color="#ff1ba3"/><stop offset="0.6294" stop-color="#ff10a2"/><stop offset="0.6304" stop-color="#ff0ca1"/><stop offset="0.6314" stop-color="#ff00a1"/><stop offset="0.7774" stop-color="#ff007f"/><stop offset="1" stop-color="#ff0058"/></linearGradient>
<linearGradient id="c262" gradientUnits="userSpaceOnUse" x1="628" x2="1611"><stop offset="0" stop-color="#00bfff"/><stop offset="0.2635" stop-color="#00a8ff"/><stop offset="0.2645" stop-color="#1fa8ff"/><stop offset="0.2655" stop-color="#29a8ff"/><stop offset="0.2706" stop-color="#45a8ff"/><stop offset="0.2808" stop-color="#63a6ff"/><stop offset="0.297" stop-color="#82a4ff"/><stop offset="0.3184" stop-color="#a0a1ff"/><stop offset="0.3459" stop-color="#be9dff"/><stop offset="0.4212" stop-color="#ff90ff"/><stop offset="0.4964" stop-color="#ff67d2"/><stop offset="0.5972" stop-color="#ff32ad"/><stop offset="0.6216" stop-color="#ff1ba6"/><stop offset="0.6267" stop-color="#ff11a4"/><stop offset="0.6297" stop-color="#ff00a3"/><stop offset="0.7782" stop-color="#ff0081"/><stop offset="1" stop-color="#ff005a"/></linearGradient>
<linearGradient id="c263" gradientUnits="userSpaceOnUse" x1="629" x2="1602"><stop offset="0" stop-color="#00beff"/><stop offset="0.2631" stop-color="#00a7ff"/><stop offset="0.2641" stop-color="#19a7ff"/><stop offset="0.2652" stop-color="#26a7ff"/><stop offset="0.2672" stop-color="#35a6ff"/><stop offset="0.2713" stop-color="#47a6ff"/><stop offset="0.2816" stop-color="#64a5ff"/><stop offset="0.298" stop-color="#83a2ff"/><stop offset="0.3196" stop-color="#a09fff"/><stop offset="0.3484" stop-color="#bf9bff"/><stop offset="0.4245" stop-color="#ff8dff"/><stop offset="0.4974" stop-color="#ff65d4"/><stop offset="0.5951" stop-color="#ff32af"/><stop offset="0.6197" stop-color="#ff1ba8"/><stop offset="0.6249" stop-color="#ff0fa7"/><stop offset="0.6259" stop-color="#ff0ba6"/><stop offset="0.6269" stop-color="#ff00a6"/><stop offset="0.777" stop-color="#ff0083"/><stop offset="1" stop-color="#ff005c"/></linearGradient>
<linearGradient id="c264" gradientUnits="userSpaceOnUse" x1="630" x2="1593"><stop offset="0" stop-color="#00bdff"/><stop offset="0.2627" stop-color="#00a5ff"/><stop offset="0.2648" stop-color="#21a5ff"/><stop offset="0.2658" stop-color="#2ba5ff"/><stop offset="0.271" stop-color="#45a4ff"/><stop offset="0.2814" stop-color="#63a3ff"/><stop offset="0.298" stop-color="#82a1ff"/><stop offset="0.3198" stop-color="#9f9eff"/><stop offset="0.3489" stop-color="#be99ff"/><stop offset="0.4268" stop-color="#ff8bff"/><stop offset="0.4984" stop-color="#ff64d5"/><stop offset="0.5929" stop-color="#ff32b2"/><stop offset="0.6168" stop-color="#ff1bab"/><stop offset="0.622" stop-color="#ff11a9"/><stop offset="0.6251" stop-color="#ff00a8"/><stop offset="0.7767" stop-color="#ff0085"/><stop offset="1" stop-color="#ff005e"/></linearGradient>
<linearGradient id="c265" gradientUnits="userSpaceOnUse" x1="631" x2="1584"><stop offset="0" stop-color="#0bf"/><stop offset="0.2634" stop-color="#00a4ff"/><stop offset="0.2644" stop-color="#1ca4ff"/><stop offset="0.2655" stop-color="#27a3ff"/><stop offset="0.2676" stop-color="#35a3ff"/><stop offset="0.2718" stop-color="#48a3ff"/><stop offset="0.2833" stop-color="#66a1ff"/><stop offset="0.2991" stop-color="#829fff"/><stop offset="0.3211" stop-color="#a09cff"/><stop offset="0.3505" stop-color="#be97ff"/><stop offset="0.4302" stop-color="#f8f"/><stop offset="0.4995" stop-color="#ff63d7"/><stop offset="0.5908" stop-color="#ff32b4"/><stop offset="0.6149" stop-color="#ff1bad"/><stop offset="0.6201" stop-color="#ff0fab"/><stop offset="0.6222" stop-color="#ff00ab"/><stop offset="0.7765" stop-color="#ff0087"/><stop offset="1" stop-color="#ff0060"/></linearGradient>
<linearGradient id="c266" gradientUnits="userSpaceOnUse" x1="632" x2="1575"><stop offset="0" stop-color="#00baff"/><stop offset="0.263" stop-color="#00a2ff"/><stop offset="0.2651" stop-color="#23a2ff"/><stop offset="0.2662" stop-color="#2ca2ff"/><stop offset="0.2715" stop-color="#46a1ff"/><stop offset="0.2821" stop-color="#63a0ff"/><stop offset="0.299" stop-color="#819dff"/><stop offset="0.3213" stop-color="#9f9aff"/><stop offset="0.351" stop-color="#bd96ff"/><stop offset="0.4327" stop-color="#ff86ff"/><stop offset="0.5005" stop-color="#ff62d8"/><stop offset="0.5885" stop-color="#ff32b7"/><stop offset="0.6119" stop-color="#ff1cb0"/><stop offset="0.6172" stop-color="#ff11ae"/><stop offset="0.6204" stop-color="#ff00ad"/><stop offset="0.7752" stop-color="#ff0089"/><stop offset="1" stop-color="#ff0062"/></linearGradient>
<linearGradient id="c267" gradientUnits="userSpaceOnUse" x1="634" x2="1566"><stop offset="0" stop-color="#00b8ff"/><stop offset="0.2629" stop-color="#00a0ff"/><stop offset="0.2639" stop-color="#1ea0ff"/><stop offset="0.265" stop-color="#29a0ff"/><stop offset="0.2704" stop-color="#449fff"/><stop offset="0.2822" stop-color="#649eff"/><stop offset="0.2994" stop-color="#829cff"/><stop offset="0.323" stop-color="#a098ff"/><stop offset="0.353" stop-color="#be93ff"/><stop offset="0.4356" stop-color="#ff83ff"/><stop offset="0.5011" stop-color="#ff60da"/><stop offset="0.5858" stop-color="#ff32b9"/><stop offset="0.6094" stop-color="#ff1bb2"/><stop offset="0.6148" stop-color="#ff0fb0"/><stop offset="0.617" stop-color="#ff00b0"/><stop offset="0.7736" stop-color="#ff008b"/><stop offset="1" stop-color="#ff0064"/></linearGradient>
<linearGradient id="c268" gradientUnits="userSpaceOnUse" x1="635" x2="1557"><stop offset="0" stop-color="#00b7ff"/><stop offset="0.2625" stop-color="#009fff"/><stop offset="0.2636" stop-color="#189fff"/><stop offset="0.2646" stop-color="#259fff"/><stop offset="0.2668" stop-color="#349eff"/><stop offset="0.2711" stop-color="#469eff"/><stop offset="0.2831" stop-color="#659cff"/><stop offset="0.3004" stop-color="#829aff"/><stop offset="0.3243" stop-color="#a096ff"/><stop offset="0.3547" stop-color="#be91ff"/><stop offset="0.4382" stop-color="#ff81ff"/><stop offset="0.5033" stop-color="#ff5edb"/><stop offset="0.5846" stop-color="#ff31bc"/><stop offset="0.6074" stop-color="#ff1ab4"/><stop offset="0.6128" stop-color="#ff0cb3"/><stop offset="0.6139" stop-color="#ff00b3"/><stop offset="0.7722" stop-color="#ff008d"/><stop offset="1" stop-color="#f06"/></linearGradient>
<linearGradient id="c269" gradientUnits="userSpaceOnUse" x1="636" x2="1548"><stop offset="0" stop-color="#00b6ff"/><stop offset="0.2621" stop-color="#009dff"/><stop offset="0.2632" stop-color="#0c9dff"/><stop offset="0.2643" stop-color="#209dff"/><stop offset="0.2654" stop-color="#2a9dff"/><stop offset="0.2719" stop-color="#489cff"/><stop offset="0.284" stop-color="#669aff"/><stop offset="0.3015" stop-color="#8398ff"/><stop offset="0.3257" stop-color="#a194ff"/><stop offset="0.3575" stop-color="#bf8fff"/><stop offset="0.4419" stop-color="#ff7eff"/><stop offset="0.5044" stop-color="#ff5ddc"/><stop offset="0.5822" stop-color="#ff31be"/><stop offset="0.6042" stop-color="#ff1bb7"/><stop offset="0.6096" stop-color="#ff0eb6"/><stop offset="0.6118" stop-color="#ff00b5"/><stop offset="0.7719" stop-color="#ff008f"/><stop offset="1" stop-color="#ff0068"/></linearGradient>
<linearGradient id="c270" gradientUnits="userSpaceOnUse" x1="637" x2="1539"><stop offset="0" stop-color="#00b4ff"/><stop offset="0.2627" stop-color="#009cff"/><stop offset="0.2639" stop-color="#1b9bff"/><stop offset="0.265" stop-color="#269bff"/><stop offset="0.2672" stop-color="#349bff"/><stop offset="0.2716" stop-color="#469aff"/><stop offset="0.2838" stop-color="#6599ff"/><stop offset="0.3016" stop-color="#8296ff"/><stop offset="0.3259" stop-color="#a093ff"/><stop offset="0.3581" stop-color="#be8dff"/><stop offset="0.4446" stop-color="#ff7bff"/><stop offset="0.5055" stop-color="#ff5bde"/><stop offset="0.5798" stop-color="#ff31c1"/><stop offset="0.602" stop-color="#ff1aba"/><stop offset="0.6064" stop-color="#ff10b8"/><stop offset="0.6075" stop-color="#ff0bb8"/><stop offset="0.6086" stop-color="#ff00b8"/><stop offset="0.7705" stop-color="#ff0091"/><stop offset="1" stop-color="#ff006a"/></linearGradient>
<linearGradient id="c271" gradientUnits="userSpaceOnUse" x1="639" x2="1530"><stop offset="0" stop-color="#00b3ff"/><stop offset="0.2615" stop-color="#009aff"/><stop offset="0.2637" stop-color="#229aff"/><stop offset="0.2649" stop-color="#2b9aff"/><stop offset="0.2716" stop-color="#4899ff"/><stop offset="0.284" stop-color="#6697ff"/><stop offset="0.3019" stop-color="#8394ff"/><stop offset="0.3266" stop-color="#a091ff"/><stop offset="0.3591" stop-color="#be8bff"/><stop offset="0.4478" stop-color="#ff78ff"/><stop offset="0.5051" stop-color="#ff5ae0"/><stop offset="0.5769" stop-color="#ff31c4"/><stop offset="0.5982" stop-color="#ff1bbd"/><stop offset="0.6027" stop-color="#ff12bb"/><stop offset="0.6061" stop-color="#ff00ba"/><stop offset="0.7688" stop-color="#ff0093"/><stop offset="1" stop-color="#ff006c"/></linearGradient>
<linearGradient id="c272" gradientUnits="userSpaceOnUse" x1="640" x2="1521"><stop offset="0" stop-color="#00b1ff"/><stop offset="0.2622" stop-color="#0098ff"/><stop offset="0.2633" stop-color="#1d98ff"/><stop offset="0.2645" stop-color="#2898ff"/><stop offset="0.2667" stop-color="#3598ff"/><stop offset="0.2713" stop-color="#4797ff"/><stop offset="0.2838" stop-color="#6595ff"/><stop offset="0.3019" stop-color="#8293ff"/><stop offset="0.3269" stop-color="#9f8fff"/><stop offset="0.3598" stop-color="#bd89ff"/><stop offset="0.4506" stop-color="#ff76ff"/><stop offset="0.5074" stop-color="#ff58e1"/><stop offset="0.5755" stop-color="#ff30c6"/><stop offset="0.5959" stop-color="#ff1abf"/><stop offset="0.6005" stop-color="#ff10be"/><stop offset="0.6027" stop-color="#ff00bd"/><stop offset="0.7673" stop-color="#ff0095"/><stop offset="1" stop-color="#ff006e"/></linearGradient>
<linearGradient id="c273" gradientUnits="userSpaceOnUse" x1="641" x2="1512"><stop offset="0" stop-color="#00b0ff"/><stop offset="0.2618" stop-color="#0097ff"/><stop offset="0.2629" stop-color="#1797ff"/><stop offset="0.2641" stop-color="#2496ff"/><stop offset="0.2664" stop-color="#3396ff"/><stop offset="0.271" stop-color="#4596ff"/><stop offset="0.2836" stop-color="#6494ff"/><stop offset="0.3031" stop-color="#8291ff"/><stop offset="0.3295" stop-color="#a08dff"/><stop offset="0.3628" stop-color="#be87ff"/><stop offset="0.4546" stop-color="#ff73ff"/><stop offset="0.5086" stop-color="#ff56e2"/><stop offset="0.5729" stop-color="#ff30c9"/><stop offset="0.5936" stop-color="#ff19c2"/><stop offset="0.597" stop-color="#ff12c1"/><stop offset="0.5982" stop-color="#ff0dc1"/><stop offset="0.5993" stop-color="#ff02c0"/><stop offset="0.6005" stop-color="#ff00c0"/><stop offset="0.7658" stop-color="#ff0097"/><stop offset="1" stop-color="#ff0070"/></linearGradient>
<linearGradient id="c274" gradientUnits="userSpaceOnUse" x1="643" x2="1503"><stop offset="0" stop-color="#00aeff"/><stop offset="0.2605" stop-color="#0095ff"/><stop offset="0.2616" stop-color="#0b95ff"/><stop offset="0.2628" stop-color="#2095ff"/><stop offset="0.264" stop-color="#2995ff"/><stop offset="0.2709" stop-color="#4794ff"/><stop offset="0.2837" stop-color="#6592ff"/><stop offset="0.3035" stop-color="#838fff"/><stop offset="0.3302" stop-color="#a18bff"/><stop offset="0.364" stop-color="#be85ff"/><stop offset="0.457" stop-color="#ff70ff"/><stop offset="0.5093" stop-color="#ff54e4"/><stop offset="0.5698" stop-color="#ff30cc"/><stop offset="0.5895" stop-color="#ff1ac5"/><stop offset="0.5942" stop-color="#ff0fc4"/><stop offset="0.5965" stop-color="#ff00c3"/><stop offset="0.7628" stop-color="#ff009a"/><stop offset="1" stop-color="#ff0072"/></linearGradient>
<linearGradient id="c275" gradientUnits="userSpaceOnUse" x1="644" x2="1494"><stop offset="0" stop-color="#00adff"/><stop offset="0.2612" stop-color="#0093ff"/><stop offset="0.2624" stop-color="#1a93ff"/><stop offset="0.2635" stop-color="#2693ff"/><stop offset="0.2659" stop-color="#3493ff"/><stop offset="0.2706" stop-color="#4592ff"/><stop offset="0.2835" stop-color="#6390ff"/><stop offset="0.3035" stop-color="#828dff"/><stop offset="0.3306" stop-color="#a089ff"/><stop offset="0.3659" stop-color="#be83ff"/><stop offset="0.4612" stop-color="#ff6dff"/><stop offset="0.5106" stop-color="#ff52e5"/><stop offset="0.5682" stop-color="#ff2fce"/><stop offset="0.5871" stop-color="#ff1ac8"/><stop offset="0.5918" stop-color="#ff0dc6"/><stop offset="0.5929" stop-color="#ff00c6"/><stop offset="0.7612" stop-color="#ff009c"/><stop offset="1" stop-color="#ff0074"/></linearGradient>
<linearGradient id="c276" gradientUnits="userSpaceOnUse" x1="645" x2="1485"><stop offset="0" stop-color="#00acff"/><stop offset="0.2607" stop-color="#0092ff"/><stop offset="0.2631" stop-color="#2292ff"/><stop offset="0.2643" stop-color="#2a91ff"/><stop offset="0.2714" stop-color="#4790ff"/><stop offset="0.2845" stop-color="#648fff"/><stop offset="0.3048" stop-color="#828cff"/><stop offset="0.3321" stop-color="#a087ff"/><stop offset="0.3679" stop-color="#be81ff"/><stop offset="0.4643" stop-color="#ff6aff"/><stop offset="0.5655" stop-color="#ff2fd1"/><stop offset="0.5845" stop-color="#ff18cb"/><stop offset="0.5881" stop-color="#ff0fc9"/><stop offset="0.5905" stop-color="#ff00c9"/><stop offset="0.7595" stop-color="#ff009e"/><stop offset="1" stop-color="#ff0076"/></linearGradient>
<linearGradient id="c277" gradientUnits="userSpaceOnUse" x1="647" x2="1476"><stop offset="0" stop-color="#0af"/><stop offset="0.2606" stop-color="#0090ff"/><stop offset="0.2618" stop-color="#1d90ff"/><stop offset="0.263" stop-color="#2790ff"/><stop offset="0.2654" stop-color="#348fff"/><stop offset="0.2702" stop-color="#468fff"/><stop offset="0.2835" stop-color="#638dff"/><stop offset="0.304" stop-color="#818aff"/><stop offset="0.3317" stop-color="#9f85ff"/><stop offset="0.3679" stop-color="#be7fff"/><stop offset="0.468" stop-color="#ff67ff"/><stop offset="0.532" stop-color="#ff43e0"/><stop offset="0.5633" stop-color="#ff2dd4"/><stop offset="0.5814" stop-color="#ff17cd"/><stop offset="0.585" stop-color="#ff0ccc"/><stop offset="0.5862" stop-color="#f0c"/><stop offset="0.7575" stop-color="#ff00a0"/><stop offset="1" stop-color="#ff0078"/></linearGradient>
<linearGradient id="c278" gradientUnits="userSpaceOnUse" x1="648" x2="1467"><stop offset="0" stop-color="#00a9ff"/><stop offset="0.2601" stop-color="#008fff"/><stop offset="0.2613" stop-color="#168eff"/><stop offset="0.2637" stop-color="#2c8eff"/><stop offset="0.2711" stop-color="#488dff"/><stop offset="0.2845" stop-color="#648bff"/><stop offset="0.3053" stop-color="#8288ff"/><stop offset="0.3333" stop-color="#9f83ff"/><stop offset="0.37" stop-color="#be7dff"/><stop offset="0.4713" stop-color="#ff63ff"/><stop offset="0.5299" stop-color="#ff43e3"/><stop offset="0.5604" stop-color="#ff2dd7"/><stop offset="0.5775" stop-color="#ff19d1"/><stop offset="0.5812" stop-color="#ff0fd0"/><stop offset="0.5836" stop-color="#ff00cf"/><stop offset="0.7558" stop-color="#ff00a2"/><stop offset="1" stop-color="#ff007a"/></linearGradient>
<linearGradient id="c279" gradientUnits="userSpaceOnUse" x1="649" x2="1458"><stop offset="0" stop-color="#00a7ff"/><stop offset="0.2596" stop-color="#008dff"/><stop offset="0.2608" stop-color="#098dff"/><stop offset="0.2621" stop-color="#1f8dff"/><stop offset="0.2633" stop-color="#288cff"/><stop offset="0.2707" stop-color="#468bff"/><stop offset="0.2855" stop-color="#6589ff"/><stop offset="0.3066" stop-color="#8286ff"/><stop offset="0.3362" stop-color="#a181ff"/><stop offset="0.3733" stop-color="#be7aff"/><stop offset="0.4759" stop-color="#ff60ff"/><stop offset="0.5303" stop-color="#ff41e5"/><stop offset="0.5587" stop-color="#ff2cda"/><stop offset="0.5748" stop-color="#ff17d4"/><stop offset="0.5785" stop-color="#ff0bd3"/><stop offset="0.5797" stop-color="#ff00d2"/><stop offset="0.7528" stop-color="#ff00a5"/><stop offset="1" stop-color="#ff007c"/></linearGradient>
<linearGradient id="c280" gradientUnits="userSpaceOnUse" x1="651" x2="1449"><stop offset="0" stop-color="#00a6ff"/><stop offset="0.2594" stop-color="#008bff"/><stop offset="0.2607" stop-color="#198bff"/><stop offset="0.2619" stop-color="#258bff"/><stop offset="0.2644" stop-color="#338aff"/><stop offset="0.2694" stop-color="#448aff"/><stop offset="0.2845" stop-color="#6488ff"/><stop offset="0.3058" stop-color="#8184ff"/><stop offset="0.3358" stop-color="#a07fff"/><stop offset="0.3747" stop-color="#be78ff"/><stop offset="0.4799" stop-color="#ff5cff"/><stop offset="0.5288" stop-color="#ff40e7"/><stop offset="0.5564" stop-color="#ff2bdc"/><stop offset="0.5714" stop-color="#ff16d7"/><stop offset="0.5739" stop-color="#ff0ed6"/><stop offset="0.5752" stop-color="#ff00d6"/><stop offset="0.7494" stop-color="#ff00a8"/><stop offset="1" stop-color="#ff007e"/></linearGradient>
<linearGradient id="c281" gradientUnits="userSpaceOnUse" x1="652" x2="1440"><stop offset="0" stop-color="#00a4ff"/><stop offset="0.2589" stop-color="#008aff"/><stop offset="0.2614" stop-color="#2189ff"/><stop offset="0.2627" stop-color="#2a89ff"/><stop offset="0.2703" stop-color="#4688ff"/><stop offset="0.2855" stop-color="#6586ff"/><stop offset="0.3071" stop-color="#8282ff"/><stop offset="0.3376" stop-color="#a07dff"/><stop offset="0.3756" stop-color="#be76ff"/><stop offset="0.4835" stop-color="#ff59ff"/><stop offset="0.5279" stop-color="#ff3eea"/><stop offset="0.5533" stop-color="#ff2ae0"/><stop offset="0.5673" stop-color="#ff17da"/><stop offset="0.5698" stop-color="#ff10da"/><stop offset="0.5723" stop-color="#ff00d9"/><stop offset="0.6523" stop-color="#ff00c0"/><stop offset="0.7475" stop-color="#f0a"/><stop offset="1" stop-color="#ff0080"/></linearGradient>
<linearGradient id="c282" gradientUnits="userSpaceOnUse" x1="653" x2="1431"><stop offset="0" stop-color="#00a3ff"/><stop offset="0.2596" stop-color="#08f"/><stop offset="0.2609" stop-color="#1c88ff"/><stop offset="0.2622" stop-color="#2687ff"/><stop offset="0.2648" stop-color="#3487ff"/><stop offset="0.2699" stop-color="#4586ff"/><stop offset="0.2853" stop-color="#6484ff"/><stop offset="0.3085" stop-color="#8280ff"/><stop offset="0.3393" stop-color="#a07bff"/><stop offset="0.3792" stop-color="#be73ff"/><stop offset="0.4884" stop-color="#ff54ff"/><stop offset="0.5283" stop-color="#ff3cec"/><stop offset="0.5514" stop-color="#ff29e2"/><stop offset="0.5643" stop-color="#ff16de"/><stop offset="0.5668" stop-color="#ff0ddd"/><stop offset="0.5681" stop-color="#ff00dc"/><stop offset="0.6491" stop-color="#ff00c3"/><stop offset="0.7455" stop-color="#ff00ac"/><stop offset="1" stop-color="#ff0082"/></linearGradient>
<linearGradient id="c283" gradientUnits="userSpaceOnUse" x1="655" x2="1422"><stop offset="0" stop-color="#00a1ff"/><stop offset="0.2581" stop-color="#0086ff"/><stop offset="0.2595" stop-color="#1586ff"/><stop offset="0.2621" stop-color="#2b86ff"/><stop offset="0.2699" stop-color="#4784ff"/><stop offset="0.2855" stop-color="#6582ff"/><stop offset="0.3077" stop-color="#817fff"/><stop offset="0.339" stop-color="#9f79ff"/><stop offset="0.3794" stop-color="#be71ff"/><stop offset="0.4915" stop-color="#ff50ff"/><stop offset="0.5267" stop-color="#ff3aee"/><stop offset="0.5489" stop-color="#ff27e5"/><stop offset="0.5606" stop-color="#ff14e1"/><stop offset="0.5645" stop-color="#ff00df"/><stop offset="0.6454" stop-color="#ff00c6"/><stop offset="0.7432" stop-color="#ff00af"/><stop offset="1" stop-color="#ff0084"/></linearGradient>
<linearGradient id="c284" gradientUnits="userSpaceOnUse" x1="656" x2="1413"><stop offset="0" stop-color="#00a0ff"/><stop offset="0.2576" stop-color="#0084ff"/><stop offset="0.2589" stop-color="#0784ff"/><stop offset="0.2602" stop-color="#1e84ff"/><stop offset="0.2616" stop-color="#2884ff"/><stop offset="0.2655" stop-color="#3983ff"/><stop offset="0.2708" stop-color="#4883ff"/><stop offset="0.2867" stop-color="#6680ff"/><stop offset="0.3091" stop-color="#827dff"/><stop offset="0.3421" stop-color="#a177ff"/><stop offset="0.3831" stop-color="#bf6eff"/><stop offset="0.4478" stop-color="#e55eff"/><stop offset="0.4967" stop-color="#ff4cff"/><stop offset="0.5284" stop-color="#ff36f0"/><stop offset="0.5469" stop-color="#ff25e8"/><stop offset="0.5561" stop-color="#ff16e5"/><stop offset="0.5588" stop-color="#ff0de4"/><stop offset="0.5601" stop-color="#ff00e3"/><stop offset="0.642" stop-color="#ff00c9"/><stop offset="0.7398" stop-color="#ff00b1"/><stop offset="1" stop-color="#ff0086"/></linearGradient>
<linearGradient id="c285" gradientUnits="userSpaceOnUse" x1="658" x2="1404"><stop offset="0" stop-color="#009eff"/><stop offset="0.2574" stop-color="#0083ff"/><stop offset="0.2587" stop-color="#1982ff"/><stop offset="0.2601" stop-color="#2482ff"/><stop offset="0.2641" stop-color="#3782ff"/><stop offset="0.2694" stop-color="#4781ff"/><stop offset="0.2855" stop-color="#657eff"/><stop offset="0.3083" stop-color="#817bff"/><stop offset="0.3405" stop-color="#9f75ff"/><stop offset="0.3834" stop-color="#be6cff"/><stop offset="0.4504" stop-color="#e55bff"/><stop offset="0.5" stop-color="#ff47ff"/><stop offset="0.5429" stop-color="#ff24ec"/><stop offset="0.5523" stop-color="#ff14e8"/><stop offset="0.5563" stop-color="#ff00e7"/><stop offset="0.6381" stop-color="#f0c"/><stop offset="0.7373" stop-color="#ff00b4"/><stop offset="1" stop-color="#f08"/></linearGradient>
<linearGradient id="c286" gradientUnits="userSpaceOnUse" x1="659" x2="1395"><stop offset="0" stop-color="#009cff"/><stop offset="0.2568" stop-color="#0081ff"/><stop offset="0.2595" stop-color="#2081ff"/><stop offset="0.2609" stop-color="#2980ff"/><stop offset="0.269" stop-color="#457fff"/><stop offset="0.2853" stop-color="#647dff"/><stop offset="0.3098" stop-color="#8279ff"/><stop offset="0.3438" stop-color="#a073ff"/><stop offset="0.3872" stop-color="#bf69ff"/><stop offset="0.4565" stop-color="#e656ff"/><stop offset="0.5054" stop-color="#ff41ff"/><stop offset="0.5408" stop-color="#ff22ef"/><stop offset="0.5489" stop-color="#ff12ec"/><stop offset="0.5516" stop-color="#ff00eb"/><stop offset="0.6345" stop-color="#ff00cf"/><stop offset="0.7337" stop-color="#ff00b7"/><stop offset="1" stop-color="#ff008a"/></linearGradient>
<linearGradient id="c287" gradientUnits="userSpaceOnUse" x1="661" x2="1386"><stop offset="0" stop-color="#009bff"/><stop offset="0.2566" stop-color="#007fff"/><stop offset="0.2579" stop-color="#1b7fff"/><stop offset="0.2593" stop-color="#267fff"/><stop offset="0.2634" stop-color="#387eff"/><stop offset="0.269" stop-color="#477dff"/><stop offset="0.2855" stop-color="#657bff"/><stop offset="0.3103" stop-color="#8277ff"/><stop offset="0.3448" stop-color="#a070ff"/><stop offset="0.3876" stop-color="#be67ff"/><stop offset="0.4593" stop-color="#e653ff"/><stop offset="0.509" stop-color="#ff3cff"/><stop offset="0.5379" stop-color="#ff1ff2"/><stop offset="0.5448" stop-color="#ff0fef"/><stop offset="0.5462" stop-color="#ff00ef"/><stop offset="0.629" stop-color="#ff00d3"/><stop offset="0.7297" stop-color="#ff00b9"/><stop offset="1" stop-color="#ff008c"/></linearGradient>
<linearGradient id="c288" gradientUnits="userSpaceOnUse" x1="662" x2="1377"><stop offset="0" stop-color="#09f"/><stop offset="0.2559" stop-color="#007dff"/><stop offset="0.2573" stop-color="#157dff"/><stop offset="0.2601" stop-color="#2a7dff"/><stop offset="0.2685" stop-color="#467cff"/><stop offset="0.2853" stop-color="#6479ff"/><stop offset="0.3119" stop-color="#8375ff"/><stop offset="0.3469" stop-color="#a06eff"/><stop offset="0.3916" stop-color="#bf64ff"/><stop offset="0.4657" stop-color="#e74eff"/><stop offset="0.5147" stop-color="#ff34ff"/><stop offset="0.5357" stop-color="#ff1cf6"/><stop offset="0.5399" stop-color="#ff11f4"/><stop offset="0.5427" stop-color="#ff00f3"/><stop offset="0.6252" stop-color="#ff00d6"/><stop offset="0.7273" stop-color="#ff00bc"/><stop offset="1" stop-color="#ff008e"/></linearGradient>
<linearGradient id="c289" gradientUnits="userSpaceOnUse" x1="664" x2="1368"><stop offset="0" stop-color="#0097ff"/><stop offset="0.2557" stop-color="#007cff"/><stop offset="0.2571" stop-color="#1e7bff"/><stop offset="0.2585" stop-color="#277bff"/><stop offset="0.267" stop-color="#447aff"/><stop offset="0.2841" stop-color="#6377ff"/><stop offset="0.3111" stop-color="#8273ff"/><stop offset="0.3665" stop-color="#ad68ff"/><stop offset="0.4446" stop-color="#db53ff"/><stop offset="0.4886" stop-color="#f141ff"/><stop offset="0.5185" stop-color="#ff2cff"/><stop offset="0.5327" stop-color="#ff18f9"/><stop offset="0.5355" stop-color="#ff0ef8"/><stop offset="0.5369" stop-color="#ff00f7"/><stop offset="0.6207" stop-color="#ff00d9"/><stop offset="0.723" stop-color="#ff00bf"/><stop offset="1" stop-color="#ff0090"/></linearGradient>
<linearGradient id="c290" gradientUnits="userSpaceOnUse" x1="665" x2="1359"><stop offset="0" stop-color="#0096ff"/><stop offset="0.255" stop-color="#007aff"/><stop offset="0.2565" stop-color="#187aff"/><stop offset="0.2579" stop-color="#2479ff"/><stop offset="0.2622" stop-color="#3679ff"/><stop offset="0.268" stop-color="#4678ff"/><stop offset="0.2853" stop-color="#6475ff"/><stop offset="0.3127" stop-color="#8270ff"/><stop offset="0.3718" stop-color="#af65ff"/><stop offset="0.4568" stop-color="#df4cff"/><stop offset="0.5" stop-color="#f437ff"/><stop offset="0.5245" stop-color="#ff1fff"/><stop offset="0.5303" stop-color="#ff11fc"/><stop offset="0.5331" stop-color="#ff00fb"/><stop offset="0.6167" stop-color="#f0d"/><stop offset="0.7205" stop-color="#ff00c2"/><stop offset="0.8458" stop-color="#ff00a9"/><stop offset="1" stop-color="#ff0092"/></linearGradient>
<linearGradient id="c291" gradientUnits="userSpaceOnUse" x1="667" x2="1350"><stop offset="0" stop-color="#0094ff"/><stop offset="0.2533" stop-color="#0078ff"/><stop offset="0.2562" stop-color="#2078ff"/><stop offset="0.2577" stop-color="#2877ff"/><stop offset="0.2621" stop-color="#3977ff"/><stop offset="0.2679" stop-color="#4876ff"/><stop offset="0.2855" stop-color="#6573ff"/><stop offset="0.3119" stop-color="#816eff"/><stop offset="0.3792" stop-color="#b361ff"/><stop offset="0.4363" stop-color="#d350ff"/><stop offset="0.4788" stop-color="#e83fff"/><stop offset="0.5154" stop-color="#f924ff"/><stop offset="0.5227" stop-color="#fc17ff"/><stop offset="0.5256" stop-color="#fe0dff"/><stop offset="0.5271" stop-color="#fe00ff"/><stop offset="0.5286" stop-color="#f0f"/><stop offset="0.6135" stop-color="#ff00e0"/><stop offset="0.7174" stop-color="#ff00c4"/><stop offset="0.8448" stop-color="#ff00ab"/><stop offset="1" stop-color="#ff0094"/></linearGradient>
<linearGradient id="c292" gradientUnits="userSpaceOnUse" x1="668" x2="1341"><stop offset="0" stop-color="#0093ff"/><stop offset="0.2541" stop-color="#0076ff"/><stop offset="0.2556" stop-color="#1b76ff"/><stop offset="0.2571" stop-color="#2576ff"/><stop offset="0.2615" stop-color="#3775ff"/><stop offset="0.2675" stop-color="#4674ff"/><stop offset="0.2853" stop-color="#6371ff"/><stop offset="0.3135" stop-color="#826cff"/><stop offset="0.3774" stop-color="#b15fff"/><stop offset="0.471" stop-color="#e240ff"/><stop offset="0.5097" stop-color="#f424ff"/><stop offset="0.5186" stop-color="#f815ff"/><stop offset="0.523" stop-color="#fa00ff"/><stop offset="0.5349" stop-color="#f0f"/><stop offset="0.6196" stop-color="#ff00e0"/><stop offset="0.7221" stop-color="#ff00c5"/><stop offset="0.847" stop-color="#ff00ad"/><stop offset="1" stop-color="#ff0096"/></linearGradient>
<linearGradient id="c293" gradientUnits="userSpaceOnUse" x1="670" x2="1332"><stop offset="0" stop-color="#0091ff"/><stop offset="0.2523" stop-color="#0074ff"/><stop offset="0.2538" stop-color="#1474ff"/><stop offset="0.2568" stop-color="#2974ff"/><stop offset="0.2674" stop-color="#4872ff"/><stop offset="0.287" stop-color="#666fff"/><stop offset="0.3142" stop-color="#826aff"/><stop offset="0.3761" stop-color="#af5dff"/><stop offset="0.4637" stop-color="#dd40ff"/><stop offset="0.4879" stop-color="#e832ff"/><stop offset="0.5045" stop-color="#f023ff"/><stop offset="0.5136" stop-color="#f412ff"/><stop offset="0.5166" stop-color="#f500ff"/><stop offset="0.5393" stop-color="#f0f"/><stop offset="0.6254" stop-color="#ff00e1"/><stop offset="0.7266" stop-color="#ff00c7"/><stop offset="1" stop-color="#ff0098"/></linearGradient>
<linearGradient id="c294" gradientUnits="userSpaceOnUse" x1="671" x2="1323"><stop offset="0" stop-color="#008fff"/><stop offset="0.2531" stop-color="#0072ff"/><stop offset="0.2546" stop-color="#1d72ff"/><stop offset="0.2561" stop-color="#2672ff"/><stop offset="0.2607" stop-color="#3871ff"/><stop offset="0.2669" stop-color="#4670ff"/><stop offset="0.2868" stop-color="#656dff"/><stop offset="0.3144" stop-color="#8168ff"/><stop offset="0.3727" stop-color="#ab5bff"/><stop offset="0.454" stop-color="#d741ff"/><stop offset="0.4801" stop-color="#e333ff"/><stop offset="0.4985" stop-color="#eb24ff"/><stop offset="0.5077" stop-color="#ef14ff"/><stop offset="0.5092" stop-color="#f00fff"/><stop offset="0.5107" stop-color="#f000ff"/><stop offset="0.546" stop-color="#f0f"/><stop offset="0.6288" stop-color="#ff00e2"/><stop offset="0.7301" stop-color="#ff00c8"/><stop offset="1" stop-color="#ff009a"/></linearGradient>
<linearGradient id="c295" gradientUnits="userSpaceOnUse" x1="673" x2="1314"><stop offset="0" stop-color="#008dff"/><stop offset="0.2512" stop-color="#0070ff"/><stop offset="0.2527" stop-color="#1770ff"/><stop offset="0.2543" stop-color="#2370ff"/><stop offset="0.259" stop-color="#366fff"/><stop offset="0.2652" stop-color="#456eff"/><stop offset="0.2855" stop-color="#646bff"/><stop offset="0.3151" stop-color="#8265ff"/><stop offset="0.3697" stop-color="#a95aff"/><stop offset="0.4462" stop-color="#d141ff"/><stop offset="0.4727" stop-color="#de33ff"/><stop offset="0.4914" stop-color="#e624ff"/><stop offset="0.5008" stop-color="#ea16ff"/><stop offset="0.5055" stop-color="#ec00ff"/><stop offset="0.5507" stop-color="#f0f"/><stop offset="0.6349" stop-color="#ff00e2"/><stop offset="0.7348" stop-color="#ff00c9"/><stop offset="1" stop-color="#ff009c"/></linearGradient>
<linearGradient id="c296" gradientUnits="userSpaceOnUse" x1="674" x2="1305"><stop offset="0" stop-color="#008cff"/><stop offset="0.2504" stop-color="#006fff"/><stop offset="0.2536" stop-color="#1f6eff"/><stop offset="0.2552" stop-color="#286eff"/><stop offset="0.2599" stop-color="#386dff"/><stop offset="0.2662" stop-color="#476cff"/><stop offset="0.2868" stop-color="#6569ff"/><stop offset="0.317" stop-color="#8263ff"/><stop offset="0.3756" stop-color="#ab56ff"/><stop offset="0.458" stop-color="#d538ff"/><stop offset="0.4897" stop-color="#e31fff"/><stop offset="0.496" stop-color="#e613ff"/><stop offset="0.4976" stop-color="#e60eff"/><stop offset="0.4992" stop-color="#e700ff"/><stop offset="0.5578" stop-color="#f0f"/><stop offset="0.6403" stop-color="#ff00e3"/><stop offset="0.7401" stop-color="#ff00ca"/><stop offset="1" stop-color="#ff009e"/></linearGradient>
<linearGradient id="c297" gradientUnits="userSpaceOnUse" x1="676" x2="1296"><stop offset="0" stop-color="#008aff"/><stop offset="0.25" stop-color="#006dff"/><stop offset="0.2516" stop-color="#1a6cff"/><stop offset="0.2532" stop-color="#246cff"/><stop offset="0.2581" stop-color="#366bff"/><stop offset="0.2645" stop-color="#456aff"/><stop offset="0.2855" stop-color="#6467ff"/><stop offset="0.3161" stop-color="#8261ff"/><stop offset="0.3742" stop-color="#a953ff"/><stop offset="0.4532" stop-color="#d136ff"/><stop offset="0.4839" stop-color="#df1eff"/><stop offset="0.4903" stop-color="#e110ff"/><stop offset="0.4935" stop-color="#e300ff"/><stop offset="0.5629" stop-color="#f0f"/><stop offset="0.6468" stop-color="#ff00e4"/><stop offset="0.7452" stop-color="#ff00cb"/><stop offset="1" stop-color="#ff00a0"/></linearGradient>
<linearGradient id="c298" gradientUnits="userSpaceOnUse" x1="677" x2="1286"><stop offset="0" stop-color="#08f"/><stop offset="0.2496" stop-color="#006bff"/><stop offset="0.2512" stop-color="#136aff"/><stop offset="0.2545" stop-color="#296aff"/><stop offset="0.266" stop-color="#4768ff"/><stop offset="0.2874" stop-color="#6564ff"/><stop offset="0.3186" stop-color="#825eff"/><stop offset="0.3744" stop-color="#a751ff"/><stop offset="0.4499" stop-color="#cd35ff"/><stop offset="0.4795" stop-color="#da1cff"/><stop offset="0.4844" stop-color="#dc12ff"/><stop offset="0.486" stop-color="#dd0dff"/><stop offset="0.4877" stop-color="#de00ff"/><stop offset="0.5714" stop-color="#f0f"/><stop offset="0.6519" stop-color="#ff00e5"/><stop offset="0.7488" stop-color="#ff00cd"/><stop offset="1" stop-color="#ff00a3"/></linearGradient>
<linearGradient id="c299" gradientUnits="userSpaceOnUse" x1="679" x2="1277"><stop offset="0" stop-color="#0086ff"/><stop offset="0.2492" stop-color="#0068ff"/><stop offset="0.2508" stop-color="#1c68ff"/><stop offset="0.2525" stop-color="#2668ff"/><stop offset="0.2575" stop-color="#3767ff"/><stop offset="0.2642" stop-color="#4666ff"/><stop offset="0.286" stop-color="#6462ff"/><stop offset="0.3177" stop-color="#815cff"/><stop offset="0.3712" stop-color="#a44fff"/><stop offset="0.4431" stop-color="#c934ff"/><stop offset="0.4716" stop-color="#d51dff"/><stop offset="0.4783" stop-color="#d80fff"/><stop offset="0.4799" stop-color="#d904ff"/><stop offset="0.4816" stop-color="#da00ff"/><stop offset="0.5769" stop-color="#f0f"/><stop offset="0.6605" stop-color="#ff00e5"/><stop offset="0.7559" stop-color="#ff00ce"/><stop offset="1" stop-color="#ff00a5"/></linearGradient>
<linearGradient id="c300" gradientUnits="userSpaceOnUse" x1="681" x2="1268"><stop offset="0" stop-color="#0084ff"/><stop offset="0.247" stop-color="#0067ff"/><stop offset="0.2487" stop-color="#1766ff"/><stop offset="0.2521" stop-color="#2a66ff"/><stop offset="0.2641" stop-color="#4764ff"/><stop offset="0.2862" stop-color="#6560ff"/><stop offset="0.3186" stop-color="#8259ff"/><stop offset="0.3901" stop-color="#ae46ff"/><stop offset="0.4378" stop-color="#c532ff"/><stop offset="0.4651" stop-color="#d11cff"/><stop offset="0.4702" stop-color="#d312ff"/><stop offset="0.4736" stop-color="#d400ff"/><stop offset="0.5843" stop-color="#f0f"/><stop offset="0.6644" stop-color="#ff00e6"/><stop offset="0.7598" stop-color="#ff00cf"/><stop offset="1" stop-color="#ff00a7"/></linearGradient>
<linearGradient id="c301" gradientUnits="userSpaceOnUse" x1="682" x2="1259"><stop offset="0" stop-color="#0082ff"/><stop offset="0.2461" stop-color="#0065ff"/><stop offset="0.2496" stop-color="#1e64ff"/><stop offset="0.2513" stop-color="#2764ff"/><stop offset="0.2565" stop-color="#3763ff"/><stop offset="0.2634" stop-color="#4662ff"/><stop offset="0.286" stop-color="#645dff"/><stop offset="0.3206" stop-color="#8256ff"/><stop offset="0.3882" stop-color="#ab44ff"/><stop offset="0.4333" stop-color="#c131ff"/><stop offset="0.4593" stop-color="#cc1aff"/><stop offset="0.4645" stop-color="#cf0eff"/><stop offset="0.4662" stop-color="#cf00ff"/><stop offset="0.591" stop-color="#f0f"/><stop offset="0.766" stop-color="#ff00d0"/><stop offset="1" stop-color="#f0a"/></linearGradient>
<linearGradient id="c302" gradientUnits="userSpaceOnUse" x1="684" x2="1250"><stop offset="0" stop-color="#0080ff"/><stop offset="0.2456" stop-color="#0062ff"/><stop offset="0.2473" stop-color="#1962ff"/><stop offset="0.2491" stop-color="#2462ff"/><stop offset="0.2544" stop-color="#3661ff"/><stop offset="0.2615" stop-color="#445fff"/><stop offset="0.2845" stop-color="#635bff"/><stop offset="0.3198" stop-color="#8154ff"/><stop offset="0.3834" stop-color="#a842ff"/><stop offset="0.4276" stop-color="#bd2fff"/><stop offset="0.4505" stop-color="#c71bff"/><stop offset="0.4558" stop-color="#c911ff"/><stop offset="0.4594" stop-color="#cb00ff"/><stop offset="0.5989" stop-color="#f0f"/><stop offset="0.7703" stop-color="#ff00d2"/><stop offset="1" stop-color="#ff00ac"/></linearGradient>
<linearGradient id="c303" gradientUnits="userSpaceOnUse" x1="685" x2="1241"><stop offset="0" stop-color="#007eff"/><stop offset="0.2446" stop-color="#0060ff"/><stop offset="0.2482" stop-color="#2060ff"/><stop offset="0.25" stop-color="#285fff"/><stop offset="0.2626" stop-color="#465dff"/><stop offset="0.286" stop-color="#6459ff"/><stop offset="0.3219" stop-color="#8251ff"/><stop offset="0.3813" stop-color="#a540ff"/><stop offset="0.4227" stop-color="#b92dff"/><stop offset="0.4442" stop-color="#c319ff"/><stop offset="0.4496" stop-color="#c50dff"/><stop offset="0.4514" stop-color="#c600ff"/><stop offset="0.6061" stop-color="#f0f"/><stop offset="0.777" stop-color="#ff00d3"/><stop offset="1" stop-color="#ff00ae"/></linearGradient>
<linearGradient id="c304" gradientUnits="userSpaceOnUse" x1="687" x2="1232"><stop offset="0" stop-color="#007cff"/><stop offset="0.244" stop-color="#005eff"/><stop offset="0.2459" stop-color="#1c5dff"/><stop offset="0.2477" stop-color="#255dff"/><stop offset="0.2532" stop-color="#365cff"/><stop offset="0.2606" stop-color="#455bff"/><stop offset="0.2844" stop-color="#6356ff"/><stop offset="0.3211" stop-color="#814eff"/><stop offset="0.3761" stop-color="#a23eff"/><stop offset="0.4147" stop-color="#b42cff"/><stop offset="0.4367" stop-color="#be18ff"/><stop offset="0.4404" stop-color="#bf10ff"/><stop offset="0.444" stop-color="#c100ff"/><stop offset="0.6147" stop-color="#f0f"/><stop offset="0.7798" stop-color="#ff00d5"/><stop offset="1" stop-color="#ff00b1"/></linearGradient>
<linearGradient id="c305" gradientUnits="userSpaceOnUse" x1="689" x2="1223"><stop offset="0" stop-color="#007aff"/><stop offset="0.2416" stop-color="#005cff"/><stop offset="0.2434" stop-color="#165bff"/><stop offset="0.2472" stop-color="#295bff"/><stop offset="0.2603" stop-color="#4658ff"/><stop offset="0.2846" stop-color="#6453ff"/><stop offset="0.3221" stop-color="#814bff"/><stop offset="0.3727" stop-color="#9f3bff"/><stop offset="0.4082" stop-color="#b02aff"/><stop offset="0.427" stop-color="#b819ff"/><stop offset="0.4326" stop-color="#bb0cff"/><stop offset="0.4345" stop-color="#b0f"/><stop offset="0.6217" stop-color="#f0f"/><stop offset="0.7865" stop-color="#ff00d6"/><stop offset="1" stop-color="#ff00b3"/></linearGradient>
<linearGradient id="c306" gradientUnits="userSpaceOnUse" x1="690" x2="1214"><stop offset="0" stop-color="#0078ff"/><stop offset="0.2405" stop-color="#0059ff"/><stop offset="0.2443" stop-color="#1e59ff"/><stop offset="0.2462" stop-color="#2658ff"/><stop offset="0.2519" stop-color="#3757ff"/><stop offset="0.2615" stop-color="#4855ff"/><stop offset="0.2863" stop-color="#6550ff"/><stop offset="0.3244" stop-color="#8247ff"/><stop offset="0.3702" stop-color="#9c38ff"/><stop offset="0.4027" stop-color="#ac28ff"/><stop offset="0.4198" stop-color="#b317ff"/><stop offset="0.4237" stop-color="#b50fff"/><stop offset="0.4256" stop-color="#b600ff"/><stop offset="0.6317" stop-color="#f0f"/><stop offset="0.792" stop-color="#ff00d8"/><stop offset="1" stop-color="#ff00b6"/></linearGradient>
<linearGradient id="c307" gradientUnits="userSpaceOnUse" x1="692" x2="1205"><stop offset="0" stop-color="#0076ff"/><stop offset="0.2398" stop-color="#0057ff"/><stop offset="0.2417" stop-color="#1956ff"/><stop offset="0.2456" stop-color="#2a56ff"/><stop offset="0.2593" stop-color="#4753ff"/><stop offset="0.2846" stop-color="#644eff"/><stop offset="0.3236" stop-color="#8144ff"/><stop offset="0.3665" stop-color="#9935ff"/><stop offset="0.3957" stop-color="#a825ff"/><stop offset="0.4113" stop-color="#ae15ff"/><stop offset="0.4152" stop-color="#b00aff"/><stop offset="0.4172" stop-color="#b100ff"/><stop offset="0.5146" stop-color="#d600ff"/><stop offset="0.6394" stop-color="#f0f"/><stop offset="0.7992" stop-color="#ff00d9"/><stop offset="1" stop-color="#ff00b8"/></linearGradient>
<linearGradient id="c308" gradientUnits="userSpaceOnUse" x1="694" x2="1196"><stop offset="0" stop-color="#0074ff"/><stop offset="0.2371" stop-color="#0054ff"/><stop offset="0.241" stop-color="#2054ff"/><stop offset="0.243" stop-color="#2853ff"/><stop offset="0.257" stop-color="#4550ff"/><stop offset="0.2849" stop-color="#644aff"/><stop offset="0.3247" stop-color="#8140ff"/><stop offset="0.3625" stop-color="#9732ff"/><stop offset="0.3884" stop-color="#a323ff"/><stop offset="0.4024" stop-color="#a913ff"/><stop offset="0.4044" stop-color="#aa0eff"/><stop offset="0.4064" stop-color="#ab00ff"/><stop offset="0.512" stop-color="#d400ff"/><stop offset="0.6494" stop-color="#f0f"/><stop offset="0.8048" stop-color="#ff00da"/><stop offset="1" stop-color="#f0b"/></linearGradient>
<linearGradient id="c309" gradientUnits="userSpaceOnUse" x1="696" x2="1187"><stop offset="0" stop-color="#0071ff"/><stop offset="0.2363" stop-color="#0051ff"/><stop offset="0.2383" stop-color="#1b51ff"/><stop offset="0.2403" stop-color="#2551ff"/><stop offset="0.2464" stop-color="#354fff"/><stop offset="0.2566" stop-color="#474dff"/><stop offset="0.2851" stop-color="#6547ff"/><stop offset="0.3259" stop-color="#823bff"/><stop offset="0.3585" stop-color="#942eff"/><stop offset="0.3809" stop-color="#9f20ff"/><stop offset="0.391" stop-color="#a314ff"/><stop offset="0.3971" stop-color="#a600ff"/><stop offset="0.5092" stop-color="#d100ff"/><stop offset="0.6578" stop-color="#f0f"/><stop offset="0.8126" stop-color="#ff00db"/><stop offset="1" stop-color="#ff00bd"/></linearGradient>
<linearGradient id="c310" gradientUnits="userSpaceOnUse" x1="697" x2="1178"><stop offset="0" stop-color="#006fff"/><stop offset="0.2349" stop-color="#004fff"/><stop offset="0.237" stop-color="#154eff"/><stop offset="0.2412" stop-color="#294eff"/><stop offset="0.2557" stop-color="#464bff"/><stop offset="0.2848" stop-color="#6444ff"/><stop offset="0.3264" stop-color="#8137ff"/><stop offset="0.3721" stop-color="#991fff"/><stop offset="0.3825" stop-color="#9e12ff"/><stop offset="0.3846" stop-color="#9f0dff"/><stop offset="0.3867" stop-color="#a000ff"/><stop offset="0.5052" stop-color="#cd00ff"/><stop offset="0.6694" stop-color="#f0f"/><stop offset="0.817" stop-color="#f0d"/><stop offset="1" stop-color="#ff00c0"/></linearGradient>
<linearGradient id="c311" gradientUnits="userSpaceOnUse" x1="699" x2="1169"><stop offset="0" stop-color="#006dff"/><stop offset="0.2319" stop-color="#004cff"/><stop offset="0.234" stop-color="#0b4cff"/><stop offset="0.2362" stop-color="#1d4bff"/><stop offset="0.2383" stop-color="#264bff"/><stop offset="0.2447" stop-color="#364aff"/><stop offset="0.2553" stop-color="#4747ff"/><stop offset="0.2851" stop-color="#6540ff"/><stop offset="0.3277" stop-color="#8232ff"/><stop offset="0.3638" stop-color="#941cff"/><stop offset="0.3723" stop-color="#980fff"/><stop offset="0.3766" stop-color="#9a00ff"/><stop offset="0.5021" stop-color="#ca00ff"/><stop offset="0.6787" stop-color="#f0f"/><stop offset="0.8255" stop-color="#ff00df"/><stop offset="1" stop-color="#ff00c3"/></linearGradient>
<linearGradient id="c312" gradientUnits="userSpaceOnUse" x1="701" x2="1160"><stop offset="0" stop-color="#006aff"/><stop offset="0.2309" stop-color="#0049ff"/><stop offset="0.2331" stop-color="#1849ff"/><stop offset="0.2375" stop-color="#2a48ff"/><stop offset="0.2527" stop-color="#4644ff"/><stop offset="0.2832" stop-color="#643cff"/><stop offset="0.329" stop-color="#822bff"/><stop offset="0.3551" stop-color="#8f18ff"/><stop offset="0.3617" stop-color="#930bff"/><stop offset="0.3638" stop-color="#9400ff"/><stop offset="0.4989" stop-color="#c700ff"/><stop offset="0.6906" stop-color="#f0f"/><stop offset="0.8322" stop-color="#ff00e0"/><stop offset="1" stop-color="#ff00c5"/></linearGradient>
<linearGradient id="c313" gradientUnits="userSpaceOnUse" x1="703" x2="1151"><stop offset="0" stop-color="#0068ff"/><stop offset="0.1295" stop-color="#0058ff"/><stop offset="0.2277" stop-color="#0046ff"/><stop offset="0.2321" stop-color="#1f45ff"/><stop offset="0.2344" stop-color="#2745ff"/><stop offset="0.2411" stop-color="#3743ff"/><stop offset="0.2522" stop-color="#4740ff"/><stop offset="0.2835" stop-color="#6537ff"/><stop offset="0.3281" stop-color="#8124ff"/><stop offset="0.346" stop-color="#8a13ff"/><stop offset="0.3482" stop-color="#8c0eff"/><stop offset="0.3504" stop-color="#8d00ff"/><stop offset="0.4911" stop-color="#c300ff"/><stop offset="0.6964" stop-color="#fd00ff"/><stop offset="0.8482" stop-color="#ff00e0"/><stop offset="1" stop-color="#ff00c8"/></linearGradient>
<linearGradient id="c314" gradientUnits="userSpaceOnUse" x1="704" x2="1142"><stop offset="0" stop-color="#0065ff"/><stop offset="0.1301" stop-color="#05f"/><stop offset="0.2283" stop-color="#0042ff"/><stop offset="0.2306" stop-color="#1b42ff"/><stop offset="0.2329" stop-color="#2441ff"/><stop offset="0.2397" stop-color="#3540ff"/><stop offset="0.2489" stop-color="#433dff"/><stop offset="0.2785" stop-color="#6134ff"/><stop offset="0.3219" stop-color="#7d20ff"/><stop offset="0.3356" stop-color="#8410ff"/><stop offset="0.3402" stop-color="#8600ff"/><stop offset="0.4749" stop-color="#bc00ff"/><stop offset="0.6735" stop-color="#f400ff"/><stop offset="0.7169" stop-color="#f0f"/><stop offset="0.8447" stop-color="#ff00e4"/><stop offset="1" stop-color="#ff00cb"/></linearGradient>
<linearGradient id="c315" gradientUnits="userSpaceOnUse" x1="706" x2="1133"><stop offset="0" stop-color="#0062ff"/><stop offset="0.1288" stop-color="#0052ff"/><stop offset="0.2248" stop-color="#003fff"/><stop offset="0.2272" stop-color="#153fff"/><stop offset="0.2319" stop-color="#283dff"/><stop offset="0.2459" stop-color="#423aff"/><stop offset="0.274" stop-color="#5e31ff"/><stop offset="0.2998" stop-color="#7025ff"/><stop offset="0.3162" stop-color="#7918ff"/><stop offset="0.3232" stop-color="#7d0dff"/><stop offset="0.3255" stop-color="#7e00ff"/><stop offset="0.4543" stop-color="#b300ff"/><stop offset="0.6487" stop-color="#eb00ff"/><stop offset="0.7283" stop-color="#f0f"/><stop offset="0.8525" stop-color="#ff00e5"/><stop offset="1" stop-color="#ff00ce"/></linearGradient>
<linearGradient id="c316" gradientUnits="userSpaceOnUse" x1="708" x2="1124"><stop offset="0" stop-color="#0060ff"/><stop offset="0.1274" stop-color="#004fff"/><stop offset="0.2212" stop-color="#003cff"/><stop offset="0.2236" stop-color="#093bff"/><stop offset="0.226" stop-color="#1d3aff"/><stop offset="0.2284" stop-color="#253aff"/><stop offset="0.2428" stop-color="#4035ff"/><stop offset="0.262" stop-color="#552fff"/><stop offset="0.2909" stop-color="#6a21ff"/><stop offset="0.3053" stop-color="#7314ff"/><stop offset="0.3101" stop-color="#7608ff"/><stop offset="0.3125" stop-color="#70f"/><stop offset="0.4351" stop-color="#ab00ff"/><stop offset="0.6274" stop-color="#e300ff"/><stop offset="0.7428" stop-color="#f0f"/><stop offset="1" stop-color="#ff00d1"/></linearGradient>
<linearGradient id="c317" gradientUnits="userSpaceOnUse" x1="710" x2="1115"><stop offset="0" stop-color="#005dff"/><stop offset="0.1284" stop-color="#004bff"/><stop offset="0.2198" stop-color="#0037ff"/><stop offset="0.2222" stop-color="#1836ff"/><stop offset="0.2247" stop-color="#2236ff"/><stop offset="0.237" stop-color="#3b32ff"/><stop offset="0.2543" stop-color="#4f2bff"/><stop offset="0.2815" stop-color="#651cff"/><stop offset="0.2914" stop-color="#6b11ff"/><stop offset="0.2938" stop-color="#6d0cff"/><stop offset="0.2963" stop-color="#6e00ff"/><stop offset="0.3679" stop-color="#9100ff"/><stop offset="0.4667" stop-color="#b400ff"/><stop offset="0.5951" stop-color="#d900ff"/><stop offset="0.7556" stop-color="#f0f"/><stop offset="1" stop-color="#ff00d4"/></linearGradient>
<linearGradient id="c318" gradientUnits="userSpaceOnUse" x1="712" x2="1106"><stop offset="0" stop-color="#0059ff"/><stop offset="0.1269" stop-color="#0047ff"/><stop offset="0.2157" stop-color="#03f"/><stop offset="0.2208" stop-color="#1e31ff"/><stop offset="0.231" stop-color="#362dff"/><stop offset="0.2462" stop-color="#4927ff"/><stop offset="0.269" stop-color="#5d19ff"/><stop offset="0.2766" stop-color="#620fff"/><stop offset="0.2817" stop-color="#60f"/><stop offset="0.3528" stop-color="#8a00ff"/><stop offset="0.4569" stop-color="#b000ff"/><stop offset="0.5939" stop-color="#d600ff"/><stop offset="0.769" stop-color="#f0f"/><stop offset="1" stop-color="#ff00d7"/></linearGradient>
<linearGradient id="c319" gradientUnits="userSpaceOnUse" x1="714" x2="1097"><stop offset="0" stop-color="#0056ff"/><stop offset="0.1305" stop-color="#0042ff"/><stop offset="0.2141" stop-color="#002dff"/><stop offset="0.2167" stop-color="#1a2cff"/><stop offset="0.2245" stop-color="#2f29ff"/><stop offset="0.2376" stop-color="#4222ff"/><stop offset="0.2533" stop-color="#5217ff"/><stop offset="0.2585" stop-color="#5611ff"/><stop offset="0.2637" stop-color="#5a00ff"/><stop offset="0.3264" stop-color="#7e00ff"/><stop offset="0.4178" stop-color="#a100ff"/><stop offset="0.5405" stop-color="#c600ff"/><stop offset="0.6971" stop-color="#ec00ff"/><stop offset="0.7859" stop-color="#f0f"/><stop offset="1" stop-color="#ff00da"/></linearGradient>
<linearGradient id="c320" gradientUnits="userSpaceOnUse" x1="716" x2="1088"><stop offset="0" stop-color="#0053ff"/><stop offset="0.129" stop-color="#003eff"/><stop offset="0.2097" stop-color="#0027ff"/><stop offset="0.2124" stop-color="#1426ff"/><stop offset="0.2177" stop-color="#2823ff"/><stop offset="0.2258" stop-color="#361eff"/><stop offset="0.2392" stop-color="#4712ff"/><stop offset="0.2419" stop-color="#490eff"/><stop offset="0.2446" stop-color="#4c00ff"/><stop offset="0.2957" stop-color="#6f00ff"/><stop offset="0.371" stop-color="#9000ff"/><stop offset="0.4758" stop-color="#b200ff"/><stop offset="0.6129" stop-color="#d600ff"/><stop offset="0.8038" stop-color="#f0f"/><stop offset="1" stop-color="#ff00de"/></linearGradient>
<linearGradient id="c321" gradientUnits="userSpaceOnUse" x1="718" x2="1079"><stop offset="0" stop-color="#004fff"/><stop offset="0.133" stop-color="#0038ff"/><stop offset="0.205" stop-color="#001fff"/><stop offset="0.2078" stop-color="#081dff"/><stop offset="0.2105" stop-color="#1c1bff"/><stop offset="0.2133" stop-color="#2519ff"/><stop offset="0.2216" stop-color="#3510ff"/><stop offset="0.2271" stop-color="#3c00ff"/><stop offset="0.2687" stop-color="#6000ff"/><stop offset="0.3324" stop-color="#8000ff"/><stop offset="0.4238" stop-color="#a100ff"/><stop offset="0.5457" stop-color="#c300ff"/><stop offset="0.8199" stop-color="#f0f"/><stop offset="1" stop-color="#ff00e1"/></linearGradient>
<linearGradient id="c322" gradientUnits="userSpaceOnUse" x1="721" x2="1070"><stop offset="0" stop-color="#004bff"/><stop offset="0.0946" stop-color="#003bff"/><stop offset="0.1576" stop-color="#002aff"/><stop offset="0.1862" stop-color="#001cff"/><stop offset="0.2006" stop-color="#000dff"/><stop offset="0.2034" stop-color="#1700ff"/><stop offset="0.2092" stop-color="#2900ff"/><stop offset="0.2235" stop-color="#3e00ff"/><stop offset="0.2693" stop-color="#6200ff"/><stop offset="0.341" stop-color="#8400ff"/><stop offset="0.4441" stop-color="#a600ff"/><stop offset="0.6132" stop-color="#d100ff"/><stop offset="0.8367" stop-color="#f0f"/><stop offset="1" stop-color="#ff00e5"/></linearGradient>
<linearGradient id="c323" gradientUnits="userSpaceOnUse" x1="723" x2="1061"><stop offset="0" stop-color="#0046ff"/><stop offset="0.0858" stop-color="#0037ff"/><stop offset="0.142" stop-color="#0027ff"/><stop offset="0.1716" stop-color="#0016ff"/><stop offset="0.1775" stop-color="#000fff"/><stop offset="0.1834" stop-color="#00f"/><stop offset="0.1953" stop-color="#00f"/><stop offset="0.2012" stop-color="#1e00ff"/><stop offset="0.2101" stop-color="#3100ff"/><stop offset="0.2249" stop-color="#4300ff"/><stop offset="0.2456" stop-color="#5400ff"/><stop offset="0.3077" stop-color="#7600ff"/><stop offset="0.4024" stop-color="#9800ff"/><stop offset="0.5917" stop-color="#ca00ff"/><stop offset="0.858" stop-color="#f0f"/><stop offset="1" stop-color="#ff00e8"/></linearGradient>
<linearGradient id="c324" gradientUnits="userSpaceOnUse" x1="725" x2="1052"><stop offset="0" stop-color="#0042ff"/><stop offset="0.0734" stop-color="#0034ff"/><stop offset="0.1223" stop-color="#0025ff"/><stop offset="0.1498" stop-color="#0014ff"/><stop offset="0.156" stop-color="#000bff"/><stop offset="0.159" stop-color="#00f"/><stop offset="0.1927" stop-color="#00f"/><stop offset="0.1957" stop-color="#1900ff"/><stop offset="0.2049" stop-color="#2f00ff"/><stop offset="0.2232" stop-color="#40f"/><stop offset="0.2508" stop-color="#5900ff"/><stop offset="0.315" stop-color="#7900ff"/><stop offset="0.4037" stop-color="#9800ff"/><stop offset="0.5994" stop-color="#c900ff"/><stop offset="0.8777" stop-color="#f0f"/><stop offset="1" stop-color="#ff00ec"/></linearGradient>
<linearGradient id="c325" gradientUnits="userSpaceOnUse" x1="727" x2="1043"><stop offset="0" stop-color="#003cff"/><stop offset="0.0633" stop-color="#002fff"/><stop offset="0.1044" stop-color="#0021ff"/><stop offset="0.1266" stop-color="#0012ff"/><stop offset="0.1361" stop-color="#00f"/><stop offset="0.1867" stop-color="#00f"/><stop offset="0.1899" stop-color="#1300ff"/><stop offset="0.193" stop-color="#1f00ff"/><stop offset="0.1994" stop-color="#2d00ff"/><stop offset="0.212" stop-color="#3d00ff"/><stop offset="0.2342" stop-color="#5000ff"/><stop offset="0.3006" stop-color="#7300ff"/><stop offset="0.4019" stop-color="#9600ff"/><stop offset="0.5791" stop-color="#c200ff"/><stop offset="0.8259" stop-color="#f200ff"/><stop offset="0.9019" stop-color="#f0f"/><stop offset="1" stop-color="#ff00f0"/></linearGradient>
<linearGradient id="c326" gradientUnits="userSpaceOnUse" x1="730" x2="1034"><stop offset="0" stop-color="#0036ff"/><stop offset="0.0789" stop-color="#001eff"/><stop offset="0.0987" stop-color="#0010ff"/><stop offset="0.1053" stop-color="#00f"/><stop offset="0.1776" stop-color="#00f"/><stop offset="0.1809" stop-color="#0500ff"/><stop offset="0.1842" stop-color="#1b00ff"/><stop offset="0.1941" stop-color="#3000ff"/><stop offset="0.2105" stop-color="#4200ff"/><stop offset="0.2303" stop-color="#5100ff"/><stop offset="0.2993" stop-color="#7400ff"/><stop offset="0.398" stop-color="#9400ff"/><stop offset="0.5559" stop-color="#b0f"/><stop offset="0.7632" stop-color="#e300ff"/><stop offset="0.9276" stop-color="#f0f"/><stop offset="1" stop-color="#ff00f4"/></linearGradient>
<linearGradient id="c327" gradientUnits="userSpaceOnUse" x1="732" x2="1025"><stop offset="0" stop-color="#002fff"/><stop offset="0.058" stop-color="#001aff"/><stop offset="0.0717" stop-color="#000dff"/><stop offset="0.0751" stop-color="#00f"/><stop offset="0.1741" stop-color="#00f"/><stop offset="0.1775" stop-color="#1600ff"/><stop offset="0.1877" stop-color="#2e00ff"/><stop offset="0.2048" stop-color="#4100ff"/><stop offset="0.2321" stop-color="#5400ff"/><stop offset="0.314" stop-color="#7900ff"/><stop offset="0.4334" stop-color="#9d00ff"/><stop offset="0.5768" stop-color="#bd00ff"/><stop offset="0.7543" stop-color="#df00ff"/><stop offset="0.9522" stop-color="#f0f"/><stop offset="1" stop-color="#ff00f8"/></linearGradient>
<linearGradient id="c328" gradientUnits="userSpaceOnUse" x1="735" x2="1016"><stop offset="0" stop-color="#0024ff"/><stop offset="0.032" stop-color="#0013ff"/><stop offset="0.0427" stop-color="#00f"/><stop offset="0.1637" stop-color="#00f"/><stop offset="0.1708" stop-color="#1d00ff"/><stop offset="0.1779" stop-color="#2b00ff"/><stop offset="0.1957" stop-color="#3f00ff"/><stop offset="0.2206" stop-color="#5100ff"/><stop offset="0.2989" stop-color="#7500ff"/><stop offset="0.4164" stop-color="#9800ff"/><stop offset="0.6868" stop-color="#d000ff"/><stop offset="1" stop-color="#ff00fc"/></linearGradient>
<linearGradient id="c329" gradientUnits="userSpaceOnUse" x1="737" x2="1007"><stop offset="0" stop-color="#01f"/><stop offset="0.0037" stop-color="#000cff"/><stop offset="0.0074" stop-color="#00f"/><stop offset="0.1593" stop-color="#00f"/><stop offset="0.163" stop-color="#1900ff"/><stop offset="0.1704" stop-color="#2900ff"/><stop offset="0.1852" stop-color="#3a00ff"/><stop offset="0.2111" stop-color="#4e00ff"/><stop offset="0.2889" stop-color="#7100ff"/><stop offset="0.4037" stop-color="#9300ff"/><stop offset="0.6481" stop-color="#c600ff"/><stop offset="1" stop-color="#fd00ff"/></linearGradient>
<linearGradient id="c330" gradientUnits="userSpaceOnUse" x1="740" x2="998"><stop offset="0" stop-color="#00f"/><stop offset="0.1473" stop-color="#00f"/><stop offset="0.1512" stop-color="#1300ff"/><stop offset="0.155" stop-color="#1f00ff"/><stop offset="0.1628" stop-color="#2c00ff"/><stop offset="0.1783" stop-color="#3c00ff"/><stop offset="0.2016" stop-color="#4d00ff"/><stop offset="0.2791" stop-color="#6f00ff"/><stop offset="0.3915" stop-color="#9000ff"/><stop offset="0.6395" stop-color="#c200ff"/><stop offset="1" stop-color="#f900ff"/></linearGradient>
<linearGradient id="c331" gradientUnits="userSpaceOnUse" x1="742" x2="989"><stop offset="0" stop-color="#00f"/><stop offset="0.1417" stop-color="#00f"/><stop offset="0.1457" stop-color="#1b00ff"/><stop offset="0.1538" stop-color="#2a00ff"/><stop offset="0.17" stop-color="#3b00ff"/><stop offset="0.1943" stop-color="#4c00ff"/><stop offset="0.2672" stop-color="#6c00ff"/><stop offset="0.3806" stop-color="#8c00ff"/><stop offset="0.6356" stop-color="#bf00ff"/><stop offset="1" stop-color="#f400ff"/></linearGradient>
<linearGradient id="c332" gradientUnits="userSpaceOnUse" x1="745" x2="980"><stop offset="0" stop-color="#00f"/><stop offset="0.1277" stop-color="#00f"/><stop offset="0.1319" stop-color="#1600ff"/><stop offset="0.1404" stop-color="#2700ff"/><stop offset="0.1574" stop-color="#3900ff"/><stop offset="0.183" stop-color="#4a00ff"/><stop offset="0.2553" stop-color="#6900ff"/><stop offset="0.366" stop-color="#80f"/><stop offset="0.6255" stop-color="#b0f"/><stop offset="1" stop-color="#f000ff"/></linearGradient>
<linearGradient id="c333" gradientUnits="userSpaceOnUse" x1="748" x2="971"><stop offset="0" stop-color="#00f"/><stop offset="0.1121" stop-color="#00f"/><stop offset="0.1211" stop-color="#1d00ff"/><stop offset="0.13" stop-color="#2b00ff"/><stop offset="0.1659" stop-color="#4700ff"/><stop offset="0.2377" stop-color="#60f"/><stop offset="0.3498" stop-color="#8500ff"/><stop offset="0.6143" stop-color="#b600ff"/><stop offset="1" stop-color="#eb00ff"/></linearGradient>
<linearGradient id="c334" gradientUnits="userSpaceOnUse" x1="751" x2="962"><stop offset="0" stop-color="#00f"/><stop offset="0.0995" stop-color="#00f"/><stop offset="0.1043" stop-color="#1800ff"/><stop offset="0.1137" stop-color="#2800ff"/><stop offset="0.1517" stop-color="#4600ff"/><stop offset="0.2227" stop-color="#6300ff"/><stop offset="0.3318" stop-color="#8100ff"/><stop offset="0.6019" stop-color="#b200ff"/><stop offset="1" stop-color="#e700ff"/></linearGradient>
<linearGradient id="c335" gradientUnits="userSpaceOnUse" x1="754" x2="953"><stop offset="0" stop-color="#00f"/><stop offset="0.0804" stop-color="#00f"/><stop offset="0.0854" stop-color="#1200ff"/><stop offset="0.0955" stop-color="#2600ff"/><stop offset="0.1106" stop-color="#3500ff"/><stop offset="0.1357" stop-color="#40f"/><stop offset="0.206" stop-color="#6100ff"/><stop offset="0.3116" stop-color="#7d00ff"/><stop offset="0.5879" stop-color="#ae00ff"/><stop offset="1" stop-color="#e200ff"/></linearGradient>
<linearGradient id="c336" gradientUnits="userSpaceOnUse" x1="758" x2="944"><stop offset="0" stop-color="#00f"/><stop offset="0.0591" stop-color="#00f"/><stop offset="0.0645" stop-color="#1a00ff"/><stop offset="0.0699" stop-color="#2300ff"/><stop offset="0.086" stop-color="#30f"/><stop offset="0.1075" stop-color="#4000ff"/><stop offset="0.1774" stop-color="#5d00ff"/><stop offset="0.2796" stop-color="#70f"/><stop offset="0.5699" stop-color="#a0f"/><stop offset="1" stop-color="#d0f"/></linearGradient>
<linearGradient id="c337" gradientUnits="userSpaceOnUse" x1="762" x2="935"><stop offset="0" stop-color="#00f"/><stop offset="0.0289" stop-color="#00f"/><stop offset="0.0347" stop-color="#1500ff"/><stop offset="0.0462" stop-color="#2700ff"/><stop offset="0.0636" stop-color="#3500ff"/><stop offset="0.0925" stop-color="#4500ff"/><stop offset="0.1561" stop-color="#5c00ff"/><stop offset="0.2486" stop-color="#7300ff"/><stop offset="0.5491" stop-color="#a500ff"/><stop offset="1" stop-color="#d900ff"/></linearGradient>
<linearGradient id="c338" gradientUnits="userSpaceOnUse" x1="766" x2="926"><stop offset="0" stop-color="#0d00ff"/><stop offset="0.0063" stop-color="#1c00ff"/><stop offset="0.0187" stop-color="#2a00ff"/><stop offset="0.0625" stop-color="#40f"/><stop offset="0.1375" stop-color="#5d00ff"/><stop offset="0.2375" stop-color="#7400ff"/><stop offset="0.5437" stop-color="#a300ff"/><stop offset="1" stop-color="#d400ff"/></linearGradient>
<linearGradient id="c339" gradientUnits="userSpaceOnUse" x1="770" x2="917"><stop offset="0" stop-color="#3600ff"/><stop offset="0.0476" stop-color="#4a00ff"/><stop offset="0.1156" stop-color="#5d00ff"/><stop offset="0.3129" stop-color="#8300ff"/><stop offset="0.6054" stop-color="#a800ff"/><stop offset="1" stop-color="#cf00ff"/></linearGradient>
<linearGradient id="c340" gradientUnits="userSpaceOnUse" x1="774" x2="908"><stop offset="0" stop-color="#4600ff"/><stop offset="0.1343" stop-color="#6700ff"/><stop offset="0.3433" stop-color="#80f"/><stop offset="0.6269" stop-color="#a800ff"/><stop offset="1" stop-color="#ca00ff"/></linearGradient>
<linearGradient id="c341" gradientUnits="userSpaceOnUse" x1="778" x2="899"><stop offset="0" stop-color="#5300ff"/><stop offset="0.1488" stop-color="#6f00ff"/><stop offset="0.3636" stop-color="#8b00ff"/><stop offset="1" stop-color="#c500ff"/></linearGradient>
<linearGradient id="c342" gradientUnits="userSpaceOnUse" x1="783" x2="890"><stop offset="0" stop-color="#5e00ff"/><stop offset="0.1682" stop-color="#70f"/><stop offset="0.3925" stop-color="#8f00ff"/><stop offset="1" stop-color="#c000ff"/></linearGradient>
<linearGradient id="c343" gradientUnits="userSpaceOnUse" x1="788" x2="881"><stop offset="0" stop-color="#6800ff"/><stop offset="0.4086" stop-color="#9100ff"/><stop offset="1" stop-color="#b0f"/></linearGradient>
<linearGradient id="c344" gradientUnits="userSpaceOnUse" x1="793" x2="872"><stop offset="0" stop-color="#7000ff"/><stop offset="0.4177" stop-color="#9300ff"/><stop offset="1" stop-color="#b600ff"/></linearGradient>
<linearGradient id="c345" gradientUnits="userSpaceOnUse" x1="797" x2="863"><stop offset="0" stop-color="#70f"/><stop offset="0.4394" stop-color="#9400ff"/><stop offset="1" stop-color="#b000ff"/></linearGradient>
<linearGradient id="c346" gradientUnits="userSpaceOnUse" x1="802" x2="854"><stop offset="0" stop-color="#7e00ff"/><stop offset="1" stop-color="#ab00ff"/></linearGradient>
<linearGradient id="c347" gradientUnits="userSpaceOnUse" x1="807" x2="845"><stop offset="0" stop-color="#8500ff"/><stop offset="1" stop-color="#a500ff"/></linearGradient>
<linearGradient id="c348" gradientUnits="userSpaceOnUse" x1="813" x2="836"><stop offset="0" stop-color="#8b00ff"/><stop offset="1" stop-color="#9f00ff"/></linearGradient>
<linearGradient id="c349" gradientUnits="userSpaceOnUse" x1="813" x2="836"><stop offset="0" stop-color="#8d00ff"/><stop offset="1" stop-color="#a000ff"/></linearGradient>
<linearGradient id="c350" gradientUnits="userSpaceOnUse" x1="813" x2="836"><stop offset="0" stop-color="#8d00ff"/><stop offset="1" stop-color="#a000ff"/></linearGradient>
</defs>
<g id="cie" font-family="'Liberation Serif','Times New Roman',serif">
<path d="M609.8,2788.3 V1288.0 M697.1,2788.3 V1288.0 M784.3,2788.3 V1288.0 M871.5,2788.3 V1288.0 M958.7,2788.3 V1288.0 M1046.0,2788.3 V1288.0 M1133.2,2788.3 V1288.0 M1220.4,2788.3 V1288.0 M1307.6,2788.3 V1288.0 M1394.8,2788.3 V1288.0 M1482.1,2788.3 V1288.0 M1569.3,2788.3 V1288.0 M1656.5,2788.3 V1288.0 M1743.8,2788.3 V1288.0 M1831.0,2788.3 V1288.0 M1918.2,2788.3 V1288.0 M522.6,2705.0 H1918.2 M522.6,2621.6 H1918.2 M522.6,2538.2 H1918.2 M522.6,2454.9 H1918.2 M522.6,2371.6 H1918.2 M522.6,2288.2 H1918.2 M522.6,2204.9 H1918.2 M522.6,2121.5 H1918.2 M522.6,2038.2 H1918.2 M522.6,1954.8 H1918.2 M522.6,1871.5 H1918.2 M522.6,1788.1 H1918.2 M522.6,1704.8 H1918.2 M522.6,1621.4 H1918.2 M522.6,1538.1 H1918.2 M522.6,1454.7 H1918.2 M522.6,1371.4 H1918.2 M522.6,1288.0 H1918.2 M697.1,1288.0 L1918.2,2454.9" stroke="#c9c9c9" stroke-width="3" fill="none"/>
<path d="M522.6,1286.0 V2788.3 H1920.2" stroke="#5e5e5e" stroke-width="4.6" fill="none"/>
<path d="M522.6,2788.3 v11 M697.1,2788.3 v11 M871.5,2788.3 v11 M1046.0,2788.3 v11 M1220.4,2788.3 v11 M1394.8,2788.3 v11 M1569.3,2788.3 v11 M1743.8,2788.3 v11 M1918.2,2788.3 v11 M522.6,2788.3 h-11 M522.6,2621.6 h-11 M522.6,2454.9 h-11 M522.6,2288.2 h-11 M522.6,2121.5 h-11 M522.6,1954.8 h-11 M522.6,1788.1 h-11 M522.6,1621.4 h-11 M522.6,1454.7 h-11 M522.6,1288.0 h-11" stroke="#333" stroke-width="3.2" fill="none"/>
<g fill="#2a2a2a">
<text transform="translate(520.1,2853.7) scale(1.0000,1)" font-size="59.5" text-anchor="middle">0.0</text>
<text transform="translate(694.6,2853.7) scale(1.0000,1)" font-size="59.5" text-anchor="middle">0.1</text>
<text transform="translate(869.0,2853.7) scale(1.0000,1)" font-size="59.5" text-anchor="middle">0.2</text>
<text transform="translate(1043.5,2853.7) scale(1.0000,1)" font-size="59.5" text-anchor="middle">0.3</text>
<text transform="translate(1217.9,2853.7) scale(1.0000,1)" font-size="59.5" text-anchor="middle">0.4</text>
<text transform="translate(1392.3,2853.7) scale(1.0000,1)" font-size="59.5" text-anchor="middle">0.5</text>
<text transform="translate(1566.8,2853.7) scale(1.0000,1)" font-size="59.5" text-anchor="middle">0.6</text>
<text transform="translate(1741.2,2853.7) scale(1.0000,1)" font-size="59.5" text-anchor="middle">0.7</text>
<text transform="translate(1915.7,2853.7) scale(1.0000,1)" font-size="59.5" text-anchor="middle">0.8</text>
<text transform="translate(504.5,2808.3) scale(1.0000,1)" font-size="59.5" text-anchor="end">0.0</text>
<text transform="translate(504.5,2641.6) scale(1.0000,1)" font-size="59.5" text-anchor="end">0.1</text>
<text transform="translate(504.5,2474.9) scale(1.0000,1)" font-size="59.5" text-anchor="end">0.2</text>
<text transform="translate(504.5,2308.2) scale(1.0000,1)" font-size="59.5" text-anchor="end">0.3</text>
<text transform="translate(504.5,2141.5) scale(1.0000,1)" font-size="59.5" text-anchor="end">0.4</text>
<text transform="translate(504.5,1974.8) scale(1.0000,1)" font-size="59.5" text-anchor="end">0.5</text>
<text transform="translate(504.5,1808.1) scale(1.0000,1)" font-size="59.5" text-anchor="end">0.6</text>
<text transform="translate(504.5,1641.4) scale(1.0000,1)" font-size="59.5" text-anchor="end">0.7</text>
<text transform="translate(504.5,1474.7) scale(1.0000,1)" font-size="59.5" text-anchor="end">0.8</text>
<text transform="translate(504.5,1308.0) scale(1.0000,1)" font-size="59.5" text-anchor="end">0.9</text>
<text transform="translate(1302.5,2873.0) scale(1.0000,1)" font-size="60" text-anchor="middle">x</text>
<text transform="translate(422.0,2043.0) scale(1.0000,1)" font-size="63" text-anchor="middle">y</text>
</g>
<g clip-path="url(#lc)"><g filter="url(#vb)">
<rect x="645" y="1388" width="35" height="4.6" fill="url(#c0)"/>
<rect x="645" y="1392" width="35" height="4.6" fill="url(#c1)"/>
<rect x="633" y="1396" width="61" height="4.6" fill="url(#c2)"/>
<rect x="620" y="1400" width="91" height="4.6" fill="url(#c3)"/>
<rect x="612" y="1404" width="111" height="4.6" fill="url(#c4)"/>
<rect x="605" y="1408" width="129" height="4.6" fill="url(#c5)"/>
<rect x="600" y="1412" width="144" height="4.6" fill="url(#c6)"/>
<rect x="595" y="1416" width="158" height="4.6" fill="url(#c7)"/>
<rect x="591" y="1420" width="171" height="4.6" fill="url(#c8)"/>
<rect x="587" y="1424" width="183" height="4.6" fill="url(#c9)"/>
<rect x="583" y="1428" width="195" height="4.6" fill="url(#c10)"/>
<rect x="580" y="1432" width="206" height="4.6" fill="url(#c11)"/>
<rect x="577" y="1436" width="216" height="4.6" fill="url(#c12)"/>
<rect x="574" y="1440" width="226" height="4.6" fill="url(#c13)"/>
<rect x="572" y="1444" width="236" height="4.6" fill="url(#c14)"/>
<rect x="569" y="1448" width="246" height="4.6" fill="url(#c15)"/>
<rect x="567" y="1452" width="255" height="4.6" fill="url(#c16)"/>
<rect x="565" y="1456" width="263" height="4.6" fill="url(#c17)"/>
<rect x="563" y="1460" width="272" height="4.6" fill="url(#c18)"/>
<rect x="561" y="1464" width="280" height="4.6" fill="url(#c19)"/>
<rect x="559" y="1468" width="289" height="4.6" fill="url(#c20)"/>
<rect x="557" y="1472" width="297" height="4.6" fill="url(#c21)"/>
<rect x="555" y="1476" width="305" height="4.6" fill="url(#c22)"/>
<rect x="554" y="1480" width="313" height="4.6" fill="url(#c23)"/>
<rect x="552" y="1484" width="321" height="4.6" fill="url(#c24)"/>
<rect x="551" y="1488" width="327" height="4.6" fill="url(#c25)"/>
<rect x="549" y="1492" width="335" height="4.6" fill="url(#c26)"/>
<rect x="548" y="1496" width="342" height="4.6" fill="url(#c27)"/>
<rect x="547" y="1500" width="349" height="4.6" fill="url(#c28)"/>
<rect x="545" y="1504" width="356" height="4.6" fill="url(#c29)"/>
<rect x="544" y="1508" width="363" height="4.6" fill="url(#c30)"/>
<rect x="543" y="1512" width="370" height="4.6" fill="url(#c31)"/>
<rect x="542" y="1516" width="376" height="4.6" fill="url(#c32)"/>
<rect x="541" y="1520" width="382" height="4.6" fill="url(#c33)"/>
<rect x="540" y="1524" width="389" height="4.6" fill="url(#c34)"/>
<rect x="539" y="1528" width="395" height="4.6" fill="url(#c35)"/>
<rect x="538" y="1532" width="401" height="4.6" fill="url(#c36)"/>
<rect x="537" y="1536" width="408" height="4.6" fill="url(#c37)"/>
<rect x="536" y="1540" width="414" height="4.6" fill="url(#c38)"/>
<rect x="535" y="1544" width="420" height="4.6" fill="url(#c39)"/>
<rect x="534" y="1548" width="426" height="4.6" fill="url(#c40)"/>
<rect x="534" y="1552" width="431" height="4.6" fill="url(#c41)"/>
<rect x="533" y="1556" width="437" height="4.6" fill="url(#c42)"/>
<rect x="532" y="1560" width="443" height="4.6" fill="url(#c43)"/>
<rect x="531" y="1564" width="449" height="4.6" fill="url(#c44)"/>
<rect x="531" y="1568" width="454" height="4.6" fill="url(#c45)"/>
<rect x="530" y="1572" width="460" height="4.6" fill="url(#c46)"/>
<rect x="529" y="1576" width="466" height="4.6" fill="url(#c47)"/>
<rect x="529" y="1580" width="471" height="4.6" fill="url(#c48)"/>
<rect x="528" y="1584" width="476" height="4.6" fill="url(#c49)"/>
<rect x="528" y="1588" width="481" height="4.6" fill="url(#c50)"/>
<rect x="527" y="1592" width="487" height="4.6" fill="url(#c51)"/>
<rect x="527" y="1596" width="492" height="4.6" fill="url(#c52)"/>
<rect x="526" y="1600" width="497" height="4.6" fill="url(#c53)"/>
<rect x="526" y="1604" width="502" height="4.6" fill="url(#c54)"/>
<rect x="525" y="1608" width="508" height="4.6" fill="url(#c55)"/>
<rect x="525" y="1612" width="512" height="4.6" fill="url(#c56)"/>
<rect x="524" y="1616" width="518" height="4.6" fill="url(#c57)"/>
<rect x="524" y="1620" width="523" height="4.6" fill="url(#c58)"/>
<rect x="524" y="1624" width="527" height="4.6" fill="url(#c59)"/>
<rect x="523" y="1628" width="533" height="4.6" fill="url(#c60)"/>
<rect x="523" y="1632" width="537" height="4.6" fill="url(#c61)"/>
<rect x="523" y="1636" width="542" height="4.6" fill="url(#c62)"/>
<rect x="522" y="1640" width="547" height="4.6" fill="url(#c63)"/>
<rect x="522" y="1644" width="552" height="4.6" fill="url(#c64)"/>
<rect x="522" y="1648" width="556" height="4.6" fill="url(#c65)"/>
<rect x="522" y="1652" width="561" height="4.6" fill="url(#c66)"/>
<rect x="521" y="1656" width="566" height="4.6" fill="url(#c67)"/>
<rect x="521" y="1660" width="571" height="4.6" fill="url(#c68)"/>
<rect x="521" y="1664" width="575" height="4.6" fill="url(#c69)"/>
<rect x="521" y="1668" width="580" height="4.6" fill="url(#c70)"/>
<rect x="521" y="1672" width="584" height="4.6" fill="url(#c71)"/>
<rect x="520" y="1676" width="590" height="4.6" fill="url(#c72)"/>
<rect x="520" y="1680" width="594" height="4.6" fill="url(#c73)"/>
<rect x="520" y="1684" width="598" height="4.6" fill="url(#c74)"/>
<rect x="520" y="1688" width="603" height="4.6" fill="url(#c75)"/>
<rect x="520" y="1692" width="607" height="4.6" fill="url(#c76)"/>
<rect x="520" y="1696" width="612" height="4.6" fill="url(#c77)"/>
<rect x="520" y="1700" width="616" height="4.6" fill="url(#c78)"/>
<rect x="520" y="1704" width="620" height="4.6" fill="url(#c79)"/>
<rect x="520" y="1708" width="625" height="4.6" fill="url(#c80)"/>
<rect x="520" y="1712" width="629" height="4.6" fill="url(#c81)"/>
<rect x="520" y="1716" width="633" height="4.6" fill="url(#c82)"/>
<rect x="520" y="1720" width="638" height="4.6" fill="url(#c83)"/>
<rect x="520" y="1724" width="642" height="4.6" fill="url(#c84)"/>
<rect x="520" y="1728" width="646" height="4.6" fill="url(#c85)"/>
<rect x="520" y="1732" width="651" height="4.6" fill="url(#c86)"/>
<rect x="520" y="1736" width="655" height="4.6" fill="url(#c87)"/>
<rect x="520" y="1740" width="659" height="4.6" fill="url(#c88)"/>
<rect x="520" y="1744" width="664" height="4.6" fill="url(#c89)"/>
<rect x="520" y="1748" width="668" height="4.6" fill="url(#c90)"/>
<rect x="520" y="1752" width="672" height="4.6" fill="url(#c91)"/>
<rect x="520" y="1756" width="677" height="4.6" fill="url(#c92)"/>
<rect x="520" y="1760" width="681" height="4.6" fill="url(#c93)"/>
<rect x="520" y="1764" width="685" height="4.6" fill="url(#c94)"/>
<rect x="520" y="1768" width="689" height="4.6" fill="url(#c95)"/>
<rect x="520" y="1772" width="694" height="4.6" fill="url(#c96)"/>
<rect x="520" y="1776" width="698" height="4.6" fill="url(#c97)"/>
<rect x="520" y="1780" width="702" height="4.6" fill="url(#c98)"/>
<rect x="521" y="1784" width="706" height="4.6" fill="url(#c99)"/>
<rect x="521" y="1788" width="710" height="4.6" fill="url(#c100)"/>
<rect x="521" y="1792" width="714" height="4.6" fill="url(#c101)"/>
<rect x="521" y="1796" width="718" height="4.6" fill="url(#c102)"/>
<rect x="521" y="1800" width="723" height="4.6" fill="url(#c103)"/>
<rect x="521" y="1804" width="727" height="4.6" fill="url(#c104)"/>
<rect x="522" y="1808" width="730" height="4.6" fill="url(#c105)"/>
<rect x="522" y="1812" width="734" height="4.6" fill="url(#c106)"/>
<rect x="522" y="1816" width="739" height="4.6" fill="url(#c107)"/>
<rect x="522" y="1820" width="743" height="4.6" fill="url(#c108)"/>
<rect x="523" y="1824" width="746" height="4.6" fill="url(#c109)"/>
<rect x="523" y="1828" width="750" height="4.6" fill="url(#c110)"/>
<rect x="523" y="1832" width="755" height="4.6" fill="url(#c111)"/>
<rect x="523" y="1836" width="759" height="4.6" fill="url(#c112)"/>
<rect x="524" y="1840" width="762" height="4.6" fill="url(#c113)"/>
<rect x="524" y="1844" width="766" height="4.6" fill="url(#c114)"/>
<rect x="524" y="1848" width="771" height="4.6" fill="url(#c115)"/>
<rect x="524" y="1852" width="775" height="4.6" fill="url(#c116)"/>
<rect x="525" y="1856" width="778" height="4.6" fill="url(#c117)"/>
<rect x="525" y="1860" width="782" height="4.6" fill="url(#c118)"/>
<rect x="525" y="1864" width="786" height="4.6" fill="url(#c119)"/>
<rect x="526" y="1868" width="790" height="4.6" fill="url(#c120)"/>
<rect x="526" y="1872" width="794" height="4.6" fill="url(#c121)"/>
<rect x="526" y="1876" width="798" height="4.6" fill="url(#c122)"/>
<rect x="526" y="1880" width="802" height="4.6" fill="url(#c123)"/>
<rect x="527" y="1884" width="806" height="4.6" fill="url(#c124)"/>
<rect x="527" y="1888" width="810" height="4.6" fill="url(#c125)"/>
<rect x="528" y="1892" width="813" height="4.6" fill="url(#c126)"/>
<rect x="528" y="1896" width="817" height="4.6" fill="url(#c127)"/>
<rect x="528" y="1900" width="821" height="4.6" fill="url(#c128)"/>
<rect x="529" y="1904" width="825" height="4.6" fill="url(#c129)"/>
<rect x="529" y="1908" width="829" height="4.6" fill="url(#c130)"/>
<rect x="529" y="1912" width="833" height="4.6" fill="url(#c131)"/>
<rect x="530" y="1916" width="836" height="4.6" fill="url(#c132)"/>
<rect x="530" y="1920" width="840" height="4.6" fill="url(#c133)"/>
<rect x="531" y="1924" width="844" height="4.6" fill="url(#c134)"/>
<rect x="531" y="1928" width="848" height="4.6" fill="url(#c135)"/>
<rect x="531" y="1932" width="852" height="4.6" fill="url(#c136)"/>
<rect x="532" y="1936" width="855" height="4.6" fill="url(#c137)"/>
<rect x="532" y="1940" width="859" height="4.6" fill="url(#c138)"/>
<rect x="533" y="1944" width="863" height="4.6" fill="url(#c139)"/>
<rect x="533" y="1948" width="867" height="4.6" fill="url(#c140)"/>
<rect x="534" y="1952" width="870" height="4.6" fill="url(#c141)"/>
<rect x="534" y="1956" width="874" height="4.6" fill="url(#c142)"/>
<rect x="534" y="1960" width="878" height="4.6" fill="url(#c143)"/>
<rect x="535" y="1964" width="882" height="4.6" fill="url(#c144)"/>
<rect x="535" y="1968" width="886" height="4.6" fill="url(#c145)"/>
<rect x="536" y="1972" width="889" height="4.6" fill="url(#c146)"/>
<rect x="536" y="1976" width="893" height="4.6" fill="url(#c147)"/>
<rect x="537" y="1980" width="896" height="4.6" fill="url(#c148)"/>
<rect x="537" y="1984" width="901" height="4.6" fill="url(#c149)"/>
<rect x="538" y="1988" width="904" height="4.6" fill="url(#c150)"/>
<rect x="538" y="1992" width="908" height="4.6" fill="url(#c151)"/>
<rect x="539" y="1996" width="911" height="4.6" fill="url(#c152)"/>
<rect x="539" y="2000" width="915" height="4.6" fill="url(#c153)"/>
<rect x="540" y="2004" width="919" height="4.6" fill="url(#c154)"/>
<rect x="540" y="2008" width="923" height="4.6" fill="url(#c155)"/>
<rect x="541" y="2012" width="926" height="4.6" fill="url(#c156)"/>
<rect x="542" y="2016" width="929" height="4.6" fill="url(#c157)"/>
<rect x="542" y="2020" width="933" height="4.6" fill="url(#c158)"/>
<rect x="543" y="2024" width="937" height="4.6" fill="url(#c159)"/>
<rect x="543" y="2028" width="941" height="4.6" fill="url(#c160)"/>
<rect x="544" y="2032" width="944" height="4.6" fill="url(#c161)"/>
<rect x="544" y="2036" width="948" height="4.6" fill="url(#c162)"/>
<rect x="545" y="2040" width="951" height="4.6" fill="url(#c163)"/>
<rect x="545" y="2044" width="956" height="4.6" fill="url(#c164)"/>
<rect x="546" y="2048" width="959" height="4.6" fill="url(#c165)"/>
<rect x="547" y="2052" width="962" height="4.6" fill="url(#c166)"/>
<rect x="547" y="2056" width="966" height="4.6" fill="url(#c167)"/>
<rect x="548" y="2060" width="969" height="4.6" fill="url(#c168)"/>
<rect x="548" y="2064" width="974" height="4.6" fill="url(#c169)"/>
<rect x="549" y="2068" width="977" height="4.6" fill="url(#c170)"/>
<rect x="550" y="2072" width="980" height="4.6" fill="url(#c171)"/>
<rect x="550" y="2076" width="984" height="4.6" fill="url(#c172)"/>
<rect x="551" y="2080" width="988" height="4.6" fill="url(#c173)"/>
<rect x="551" y="2084" width="992" height="4.6" fill="url(#c174)"/>
<rect x="552" y="2088" width="995" height="4.6" fill="url(#c175)"/>
<rect x="553" y="2092" width="998" height="4.6" fill="url(#c176)"/>
<rect x="553" y="2096" width="1002" height="4.6" fill="url(#c177)"/>
<rect x="554" y="2100" width="1005" height="4.6" fill="url(#c178)"/>
<rect x="555" y="2104" width="1009" height="4.6" fill="url(#c179)"/>
<rect x="555" y="2108" width="1013" height="4.6" fill="url(#c180)"/>
<rect x="556" y="2112" width="1016" height="4.6" fill="url(#c181)"/>
<rect x="557" y="2116" width="1019" height="4.6" fill="url(#c182)"/>
<rect x="557" y="2120" width="1023" height="4.6" fill="url(#c183)"/>
<rect x="558" y="2124" width="1027" height="4.6" fill="url(#c184)"/>
<rect x="559" y="2128" width="1030" height="4.6" fill="url(#c185)"/>
<rect x="559" y="2132" width="1034" height="4.6" fill="url(#c186)"/>
<rect x="560" y="2136" width="1037" height="4.6" fill="url(#c187)"/>
<rect x="561" y="2140" width="1040" height="4.6" fill="url(#c188)"/>
<rect x="562" y="2144" width="1044" height="4.6" fill="url(#c189)"/>
<rect x="562" y="2148" width="1048" height="4.6" fill="url(#c190)"/>
<rect x="563" y="2152" width="1051" height="4.6" fill="url(#c191)"/>
<rect x="564" y="2156" width="1054" height="4.6" fill="url(#c192)"/>
<rect x="564" y="2160" width="1058" height="4.6" fill="url(#c193)"/>
<rect x="565" y="2164" width="1062" height="4.6" fill="url(#c194)"/>
<rect x="566" y="2168" width="1065" height="4.6" fill="url(#c195)"/>
<rect x="567" y="2172" width="1068" height="4.6" fill="url(#c196)"/>
<rect x="567" y="2176" width="1072" height="4.6" fill="url(#c197)"/>
<rect x="568" y="2180" width="1075" height="4.6" fill="url(#c198)"/>
<rect x="569" y="2184" width="1079" height="4.6" fill="url(#c199)"/>
<rect x="570" y="2188" width="1082" height="4.6" fill="url(#c200)"/>
<rect x="570" y="2192" width="1086" height="4.6" fill="url(#c201)"/>
<rect x="571" y="2196" width="1089" height="4.6" fill="url(#c202)"/>
<rect x="572" y="2200" width="1092" height="4.6" fill="url(#c203)"/>
<rect x="573" y="2204" width="1096" height="4.6" fill="url(#c204)"/>
<rect x="574" y="2208" width="1099" height="4.6" fill="url(#c205)"/>
<rect x="574" y="2212" width="1103" height="4.6" fill="url(#c206)"/>
<rect x="575" y="2216" width="1106" height="4.6" fill="url(#c207)"/>
<rect x="576" y="2220" width="1110" height="4.6" fill="url(#c208)"/>
<rect x="577" y="2224" width="1113" height="4.6" fill="url(#c209)"/>
<rect x="578" y="2228" width="1116" height="4.6" fill="url(#c210)"/>
<rect x="578" y="2232" width="1120" height="4.6" fill="url(#c211)"/>
<rect x="579" y="2236" width="1123" height="4.6" fill="url(#c212)"/>
<rect x="580" y="2240" width="1127" height="4.6" fill="url(#c213)"/>
<rect x="581" y="2244" width="1130" height="4.6" fill="url(#c214)"/>
<rect x="582" y="2248" width="1133" height="4.6" fill="url(#c215)"/>
<rect x="583" y="2252" width="1136" height="4.6" fill="url(#c216)"/>
<rect x="583" y="2256" width="1140" height="4.6" fill="url(#c217)"/>
<rect x="584" y="2260" width="1144" height="4.6" fill="url(#c218)"/>
<rect x="585" y="2264" width="1147" height="4.6" fill="url(#c219)"/>
<rect x="586" y="2268" width="1150" height="4.6" fill="url(#c220)"/>
<rect x="587" y="2272" width="1153" height="4.6" fill="url(#c221)"/>
<rect x="588" y="2276" width="1156" height="4.6" fill="url(#c222)"/>
<rect x="589" y="2280" width="1160" height="4.6" fill="url(#c223)"/>
<rect x="590" y="2284" width="1163" height="4.6" fill="url(#c224)"/>
<rect x="590" y="2288" width="1167" height="4.6" fill="url(#c225)"/>
<rect x="591" y="2292" width="1170" height="4.6" fill="url(#c226)"/>
<rect x="592" y="2296" width="1173" height="4.6" fill="url(#c227)"/>
<rect x="593" y="2300" width="1177" height="4.6" fill="url(#c228)"/>
<rect x="594" y="2304" width="1180" height="4.6" fill="url(#c229)"/>
<rect x="595" y="2308" width="1183" height="4.6" fill="url(#c230)"/>
<rect x="596" y="2312" width="1186" height="4.6" fill="url(#c231)"/>
<rect x="597" y="2316" width="1189" height="4.6" fill="url(#c232)"/>
<rect x="598" y="2320" width="1193" height="4.6" fill="url(#c233)"/>
<rect x="599" y="2324" width="1196" height="4.6" fill="url(#c234)"/>
<rect x="600" y="2328" width="1199" height="4.6" fill="url(#c235)"/>
<rect x="601" y="2332" width="1202" height="4.6" fill="url(#c236)"/>
<rect x="601" y="2336" width="1206" height="4.6" fill="url(#c237)"/>
<rect x="602" y="2340" width="1210" height="4.6" fill="url(#c238)"/>
<rect x="603" y="2344" width="1210" height="4.6" fill="url(#c239)"/>
<rect x="604" y="2348" width="1205" height="4.6" fill="url(#c240)"/>
<rect x="605" y="2352" width="1195" height="4.6" fill="url(#c241)"/>
<rect x="606" y="2356" width="1185" height="4.6" fill="url(#c242)"/>
<rect x="607" y="2360" width="1175" height="4.6" fill="url(#c243)"/>
<rect x="608" y="2364" width="1165" height="4.6" fill="url(#c244)"/>
<rect x="609" y="2368" width="1155" height="4.6" fill="url(#c245)"/>
<rect x="610" y="2372" width="1145" height="4.6" fill="url(#c246)"/>
<rect x="611" y="2376" width="1135" height="4.6" fill="url(#c247)"/>
<rect x="612" y="2380" width="1125" height="4.6" fill="url(#c248)"/>
<rect x="613" y="2384" width="1115" height="4.6" fill="url(#c249)"/>
<rect x="614" y="2388" width="1105" height="4.6" fill="url(#c250)"/>
<rect x="616" y="2392" width="1094" height="4.6" fill="url(#c251)"/>
<rect x="617" y="2396" width="1084" height="4.6" fill="url(#c252)"/>
<rect x="618" y="2400" width="1074" height="4.6" fill="url(#c253)"/>
<rect x="619" y="2404" width="1064" height="4.6" fill="url(#c254)"/>
<rect x="620" y="2408" width="1054" height="4.6" fill="url(#c255)"/>
<rect x="621" y="2412" width="1044" height="4.6" fill="url(#c256)"/>
<rect x="622" y="2416" width="1034" height="4.6" fill="url(#c257)"/>
<rect x="623" y="2420" width="1024" height="4.6" fill="url(#c258)"/>
<rect x="624" y="2424" width="1014" height="4.6" fill="url(#c259)"/>
<rect x="625" y="2428" width="1004" height="4.6" fill="url(#c260)"/>
<rect x="627" y="2432" width="993" height="4.6" fill="url(#c261)"/>
<rect x="628" y="2436" width="983" height="4.6" fill="url(#c262)"/>
<rect x="629" y="2440" width="973" height="4.6" fill="url(#c263)"/>
<rect x="630" y="2444" width="963" height="4.6" fill="url(#c264)"/>
<rect x="631" y="2448" width="953" height="4.6" fill="url(#c265)"/>
<rect x="632" y="2452" width="943" height="4.6" fill="url(#c266)"/>
<rect x="634" y="2456" width="932" height="4.6" fill="url(#c267)"/>
<rect x="635" y="2460" width="922" height="4.6" fill="url(#c268)"/>
<rect x="636" y="2464" width="912" height="4.6" fill="url(#c269)"/>
<rect x="637" y="2468" width="902" height="4.6" fill="url(#c270)"/>
<rect x="639" y="2472" width="891" height="4.6" fill="url(#c271)"/>
<rect x="640" y="2476" width="881" height="4.6" fill="url(#c272)"/>
<rect x="641" y="2480" width="871" height="4.6" fill="url(#c273)"/>
<rect x="643" y="2484" width="860" height="4.6" fill="url(#c274)"/>
<rect x="644" y="2488" width="850" height="4.6" fill="url(#c275)"/>
<rect x="645" y="2492" width="840" height="4.6" fill="url(#c276)"/>
<rect x="647" y="2496" width="829" height="4.6" fill="url(#c277)"/>
<rect x="648" y="2500" width="819" height="4.6" fill="url(#c278)"/>
<rect x="649" y="2504" width="809" height="4.6" fill="url(#c279)"/>
<rect x="651" y="2508" width="798" height="4.6" fill="url(#c280)"/>
<rect x="652" y="2512" width="788" height="4.6" fill="url(#c281)"/>
<rect x="653" y="2516" width="778" height="4.6" fill="url(#c282)"/>
<rect x="655" y="2520" width="767" height="4.6" fill="url(#c283)"/>
<rect x="656" y="2524" width="757" height="4.6" fill="url(#c284)"/>
<rect x="658" y="2528" width="746" height="4.6" fill="url(#c285)"/>
<rect x="659" y="2532" width="736" height="4.6" fill="url(#c286)"/>
<rect x="661" y="2536" width="725" height="4.6" fill="url(#c287)"/>
<rect x="662" y="2540" width="715" height="4.6" fill="url(#c288)"/>
<rect x="664" y="2544" width="704" height="4.6" fill="url(#c289)"/>
<rect x="665" y="2548" width="694" height="4.6" fill="url(#c290)"/>
<rect x="667" y="2552" width="683" height="4.6" fill="url(#c291)"/>
<rect x="668" y="2556" width="673" height="4.6" fill="url(#c292)"/>
<rect x="670" y="2560" width="662" height="4.6" fill="url(#c293)"/>
<rect x="671" y="2564" width="652" height="4.6" fill="url(#c294)"/>
<rect x="673" y="2568" width="641" height="4.6" fill="url(#c295)"/>
<rect x="674" y="2572" width="631" height="4.6" fill="url(#c296)"/>
<rect x="676" y="2576" width="620" height="4.6" fill="url(#c297)"/>
<rect x="677" y="2580" width="609" height="4.6" fill="url(#c298)"/>
<rect x="679" y="2584" width="598" height="4.6" fill="url(#c299)"/>
<rect x="681" y="2588" width="587" height="4.6" fill="url(#c300)"/>
<rect x="682" y="2592" width="577" height="4.6" fill="url(#c301)"/>
<rect x="684" y="2596" width="566" height="4.6" fill="url(#c302)"/>
<rect x="685" y="2600" width="556" height="4.6" fill="url(#c303)"/>
<rect x="687" y="2604" width="545" height="4.6" fill="url(#c304)"/>
<rect x="689" y="2608" width="534" height="4.6" fill="url(#c305)"/>
<rect x="690" y="2612" width="524" height="4.6" fill="url(#c306)"/>
<rect x="692" y="2616" width="513" height="4.6" fill="url(#c307)"/>
<rect x="694" y="2620" width="502" height="4.6" fill="url(#c308)"/>
<rect x="696" y="2624" width="491" height="4.6" fill="url(#c309)"/>
<rect x="697" y="2628" width="481" height="4.6" fill="url(#c310)"/>
<rect x="699" y="2632" width="470" height="4.6" fill="url(#c311)"/>
<rect x="701" y="2636" width="459" height="4.6" fill="url(#c312)"/>
<rect x="703" y="2640" width="448" height="4.6" fill="url(#c313)"/>
<rect x="704" y="2644" width="438" height="4.6" fill="url(#c314)"/>
<rect x="706" y="2648" width="427" height="4.6" fill="url(#c315)"/>
<rect x="708" y="2652" width="416" height="4.6" fill="url(#c316)"/>
<rect x="710" y="2656" width="405" height="4.6" fill="url(#c317)"/>
<rect x="712" y="2660" width="394" height="4.6" fill="url(#c318)"/>
<rect x="714" y="2664" width="383" height="4.6" fill="url(#c319)"/>
<rect x="716" y="2668" width="372" height="4.6" fill="url(#c320)"/>
<rect x="718" y="2672" width="361" height="4.6" fill="url(#c321)"/>
<rect x="721" y="2676" width="349" height="4.6" fill="url(#c322)"/>
<rect x="723" y="2680" width="338" height="4.6" fill="url(#c323)"/>
<rect x="725" y="2684" width="327" height="4.6" fill="url(#c324)"/>
<rect x="727" y="2688" width="316" height="4.6" fill="url(#c325)"/>
<rect x="730" y="2692" width="304" height="4.6" fill="url(#c326)"/>
<rect x="732" y="2696" width="293" height="4.6" fill="url(#c327)"/>
<rect x="735" y="2700" width="281" height="4.6" fill="url(#c328)"/>
<rect x="737" y="2704" width="270" height="4.6" fill="url(#c329)"/>
<rect x="740" y="2708" width="258" height="4.6" fill="url(#c330)"/>
<rect x="742" y="2712" width="247" height="4.6" fill="url(#c331)"/>
<rect x="745" y="2716" width="235" height="4.6" fill="url(#c332)"/>
<rect x="748" y="2720" width="223" height="4.6" fill="url(#c333)"/>
<rect x="751" y="2724" width="211" height="4.6" fill="url(#c334)"/>
<rect x="754" y="2728" width="199" height="4.6" fill="url(#c335)"/>
<rect x="758" y="2732" width="186" height="4.6" fill="url(#c336)"/>
<rect x="762" y="2736" width="173" height="4.6" fill="url(#c337)"/>
<rect x="766" y="2740" width="160" height="4.6" fill="url(#c338)"/>
<rect x="770" y="2744" width="147" height="4.6" fill="url(#c339)"/>
<rect x="774" y="2748" width="134" height="4.6" fill="url(#c340)"/>
<rect x="778" y="2752" width="121" height="4.6" fill="url(#c341)"/>
<rect x="783" y="2756" width="107" height="4.6" fill="url(#c342)"/>
<rect x="788" y="2760" width="93" height="4.6" fill="url(#c343)"/>
<rect x="793" y="2764" width="79" height="4.6" fill="url(#c344)"/>
<rect x="797" y="2768" width="66" height="4.6" fill="url(#c345)"/>
<rect x="802" y="2772" width="52" height="4.6" fill="url(#c346)"/>
<rect x="807" y="2776" width="38" height="4.6" fill="url(#c347)"/>
<rect x="813" y="2780" width="23" height="4.6" fill="url(#c348)"/>
<rect x="813" y="2784" width="23" height="4.6" fill="url(#c349)"/>
<rect x="813" y="2788" width="23" height="4.6" fill="url(#c350)"/>
</g></g>
<path d="M826.3,2780.0 826.3,2779.9 826.3,2779.9 826.3,2779.9 826.2,2779.9 826.1,2780.0 826.1,2780.0 826.0,2780.0 825.9,2780.1 825.9,2780.1 825.8,2780.1 825.7,2780.1 825.7,2780.1 825.6,2780.1 825.5,2780.1 825.4,2780.1 825.4,2780.2 825.2,2780.2 825.1,2780.2 825.0,2780.3 824.9,2780.3 824.8,2780.3 824.7,2780.3 824.6,2780.3 824.5,2780.3 824.4,2780.3 824.3,2780.3 824.1,2780.3 824.0,2780.3 823.9,2780.3 823.7,2780.3 823.5,2780.3 823.4,2780.3 823.2,2780.3 823.0,2780.3 822.8,2780.3 822.6,2780.3 822.4,2780.2 822.2,2780.1 821.9,2780.0 821.6,2779.8 821.3,2779.6 820.9,2779.4 820.5,2779.2 820.1,2778.9 819.7,2778.6 819.3,2778.3 818.8,2778.0 818.3,2777.6 817.8,2777.2 817.2,2776.8 816.6,2776.3 816.0,2775.8 815.3,2775.2 814.5,2774.6 813.8,2774.0 813.0,2773.3 812.1,2772.5 811.3,2771.8 810.4,2771.0 809.4,2770.1 808.4,2769.3 807.3,2768.4 806.2,2767.4 804.9,2766.4 803.6,2765.3 802.2,2764.1 800.7,2762.9 799.2,2761.6 797.5,2760.2 795.8,2758.8 794.0,2757.3 792.1,2755.8 790.2,2754.1 788.2,2752.3 786.0,2750.5 783.8,2748.4 781.4,2746.2 779.0,2743.9 776.4,2741.4 773.8,2738.8 771.1,2736.0 768.3,2733.0 765.4,2729.7 762.3,2726.0 759.0,2721.8 755.4,2717.0 751.7,2711.7 747.7,2705.8 743.5,2699.2 739.1,2691.9 734.5,2684.0 729.6,2675.3 724.6,2665.7 719.3,2655.2 713.8,2643.6 708.0,2630.9 702.0,2616.9 695.6,2601.7 688.9,2585.1 681.9,2567.1 674.4,2547.6 666.7,2526.6 658.7,2504.1 650.6,2479.8 642.4,2453.7 634.3,2425.9 626.1,2396.2 618.0,2364.8 609.9,2331.5 601.8,2296.5 593.7,2259.8 585.8,2221.6 578.1,2182.1 570.6,2141.6 563.6,2100.3 557.0,2058.5 551.0,2016.4 545.7,1974.2 540.9,1932.3 536.9,1890.8 533.7,1850.0 531.2,1810.1 529.7,1771.2 529.1,1733.4 529.4,1696.7 530.8,1661.5 533.2,1627.8 536.6,1595.8 541.2,1565.7 546.8,1537.7 553.6,1512.0 561.5,1488.7 570.3,1468.0 579.9,1450.0 590.5,1434.7 601.7,1422.3 613.6,1412.6 626.0,1405.6 638.9,1400.9 652.2,1398.4 665.8,1397.9 679.5,1399.2 693.5,1402.0 707.6,1406.0 721.8,1411.0 736.1,1416.8 750.3,1423.2 764.5,1430.1 778.6,1437.3 792.5,1444.9 806.2,1452.6 819.6,1460.5 832.9,1468.6 846.1,1476.9 859.1,1485.4 872.0,1494.1 884.9,1503.0 897.7,1512.1 910.4,1521.4 923.1,1530.9 935.8,1540.6 948.5,1550.4 961.1,1560.4 973.7,1570.6 986.3,1580.9 998.8,1591.3 1011.3,1601.9 1023.8,1612.6 1036.3,1623.4 1048.7,1634.2 1061.2,1645.2 1073.6,1656.3 1086.1,1667.4 1098.5,1678.6 1111.0,1689.9 1123.5,1701.3 1136.0,1712.7 1148.5,1724.2 1161.0,1735.7 1173.5,1747.3 1185.9,1758.9 1198.4,1770.5 1210.8,1782.1 1223.2,1793.8 1235.6,1805.4 1248.0,1817.1 1260.4,1828.7 1272.7,1840.4 1285.0,1852.0 1297.3,1863.6 1309.6,1875.2 1321.7,1886.7 1333.8,1898.3 1345.9,1909.7 1357.9,1921.1 1369.8,1932.5 1381.6,1943.8 1393.4,1955.0 1405.1,1966.1 1416.7,1977.1 1428.1,1988.1 1439.5,1999.0 1450.8,2009.7 1462.0,2020.3 1473.0,2030.8 1483.9,2041.2 1494.7,2051.4 1505.3,2061.4 1515.7,2071.4 1526.0,2081.2 1536.1,2090.8 1546.1,2100.3 1555.7,2109.5 1565.2,2118.6 1574.4,2127.3 1583.2,2135.8 1591.9,2144.0 1600.3,2152.0 1608.4,2159.8 1616.4,2167.3 1624.2,2174.8 1631.8,2182.0 1639.3,2189.1 1646.5,2195.9 1653.4,2202.5 1660.0,2208.8 1666.4,2214.8 1672.6,2220.6 1678.4,2226.2 1684.1,2231.5 1689.5,2236.7 1694.7,2241.6 1699.7,2246.4 1704.5,2251.0 1709.0,2255.4 1713.4,2259.5 1717.5,2263.5 1721.5,2267.3 1725.3,2270.9 1728.9,2274.4 1732.4,2277.6 1735.7,2280.8 1738.9,2283.8 1741.9,2286.6 1744.8,2289.4 1747.6,2292.0 1750.2,2294.5 1752.7,2296.9 1755.2,2299.3 1757.5,2301.5 1759.8,2303.7 1762.0,2305.8 1764.1,2307.9 1766.2,2309.8 1768.2,2311.7 1770.1,2313.5 1771.9,2315.3 1773.6,2316.9 1775.3,2318.5 1776.9,2320.0 1778.4,2321.5 1779.9,2322.8 1781.3,2324.1 1782.6,2325.4 1783.9,2326.5 1785.0,2327.6 1786.2,2328.7 1787.2,2329.7 1788.2,2330.6 1789.1,2331.5 1790.0,2332.4 1790.8,2333.2 1791.6,2334.0 1792.4,2334.7 1793.1,2335.4 1793.8,2336.0 1794.4,2336.6 1795.0,2337.2 1795.6,2337.7 1796.1,2338.2 1796.5,2338.6 1796.9,2339.0 1797.3,2339.4 1797.7,2339.7 1798.0,2340.0 1798.3,2340.4 1798.7,2340.7 1799.0,2341.0 1799.3,2341.3 1799.6,2341.5 1799.8,2341.8 1800.1,2342.0 1800.3,2342.3 1800.6,2342.5 1800.8,2342.7 1801.0,2342.9 1801.3,2343.2 1801.5,2343.4 1801.8,2343.6 1802.0,2343.9 1802.2,2344.1 1802.5,2344.3 1802.7,2344.5 1802.9,2344.7 1803.1,2344.9 1803.2,2345.0 1803.4,2345.2 1803.5,2345.3 1803.7,2345.4 1803.8,2345.5 1803.9,2345.6 1803.9,2345.7 1804.0,2345.8 1804.1,2345.8 1804.1,2345.9 1804.2,2345.9 1804.2,2346.0 1804.2,2346.0 1804.3,2346.0 1804.3,2346.0Z" fill="none" stroke="#000" stroke-width="3.4" stroke-linejoin="round"/>
<path d="M826.3,2780.0 L802.3,2778.8 M826.1,2780.0 L832.6,2791.3 M825.8,2780.1 L830.0,2803.8 M825.4,2780.1 L827.8,2792.9 M824.9,2780.3 L830.0,2803.7 M824.4,2780.3 L823.5,2793.3 M823.7,2780.3 L825.4,2804.2 M822.8,2780.3 L820.5,2793.1 M821.6,2779.8 L810.3,2801.0 M819.7,2778.6 L812.3,2789.4 M817.2,2776.8 L802.5,2795.7 M813.8,2774.0 L805.3,2783.8 M809.4,2770.1 L793.7,2788.3 M803.6,2765.3 L795.3,2775.3 M795.8,2758.8 L780.5,2777.3 M786.0,2750.5 L777.4,2760.1 M773.8,2738.8 L756.3,2756.0 M759.0,2721.8 L748.7,2729.7 M739.1,2691.9 L718.0,2704.5 M713.8,2643.6 L702.0,2649.1 M681.9,2567.1 L659.0,2575.9 M642.4,2453.7 L630.0,2457.5 M601.8,2296.5 L577.9,2301.9 M563.6,2100.3 L550.8,2102.4 M536.9,1890.8 L512.5,1892.9 M529.4,1696.7 L516.4,1696.4 M546.8,1537.7 L523.5,1532.3 M590.5,1434.7 L580.2,1426.7 M652.2,1398.4 L649.6,1374.0 M721.8,1411.0 L726.5,1398.9 M792.5,1444.9 L804.1,1423.9 M859.1,1485.4 L866.3,1474.5 M923.1,1530.9 L937.9,1511.3 M986.3,1580.9 L994.6,1570.9 M1048.7,1634.2 L1064.6,1616.2 M1111.0,1689.9 L1119.8,1680.3 M1173.5,1747.3 L1190.2,1729.3 M1235.6,1805.4 L1244.5,1796.0 M1297.3,1863.6 L1313.8,1846.2 M1357.9,1921.1 L1366.8,1911.7 M1416.7,1977.1 L1433.6,1959.4 M1473.0,2030.8 L1482.0,2021.4 M1526.0,2081.2 L1542.6,2063.8 M1574.4,2127.3 L1583.3,2117.9 M1616.4,2167.3 L1633.3,2149.6 M1653.4,2202.5 L1662.3,2193.1 M1684.1,2231.5 L1700.6,2214.1 M1709.0,2255.4 L1718.0,2246.0 M1728.9,2274.4 L1745.8,2256.6 M1744.8,2289.4 L1753.7,2279.9 M1757.5,2301.5 L1774.1,2284.2 M1768.2,2311.7 L1777.2,2302.3 M1776.9,2320.0 L1793.4,2302.6 M1783.9,2326.5 L1792.8,2317.1 M1789.1,2331.5 L1805.7,2314.2 M1793.1,2335.4 L1802.1,2326.0 M1796.1,2338.2 L1812.7,2320.9 M1798.0,2340.0 L1807.0,2330.6 M1799.6,2341.5 L1816.2,2324.2 M1800.8,2342.7 L1809.8,2333.3 M1802.0,2343.9 L1818.6,2326.5 M1803.1,2344.9 L1812.0,2335.5 M1803.8,2345.5 L1820.3,2328.2 M1804.1,2345.9 L1813.1,2336.5 M1804.3,2346.0 L1820.9,2328.7" stroke="#000" stroke-width="3.6" fill="none"/>
<g fill="#1a1aff">
<text transform="translate(649.4,1362.5) scale(1.0000,1)" font-size="59.5" text-anchor="middle">520</text>
<text transform="translate(975.0,1502.5) scale(1.0000,1)" font-size="59.5" text-anchor="middle">540</text>
<text transform="translate(1229.5,1717.3) scale(1.0000,1)" font-size="59.5" text-anchor="middle">560</text>
<text transform="translate(1472.0,1954.0) scale(1.0000,1)" font-size="59.5" text-anchor="middle">580</text>
<text transform="translate(1674.0,2142.5) scale(1.0000,1)" font-size="59.5" text-anchor="middle">600</text>
<text transform="translate(1784.3,2247.0) scale(1.0000,1)" font-size="59.5" text-anchor="middle">620</text>
<text transform="translate(1874.0,2363.5) scale(1.0000,1)" font-size="59.5" text-anchor="middle">700</text>
<text transform="translate(461.0,1911.5) scale(1.0000,1)" font-size="59.5" text-anchor="middle">500</text>
<text transform="translate(564.0,2348.0) scale(1.0000,1)" font-size="59.5" text-anchor="middle">490</text>
<text transform="translate(610.5,2597.0) scale(1.0000,1)" font-size="59.5" text-anchor="middle">480</text>
<text transform="translate(669.0,2724.0) scale(1.0000,1)" font-size="59.5" text-anchor="middle">470</text>
<text transform="translate(705.5,2784.0) scale(1.0000,1)" font-size="64" text-anchor="middle">460</text>
<text transform="translate(892.0,2809.3) scale(1.0000,1)" font-size="59.5" text-anchor="middle">380</text>
</g>
<polygon points="749,1513.5 770.8,1491.5 792.6,1513.5 770.8,1535.5" fill="#ff0000"/>
<polygon points="896.3,2376.5 901.6,2392.7 918.6,2392.7 904.8,2402.8 910.1,2419.0 896.3,2409.0 882.5,2419.0 887.8,2402.8 874.0,2392.7 891.0,2392.7" fill="#ffff00"/>
<ellipse cx="1509.7" cy="2100" rx="20.5" ry="20.2" fill="#0070c0"/>
<polygon points="1519.8,2040.5 1499.5,2086 1542.3,2086" fill="#00b050"/>
<g fill="#111">
<text transform="translate(1330.0,1440.3) scale(1.0000,1)" font-size="85.2" text-anchor="start">I.</text>
<text transform="translate(1502.7,1440.3) scale(1.0000,1)" font-size="85.2" text-anchor="start">(0.2164, 0.2352)</text>
<text transform="translate(1330.0,1541.5) scale(1.0000,1)" font-size="85.2" text-anchor="start">II.</text>
<text transform="translate(1502.7,1541.5) scale(1.0000,1)" font-size="85.2" text-anchor="start">(0.1423, 0.7664)</text>
<text transform="translate(1330.0,1645.0) scale(1.0000,1)" font-size="85.2" text-anchor="start">III.</text>
<text transform="translate(1502.7,1645.0) scale(1.0000,1)" font-size="85.2" text-anchor="start">(0.5685, 0.4201)</text>
<text transform="translate(1330.0,1748.7) scale(1.0000,1)" font-size="85.2" text-anchor="start">IV.</text>
<text transform="translate(1502.7,1748.7) scale(1.0000,1)" font-size="85.2" text-anchor="start">(0.5691, 0.4294)</text>
</g>
<polygon points="1456.9,1377.0 1465.2,1402.6 1492.1,1402.6 1470.3,1418.4 1478.6,1443.9 1456.9,1428.1 1435.2,1443.9 1443.5,1418.4 1421.7,1402.6 1448.6,1402.6" fill="#ffff00"/>
<polygon points="1432.4,1513.2 1460.1,1485 1487.9,1513.2 1460.1,1541.4" fill="#ff0000"/>
<ellipse cx="1459.2" cy="1613.5" rx="26" ry="25.7" fill="#0070c0"/>
<polygon points="1465.2,1678.6 1437.4,1734.4 1493,1734.4" fill="#00b050"/>
</g>
<g font-family="'Liberation Serif','Times New Roman',serif" fill="#000" font-size="104">
<text transform="translate(49,139.8) scale(0.951,1)">(<tspan font-weight="bold">a</tspan>)</text>
<text transform="translate(859.5,135.9) scale(1.02,1)"><tspan font-size="97.5" dy="-5.5">(</tspan><tspan font-weight="bold" dy="5.5">b</tspan><tspan font-size="97.5" dy="-5.5">)</tspan></text>
<text transform="translate(230,1351.8) scale(0.949,1)">(<tspan font-weight="bold">c</tspan>)</text>
</g>
</svg></body></html>
